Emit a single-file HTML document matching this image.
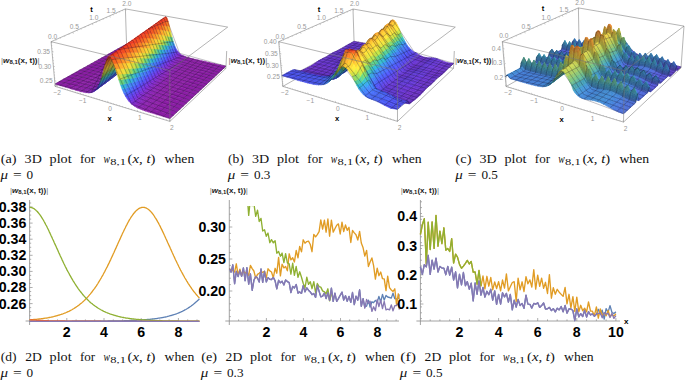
<!DOCTYPE html><html><head><meta charset="utf-8"><style>
*{margin:0;padding:0}
html,body{width:685px;height:380px;overflow:hidden;background:#fff}
body{position:relative;font-family:"Liberation Serif",serif;color:#000}
.cap{position:absolute;font-size:11.2px;line-height:16px;color:#1a1a1a}
.cap .l1{display:flex;justify-content:space-between;white-space:nowrap}
.cap sub{font-size:8px;vertical-align:0;position:relative;top:2.2px}
svg{position:absolute;left:0;top:0}
.t2{font-family:"Liberation Sans",sans-serif;font-weight:bold}
</style></head><body><svg width="685" height="380" viewBox="0 0 685 380"><style>.s path{fill:currentColor;stroke:currentColor;stroke-width:5;stroke-linejoin:round}.s .m{stroke:rgba(20,10,35,.58);stroke-width:4.6;fill:none}</style><path d="M125.4 8.9L126.6 46M55.2 86.4L126.6 46M225.9 68.4L126.6 46" stroke="#777" stroke-width="0.55" fill="none"/>
<g class=s transform="scale(.1)"><path color=#8c1ea6 d=M1237,457l44,10,29-17-44-10z />
<path color=#8c1ea6 d=M1207,473l45,10,29-16-44-10z />
<path color=#8c1ea6 d=M1176,490l45,11,31-18-45-10z />
<path color=#8c1ea6 d=M1145,507l46,11,30-17-45-11z />
<path color=#8c1ea6 d=M1114,525l45,11,32-18-46-11z />
<path color=#8c1ea6 d=M1081,543l46,11,32-18-45-11z />
<path color=#8c1ea6 d=M1048,562l46,11,33-19-46-11z />
<path color=#5050f7 d=M1732,486l13,26,26-9-13-22z />
<path color=#643ee8 d=M1745,512l12,20,26-12-12-17z />
<path color=#4670f5 d=M1719,454l13,32,26-5-12-29z />
<path color=#7231dd d=M1757,532l13,15,26-14-13-13z />
<path color=#379de3 d=M1707,413l12,41,27-2-13-37z />
<path color=#7c2ad1 d=M1770,547l12,11,26-14-12-11z />
<path color=#8327c6 d=M1782,558l13,10,26-16-13-8z />
<path color=#56c88c d=M1694,365l13,48,26,2-12-45z />
<path color=#8624bd d=M1795,568l13,7,26-17-13-6z />
<path color=#8c1ea6 d=M1015,580l46,12,33-19-46-11z />
<path color=#8922b6 d=M1808,575l13,6,25-18-12-5z />
<path color=#d0da3d d=M1681,312l13,53,27,5-13-51z />
<path color=#8a21b2 d=M1821,581l13,5,25-18-13-5z />
<path color=#fcbb2f d=M1669,259l12,53,27,7-12-53z />
<path color=#8b20ae d=M1834,586l12,4,26-18-13-4z />
<path color=#8b20ac d=M1846,590l13,4,26-18-13-4z />
<path color=#f97c24 d=M1656,215l13,44,27,7-13-50z />
<path color=#ef3720 d=M1630,183l13,5,28-7-13-15z />
<path color=#f14c20 d=M1643,188l13,27,27,1-12-35z />
<path color=#8b1faa d=M1859,594l13,4,25-19-12-3z />
<path color=#8c1ea6 d=M1061,592l47,11,33-19-47-11z />
<path color=#5a46f0 d=M1718,520l13,22,26-10-12-20z />
<path color=#4b5ff6 d=M1705,491l13,29,27-8-13-26z />
<path color=#6c37e2 d=M1731,542l12,18,27-13-13-15z />
<path color=#4183f4 d=M1692,454l13,37,27-5-13-32z />
<path color=#8c1fa9 d=M1872,598l13,4,25-19-13-4z />
<path color=#782cd8 d=M1743,560l13,13,26-15-12-11z />
<path color=#8028cb d=M1756,573l13,10,26-15-13-10z />
<path color=#31b6ca d=M1680,410l12,44,27,0-12-41z />
<path color=#8c1fa8 d=M1885,602l13,3,25-19-13-3z />
<path color=#8526c1 d=M1769,583l13,9,26-17-13-7z />
<path color=#91d45c d=M1667,359l13,51,27,3-13-48z />
<path color=#8c1ea6 d=M980,599l47,12,34-19-46-12z />
<path color=#8c1ea7 d=M1898,605l13,3,25-19-13-3z />
<path color=#8823ba d=M1782,592l13,7,26-18-13-6z />
<path color=#8c1ea7 d=M1911,608l14,3,24-19-13-3z />
<path color=#8922b4 d=M1795,599l13,5,26-18-13-5z />
<path color=#f8d935 d=M1654,305l13,54,27,6-13-53z />
<path color=#8a21b0 d=M1808,604l13,5,25-19-12-4z />
<path color=#8c1ea7 d=M1925,611l13,3,24-19-13-3z />
<path color=#fea12a d=M1641,255l13,50,27,7-12-53z />
<path color=#8b20ad d=M1821,609l13,4,25-19-13-4z />
<path color=#8c1ea6 d=M1938,614l13,3,24-19-13-3z />
<path color=#d7301d d=M1602,205l13-6,28-11-13-5z />
<path color=#f66321 d=M1628,217l13,38,28,4-13-44z />
<path color=#8b1fab d=M1834,613l13,4,25-19-13-4z />
<path color=#8c1ea6 d=M1027,611l47,12,34-20-47-11z />
<path color=#8c1ea6 d=M1951,617l13,3,25-19-14-3z />
<path color=#f14020 d=M1615,199l13,18,28-2-13-27z />
<path color=#5050f7 d=M1691,526l12,26,28-10-13-22z />
<path color=#633ee9 d=M1703,552l13,20,27-12-12-18z />
<path color=#8b1fa9 d=M1847,617l13,4,25-19-13-4z />
<path color=#4770f5 d=M1678,494l13,32,27-6-13-29z />
<path color=#8c1ea6 d=M1964,620l13,3,25-19-13-3z />
<path color=#7231dd d=M1716,572l13,15,27-14-13-13z />
<path color=#389be5 d=M1665,453l13,41,27-3-13-37z />
<path color=#7c2ad1 d=M1729,587l13,12,27-16-13-10z />
<path color=#8c1fa8 d=M1860,621l13,3,25-19-13-3z />
<path color=#8c1ea6 d=M1977,623l14,3,24-19-13-3z />
<path color=#8227c6 d=M1742,599l13,10,27-17-13-9z />
<path color=#52c693 d=M1652,405l13,48,27,1-12-44z />
<path color=#8c1ea6 d=M945,619l47,12,35-20-47-12z />
<path color=#8c1ea8 d=M1873,624l13,4,25-20-13-3z />
<path color=#8624be d=M1755,609l13,7,27-17-13-7z />
<path color=#8c1ea6 d=M1991,626l13,4,24-20-13-3z />
<path color=#c9da3e d=M1639,352l13,53,28,5-13-51z />
<path color=#8c1ea7 d=M1886,628l13,3,26-20-14-3z />
<path color=#8823b7 d=M1768,616l13,6,27-18-13-5z />
<path color=#8c1ea6 d=M2004,630l14,3,24-20-14-3z />
<path color=#8a21b2 d=M1781,622l13,6,27-19-13-5z />
<path color=#8c1ea7 d=M1899,631l13,3,26-20-13-3z />
<path color=#8c1ea6 d=M2018,633l13,3,24-20-13-3z />
<path color=#fcc130 d=M1625,299l14,53,28,7-13-54z />
<path color=#8b20af d=M1794,628l13,4,27-19-13-4z />
<path color=#8c1ea7 d=M1912,634l14,3,25-20-13-3z />
<path color=#8c1ea6 d=M2031,636l13,3,24-20-13-3z />
<path color=#b92c19 d=M1574,230l12-15,29-16-13,6z />
<path color=#fa8325 d=M1612,253l13,46,29,6-13-50z />
<path color=#8b20ac d=M1807,632l13,5,27-20-13-4z />
<path color=#8c1ea6 d=M992,631l48,12,34-20-47-12z />
<path color=#8c1ea6 d=M1926,637l13,3,25-20-13-3z />
<path color=#8c1ea6 d=M2044,639l14,3,24-20-14-3z />
<path color=#f25120 d=M1599,223l13,30,29,2-13-38z />
<path color=#f13820 d=M1586,215l13,8,29-6-13-18z />
<path color=#8b1faa d=M1820,637l14,3,26-19-13-4z />
<path color=#8c1ea6 d=M1939,640l14,3,24-20-13-3z />
<path color=#5a47f0 d=M1676,560l13,23,27-11-13-20z />
<path color=#4b5ff6 d=M1663,531l13,29,27-8-12-26z />
<path color=#8c1ea6 d=M2058,642l14,3,23-20-13-3z />
<path color=#6b38e3 d=M1689,583l13,18,27-14-13-15z />
<path color=#4282f4 d=M1649,495l14,36,28-5-13-32z />
<path color=#8c1fa9 d=M1834,640l13,4,26-20-13-3z />
<path color=#772dd8 d=M1702,601l13,13,27-15-13-12z />
<path color=#8c1ea6 d=M1953,643l13,4,25-21-14-3z />
<path color=#2fb5cf d=M1636,451l13,44,29-1-13-41z />
<path color=#7f29cc d=M1715,614l13,11,27-16-13-10z />
<path color=#8c1ea6 d=M909,639l48,12,35-20-47-12z />
<path color=#8c1fa8 d=M1847,644l13,4,26-20-13-4z />
<path color=#8c1ea6 d=M1966,647l13,3,25-20-13-4z />
<path color=#8426c2 d=M1728,625l13,9,27-18-13-7z />
<path color=#88d262 d=M1623,400l13,51,29,2-13-48z />
<path color=#8c1ea7 d=M1860,648l13,3,26-20-13-3z />
<path color=#8c1ea6 d=M2072,645l54,12,24-20-55-12z />
<path color=#8724ba d=M1741,634l13,7,27-19-13-6z />
<path color=#8c1ea6 d=M1979,650l14,3,25-20-14-3z />
<path color=#8c1ea6 d=M1040,643l48,12,34-20-48-12z />
<path color=#f1da37 d=M1610,346l13,54,29,5-13-53z />
<path color=#8c1ea7 d=M1873,651l14,3,25-20-13-3z />
<path color=#8922b5 d=M1754,641l13,6,27-19-13-6z />
<path color=#8c1ea6 d=M1993,653l14,3,24-20-13-3z />
<path color=#8a21b1 d=M1767,647l13,5,27-20-13-4z />
<path color=#8c1ea7 d=M1887,654l13,3,26-20-14-3z />
<path color=#8c1ea6 d=M2007,656l13,3,24-20-13-3z />
<path color=#ffa82b d=M1596,295l14,51,29,6-14-53z />
<path color=#8b20ad d=M1780,652l14,4,26-19-13-5z />
<path color=#8c1ea6 d=M957,651l48,13,35-21-48-12z />
<path color=#8c1ea7 d=M1900,657l14,4,25-21-13-3z />
<path color=#8c1ea6 d=M2020,659l14,3,24-20-14-3z />
<path color=#f76921 d=M1583,255l13,40,29,4-13-46z />
<path color=#e3331e d=M1557,235l13-1,29-11-13-8z />
<path color=#8b1fab d=M1794,656l13,4,27-20-14-3z />
<path color=#8c1ea6 d=M1914,661l13,3,26-21-14-3z />
<path color=#f14320 d=M1570,234l13,21,29-2-13-30z />
<path color=#8c1ea6 d=M2126,657l56,13,23-21-55-12z />
<path color=#8c1ea6 d=M2034,662l13,3,25-20-14-3z />
<path color=#5050f8 d=M1647,568l13,25,29-10-13-23z />
<path color=#633fe9 d=M1660,593l14,21,28-13-13-18z />
<path color=#8b1faa d=M1807,660l13,4,27-20-13-4z />
<path color=#476ff5 d=M1634,535l13,33,29-8-13-29z />
<path color=#8c1ea6 d=M1927,664l14,3,25-20-13-4z />
<path color=#7132de d=M1674,614l13,15,28-15-13-13z />
<path color=#3999e6 d=M1621,495l13,40,29-4-14-36z />
<path color=#7b2bd2 d=M1687,629l13,13,28-17-13-11z />
<path color=#8c1ea6 d=M873,659l47,13,37-21-48-12z />
<path color=#8c1fa9 d=M1820,664l14,4,26-20-13-4z />
<path color=#8c1ea6 d=M1941,667l13,3,25-20-13-3z />
<path color=#4fc599 d=M1607,447l14,48,28,0-13-44z />
<path color=#8227c7 d=M1700,642l13,9,28-17-13-9z />
<path color=#8c1ea8 d=M1834,668l13,3,26-20-13-3z />
<path color=#8c1ea6 d=M2047,665l56,13,23-21-54-12z />
<path color=#8625be d=M1713,651l13,8,28-18-13-7z />
<path color=#8c1ea6 d=M1954,670l14,3,25-20-14-3z />
<path color=#8c1ea6 d=M1005,664l48,12,35-21-48-12z />
<path color=#c4da3f d=M1594,394l13,53,29,4-13-51z />
<path color=#8c1ea7 d=M1847,671l14,4,26-21-14-3z />
<path color=#8823b8 d=M1726,659l14,7,27-19-13-6z />
<path color=#8c1ea6 d=M1968,673l14,4,25-21-14-3z />
<path color=#8c1ea6 d=M2182,670l56,12,22-21-55-12z />
<path color=#8921b3 d=M1740,666l13,5,27-19-13-5z />
<path color=#8c1ea7 d=M1861,675l13,3,26-21-13-3z />
<path color=#fcc631 d=M1580,341l14,53,29,6-13-54z />
<path color=#8c1ea6 d=M1982,677l13,3,25-21-13-3z />
<path color=#8a20af d=M1753,671l13,5,28-20-14-4z />
<path color=#8c1ea6 d=M920,672l49,12,36-20-48-13z />
<path color=#8c1ea7 d=M1874,678l14,3,26-20-14-4z />
<path color=#8c1ea6 d=M1995,680l14,3,25-21-14-3z />
<path color=#fb8a26 d=M1567,293l13,48,30,5-14-51z />
<path color=#c32d1a d=M1527,260l13-11,30-15-13,1z />
<path color=#8b20ac d=M1766,676l14,5,27-21-13-4z />
<path color=#8c1ea6 d=M1888,681l13,4,26-21-13-3z />
<path color=#8c1ea6 d=M2103,678l56,13,23-21-56-13z />
<path color=#8c1ea6 d=M2009,683l14,3,24-21-13-3z />
<path color=#f35620 d=M1553,260l14,33,29,2-13-40z />
<path color=#f13a20 d=M1540,249l13,11,30-5-13-21z />
<path color=#8b1fab d=M1780,681l13,4,27-21-13-4z />
<path color=#8c1ea6 d=M1901,685l14,3,26-21-14-3z />
<path color=#5a47f0 d=M1631,603l14,23,29-12-14-21z />
<path color=#4b5ff6 d=M1618,573l13,30,29-10-13-25z />
<path color=#6a38e3 d=M1645,626l13,18,29-15-13-15z />
<path color=#4282f4 d=M1605,537l13,36,29-5-13-33z />
<path color=#8c1ea6 d=M836,680l47,13,37-21-47-13z />
<path color=#8b1fa9 d=M1793,685l14,4,27-21-14-4z />
<path color=#772dd9 d=M1658,644l13,14,29-16-13-13z />
<path color=#8c1ea6 d=M1915,688l13,3,26-21-13-3z />
<path color=#2db4d2 d=M1591,493l14,44,29-2-13-40z />
<path color=#7f29cd d=M1671,658l14,11,28-18-13-9z />
<path color=#8c1fa8 d=M1807,689l13,3,27-21-13-3z />
<path color=#8c1ea6 d=M2023,686l55,13,25-21-56-13z />
<path color=#8c1ea6 d=M1928,691l14,3,26-21-14-3z />
<path color=#8c1ea6 d=M969,684l48,13,36-21-48-12z />
<path color=#8426c3 d=M1685,669l13,9,28-19-13-8z />
<path color=#80d168 d=M1577,443l14,50,30,2-14-48z />
<path color=#8c1ea8 d=M1820,692l14,4,27-21-14-4z />
<path color=#8724bb d=M1698,678l13,7,29-19-14-7z />
<path color=#8c1ea6 d=M1942,694l14,4,26-21-14-4z />
<path color=#8c1ea6 d=M2159,691l56,13,23-22-56-12z />
<path color=#ebda38 d=M1564,389l13,54,30,4-13-53z />
<path color=#8c1ea7 d=M1834,696l13,3,27-21-13-3z />
<path color=#8922b5 d=M1711,685l14,6,28-20-13-5z />
<path color=#8c1ea6 d=M1956,698l14,3,25-21-13-3z />
<path color=#8c1ea6 d=M1017,697l13,3,35-21-12-3z />
<path color=#8a21b1 d=M1725,691l13,6,28-21-13-5z />
<path color=#8c1ea6 d=M883,693l49,13,37-22-49-12z />
<path color=#8c1ea7 d=M1847,699l14,4,27-22-14-3z />
<path color=#fead2c d=M1550,337l14,52,30,5-14-53z />
<path color=#8c1ea6 d=M1970,701l14,3,25-21-14-3z />
<path color=#8b1ea6 d=M1030,700l12,3,36-21-13-3z />
<path color=#8b20ae d=M1738,697l14,4,28-20-14-5z />
<path color=#8c1ea7 d=M1861,703l14,3,26-21-13-4z />
<path color=#8c1ea6 d=M2078,699l57,13,24-21-56-13z />
<path color=#8c1ea6 d=M1984,704l14,4,25-22-14-3z />
<path color=#f86f22 d=M1536,295l14,42,30,4-13-48z />
<path color=#ec3520 d=M1510,268l13,2,30-10-13-11z />
<path color=#8b1fac d=M1752,701l13,5,28-21-13-4z />
<path color=#f14720 d=M1523,270l13,25,31-2-14-33z />
<path color=#8c1ea6 d=M1875,706l13,3,27-21-14-3z />
<path color=#5051f8 d=M1602,611l13,26,30-11-14-23z />
<path color=#8c1ea6 d=M797,701l48,13,38-21-47-13z />
<path color=#8b1faa d=M1765,706l14,4,28-21-14-4z />
<path color=#6240ea d=M1615,637l14,20,29-13-13-18z />
<path color=#476ff5 d=M1588,578l14,33,29-8-13-30z />
<path color=#8c1ea6 d=M1888,709l14,4,26-22-13-3z />
<path color=#7133de d=M1629,657l13,16,29-15-13-14z />
<path color=#3998e7 d=M1575,538l13,40,30-5-13-36z />
<path color=#7b2bd3 d=M1642,673l14,13,29-17-14-11z />
<path color=#8c1fa9 d=M1779,710l14,4,27-22-13-3z />
<path color=#8c1ea6 d=M1998,708l56,13,24-22-55-13z />
<path color=#8c1ea6 d=M1902,713l14,3,26-22-14-3z />
<path color=#8c1ea6 d=M932,706l49,13,36-22-48-13z />
<path color=#4cc39e d=M1561,490l14,48,30-1-14-44z />
<path color=#8128c8 d=M1656,686l13,10,29-18-13-9z />
<path color=#8c1fa8 d=M1793,714l13,3,28-21-14-4z />
<path color=#8c1ea6 d=M1916,716l14,3,26-21-14-4z />
<path color=#8525bf d=M1669,696l14,8,28-19-13-7z />
<path color=#8c1ea6 d=M2135,712l57,13,23-21-56-13z />
<path color=#beda40 d=M1547,438l14,52,30,3-14-50z />
<path color=#8c1ea7 d=M1806,717l14,4,27-22-13-3z />
<path color=#8823b8 d=M1683,704l13,7,29-20-14-6z />
<path color=#8c1ea6 d=M1930,719l14,4,26-22-14-3z />
<path color=#8c1ea6 d=M981,719l12,3,37-22-13-3z />
<path color=#fccb32 d=M1533,384l14,54,30,5-13-54z />
<path color=#8c1ea6 d=M845,714l49,14,38-22-49-13z />
<path color=#8922b3 d=M1696,711l14,6,28-20-13-6z />
<path color=#8c1ea7 d=M1820,721l14,3,27-21-14-4z />
<path color=#8c1ea6 d=M1944,723l14,3,26-22-14-3z />
<path color=#8b1ea6 d=M993,722l13,3,36-22-12-3z />
<path color=#8a21b0 d=M1710,717l13,5,29-21-14-4z />
<path color=#8c1ea7 d=M1834,724l14,4,27-22-14-3z />
<path color=#8c1ea6 d=M2054,721l57,13,24-22-57-13z />
<path color=#fc9127 d=M1519,335l14,49,31,5-14-52z />
<path color=#8c1ea6 d=M1958,726l14,3,26-21-14-4z />
<path color=#d02f1c d=M1479,292l13-7,31-15-13-2z />
<path color=#8b1ea6 d=M1006,725l12,3,36-21-12-4z />
<path color=#8b20ad d=M1723,722l14,5,28-21-13-5z />
<path color=#8c1ea7 d=M1848,728l13,3,27-22-13-3z />
<path color=#f45b21 d=M1505,300l14,35,31,2-14-42z />
<path color=#f13d20 d=M1492,285l13,15,31-5-13-25z />
<path color=#8c1ea6 d=M758,723l49,13,38-22-48-13z />
<path color=#8b1fab d=M1737,727l14,4,28-21-14-4z />
<path color=#8b1ea6 d=M1018,728l13,4,36-22-13-3z />
<path color=#8c1ea6 d=M1861,731l14,4,27-22-14-4z />
<path color=#5948f1 d=M1585,647l14,23,30-13-14-20z />
<path color=#4b5ff7 d=M1571,618l14,29,30-10-13-26z />
<path color=#6a39e4 d=M1599,670l13,19,30-16-13-16z />
<path color=#4281f4 d=M1558,581l13,37,31-7-14-33z />
<path color=#8b1fa9 d=M1751,731l13,4,29-21-14-4z />
<path color=#8c1ea6 d=M1972,729l56,14,26-22-56-13z />
<path color=#762eda d=M1612,689l14,14,30-17-14-13z />
<path color=#8c1ea6 d=M1875,735l14,3,27-22-14-3z />
<path color=#8c1ea6 d=M894,728l50,13,37-22-49-13z />
<path color=#2eb2d3 d=M1544,537l14,44,30-3-13-40z />
<path color=#7e29ce d=M1626,703l14,11,29-18-13-10z />
<path color=#8c1fa8 d=M1764,735l14,4,28-22-13-3z />
<path color=#8c1ea6 d=M1889,738l14,3,27-22-14-3z />
<path color=#8c1ea6 d=M2111,734l57,14,24-23-57-13z />
<path color=#79d16c d=M1530,487l14,50,31,1-14-48z />
<path color=#8326c4 d=M1640,714l13,10,30-20-14-8z />
<path color=#8c1ea8 d=M1778,739l14,4,28-22-14-4z />
<path color=#8624bc d=M1653,724l14,7,29-20-13-7z />
<path color=#8c1ea6 d=M1903,741l14,4,27-22-14-4z />
<path color=#e5da39 d=M1516,433l14,54,31,3-14-52z />
<path color=#8c1ea6 d=M944,741l12,3,37-22-12-3z />
<path color=#8c1ea6 d=M807,736l49,14,38-22-49-14z />
<path color=#8c1ea7 d=M1792,743l14,3,28-22-14-3z />
<path color=#8822b6 d=M1667,731l14,7,29-21-14-6z />
<path color=#8c1ea6 d=M1917,745l14,3,27-22-14-3z />
<path color=#8b1ea6 d=M956,744l12,4,38-23-13-3z />
<path color=#8a21b2 d=M1681,738l13,5,29-21-13-5z />
<path color=#feb22d d=M1501,380l15,53,31,5-14-54z />
<path color=#8c1ea7 d=M1806,746l14,4,28-22-14-4z />
<path color=#8c1ea6 d=M2028,743l58,14,25-23-57-13z />
<path color=#8c1ea6 d=M1931,748l14,4,27-23-14-3z />
<path color=#b72c18 d=M1447,320l13-16,32-19-13,7z />
<path color=#8b1ea6 d=M968,748l13,3,37-23-12-3z />
<path color=#8a20ae d=M1694,743l14,6,29-22-14-5z />
<path color=#8c1ea7 d=M1820,750l14,4,27-23-13-3z />
<path color=#f97623 d=M1487,337l14,43,32,4-14-49z />
<path color=#ef3620 d=M1460,304l13,5,32-9-13-15z />
<path color=#8c1ea6 d=M718,745l49,14,40-23-49-13z />
<path color=#f24b20 d=M1473,309l14,28,32-2-14-35z />
<path color=#8b20ac d=M1708,749l14,4,29-22-14-4z />
<path color=#8b1ea6 d=M981,751l13,3,37-22-13-4z />
<path color=#8c1ea6 d=M1834,754l14,3,27-22-14-4z />
<path color=#4f51f8 d=M1554,656l14,26,31-12-14-23z />
<path color=#8b1faa d=M1722,753l14,4,28-22-13-4z />
<path color=#8c1ea6 d=M1945,752l58,14,25-23-56-14z />
<path color=#6240ea d=M1568,682l14,21,30-14-13-19z />
<path color=#476ff5 d=M1540,623l14,33,31-9-14-29z />
<path color=#8a1ea6 d=M994,754l12,3,37-22-12-3z />
<path color=#8c1ea6 d=M856,750l49,14,39-23-50-13z />
<path color=#8c1ea6 d=M1848,757l14,4,27-23-14-3z />
<path color=#7033df d=M1582,703l14,16,30-16-14-14z />
<path color=#3a97e8 d=M1526,583l14,40,31-5-13-37z />
<path color=#7a2bd4 d=M1596,719l13,14,31-19-14-11z />
<path color=#8b1fa9 d=M1736,757l14,4,28-22-14-4z />
<path color=#8a1ea7 d=M1006,757l13,3,37-22-13-3z />
<path color=#8c1ea6 d=M1862,761l14,3,27-23-14-3z />
<path color=#49c2a2 d=M1512,536l14,47,32-2-14-44z />
<path color=#8c1ea6 d=M2086,757l58,13,24-22-57-14z />
<path color=#8128c9 d=M1609,733l14,10,30-19-13-10z />
<path color=#8c1fa8 d=M1750,761l13,4,29-22-14-4z />
<path color=#8c1ea6 d=M1876,764l14,4,27-23-14-4z />
<path color=#8525c0 d=M1623,743l14,9,30-21-14-7z />
<path color=#bada41 d=M1498,483l14,53,32,1-14-50z />
<path color=#8c1ea6 d=M905,764l13,3,38-23-12-3z />
<path color=#8c1ea6 d=M767,759l49,14,40-23-49-14z />
<path color=#8c1ea8 d=M1763,765l14,4,29-23-14-3z />
<path color=#8723b9 d=M1637,752l14,7,30-21-14-7z />
<path color=#8c1ea6 d=M1890,768l14,3,27-23-14-3z />
<path color=#fbcf33 d=M1483,429l15,54,32,4-14-54z />
<path color=#8b1ea6 d=M918,767l12,3,38-22-12-4z />
<path color=#8c1ea7 d=M1777,769l14,4,29-23-14-4z />
<path color=#8922b4 d=M1651,759l13,6,30-22-13-5z />
<path color=#8c1ea6 d=M2003,766l57,13,26-22-58-14z />
<path color=#8c1ea6 d=M1904,771l15,4,26-23-14-4z />
<path color=#8b1ea6 d=M930,770l13,4,38-23-13-3z />
<path color=#8a21b0 d=M1664,765l14,5,30-21-14-6z />
<path color=#fd9728 d=M1469,379l14,50,33,4-15-53z />
<path color=#8c1ea7 d=M1791,773l15,3,28-22-14-4z />
<path color=#dc311e d=M1428,327l13-4,32-14-13-5z />
<path color=#8c1ea6 d=M678,768l49,14,40-23-49-14z />
<path color=#8b1ea6 d=M943,774l13,3,38-23-13-3z />
<path color=#8b20ad d=M1678,770l14,5,30-22-14-4z />
<path color=#f55f21 d=M1455,342l14,37,32,1-14-43z />
<path color=#8c1ea7 d=M1806,776l14,4,28-23-14-3z />
<path color=#f14020 d=M1441,323l14,19,32-5-14-28z />
<path color=#8c1ea6 d=M1919,775l57,14,27-23-58-14z />
<path color=#8b1fab d=M1692,775l14,5,30-23-14-4z />
<path color=#8b1ea6 d=M956,777l12,3,38-23-12-3z />
<path color=#8c1ea6 d=M816,773l50,14,39-23-49-14z />
<path color=#8c1ea6 d=M1820,780l14,4,28-23-14-4z />
<path color=#4b60f7 d=M1523,664l14,29,31-11-14-26z />
<path color=#5848f2 d=M1537,693l14,24,31-14-14-21z />
<path color=#693ae5 d=M1551,717l13,18,32-16-14-16z />
<path color=#4281f4 d=M1508,627l15,37,31-8-14-33z />
<path color=#8b1faa d=M1706,780l14,4,30-23-14-4z />
<path color=#8a1ea7 d=M968,780l13,3,38-23-13-3z />
<path color=#752eda d=M1564,735l14,15,31-17-13-14z />
<path color=#8c1ea6 d=M1834,784l14,3,28-23-14-3z />
<path color=#8c1ea6 d=M2060,779l59,15,25-24-58-13z />
<path color=#2fb1d5 d=M1494,583l14,44,32-4-14-40z />
<path color=#7d2acf d=M1578,750l14,12,31-19-14-10z />
<path color=#8c1fa9 d=M1720,784l14,4,29-23-13-4z />
<path color=#891ea7 d=M981,783l13,3,37-23-12-3z />
<path color=#8c1ea6 d=M1848,787l14,4,28-23-14-4z />
<path color=#73d071 d=M1480,533l14,50,32,0-14-47z />
<path color=#8327c5 d=M1592,762l14,10,31-20-14-9z />
<path color=#8c1ea6 d=M866,787l13,3,39-23-13-3z />
<path color=#8c1ea6 d=M727,782l49,14,40-23-49-14z />
<path color=#8c1fa8 d=M1734,788l14,4,29-23-14-4z />
<path color=#881fa7 d=M994,786l13,3,37-23-13-3z />
<path color=#8624bd d=M1606,772l14,8,31-21-14-7z />
<path color=#8c1ea6 d=M1862,791l15,3,27-23-14-3z />
<path color=#dfda3a d=M1465,479l15,54,32,3-14-53z />
<path color=#8b1ea6 d=M879,790l13,4,38-24-12-3z />
<path color=#8c1ea7 d=M1748,792l14,4,29-23-14-4z />
<path color=#8823b7 d=M1620,780l14,7,30-22-13-6z />
<path color=#8c1ea6 d=M1976,789l58,14,26-24-57-13z />
<path color=#871fa7 d=M1007,789l12,3,38-24-13-2z />
<path color=#8c1ea6 d=M1877,794l14,4,28-23-15-4z />
<path color=#feb72e d=M1450,426l15,53,33,4-15-54z />
<path color=#8b1ea6 d=M892,794l12,3,39-23-13-4z />
<path color=#8921b2 d=M1634,787l14,6,30-23-14-5z />
<path color=#8c1ea7 d=M1762,796l15,4,29-24-15-3z />
<path color=#c02d1a d=M1395,354l13-13,33-18-13,4z />
<path color=#8c1ea6 d=M636,791l49,15,42-24-49-14z />
<path color=#8b1ea6 d=M904,797l13,4,39-24-13-3z />
<path color=#8a20af d=M1648,793l14,5,30-23-14-5z />
<path color=#f97c24 d=M1436,381l14,45,33,3-14-50z />
<path color=#8c1ea7 d=M1777,800l14,3,29-23-14-4z />
<path color=#f13820 d=M1408,341l14,10,33-9-14-19z />
<path color=#f24f20 d=M1422,351l14,30,33-2-14-37z />
<path color=#8c1ea6 d=M1891,798l58,14,27-23-57-14z />
<path color=#8b20ac d=M1662,798l14,5,30-23-14-5z />
<path color=#8b1ea6 d=M917,801l13,3,38-24-12-3z />
<path color=#8c1ea6 d=M776,796l50,14,40-23-50-14z />
<path color=#8c1ea7 d=M1791,803l14,4,29-23-14-4z />
<path color=#4f52f8 d=M1504,703l14,27,33-13-14-24z />
<path color=#8b1fab d=M1676,803l14,4,30-23-14-4z />
<path color=#4770f6 d=M1490,670l14,33,33-10-14-29z />
<path color=#6141eb d=M1518,730l15,21,31-16-13-18z />
<path color=#8a1ea7 d=M930,804l13,3,38-24-13-3z />
<path color=#8c1ea6 d=M1805,807l14,4,29-24-14-3z />
<path color=#8c1ea6 d=M2034,803l59,14,26-23-59-15z />
<path color=#6f34e0 d=M1533,751l14,17,31-18-14-15z />
<path color=#3a97e9 d=M1476,630l14,40,33-6-15-37z />
<path color=#792cd5 d=M1547,768l14,13,31-19-14-12z />
<path color=#8b1fa9 d=M1690,807l14,5,30-24-14-4z />
<path color=#891ea7 d=M943,807l12,3,39-24-13-3z />
<path color=#8c1ea6 d=M1819,811l15,4,28-24-14-4z />
<path color=#47c1a6 d=M1461,583l15,47,32-3-14-44z />
<path color=#4533b0 d=M1159,753l12-13,36-29-12,14z />
<path color=#8028ca d=M1561,781l14,11,31-20-14-10z />
<path color=#8c1ea6 d=M826,810l13,4,40-24-13-3z />
<path color=#8c1ea6 d=M685,806l50,14,41-24-49-14z />
<path color=#8c1fa8 d=M1704,812l15,4,29-24-14-4z />
<path color=#891fa7 d=M955,810l13,3,39-24-13-3z />
<path color=#8c1ea6 d=M1834,815l14,3,29-24-15-3z />
<path color=#b3d946 d=M1446,530l15,53,33,0-14-50z />
<path color=#8425c1 d=M1575,792l14,9,31-21-14-8z />
<path color=#8b1ea6 d=M839,814l13,4,40-24-13-4z />
<path color=#8c1ea8 d=M1719,816l14,4,29-24-14-4z />
<path color=#8c1ea6 d=M1949,812l59,15,26-24-58-14z />
<path color=#8723ba d=M1589,801l14,8,31-22-14-7z />
<path color=#871fa7 d=M968,813l13,3,38-24-12-3z />
<path color=#8c1ea6 d=M1848,818l15,4,28-24-14-4z />
<path color=#fbd334 d=M1431,476l15,54,34,3-15-54z />
<path color=#8b1ea6 d=M852,818l13,3,39-24-12-3z />
<path color=#8c1ea7 d=M1733,820l14,4,30-24-15-4z />
<path color=#8922b5 d=M1603,809l14,6,31-22-14-6z />
<path color=#861fa8 d=M981,816l13,2,38-24-13-2z />
<path color=#8c1ea6 d=M593,815l50,15,42-24-49-15z />
<path color=#fe9d29 d=M1416,425l15,51,34,3-15-53z />
<path color=#8b1ea6 d=M865,821l12,4,40-24-13-4z />
<path color=#8a21b1 d=M1617,815l14,6,31-23-14-5z />
<path color=#8c1ea7 d=M1747,824l14,3,30-24-14-3z />
<path color=#831fa8 d=M994,818l13,2,38-24-13-2z />
<path color=#e6331f d=M1374,364l14,0,34-13-14-10z />
<path color=#f76421 d=M1402,386l14,39,34,1-14-45z />
<path color=#8c1ea6 d=M1863,822l58,15,28-25-58-14z />
<path color=#8b1ea6 d=M877,825l13,3,40-24-13-3z />
<path color=#8a20ae d=M1631,821l14,5,31-23-14-5z />
<path color=#8c1ea6 d=M735,820l51,15,40-25-50-14z />
<path color=#8c1ea7 d=M1761,827l15,4,29-24-14-4z />
<path color=#f14320 d=M1388,364l14,22,34-5-14-30z />
<path color=#8b20ac d=M1645,826l14,5,31-24-14-4z />
<path color=#8a1ea7 d=M890,828l13,3,40-24-13-3z />
<path color=#8c1ea6 d=M1776,831l14,4,29-24-14-4z />
<path color=#8c1ea6 d=M2008,827l59,15,26-25-59-14z />
<path color=#4b61f7 d=M1471,712l15,30,32-12-14-27z />
<path color=#5849f2 d=M1486,742l14,24,33-15-15-21z />
<path color=#683be6 d=M1500,766l14,19,33-17-14-17z />
<path color=#4281f5 d=M1457,675l14,37,33-9-14-33z />
<path color=#8b1faa d=M1659,831l15,4,30-23-14-5z />
<path color=#4930b0 d=M1122,780l13-11,36-29-12,13z />
<path color=#8a1ea7 d=M903,831l13,4,39-25-12-3z />
<path color=#742fdb d=M1514,785l14,15,33-19-14-13z />
<path color=#8c1ea6 d=M1790,835l15,4,29-24-15-4z />
<path color=#2fb0d6 d=M1442,631l15,44,33-5-14-40z />
<path color=#8c1ea6 d=M786,835l12,3,41-24-13-4z />
<path color=#7c2ad0 d=M1528,800l14,12,33-20-14-11z />
<path color=#8c1ea6 d=M643,830l50,15,42-25-50-14z />
<path color=#8b1fa9 d=M1674,835l14,5,31-24-15-4z />
<path color=#891fa7 d=M916,835l13,3,39-25-13-3z />
<path color=#6ecf74 d=M1427,581l15,50,34-1-15-47z />
<path color=#8c1ea6 d=M1805,839l14,4,29-25-14-3z />
<path color=#8227c6 d=M1542,812l15,11,32-22-14-9z />
<path color=#8b1ea6 d=M798,838l13,4,41-24-13-4z />
<path color=#3a3ab3 d=M1135,769l12-17,37-30-13,18z />
<path color=#8c1fa8 d=M1688,840l14,4,31-24-14-4z />
<path color=#8c1ea6 d=M1921,837l60,15,27-25-59-15z />
<path color=#881fa7 d=M929,838l13,2,39-24-13-3z />
<path color=#8525be d=M1557,823l14,8,32-22-14-8z />
<path color=#8c1ea6 d=M1819,843l15,3,29-24-15-4z />
<path color=#dbda3b d=M1412,527l15,54,34,2-15-53z />
<path color=#8b1ea6 d=M811,842l13,4,41-25-13-3z />
<path color=#8c1ea8 d=M1702,844l15,4,30-24-14-4z />
<path color=#8823b8 d=M1571,831l14,7,32-23-14-6z />
<path color=#861fa8 d=M942,840l13,3,39-25-13-2z />
<path color=#fdbb2f d=M1397,473l15,54,34,3-15-54z />
<path color=#8c1ea6 d=M550,840l49,15,44-25-50-15z />
<path color=#8b1ea6 d=M824,846l13,3,40-24-12-4z />
<path color=#8922b3 d=M1585,838l14,6,32-23-14-6z />
<path color=#8c1ea7 d=M1717,848l14,4,30-25-14-3z />
<path color=#334cad d=M1147,752l13-21,36-33-12,24z />
<path color=#841fa8 d=M955,843l13,2,39-25-13-2z />
<path color=#cb2e1b d=M1340,390l13-9,35-17-14,0z />
<path color=#fa8225 d=M1382,427l15,46,34,3-15-51z />
<path color=#8c1ea6 d=M1834,846l59,15,28-24-58-15z />
<path color=#8b1ea6 d=M837,849l13,4,40-25-13-3z />
<path color=#8a21af d=M1599,844l15,6,31-24-14-5z />
<path color=#8c1ea6 d=M693,845l51,15,42-25-51-15z />
<path color=#8c1ea7 d=M1731,852l15,4,30-25-15-4z />
<path color=#f35320 d=M1367,394l15,33,34-2-14-39z />
<path color=#f13a20 d=M1353,381l14,13,35-8-14-22z />
<path color=#8120a9 d=M968,845l13,2,39-26-13-1z />
<path color=#8b20ad d=M1614,850l14,5,31-24-14-5z />
<path color=#8a1ea7 d=M850,853l13,3,40-25-13-3z />
<path color=#8c1ea7 d=M1746,856l14,4,30-25-14-4z />
<path color=#8c1ea6 d=M1981,852l60,15,26-25-59-15z />
<path color=#2a62a5 d=M1160,731l12-29,36-35-12,31z />
<path color=#7d20aa d=M981,847l13,0,39-25-13-1z />
<path color=#4e2eb0 d=M1085,808l12-10,38-29-13,11z />
<path color=#4f53f8 d=M1452,752l14,27,34-13-14-24z />
<path color=#8b1fab d=M1628,855l14,5,32-25-15-4z />
<path color=#4770f6 d=M1437,719l15,33,34-10-15-30z />
<path color=#8a1ea7 d=M863,856l13,3,40-24-13-4z />
<path color=#6042ec d=M1466,779l15,22,33-16-14-19z />
<path color=#8c1ea6 d=M1760,860l15,4,30-25-15-4z />
<path color=#6e35e1 d=M1481,801l14,17,33-18-14-15z />
<path color=#3a97e9 d=M1422,679l15,40,34-7-14-37z />
<path color=#8c1ea6 d=M744,860l13,3,41-25-12-3z />
<path color=#8c1ea6 d=M599,855l51,15,43-25-50-15z />
<path color=#782cd6 d=M1495,818l14,14,33-20-14-12z />
<path color=#8b1faa d=M1642,860l15,4,31-24-14-5z />
<path color=#891fa7 d=M876,859l13,4,40-25-13-3z />
<path color=#45c1a9 d=M1407,632l15,47,35-4-15-44z />
<path color=#8c1ea6 d=M1775,864l15,4,29-25-14-4z />
<path color=#7f28cb d=M1509,832l15,12,33-21-15-11z />
<path color=#3f37b2 d=M1097,798l13-15,37-31-12,17z />
<path color=#8c1ea6 d=M757,863l12,4,42-25-13-4z />
<path color=#8c1fa9 d=M1657,864l14,5,31-25-14-4z />
<path color=#8c1ea6 d=M1893,861l60,16,28-25-60-15z />
<path color=#881fa7 d=M889,863l13,3,40-26-13-2z />
<path color=#acd94a d=M1392,579l15,53,35-1-15-50z />
<path color=#8c1ea6 d=M1790,868l14,3,30-25-15-3z />
<path color=#8426c2 d=M1524,844l14,9,33-22-14-8z />
<path color=#8b1ea6 d=M769,867l13,4,42-25-13-4z />
<path color=#8c1fa8 d=M1671,869l15,4,31-25-15-4z />
<path color=#8624bb d=M1538,853l14,8,33-23-14-7z />
<path color=#861fa8 d=M902,866l13,2,40-25-13-3z />
<path color=#fbd734 d=M1377,525l15,54,35,2-15-54z />
<path color=#3546af d=M1110,783l12-20,38-32-13,21z />
<path color=#8b1ea6 d=M782,871l13,3,42-25-13-3z />
<path color=#8c1ea7 d=M1686,873l14,4,31-25-14-4z />
<path color=#8822b5 d=M1552,861l15,7,32-24-14-6z />
<path color=#841fa8 d=M915,868l13,3,40-26-13-2z />
<path color=#ffa32a d=M1361,473l16,52,35,2-15-54z />
<path color=#8c1ea6 d=M1804,871l60,16,29-26-59-15z />
<path color=#8b1ea6 d=M795,874l13,4,42-25-13-4z />
<path color=#8a21b1 d=M1567,868l14,6,33-24-15-6z />
<path color=#8c1ea6 d=M650,870l51,15,43-25-51-15z />
<path color=#8c1ea7 d=M1700,877l15,4,31-25-15-4z />
<path color=#8220a9 d=M928,871l13,1,40-25-13-2z />
<path color=#f86a21 d=M1346,432l15,41,36,0-15-46z />
<path color=#ec3520 d=M1318,403l14,4,35-13-14-13z />
<path color=#8a1ea7 d=M808,878l13,4,42-26-13-3z />
<path color=#8a20ae d=M1581,874l15,6,32-25-14-5z />
<path color=#2e5aaa d=M1122,763l13-26,37-35-12,29z />
<path color=#f24620 d=M1332,407l14,25,36-5-15-33z />
<path color=#8c1ea7 d=M1715,881l15,4,30-25-14-4z />
<path color=#8c1ea6 d=M1953,877l60,15,28-25-60-15z />
<path color=#522cb0 d=M1046,836l13-9,38-29-12,10z />
<path color=#7e20aa d=M941,872l13,1,40-26-13,0z />
<path color=#8b20ac d=M1596,880l14,5,32-25-14-5z />
<path color=#8a1ea7 d=M821,882l13,3,42-26-13-3z />
<path color=#8c1ea7 d=M1730,885l14,4,31-25-15-4z />
<path color=#4b62f7 d=M1417,762l15,30,34-13-14-27z />
<path color=#574af3 d=M1432,792l15,25,34-16-15-22z />
<path color=#8c1ea6 d=M701,885l13,4,43-26-13-3z />
<path color=#4282f5 d=M1402,725l15,37,35-10-15-33z />
<path color=#673ce6 d=M1447,817l14,19,34-18-14-17z />
<path color=#7921ab d=M954,873l13,0,40-26-13,0z />
<path color=#8b1faa d=M1610,885l15,4,32-25-15-4z />
<path color=#891ea7 d=M834,885l14,3,41-25-13-4z />
<path color=#7330dc d=M1461,836l15,16,33-20-14-14z />
<path color=#8c1ea6 d=M1744,889l15,4,31-25-15-4z />
<path color=#30afd6 d=M1387,681l15,44,35-6-15-40z />
<path color=#4434b1 d=M1059,827l13-13,38-31-13,15z />
<path color=#217793 d=M1135,737l12-32,37-38-12,35z />
<path color=#8c1ea6 d=M714,889l13,4,42-26-12-4z />
<path color=#7c2ad1 d=M1476,852l14,13,34-21-15-12z />
<path color=#8b1fa9 d=M1625,889l14,5,32-25-14-5z />
<path color=#8c1ea6 d=M1864,887l60,16,29-26-60-16z />
<path color=#6acf77 d=M1372,631l15,50,35-2-15-47z />
<path color=#7322ac d=M967,873l14-1,39-27-13,2z />
<path color=#881fa7 d=M848,888l13,3,41-25-13-3z />
<path color=#8c1ea6 d=M1759,893l15,4,30-26-14-3z />
<path color=#8127c7 d=M1490,865l15,11,33-23-14-9z />
<path color=#8b1ea6 d=M727,893l13,3,42-25-13-4z />
<path color=#8c1fa8 d=M1639,894l15,4,32-25-15-4z />
<path color=#d6da3c d=M1356,577l16,54,35,1-15-53z />
<path color=#871fa8 d=M861,891l13,3,41-26-13-2z />
<path color=#8525bf d=M1505,876l14,8,33-23-14-8z />
<path color=#3740b1 d=M1072,814l12-18,38-33-12,20z />
<path color=#8b1ea6 d=M740,896l13,4,42-26-13-3z />
<path color=#8c1ea8 d=M1654,898l15,5,31-26-14-4z />
<path color=#8723b8 d=M1519,884l15,8,33-24-15-7z />
<path color=#851fa8 d=M874,894l13,3,41-26-13-3z />
<path color=#fdbf30 d=M1340,523l16,54,36,2-15-54z />
<path color=#448b53 d=M1147,705l12-40,37-40-12,42z />
<path color=#8c1ea6 d=M1774,897l60,16,30-26-60-16z />
<path color=#8b1ea6 d=M753,900l13,4,42-26-13-4z />
<path color=#8c1ea7 d=M1669,903l15,4,31-26-15-4z />
<path color=#8922b4 d=M1534,892l14,7,33-25-14-6z />
<path color=#8220a9 d=M887,897l13,2,41-27-13-1z />
<path color=#3053ac d=M1084,796l13-24,38-35-13,26z />
<path color=#fb8826 d=M1325,475l15,48,37,2-16-52z />
<path color=#d62f1d d=M1282,429l13-5,37-17-14-4z />
<path color=#8a1ea7 d=M766,904l13,4,42-26-13-4z />
<path color=#8a21b0 d=M1548,899l15,6,33-25-15-6z />
<path color=#8c1ea7 d=M1684,907l14,4,32-26-15-4z />
<path color=#8c1ea6 d=M1924,903l61,16,28-27-60-15z />
<path color=#f45821 d=M1310,441l15,34,36-2-15-41z />
<path color=#562ab0 d=M1007,864l13-8,39-29-13,9z />
<path color=#f13c20 d=M1295,424l15,17,36-9-14-25z />
<path color=#7f20aa d=M900,899l14,1,40-27-13-1z />
<path color=#8a20ad d=M1563,905l14,5,33-25-14-5z />
<path color=#8a1ea7 d=M779,908l13,3,42-26-13-3z />
<path color=#8c1ea7 d=M1698,911l15,4,31-26-14-4z />
<path color=#7b21ab d=M914,900l13,0,40-27-13,0z />
<path color=#4f55f8 d=M1396,804l15,28,36-15-15-25z />
<path color=#8b1fab d=M1577,910l15,5,33-26-15-4z />
<path color=#266c9c d=M1097,772l12-30,38-37-12,32z />
<path color=#891ea7 d=M792,911l13,4,43-27-14-3z />
<path color=#4771f6 d=M1381,770l15,34,36-12-15-30z />
<path color=#5f43ed d=M1411,832l15,22,35-18-14-19z />
<path color=#4831b1 d=M1020,856l12-11,40-31-13,13z />
<path color=#8c1ea6 d=M1713,915l15,4,31-26-15-4z />
<path color=#3a97e9 d=M1366,730l15,40,36-8-15-37z />
<path color=#6d36e1 d=M1426,854l15,18,35-20-15-16z />
<path color=#8b1faa d=M1592,915l15,5,32-26-14-5z />
<path color=#772cd8 d=M1441,872l15,14,34-21-14-13z />
<path color=#8c1ea6 d=M1834,913l61,16,29-26-60-16z />
<path color=#7521ac d=M927,900l13,0,41-28-14,1z />
<path color=#881fa7 d=M805,915l14,3,42-27-13-3z />
<path color=#44c0ab d=M1351,683l15,47,36-5-15-44z />
<path color=#8c1ea6 d=M1728,919l15,4,31-26-15-4z />
<path color=#7e29cc d=M1456,886l14,12,35-22-15-11z />
<path color=#8b1fa9 d=M1607,920l15,4,32-26-15-4z />
<path color=#3a3bb4 d=M1032,845l13-17,39-32-12,18z />
<path color=#a7d84e d=M1335,630l16,53,36-2-15-50z />
<path color=#871fa8 d=M819,918l13,3,42-27-13-3z />
<path color=#6d22ad d=M940,900l13-3,41-28-13,3z />
<path color=#8326c3 d=M1470,898l15,10,34-24-14-8z />
<path color=#33856b d=M1109,742l12-37,38-40-12,40z />
<path color=#8c1fa8 d=M1622,924l14,5,33-26-15-5z />
<path color=#8624bc d=M1485,908l15,8,34-24-15-8z />
<path color=#fbda35 d=M1319,576l16,54,37,1-16-54z />
<path color=#851fa8 d=M832,921l13,2,42-26-13-3z />
<path color=#6424af d=M953,897l13-4,41-29-13,5z />
<path color=#8c1ea6 d=M1743,923l61,17,30-27-60-16z />
<path color=#8c1ea8 d=M1636,929l15,4,33-26-15-4z />
<path color=#334dae d=M1045,828l13-21,39-35-13,24z />
<path color=#8822b6 d=M1500,916l14,8,34-25-14-7z />
<path color=#831fa9 d=M845,923l13,3,42-27-13-2z />
<path color=#ffa82b d=M1303,524l16,52,37,1-16-54z />
<path color=#be2c19 d=M1245,459l13-13,37-22-13,5z />
<path color=#8921b2 d=M1514,924l15,6,34-25-15-6z />
<path color=#8c1ea7 d=M1651,933l15,5,32-27-14-4z />
<path color=#8c1ea6 d=M1895,929l62,16,28-26-61-16z />
<path color=#f86f22 d=M1288,481l15,43,37-1-15-48z />
<path color=#8020aa d=M858,926l14,1,42-27-14-1z />
<path color=#ef3620 d=M1258,446l15,7,37-12-15-17z />
<path color=#79932f d=M1121,705l12-43,37-42-11,45z />
<path color=#f24920 d=M1273,453l15,28,37-6-15-34z />
<path color=#8a20af d=M1529,930l15,6,33-26-14-5z />
<path color=#8c1ea7 d=M1666,938l15,4,32-27-15-4z />
<path color=#2b63a6 d=M1058,807l12-28,39-37-12,30z />
<path color=#7c21ab d=M872,927l13,1,42-28-13,0z />
<path color=#4c2fb1 d=M979,886l13-10,40-31-12,11z />
<path color=#8b20ad d=M1544,936l14,5,34-26-15-5z />
<path color=#8c1ea7 d=M1681,942l15,4,32-27-15-4z />
<path color=#4b63f7 d=M1360,815l15,31,36-14-15-28z />
<path color=#554bf4 d=M1375,846l15,24,36-16-15-22z />
<path color=#4282f5 d=M1345,778l15,37,36-11-15-34z />
<path color=#663de7 d=M1390,870l15,21,36-19-15-18z />
<path color=#8b1fab d=M1558,941l15,5,34-26-15-5z />
<path color=#7621ac d=M885,928l13,0,42-28-13,0z />
<path color=#8c1ea6 d=M1804,940l61,16,30-27-61-16z />
<path color=#8c1ea6 d=M1696,946l15,4,32-27-15-4z />
<path color=#7231dd d=M1405,891l15,16,36-21-15-14z />
<path color=#30afd7 d=M1329,734l16,44,36-8-15-40z />
<path color=#3e38b4 d=M992,876l13-15,40-33-13,17z />
<path color=#7b2bd2 d=M1420,907l15,13,35-22-14-12z />
<path color=#8b1faa d=M1573,946l15,5,34-27-15-4z />
<path color=#a99023 d=M1133,662l11-47,38-42-12,47z />
<path color=#67ce79 d=M1313,684l16,50,37-4-15-47z />
<path color=#267f83 d=M1070,779l12-35,39-39-12,37z />
<path color=#7022ad d=M898,928l14-2,41-29-13,3z />
<path color=#8028c8 d=M1435,920l15,11,35-23-15-10z />
<path color=#8b1fa9 d=M1588,951l15,5,33-27-14-5z />
<path color=#d3db3d d=M1297,630l16,54,38-1-16-53z />
<path color=#8425c0 d=M1450,931l15,10,35-25-15-8z />
<path color=#6723af d=M912,926l13-4,41-29-13,4z />
<path color=#3547b0 d=M1005,861l13-20,40-34-13,21z />
<path color=#8c1ea6 d=M1711,950l61,17,32-27-61-17z />
<path color=#8c1fa8 d=M1603,956l15,4,33-27-15-4z />
<path color=#8723b9 d=M1465,941l14,8,35-25-14-8z />
<path color=#fdc330 d=M1281,575l16,55,38,0-16-54z />
<path color=#8c1ea7 d=M1618,960l15,5,33-27-15-5z />
<path color=#5c8f43 d=M1082,744l12-41,39-41-12,43z />
<path color=#5c26b0 d=M925,922l13-6,41-30-13,7z />
<path color=#8822b4 d=M1479,949l15,7,35-26-15-6z />
<path color=#8c1ea6 d=M1865,956l62,17,30-28-62-16z />
<path color=#fc8d27 d=M1265,526l16,49,38,1-16-52z />
<path color=#e0311e d=M1221,472l14-2,38-17-15-7z />
<path color=#2e5baa d=M1018,841l12-26,40-36-12,28z />
<path color=#8a21b1 d=M1494,956l15,6,35-26-15-6z />
<path color=#8c1ea7 d=M1633,965l15,4,33-27-15-4z />
<path color=#f55c21 d=M1250,489l15,37,38-2-15-43z />
<path color=#f13f20 d=M1235,470l15,19,38-8-15-28z />
<path color=#502db1 d=M938,916l13-9,41-31-13,10z />
<path color=#8a20ae d=M1509,962l15,6,34-27-14-5z />
<path color=#8c1ea7 d=M1648,969l16,4,32-27-15-4z />
<path color=#8c1ea6 d=M1772,967l62,17,31-28-61-16z />
<path color=#8b20ac d=M1524,968l15,5,34-27-15-5z />
<path color=#4e56f8 d=M1338,858l16,28,36-16-15-24z />
<path color=#4672f6 d=M1323,824l15,34,37-12-15-31z />
<path color=#5e44ee d=M1354,886l15,23,36-18-15-21z />
<path color=#8c1ea7 d=M1664,973l15,5,32-28-15-4z />
<path color=#9b9326 d=M1094,703l12-46,38-42-11,47z />
<path color=#4235b3 d=M951,907l13-13,41-33-13,15z />
<path color=#3a98e9 d=M1307,784l16,40,37-9-15-37z />
<path color=#6c37e2 d=M1369,909l15,19,36-21-15-16z />
<path color=#217794 d=M1030,815l12-32,40-39-12,35z />
<path color=#8b1faa d=M1539,973l15,5,34-27-15-5z />
<path color=#762dd9 d=M1384,928l15,15,36-23-15-13z />
<path color=#43c0ad d=M1291,737l16,47,38-6-16-44z />
<path color=#7d29ce d=M1399,943l15,12,36-24-15-11z />
<path color=#8b1fa9 d=M1554,978l15,5,34-27-15-5z />
<path color=#a3d751 d=M1275,684l16,53,38-3-16-50z />
<path color=#3742b2 d=M964,894l13-18,41-35-13,20z />
<path color=#8227c4 d=M1414,955l15,11,36-25-15-10z />
<path color=#8c1ea6 d=M1679,978l61,17,32-28-61-17z />
<path color=#8c1fa8 d=M1569,983l15,5,34-28-15-4z />
<path color=#f7db36 d=M1259,629l16,55,38,0-16-54z />
<path color=#8524bd d=M1429,966l15,8,35-25-14-8z />
<path color=#408b56 d=M1042,783l12-39,40-41-12,41z />
<path color=#ab7b1f d=M1106,657l11-47,39-41-12,46z />
<path color=#8c1ea8 d=M1584,988l15,5,34-28-15-5z />
<path color=#8c1ea6 d=M1834,984l63,17,30-28-62-17z />
<path color=#8823b7 d=M1444,974l15,8,35-26-15-7z />
<path color=#ffac2c d=M1242,576l17,53,38,1-16-55z />
<path color=#3054ac d=M977,876l12-24,41-37-12,26z />
<path color=#c72d1b d=M1182,501l14-10,39-21-14,2z />
<path color=#8922b3 d=M1459,982l15,7,35-27-15-6z />
<path color=#8c1ea7 d=M1599,993l16,4,33-28-15-4z />
<path color=#f97523 d=M1226,532l16,44,39-1-16-49z />
<path color=#f13820 d=M1196,491l15,11,39-13-15-19z />
<path color=#f34d20 d=M1211,502l15,30,39-6-15-37z />
<path color=#8a21b0 d=M1474,989l15,6,35-27-15-6z />
<path color=#8c1ea7 d=M1615,997l15,5,34-29-16-4z />
<path color=#89932a d=M1054,744l12-44,40-43-12,46z />
<path color=#aa5819 d=M1117,610l13-43,39-38-13,40z />
<path color=#8c1ea6 d=M1740,995l63,17,31-28-62-17z />
<path color=#8a20ad d=M1489,995l15,6,35-28-15-5z />
<path color=#266d9d d=M989,852l12-30,41-39-12,32z />
<path color=#8c1ea7 d=M1630,1002l15,4,34-28-15-5z />
<path color=#4a64f7 d=M1300,870l16,31,38-15-16-28z />
<path color=#544cf5 d=M1316,901l15,26,38-18-15-23z />
<path color=#4283f5 d=M1284,833l16,37,38-12-15-34z />
<path color=#643ee9 d=M1331,927l15,21,38-20-15-19z />
<path color=#8b1fab d=M1504,1001l15,5,35-28-15-5z />
<path color=#30afd7 d=M1268,789l16,44,39-9-16-40z />
<path color=#7132de d=M1346,948l16,17,37-22-15-15z />
<path color=#7a2bd4 d=M1362,965l15,14,37-24-15-12z />
<path color=#8b1faa d=M1519,1006l15,5,35-28-15-5z />
<path color=#64ce7b d=M1252,739l16,50,39-5-16-47z />
<path color=#8028c9 d=M1377,979l15,11,37-24-15-11z />
<path color=#aa8821 d=M1066,700l12-47,39-43-11,47z />
<path color=#32856e d=M1001,822l12-37,41-41-12,39z />
<path color=#8c1ea6 d=M1645,1006l62,18,33-29-61-17z />
<path color=#d0db3d d=M1235,684l17,55,39-2-16-53z />
<path color=#8b1fa9 d=M1534,1011l16,5,34-28-15-5z />
<path color=#8426c1 d=M1392,990l15,10,37-26-15-8z />
<path color=#8c1fa8 d=M1550,1016l15,5,34-28-15-5z />
<path color=#8c1ea6 d=M1803,1012l63,18,31-29-63-17z />
<path color=#fdc631 d=M1219,630l16,54,40,0-16-55z />
<path color=#8624bb d=M1407,1000l15,9,37-27-15-8z />
<path color=#8c1ea8 d=M1565,1021l15,5,35-29-16-4z />
<path color=#8822b5 d=M1422,1009l15,7,37-27-15-7z />
<path color=#fd9328 d=M1202,580l17,50,40-1-17-53z />
<path color=#749232 d=M1013,785l12-42,41-43-12,44z />
<path color=#e8331f d=M1156,517l15,2,40-17-15-11z />
<path color=#ab661b d=M1078,653l12-45,40-41-13,43z />
<path color=#f66021 d=M1186,541l16,39,40-4-16-44z />
<path color=#8921b1 d=M1437,1016l16,7,36-28-15-6z />
<path color=#8c1ea7 d=M1580,1026l16,4,34-28-15-5z />
<path color=#f24220 d=M1171,519l15,22,40-9-15-30z />
<path color=#8c1ea6 d=M1707,1024l63,18,33-30-63-17z />
<path color=#8a20af d=M1453,1023l15,6,36-28-15-6z />
<path color=#8c1ea7 d=M1596,1030l15,5,34-29-15-4z />
<path color=#8b20ac d=M1468,1029l15,6,36-29-15-5z />
<path color=#4e58f8 d=M1277,916l16,28,38-17-15-26z />
<path color=#4674f6 d=M1261,881l16,35,39-15-16-31z />
<path color=#5c45ef d=M1293,944l15,23,38-19-15-21z />
<path color=#3a98e9 d=M1245,840l16,41,39-11-16-37z />
<path color=#6a38e4 d=M1308,967l16,20,38-22-16-17z />
<path color=#a94417 d=M1090,608l12-38,40-36-12,33z />
<path color=#a89324 d=M1025,743l12-46,41-44-12,47z />
<path color=#8b1fab d=M1483,1035l15,5,36-29-15-5z />
<path color=#43c0ad d=M1228,793l17,47,39-7-16-44z />
<path color=#752eda d=M1324,987l15,15,38-23-15-14z />
<path color=#8c1ea6 d=M1611,1035l63,18,33-29-62-18z />
<path color=#7c2acf d=M1339,1002l15,13,38-25-15-11z />
<path color=#9fd754 d=M1211,740l17,53,40-4-16-50z />
<path color=#8b1fa9 d=M1498,1040l16,5,36-29-16-5z />
<path color=#8127c6 d=M1354,1015l16,11,37-26-15-10z />
<path color=#f3db37 d=M1195,685l16,55,41-1-17-55z />
<path color=#8b1fa9 d=M1514,1045l15,5,36-29-15-5z />
<path color=#8c1ea6 d=M1770,1042l64,18,32-30-63-18z />
<path color=#8525be d=M1370,1026l15,10,37-27-15-9z />
<path color=#ac741e d=M1037,697l12-47,41-42-12,45z />
<path color=#8c1fa8 d=M1529,1050l16,5,35-29-15-5z />
<path color=#ffb02d d=M1178,632l17,53,40-1-16-54z />
<path color=#8723b8 d=M1385,1036l15,8,37-28-15-7z />
<path color=#d12e1c d=M1116,546l14-6,41-21-15-2z />
<path color=#fa7a24 d=M1161,586l17,46,41-2-17-50z />
<path color=#8c1ea7 d=M1545,1055l15,5,36-30-16-4z />
<path color=#8922b4 d=M1400,1044l15,7,38-28-16-7z />
<path color=#f13a20 d=M1130,540l15,14,41-13-15-22z />
<path color=#f35121 d=M1145,554l16,32,41-6-16-39z />
<path color=#8c1ea6 d=M1674,1053l63,18,33-29-63-18z />
<path color=#8a21b0 d=M1415,1051l16,7,37-29-15-6z />
<path color=#8c1ea7 d=M1560,1060l16,5,35-30-15-5z />
<path color=#aa5018 d=M1049,650l12-41,41-39-12,38z />
<path color=#8a20ae d=M1431,1058l15,6,37-29-15-6z />
<path color=#4a66f7 d=M1237,929l16,31,40-16-16-28z />
<path color=#534ef6 d=M1253,960l16,26,39-19-15-23z />
<path color=#4285f5 d=M1220,891l17,38,40-13-16-35z />
<path color=#633fea d=M1269,986l15,22,40-21-16-20z />
<path color=#8b20ac d=M1446,1064l16,5,36-29-15-5z />
<path color=#30b0d7 d=M1204,846l16,45,41-10-16-41z />
<path color=#6f34df d=M1284,1008l16,18,39-24-15-15z />
<path color=#8c1ea7 d=M1576,1065l63,18,35-30-63-18z />
<path color=#782cd6 d=M1300,1026l15,14,39-25-15-13z />
<path color=#63ce7c d=M1187,796l17,50,41-6-17-47z />
<path color=#8b1faa d=M1462,1069l15,6,37-30-16-5z />
<path color=#aa3717 d=M1061,609l13-30,42-33-14,24z />
<path color=#7f28cb d=M1315,1040l16,12,39-26-16-11z />
<path color=#cddb3e d=M1170,742l17,54,41-3-17-53z />
<path color=#8b1fa9 d=M1477,1075l16,5,36-30-15-5z />
<path color=#8c1ea6 d=M1737,1071l65,19,32-30-64-18z />
<path color=#8326c2 d=M1331,1052l15,11,39-27-15-10z />
<path color=#fdc932 d=M1153,687l17,55,41-2-16-55z />
<path color=#8c1fa8 d=M1493,1080l16,5,36-30-16-5z />
<path color=#8624bc d=M1346,1063l16,9,38-28-15-8z />
<path color=#bd2d19 d=M1074,579l14-14,42-25-14,6z />
<path color=#fe9728 d=M1136,636l17,51,42-2-17-53z />
<path color=#8c1ea8 d=M1509,1085l15,5,36-30-15-5z />
<path color=#8823b6 d=M1362,1072l15,8,38-29-15-7z />
<path color=#ed3420 d=M1088,565l15,6,42-17-15-14z />
<path color=#f76421 d=M1119,596l17,40,42-4-17-46z />
<path color=#8c1ea6 d=M1639,1083l64,19,34-31-63-18z />
<path color=#8921b2 d=M1377,1080l16,7,38-29-16-7z />
<path color=#f24520 d=M1103,571l16,25,42-10-16-32z />
<path color=#8c1ea7 d=M1524,1090l16,5,36-30-16-5z />
<path color=#8a21af d=M1393,1087l15,6,38-29-15-6z />
<path color=#8a20ad d=M1408,1093l16,6,38-30-16-5z />
<path color=#8c1ea7 d=M1540,1095l64,19,35-31-63-18z />
<path color=#8b1fab d=M1424,1099l16,6,37-30-15-6z />
<path color=#8b1faa d=M1440,1105l15,6,38-31-16-5z />
<path color=#8c1ea6 d=M1703,1102l65,19,34-31-65-19z />
<path color=#8b1fa9 d=M1455,1111l16,5,38-31-16-5z />
<path color=#8c1fa8 d=M1471,1116l16,5,37-31-15-5z />
<path color=#8c1ea6 d=M1604,1114l64,20,35-32-64-19z />
<path color=#8c1ea8 d=M1487,1121l16,5,37-31-16-5z />
<path color=#8c1ea7 d=M1503,1126l64,20,37-32-64-19z />
<path color=#8c1ea6 d=M1668,1134l66,19,34-32-65-19z />
<path color=#8c1ea6 d=M1567,1146l65,20,36-32-64-20z />
<path color=#8c1ea6 d=M1632,1166l67,20,35-33-66-19z />
<path class=m d=M550,840l362,86,176-361,15,6,212,469,384,146M593,815l360,82,13-4M974,889l129-321M1111,555l1-2M1114,548l16-8,224,475,380,138M636,791l345,81M1007,864l114-266M1142,534l14-17,15,2,206,460,391,142M678,768l313,79M1041,838l97-198M1182,501l14-10,203,452,403,147M718,745l286,75M1072,815l2-2M1079,811l74-129M1212,485l9-13,14-2,200,450,399,140M758,723l256,68M1109,788l56-69M1245,459l13-13,15,7,183,433,410,144M797,701l224,60M1146,761l24-20M1277,438l5-9,13-5,195,441,407,136M836,680l192,51M1304,420l14-17,14,4,177,425,418,141M873,659l164,43M1340,390l13-9,189,431,415,133M909,639l134,34M1364,380l10-16,14,0,173,417,424,138M945,619l105,27M1395,354l13-13,184,421,421,130M980,599l79,20M1422,336l6-9,13-4,168,410,432,134M1015,580l54,14M1447,320l13-16,13,5,153,394,441,139M1048,562l39,9M1479,292l13-7,164,401,437,131M1081,543l33,8M1500,284l10-16,13,2,148,388,448,136M1114,525l25,6M1527,260l13-11,160,393,444,128M1145,507l20,5M1551,247l6-12,13-1,145,380,453,134M1176,490l18,4M1574,230l12-15,13,8,143,376,450,126M1207,473l12,3M1600,209l2-4,13-6,141,374,459,131M1237,457l7,1M1621,198l9-15,13,5,127,359,468,135M1646,176l12-10,138,367,464,128M550,840l714-398M599,855l475-271M650,870l404-235M701,885l341-202M753,900l275-167M805,915l210-131M858,926l138-89M912,926l62-43M964,894l201-169M1013,785l128-133M1479,292l177-77,27,1M1061,609l43-40M1190,495l543-80M1119,596l664-76M1187,796l647-238M1253,960l632-384M1315,1040l621-451M1377,1080l612-479M1440,1105l602-492M1503,1126l592-501M1567,1146l583-509M1632,1166l573-517M1699,1186l561-525 /></g>
<path d="M51.1 41.7L125.4 8.9M125.4 8.9L227.7 27.1M227.7 27.1L169.8 70.5M169.8 70.5L51.1 41.7M51.1 41.7L55.2 86.4M169.8 70.5L169.9 121.4M226.7 51L225.9 68.4M55.2 86.4L169.9 121.4M169.9 121.4L225.9 68.4" stroke="#777" stroke-width="0.55" fill="none"/>
<text x="52.6" y="38.5" text-anchor="middle" font-family="Liberation Sans" font-size="6.6" fill="#999">0.0</text>
<text x="74.3" y="28.9" text-anchor="middle" font-family="Liberation Sans" font-size="6.6" fill="#999">0.5</text>
<text x="93.8" y="20.3" text-anchor="middle" font-family="Liberation Sans" font-size="6.6" fill="#999">1.0</text>
<text x="111.2" y="12.7" text-anchor="middle" font-family="Liberation Sans" font-size="6.6" fill="#999">1.5</text>
<text x="126.9" y="5.7" text-anchor="middle" font-family="Liberation Sans" font-size="6.6" fill="#999">2.0</text>
<text x="52.7" y="83" text-anchor="end" font-family="Liberation Sans" font-size="6.6" fill="#999">0.25</text>
<text x="51.3" y="68.5" text-anchor="end" font-family="Liberation Sans" font-size="6.6" fill="#999">0.30</text>
<text x="50" y="53.7" text-anchor="end" font-family="Liberation Sans" font-size="6.6" fill="#999">0.35</text>
<text x="57.2" y="94.9" text-anchor="middle" font-family="Liberation Sans" font-size="6.6" fill="#999">−2</text>
<text x="82.7" y="102.7" text-anchor="middle" font-family="Liberation Sans" font-size="6.6" fill="#999">−1</text>
<text x="110.2" y="111" text-anchor="middle" font-family="Liberation Sans" font-size="6.6" fill="#999">0</text>
<text x="139.8" y="120.1" text-anchor="middle" font-family="Liberation Sans" font-size="6.6" fill="#999">1</text>
<text x="171.9" y="129.9" text-anchor="middle" font-family="Liberation Sans" font-size="6.6" fill="#999">2</text>
<path d="M51.1 41.7l0.6 1.6M55.6 39.7l0.4 0.9M60.1 37.7l0.4 0.9M64.4 35.8l0.4 0.9M68.7 33.9l0.4 0.9M72.8 32.1l0.6 1.6M76.9 30.3l0.4 0.9M80.9 28.6l0.4 0.9M84.7 26.9l0.4 0.9M88.5 25.2l0.4 0.9M92.3 23.5l0.6 1.6M95.9 21.9l0.4 0.9M99.4 20.4l0.4 0.9M102.9 18.8l0.4 0.9M106.3 17.3l0.4 0.9M109.7 15.9l0.6 1.6M112.9 14.4l0.4 0.9M116.1 13l0.4 0.9M119.3 11.6l0.4 0.9M122.4 10.3l0.4 0.9M125.4 8.9l0.6 1.6M55.2 86.4l-0.6 -1.6M57.6 87.1l-0.3 -0.9M60.1 87.9l-0.3 -0.9M62.6 88.6l-0.3 -0.9M65.2 89.4l-0.3 -0.9M67.7 90.2l-0.3 -0.9M70.3 91l-0.3 -0.9M72.9 91.8l-0.3 -0.9M75.5 92.6l-0.3 -0.9M78.1 93.4l-0.3 -0.9M80.7 94.2l-0.6 -1.6M83.4 95l-0.3 -0.9M86.1 95.8l-0.3 -0.9M88.8 96.6l-0.3 -0.9M91.5 97.4l-0.3 -0.9M94.2 98.3l-0.3 -0.9M97 99.1l-0.3 -0.9M99.7 100l-0.3 -0.9M102.5 100.8l-0.3 -0.9M105.4 101.7l-0.3 -0.9M108.2 102.5l-0.6 -1.6M111.1 103.4l-0.3 -0.9M113.9 104.3l-0.3 -0.9M116.9 105.2l-0.3 -0.9M119.8 106.1l-0.3 -0.9M122.7 107l-0.3 -0.9M125.7 107.9l-0.3 -0.9M128.7 108.8l-0.3 -0.9M131.7 109.7l-0.3 -0.9M134.8 110.7l-0.3 -0.9M137.8 111.6l-0.6 -1.6M140.9 112.5l-0.3 -0.9M144 113.5l-0.3 -0.9M147.2 114.4l-0.3 -0.9M150.3 115.4l-0.3 -0.9M153.5 116.4l-0.3 -0.9M156.7 117.4l-0.3 -0.9M160 118.3l-0.3 -0.9M163.3 119.3l-0.3 -0.9M166.6 120.3l-0.3 -0.9M169.9 121.4l-0.6 -1.6M55.2 86.4l0.9 0.3M54.9 83.5l0.9 0.3M54.7 80.7l1.6 0.5M54.4 77.8l0.9 0.3M54.1 74.9l0.9 0.3M53.9 72l0.9 0.3M53.6 69.1l0.9 0.3M53.3 66.2l1.6 0.5M53.1 63.2l0.9 0.3M52.8 60.3l0.9 0.3M52.5 57.3l0.9 0.3M52.2 54.3l0.9 0.3M52 51.4l1.6 0.5M51.7 48.4l0.9 0.3M51.4 45.3l0.9 0.3M51.1 42.3l0.9 0.3" stroke="#9a9a9a" stroke-width="0.5" fill="none"/>
<text x="1" y="62.6" font-size="8.1" font-family="Liberation Sans" font-weight="bold" fill="#222"><tspan fill="#777" font-weight="normal">|</tspan><tspan font-style="italic">w</tspan><tspan font-size="6" dy="1.7">8,1</tspan><tspan dy="-1.7">(x, t))</tspan><tspan fill="#777" font-weight="normal">|</tspan></text>
<text x="91.5" y="11.5" font-size="7.6" font-family="Liberation Sans" font-weight="bold" text-anchor="middle">t</text><text x="109.5" y="121" font-size="7.6" font-family="Liberation Sans" font-weight="bold" text-anchor="middle">x</text>
<path d="M353 9L354.2 46M282.8 86.4L354.2 46M453.5 68.4L354.2 46" stroke="#777" stroke-width="0.55" fill="none"/>
<g class=s transform="scale(.1)"><path color=#6533cd d=M3526,422l45,9,14-9-44-9z />
<path color=#6533cc d=M3512,430l44,9,15-8-45-9z />
<path color=#6434cd d=M3571,431l45,8,14-9-45-8z />
<path color=#6433cb d=M3497,438l44,9,15-8-44-9z />
<path color=#6433cd d=M3556,439l45,9,15-9-45-8z />
<path color=#6135cd d=M3616,439l45,6,14-9-45-6z />
<path color=#6433cc d=M3482,445l44,10,15-8-44-9z />
<path color=#6433cc d=M3541,447l46,9,14-8-45-9z />
<path color=#6235cd d=M3601,448l46,6,14-9-45-6z />
<path color=#6534cd d=M3466,454l45,10,15-9-44-10z />
<path color=#6333cc d=M3526,455l46,9,15-8-46-9z />
<path color=#6234cc d=M3587,456l45,7,15-9-46-6z />
<path color=#6533cd d=M3451,463l45,10,15-9-45-10z />
<path color=#6434cd d=M3511,464l46,9,15-9-46-9z />
<path color=#6134cc d=M3572,464l46,7,14-8-45-7z />
<path color=#6633cd d=M3436,473l45,10,15-10-45-10z />
<path color=#6534cd d=M3496,473l46,9,15-9-46-9z />
<path color=#6235cd d=M3557,473l46,7,15-9-46-7z />
<path color=#6633cc d=M3420,482l46,10,15-9-45-10z />
<path color=#6533cd d=M3481,483l46,9,15-10-46-9z />
<path color=#6334cd d=M3542,482l46,8,15-10-46-7z />
<path color=#6632cb d=M3404,491l46,11,16-10-46-10z />
<path color=#6633cc d=M3466,492l45,10,16-10-46-9z />
<path color=#6035cd d=M3588,490l16,2,14-10-15-2z />
<path color=#6434cd d=M3527,492l46,9,15-11-46-8z />
<path color=#6632ca d=M3388,500l46,10,16-8-46-11z />
<path color=#6633cb d=M3450,502l46,9,15-9-45-10z />
<path color=#6235cd d=M3573,501l16,2,15-11-16-2z />
<path color=#6433cc d=M3511,502l47,9,15-10-46-9z />
<path color=#6036cd d=M3589,503l15,1,15-11-15-1z />
<path color=#6632ca d=M3372,508l46,11,16-9-46-10z />
<path color=#6632ca d=M3434,510l46,10,16-9-46-9z />
<path color=#6432c8 d=M3356,515l46,11,16-7-46-11z />
<path color=#6532ca d=M3418,519l46,10,16-9-46-10z />
<path color=#6333c9 d=M3339,522l46,11,17-7-46-11z />
<path color=#6432c8 d=M3402,526l46,10,16-7-46-10z />
<path color=#ca9926 d=M3879,252l17-22,13-24-16,21z />
<path color=#6334cd d=M3323,530l46,11,16-8-46-11z />
<path color=#6233c9 d=M3385,533l47,10,16-7-46-10z />
<path color=#e19927 d=M3896,230l16-11,14-21-17,8z />
<path color=#ccab2a d=M3866,283l16-22,14-31-17,22z />
<path color=#ffad2c d=M3912,219l17,2,13-18-16-5z />
<path color=#3a9fed d=M4030,408l17,30,13-7-17-30z />
<path color=#6334ce d=M3306,539l46,11,17-9-46-11z />
<path color=#4481fc d=M4047,438l16,26,13-7-16-26z />
<path color=#3bc1c3 d=M4013,373l17,35,13-7-17-35z />
<path color=#74d677 d=M3996,335l17,38,13-7-17-38z />
<path color=#496cfd d=M4063,464l17,22,13-8-17-21z />
<path color=#dfa92a d=M3882,261l16-13,14-29-16,11z />
<path color=#6334cd d=M3369,541l47,11,16-9-47-10z />
<path color=#cbe342 d=M3979,298l17,37,13-7-16-40z />
<path color=#ffbe30 d=M3929,221l17,15,13-14-17-19z />
<path color=#4c5bfd d=M4080,486l17,18,13-9-17-17z />
<path color=#ffe539 d=M3962,263l17,35,14-10-17-36z />
<path color=#ffce33 d=M3946,236l16,27,14-11-17-30z />
<path color=#6133c9 d=M3432,543l47,10,16-7-47-10z />
<path color=#5250f7 d=M4097,504l17,14,13-8-17-15z />
<path color=#ffb82e d=M3898,248l17-1,14-26-17-2z />
<path color=#5849ee d=M4114,518l17,12,13-8-17-12z />
<path color=#6635d1 d=M3289,551l47,11,16-12-46-11z />
<path color=#3ba1ef d=M4016,418l17,30,14-10-17-30z />
<path color=#3bc3c6 d=M4000,384l16,34,14-10-17-35z />
<path color=#4583fe d=M4033,448l17,25,13-9-16-26z />
<path color=#ffcc33 d=M3915,247l17,11,14-22-17-15z />
<path color=#5843e1 d=M4131,530l18,6,12-9-17-5z />
<path color=#71d97b d=M3983,348l17,36,13-11-17-38z />
<path color=#496eff d=M4050,473l17,22,13-9-17-22z />
<path color=#cae744 d=M3966,313l17,35,13-13-17-37z />
<path color=#6335ce d=M3352,550l47,11,17-9-47-11z />
<path color=#ffdc36 d=M3932,258l17,24,13-19-16-27z />
<path color=#fee93b d=M3949,282l17,31,13-15-17-35z />
<path color=#4d5cfe d=M4067,495l17,18,13-9-17-18z />
<path color=#6042e7 d=M4149,536l17,13,12-10-17-12z />
<path color=#6135cd d=M3416,552l47,9,16-8-47-10z />
<path color=#5251f8 d=M4084,513l17,15,13-10-17-14z />
<path color=#e6af2c d=M3884,258l17-5,14-6-17,1z />
<path color=#653de0 d=M4166,549l17,11,12-10-17-11z />
<path color=#584aef d=M4101,528l18,12,12-10-17-12z />
<path color=#6634ce d=M3272,562l47,12,17-12-47-11z />
<path color=#ffc631 d=M3901,253l17,9,14-4-17-11z />
<path color=#6838da d=M4183,560l17,9,13-9-18-10z />
<path color=#37a0e6 d=M4003,419l17,31,13-2-17-30z />
<path color=#3ebfb9 d=M3986,384l17,35,13-1-16-34z />
<path color=#4382f7 d=M4020,450l17,27,13-4-17-25z />
<path color=#5943e2 d=M4119,540l17,6,13-10-18-6z />
<path color=#74d273 d=M3969,348l17,36,14,0-17-36z />
<path color=#476df9 d=M4037,477l17,23,13-5-17-22z />
<path color=#ffd434 d=M3918,262l17,21,14-1-17-24z />
<path color=#6535d1 d=M3336,562l47,11,16-12-47-11z />
<path color=#c4de41 d=M3952,313l17,35,14,0-17-35z />
<path color=#f2df39 d=M3935,283l17,30,14,0-17-31z />
<path color=#6935d3 d=M4200,569l18,8,12-10-17-7z />
<path color=#4b5cf9 d=M4054,500l17,19,13-6-17-18z />
<path color=#6042e7 d=M4136,546l17,12,13-9-17-13z />
<path color=#6235ce d=M3399,561l48,10,16-10-47-9z />
<path color=#5051f5 d=M4071,519l17,15,13-6-17-15z />
<path color=#6933cd d=M4218,577l17,5,12-10-17-5z />
<path color=#653de1 d=M4153,558l17,11,13-9-17-11z />
<path color=#5649ed d=M4088,534l18,13,13-7-18-12z />
<path color=#6633cc d=M3255,573l47,11,17-10-47-12z />
<path color=#6838da d=M4170,569l18,10,12-10-17-9z />
<path color=#6632c8 d=M4235,582l18,3,12-10-18-3z />
<path color=#5743e0 d=M4106,547l17,7,13-8-17-6z />
<path color=#6634ce d=M3319,574l47,11,17-12-47-11z />
<path color=#2fa9d3 d=M3990,410l17,34,13,6-17-31z />
<path color=#3e88ee d=M4007,444l17,30,13,3-17-27z />
<path color=#4dc093 d=M3972,372l18,38,13,9-17-35z />
<path color=#4472f2 d=M4024,474l17,25,13,1-17-23z />
<path color=#6a35d3 d=M4188,579l17,8,13-10-18-8z />
<path color=#94ce54 d=M3955,334l17,38,14,12-17-36z />
<path color=#ebb22c d=M3904,248l17,19,14,16-17-21z />
<path color=#6435d1 d=M3383,573l47,10,17-12-48-10z />
<path color=#5e42e6 d=M4123,554l17,12,13-8-17-12z />
<path color=#4861f4 d=M4041,499l17,21,13-1-17-19z />
<path color=#cfd239 d=M3938,297l17,37,14,14-17-35z />
<path color=#efca31 d=M3921,267l17,30,14,16-17-30z />
<path color=#6431c5 d=M4253,585l18,2,12-10-18-2z />
<path color=#4b52f4 d=M4058,520l17,18,13-4-17-15z />
<path color=#6933cd d=M4205,587l18,5,12-10-17-5z />
<path color=#643ddf d=M4140,566l18,12,12-9-17-11z />
<path color=#534bec d=M4075,538l18,14,13-5-18-13z />
<path color=#6532ca d=M3237,581l47,12,18-9-47-11z />
<path color=#6131c5 d=M4271,587l17,1,13-10-18-1z />
<path color=#6738d9 d=M4158,578l17,10,13-9-18-10z />
<path color=#6631c8 d=M4223,592l18,3,12-10-18-3z />
<path color=#c79b26 d=M3825,302l17-24,14-26-17,24z />
<path color=#6633cc d=M3302,584l47,11,17-10-47-11z />
<path color=#5445e0 d=M4093,552l17,7,13-5-17-7z />
<path color=#6935d2 d=M4175,588l18,7,12-8-17-8z />
<path color=#e89827 d=M3873,241l17,2,14,5-17-6z />
<path color=#6534cf d=M3366,585l48,10,16-12-47-10z />
<path color=#5f33c7 d=M4288,588l18,1,12-11-17,0z />
<path color=#399ae6 d=M3993,442l17,32,14,0-17-30z />
<path color=#38b9be d=M3976,405l17,37,14,2-17-34z />
<path color=#437ef5 d=M4010,474l17,28,14-3-17-25z />
<path color=#5c43e6 d=M4110,559l17,14,13-7-17-12z />
<path color=#6431c5 d=M4241,595l17,2,13-10-18-2z />
<path color=#6dcd74 d=M3959,366l17,39,14,5-18-38z />
<path color=#476af7 d=M4027,502l18,22,13-4-17-21z />
<path color=#c1d83f d=M3941,326l18,40,13,6-17-38z />
<path color=#f8aa2b d=M3890,243l17,17,14,7-17-19z />
<path color=#6833cc d=M4193,595l17,6,13-9-18-5z />
<path color=#4b59f8 d=M4045,524l17,19,13-5-17-18z />
<path color=#623ddf d=M4127,573l18,12,13-7-18-12z />
<path color=#f2d735 d=M3924,289l17,37,14,8-17-37z />
<path color=#f9bf2f d=M3907,260l17,29,14,8-17-30z />
<path color=#caaf2b d=M3811,335l16-24,15-33-17,24z />
<path color=#db9827 d=M3842,278l16-14,15-23-17,11z />
<path color=#5f35cb d=M4306,589l18,1,12-10-18-2z />
<path color=#514ff3 d=M4062,543l17,16,14-7-18-14z />
<path color=#6131c4 d=M4258,597l18,1,12-10-17-1z />
<path color=#6432c9 d=M3220,589l47,11,17-7-47-12z />
<path color=#6638d9 d=M4145,585l17,11,13-8-17-10z />
<path color=#6631c7 d=M4210,601l18,3,13-9-18-3z />
<path color=#6532ca d=M3284,593l48,11,17-9-47-11z />
<path color=#6534cf d=M3414,595l16,4,16-13-16-3z />
<path color=#5448e7 d=M4079,559l18,8,13-8-17-7z />
<path color=#5f37d0 d=M4324,590l18,3,12-10-18-3z />
<path color=#6835d3 d=M4162,596l18,8,13-9-18-7z />
<path color=#ffa92b d=M3858,264l17-1,15-20-17-2z />
<path color=#6533cc d=M3349,595l48,11,17-11-48-10z />
<path color=#6032c6 d=M4276,598l18,1,12-10-18-1z />
<path color=#37a6e8 d=M3979,450l18,32,13-8-17-32z />
<path color=#5b46ea d=M4097,567l17,14,13-8-17-14z />
<path color=#4486fc d=M3997,482l17,28,13-8-17-28z />
<path color=#6331c4 d=M4228,604l18,2,12-9-17-2z />
<path color=#44c5b5 d=M3962,413l17,37,14-8-17-37z />
<path color=#dbaa2a d=M3827,311l17-16,14-31-16,14z />
<path color=#4870fd d=M4014,510l17,23,14-9-18-22z />
<path color=#85d96b d=M3945,374l17,39,14-8-17-39z />
<path color=#6138d4 d=M4342,593l19,4,11-10-18-4z />
<path color=#ffbc30 d=M3875,263l18,13,14-16-17-17z />
<path color=#6733cc d=M4180,604l18,6,12-9-17-6z />
<path color=#4c5efd d=M4031,533l18,19,13-9-17-19z />
<path color=#d6e340 d=M3927,336l18,38,14-8-18-40z />
<path color=#623fe3 d=M4114,581l18,13,13-9-18-12z />
<path color=#ffe337 d=M3910,302l17,34,14-10-17-37z />
<path color=#5f35ca d=M4294,599l18,1,12-10-18-1z />
<path color=#ffcb33 d=M3893,276l17,26,14-13-17-29z />
<path color=#5152f9 d=M4049,552l17,16,13-9-17-16z />
<path color=#6131c4 d=M4246,606l18,1,12-9-18-1z />
<path color=#6433cd d=M3202,598l47,12,18-10-47-11z />
<path color=#663adc d=M4132,594l17,11,13-9-17-11z />
<path color=#6532c7 d=M4198,610l18,3,12-9-18-3z />
<path color=#f9b62e d=M3844,295l17-3,14-29-17,1z />
<path color=#6533cc d=M3397,606l16,3,17-10-16-4z />
<path color=#6333c9 d=M3267,600l47,12,18-8-48-11z />
<path color=#544aec d=M4066,568l18,9,13-10-18-8z />
<path color=#5f37cf d=M4312,600l18,3,12-10-18-3z />
<path color=#6433ca d=M3332,604l48,11,17-9-48-11z />
<path color=#6836d6 d=M4149,605l18,8,13-9-18-8z />
<path color=#6736d6 d=M4361,597l54,22,12-10-55-22z />
<path color=#5f32c6 d=M4264,607l18,1,12-9-18-1z />
<path color=#38a7eb d=M3965,462l18,31,14-11-18-32z />
<path color=#ffca33 d=M3861,292l17,9,15-25-18-13z />
<path color=#4487ff d=M3983,493l17,28,14-11-17-28z />
<path color=#5c47ed d=M4084,577l17,14,13-10-17-14z />
<path color=#43c7ba d=M3948,427l17,35,14-12-17-37z />
<path color=#6231c4 d=M4216,613l18,2,12-9-18-2z />
<path color=#4971ff d=M4000,521l18,23,13-11-17-23z />
<path color=#81dc71 d=M3931,390l17,37,14-14-17-39z />
<path color=#6138d4 d=M4330,603l19,5,12-11-19-4z />
<path color=#d3e843 d=M3913,354l18,36,14-16-18-38z />
<path color=#ffda36 d=M3878,301l18,22,14-21-17-26z />
<path color=#6834cf d=M4167,613l18,7,13-10-18-6z />
<path color=#ffeb3a d=M3896,323l17,31,14-18-17-34z />
<path color=#4c5fff d=M4018,544l17,19,14-11-18-19z />
<path color=#6240e5 d=M4101,591l18,13,13-10-18-13z />
<path color=#5e35ca d=M4282,608l18,1,12-9-18-1z />
<path color=#e2b02b d=M3830,309l17-7,14-10-17,3z />
<path color=#5252fb d=M4035,563l18,16,13-11-17-16z />
<path color=#6031c4 d=M4234,615l18,1,12-9-18-1z />
<path color=#6434cd d=M3184,608l47,12,18-10-47-12z />
<path color=#673ade d=M4119,604l17,11,13-10-17-11z />
<path color=#6632ca d=M4185,620l18,3,13-10-18-3z />
<path color=#6333ca d=M3380,615l16,3,17-9-16-3z />
<path color=#6434cd d=M3249,610l48,12,17-10-47-12z />
<path color=#554bee d=M4053,579l17,8,14-10-18-9z />
<path color=#5f37ce d=M4300,609l18,3,12-9-18-3z />
<path color=#ffc832 d=M3847,302l17,6,14-7-17-9z />
<path color=#6936d7 d=M4136,615l18,9,13-11-18-8z />
<path color=#6333c9 d=M3314,612l48,11,18-8-48-11z />
<path color=#6736d6 d=M4349,608l54,21,12-10-54-22z />
<path color=#5e33c6 d=M4252,616l18,1,12-9-18-1z />
<path color=#6a33ce d=M4415,619l55,19,11-10-54-19z />
<path color=#36a5e4 d=M3951,465l18,32,14-4-18-31z />
<path color=#5d47ee d=M4070,587l18,15,13-11-17-14z />
<path color=#4286f9 d=M3969,497l17,29,14-5-17-28z />
<path color=#6332c7 d=M4203,623l18,3,13-11-18-2z />
<path color=#43c2b2 d=M3934,429l17,36,14-3-17-35z />
<path color=#6333ca d=M3396,618l16,3,17-9-16-3z />
<path color=#ffd635 d=M3864,308l17,19,15-4-18-22z />
<path color=#7fd56d d=M3916,392l18,37,14-2-17-37z />
<path color=#4770fa d=M3986,526l18,24,14-6-18-23z />
<path color=#6138d3 d=M4318,612l19,5,12-9-19-5z />
<path color=#cbdf40 d=M3899,357l17,35,15-2-18-36z />
<path color=#f8e139 d=M3881,327l18,30,14-3-17-31z />
<path color=#6834d0 d=M4154,624l18,6,13-10-18-7z />
<path color=#4b5efb d=M4004,550l17,20,14-7-17-19z />
<path color=#6340e6 d=M4088,602l17,13,14-11-18-13z />
<path color=#5e35ca d=M4270,617l18,2,12-10-18-1z />
<path color=#5051f7 d=M4021,570l18,17,14-8-18-16z />
<path color=#6132c6 d=M4221,626l18,1,13-11-18-1z />
<path color=#6734d0 d=M3166,621l47,12,18-13-47-12z />
<path color=#683ade d=M4105,615l18,11,13-11-17-11z />
<path color=#6632cb d=M4172,630l18,4,13-11-18-3z />
<path color=#6434cd d=M3231,620l48,12,18-10-48-12z />
<path color=#6233c9 d=M3362,623l17,3,17-8-16-3z />
<path color=#544aeb d=M4039,587l18,9,13-9-17-8z />
<path color=#5e37cf d=M4288,619l18,3,12-10-18-3z />
<path color=#6a36d7 d=M4123,626l18,9,13-11-18-9z />
<path color=#6636d5 d=M4337,617l54,22,12-10-54-21z />
<path color=#6334cd d=M3297,622l48,11,17-10-48-11z />
<path color=#5f33c8 d=M4239,627l18,1,13-11-18-1z />
<path color=#6a33ce d=M4403,629l56,20,11-11-55-19z />
<path color=#5c46ec d=M4057,596l17,16,14-10-18-15z />
<path color=#6432c7 d=M4190,634l18,2,13-10-18-3z />
<path color=#6133c9 d=M3379,626l16,4,17-9-16-3z />
<path color=#3e8bee d=M3955,493l17,31,14,2-17-29z />
<path color=#2facd2 d=M3937,457l18,36,14,4-18-32z />
<path color=#6530c3 d=M4470,638l56,6,12-11-57-5z />
<path color=#6038d3 d=M4306,622l18,4,13-9-19-5z />
<path color=#4473f3 d=M3972,524l18,27,14-1-18-24z />
<path color=#6934d0 d=M4141,635l18,6,13-11-18-6z />
<path color=#51c28f d=M3919,418l18,39,14,8-17-36z />
<path color=#6240e4 d=M4074,612l18,13,13-10-17-13z />
<path color=#ebb42d d=M3849,296l17,17,15,14-17-19z />
<path color=#9bd051 d=M3902,379l17,39,15,11-18-37z />
<path color=#4861f5 d=M3990,551l17,22,14-3-17-20z />
<path color=#5e36cc d=M4257,628l18,1,13-10-18-2z />
<path color=#d3d339 d=M3884,342l18,37,14,13-17-35z />
<path color=#f0cb32 d=M3866,313l18,29,15,15-18-30z />
<path color=#6833ce d=M3147,633l48,13,18-13-47-12z />
<path color=#6132c6 d=M4208,636l18,1,13-10-18-1z />
<path color=#4c52f5 d=M4007,573l18,19,14-5-18-17z />
<path color=#6034c9 d=M3395,630l16,2,17-8-16-3z />
<path color=#673add d=M4092,625l18,12,13-11-18-11z />
<path color=#6732cb d=M4159,641l18,4,13-11-18-4z />
<path color=#6634d0 d=M3213,633l48,12,18-13-48-12z />
<path color=#6234cd d=M3345,633l16,3,18-10-17-3z />
<path color=#514bea d=M4025,592l18,11,14-7-18-9z />
<path color=#5f38d1 d=M4275,629l19,3,12-10-18-3z />
<path color=#6a36d6 d=M4110,637l18,9,13-11-18-9z />
<path color=#6636d5 d=M4324,626l56,23,11-10-54-22z />
<path color=#6033c8 d=M4226,637l19,1,12-10-18-1z />
<path color=#6434cd d=M3279,632l48,11,18-10-48-11z />
<path color=#6a33cd d=M4391,639l56,20,12-10-56-20z />
<path color=#6432c7 d=M4177,645l18,3,13-12-18-2z />
<path color=#5a47eb d=M4043,603l18,16,13-7-17-16z />
<path color=#6234cd d=M3361,636l17,4,17-10-16-4z />
<path color=#6530c3 d=M4459,649l56,5,11-10-56-6z />
<path color=#6139d5 d=M4294,632l18,5,12-11-18-4z />
<path color=#6933cf d=M4128,646l18,6,13-11-18-6z />
<path color=#6140e3 d=M4061,619l17,14,14-8-18-13z />
<path color=#389be4 d=M3940,489l18,34,14,1-17-31z />
<path color=#5f35cc d=M4245,638l18,2,12-11-18-1z />
<path color=#427ef4 d=M3958,523l18,29,14-1-18-27z />
<path color=#3bbab8 d=M3923,451l17,38,15,4-18-36z />
<path color=#6932cb d=M3129,646l48,12,18-12-48-13z />
<path color=#4769f6 d=M3976,552l17,25,14-4-17-22z />
<path color=#6232c6 d=M4195,648l18,1,13-12-18-1z />
<path color=#73cd6f d=M3905,410l18,41,14,6-18-39z />
<path color=#f5aa2b d=M3834,291l17,15,15,7-17-17z />
<path color=#6135cd d=M3378,640l16,3,17-11-16-2z />
<path color=#663adc d=M4078,633l18,13,14-9-18-12z />
<path color=#c3d73e d=M3887,370l18,40,14,8-17-39z />
<path color=#6732ca d=M4146,652l18,4,13-11-18-4z />
<path color=#4b58f7 d=M3993,577l18,20,14-5-18-19z />
<path color=#d49927 d=M3785,331l17-17,15-22-17,14z />
<path color=#6833ce d=M3195,646l48,12,18-13-48-12z />
<path color=#f3d735 d=M3869,333l18,37,15,9-18-37z />
<path color=#f8be2f d=M3851,306l18,27,15,9-18-29z />
<path color=#6334ce d=M3327,643l17,4,17-11-16-3z />
<path color=#6037d0 d=M4263,640l18,3,13-11-19-3z />
<path color=#4f4eef d=M4011,597l18,12,14-6-18-11z />
<path color=#6936d5 d=M4096,646l18,9,14-9-18-9z />
<path color=#6634d0 d=M3261,645l49,12,17-14-48-11z />
<path color=#6033c8 d=M4213,649l19,1,13-12-19-1z />
<path color=#6737d7 d=M4312,637l55,23,13-11-56-23z />
<path color=#6036cd d=M3394,643l16,2,18-10-17-3z />
<path color=#6933cd d=M4380,649l55,20,12-10-56-20z />
<path color=#6531c6 d=M4164,656l18,3,13-11-18-3z />
<path color=#5749ed d=M4029,609l18,17,14-7-18-16z />
<path color=#6235ce d=M3344,647l16,3,18-10-17-4z />
<path color=#6430c2 d=M4447,659l57,5,11-10-56-5z />
<path color=#6139d5 d=M4281,643l19,5,12-11-18-5z />
<path color=#f7a72b d=M3802,314l17-3,15-20-17,1z />
<path color=#6933cf d=M4114,655l18,7,14-10-18-6z />
<path color=#5f42e5 d=M4047,626l18,15,13-8-17-14z />
<path color=#6035cc d=M4232,650l18,2,13-12-18-2z />
<path color=#6931c9 d=M3110,658l48,12,19-12-48-12z />
<path color=#d3a729 d=M3770,360l17-18,15-28-17,17z />
<path color=#36a9e4 d=M3926,496l18,34,14-7-18-34z />
<path color=#4387fb d=M3944,530l17,30,15-8-18-29z />
<path color=#6231c5 d=M4182,659l18,1,13-11-18-1z />
<path color=#48c7ac d=M3908,458l18,38,14-7-17-38z />
<path color=#4770fc d=M3961,560l18,24,14-7-17-25z />
<path color=#6135ce d=M3360,650l17,4,17-11-16-3z />
<path color=#ffbc30 d=M3819,311l18,10,14-15-17-15z />
<path color=#653bdd d=M4065,641l18,13,13-8-18-13z />
<path color=#8fda64 d=M3890,418l18,40,15-7-18-41z />
<path color=#6732c9 d=M4132,662l19,4,13-10-18-4z />
<path color=#6832cb d=M3177,658l48,13,18-13-48-12z />
<path color=#4b5efc d=M3979,584l18,21,14-8-18-20z />
<path color=#6534d0 d=M3310,657l16,3,18-13-17-4z />
<path color=#dbe33f d=M3872,379l18,39,15-8-18-40z />
<path color=#ffca32 d=M3837,321l17,24,15-12-18-27z />
<path color=#6037d0 d=M4250,652l19,3,12-12-18-3z />
<path color=#ffe037 d=M3854,345l18,34,15-9-18-37z />
<path color=#6733ce d=M3243,658l49,12,18-13-49-12z />
<path color=#4e52f6 d=M3997,605l18,12,14-8-18-12z />
<path color=#6132c7 d=M4200,660l19,1,13-11-19-1z />
<path color=#6836d6 d=M4083,654l18,10,13-9-18-9z />
<path color=#6736d6 d=M4300,648l55,23,12-11-55-23z />
<path color=#6036ce d=M3377,654l16,2,17-11-16-2z />
<path color=#6a33cf d=M4367,660l57,20,11-11-55-20z />
<path color=#f0b02c d=M3787,342l17-6,15-25-17,3z />
<path color=#6431c5 d=M4151,666l18,3,13-10-18-3z />
<path color=#6535d0 d=M3326,660l17,4,17-14-16-3z />
<path color=#574cf2 d=M4015,617l18,18,14-9-18-17z />
<path color=#6238d5 d=M4269,655l18,5,13-12-19-5z />
<path color=#6430c2 d=M4435,669l57,5,12-10-57-5z />
<path color=#6834cf d=M4101,664l18,8,13-10-18-7z />
<path color=#6034cb d=M4219,661l18,2,13-11-18-2z />
<path color=#5f43e8 d=M4033,635l18,16,14-10-18-15z />
<path color=#6931c7 d=M3091,668l48,13,19-11-48-12z />
<path color=#ffc732 d=M3804,336l18,7,15-22-18-10z />
<path color=#6231c4 d=M4169,669l18,2,13-11-18-1z />
<path color=#35ace3 d=M3911,505l18,33,15-8-18-34z />
<path color=#428afb d=M3929,538l18,29,14-7-17-30z />
<path color=#4bc9aa d=M3893,468l18,37,15-9-18-38z />
<path color=#6435d0 d=M3343,664l16,3,18-13-17-4z />
<path color=#4773fc d=M3947,567l18,25,14-8-18-24z />
<path color=#6931c9 d=M3158,670l48,13,19-12-48-13z />
<path color=#91dc65 d=M3875,430l18,38,15-10-18-40z />
<path color=#6732c9 d=M4119,672l18,4,14-10-19-4z />
<path color=#653ce0 d=M4051,651l18,13,14-10-18-13z />
<path color=#ffd535 d=M3822,343l17,20,15-18-17-24z />
<path color=#6733ce d=M3292,670l16,4,18-14-16-3z />
<path color=#dbe640 d=M3857,393l18,37,15-12-18-39z />
<path color=#4b60fc d=M3965,592l18,20,14-7-18-21z />
<path color=#ffe838 d=M3839,363l18,30,15-14-18-34z />
<path color=#6136cf d=M4237,663l19,3,13-11-19-3z />
<path color=#6832cb d=M3225,671l49,12,18-13-49-12z />
<path color=#d4a228 d=M3771,351l18-10,15-5-17,6z />
<path color=#6132c6 d=M4187,671l19,1,13-11-19-1z />
<path color=#6836d6 d=M4287,660l56,23,12-12-55-23z />
<path color=#6837d8 d=M4069,664l18,10,14-10-18-10z />
<path color=#4d53f7 d=M3983,612l18,13,14-8-18-12z />
<path color=#6335d0 d=M3359,667l17,3,17-14-16-2z />
<path color=#6a33ce d=M4355,671l57,20,12-11-57-20z />
<path color=#6431c5 d=M4137,676l19,3,13-10-18-3z />
<path color=#6633ce d=M3308,674l17,3,18-13-17-4z />
<path color=#6337d4 d=M4256,666l18,5,13-11-18-5z />
<path color=#554df2 d=M4001,625l18,18,14-8-18-18z />
<path color=#6530c4 d=M4424,680l57,6,11-12-57-5z />
<path color=#6834d1 d=M4087,674l18,7,14-9-18-8z />
<path color=#6034ca d=M4206,672l18,2,13-11-18-2z />
<path color=#f6b82e d=M3789,341l17,4,16-2-18-7z />
<path color=#6236d0 d=M3376,670l16,3,18-14-17-3z />
<path color=#6831c6 d=M3072,678l48,13,19-10-48-13z />
<path color=#5d44e8 d=M4019,643l18,16,14-8-18-16z />
<path color=#6231c4 d=M4156,679l18,2,13-10-18-2z />
<path color=#6534ce d=M3325,677l16,4,18-14-16-3z />
<path color=#30afd7 d=M3896,503l18,35,15,0-18-33z />
<path color=#3e8df1 d=M3914,538l18,30,15-1-18-29z />
<path color=#6931c7 d=M3139,681l49,13,18-11-48-13z />
<path color=#50c697 d=M3878,465l18,38,15,2-18-37z />
<path color=#6632ca d=M4105,681l19,5,13-10-18-4z />
<path color=#ffc832 d=M3806,345l18,18,15,0-17-20z />
<path color=#6732cb d=M3274,683l16,4,18-13-16-4z />
<path color=#4475f5 d=M3932,568l18,26,15-2-18-25z />
<path color=#633de0 d=M4037,659l18,13,14-8-18-13z />
<path color=#99d658 d=M3860,427l18,38,15,3-18-38z />
<path color=#d7dc3c d=M3842,391l18,36,15,3-18-37z />
<path color=#fedb35 d=M3824,363l18,28,15,2-18-30z />
<path color=#6136cf d=M4224,674l19,3,13-11-19-3z />
<path color=#4863f6 d=M3950,594l18,22,15-4-18-20z />
<path color=#6832c9 d=M3206,683l50,12,18-12-49-12z />
<path color=#6836d5 d=M4274,671l56,23,13-11-56-23z />
<path color=#6032c6 d=M4174,681l19,1,13-10-19-1z />
<path color=#6534ce d=M3341,681l17,3,18-14-17-3z />
<path color=#6638d8 d=M4055,672l18,10,14-8-18-10z />
<path color=#6b33ce d=M4343,683l56,20,13-12-57-20z />
<path color=#4a55f3 d=M3968,616l19,14,14-5-18-13z />
<path color=#6431c6 d=M4124,686l18,3,14-10-19-3z />
<path color=#6733cb d=M3290,687l17,3,18-13-17-3z />
<path color=#6337d3 d=M4243,677l19,5,12-11-18-5z />
<path color=#6530c4 d=M4412,691l57,6,12-11-57-6z />
<path color=#514ef1 d=M3987,630l18,19,14-6-18-18z />
<path color=#6734d0 d=M4073,682l19,8,13-9-18-7z />
<path color=#6334ce d=M3358,684l17,2,17-13-16-3z />
<path color=#6034c9 d=M4193,682l18,2,13-10-18-2z />
<path color=#6731c6 d=M3052,688l49,13,19-10-48-13z />
<path color=#5946e8 d=M4005,649l18,16,14-6-18-16z />
<path color=#6633cb d=M3307,690l16,4,18-13-16-4z />
<path color=#6231c5 d=M4142,689l19,2,13-10-18-2z />
<path color=#6831c6 d=M3120,691l49,13,19-10-49-13z />
<path color=#6832c9 d=M3256,695l16,4,18-12-16-4z />
<path color=#6532ca d=M4092,690l18,5,14-9-19-5z />
<path color=#603fe0 d=M4023,665l18,14,14-7-18-13z />
<path color=#3798e0 d=M3899,531l19,34,14,3-18-30z />
<path color=#6136ce d=M4211,684l19,4,13-11-19-3z />
<path color=#6135cd d=M3375,686l16,2,18-13-17-2z />
<path color=#38b6b8 d=M3881,493l18,38,15,7-18-35z />
<path color=#417df1 d=M3918,565l18,29,14,0-18-26z />
<path color=#6831c7 d=M3188,694l49,12,19-11-50-12z />
<path color=#6ac971 d=M3863,452l18,41,15,10-18-38z />
<path color=#6633cb d=M3323,694l17,3,18-13-17-3z />
<path color=#6835d4 d=M4262,682l56,24,12-12-56-23z />
<path color=#456af3 d=M3936,594l18,24,14-2-18-22z />
<path color=#6032c6 d=M4161,691l18,1,14-10-19-1z />
<path color=#b9d23e d=M3845,411l18,41,15,13-18-38z />
<path color=#6b32cd d=M4330,694l57,21,12-12-56-20z />
<path color=#6339d8 d=M4041,679l18,11,14-8-18-10z />
<path color=#edbc2e d=M3808,347l18,27,16,17-18-28z />
<path color=#e5d035 d=M3826,374l19,37,15,16-18-36z />
<path color=#6832c9 d=M3272,699l17,4,18-13-17-3z />
<path color=#6231c5 d=M4110,695l18,3,14-9-18-3z />
<path color=#485bf1 d=M3954,618l18,15,15-3-19-14z />
<path color=#6237d2 d=M4230,688l19,5,13-11-19-5z />
<path color=#6630c3 d=M4399,703l58,6,12-12-57-6z />
<path color=#6433cb d=M3340,697l17,3,18-14-17-2z />
<path color=#4d52f4 d=M3972,633l18,21,15-5-18-19z />
<path color=#6435d1 d=M4059,690l19,7,14-7-19-8z />
<path color=#c5a027 d=M3707,408l17-29,16-31-17,28z />
<path color=#6034ca d=M4179,692l19,3,13-11-18-2z />
<path color=#6631c6 d=M3032,697l49,13,20-9-49-13z />
<path color=#6732c9 d=M3289,703l16,3,18-12-16-4z />
<path color=#6031c4 d=M4128,698l19,1,14-8-19-2z />
<path color=#5649eb d=M3990,654l18,17,15-6-18-16z />
<path color=#6831c7 d=M3237,706l17,5,18-12-16-4z />
<path color=#6731c6 d=M3101,701l48,13,20-10-49-13z />
<path color=#6333ca d=M4078,697l18,6,14-8-18-5z />
<path color=#6333cb d=M3357,700l16,2,18-14-16-2z />
<path color=#5d42e3 d=M4008,671l19,15,14-7-18-14z />
<path color=#6036ce d=M4198,695l19,3,13-10-19-4z />
<path color=#6831c6 d=M3169,704l49,13,19-11-49-12z />
<path color=#6632ca d=M3305,706l17,4,18-13-17-3z />
<path color=#6835d3 d=M4249,693l56,24,13-11-56-24z />
<path color=#5e32c5 d=M4147,699l19,2,13-9-18-1z />
<path color=#31abd7 d=M3884,527l19,36,15,2-19-34z />
<path color=#3f8af2 d=M3903,563l18,32,15-1-18-29z />
<path color=#6b32cc d=M4318,706l57,20,12-11-57-21z />
<path color=#bcad2c d=M3692,444l17-28,15-37-17,29z />
<path color=#4fc496 d=M3866,486l18,41,15,4-18-38z />
<path color=#6731c7 d=M3254,711l16,3,19-11-17-4z />
<path color=#4574f5 d=M3921,595l18,26,15-3-18-24z />
<path color=#623cdc d=M4027,686l18,12,14-8-18-11z />
<path color=#6132c6 d=M4096,703l19,3,13-8-18-3z />
<path color=#d49626 d=M3724,379l17-19,16-30-17,18z />
<path color=#9ad354 d=M3848,444l18,42,15,7-18-41z />
<path color=#f39d28 d=M3775,327l18,12,15,8-18-16z />
<path color=#6630c2 d=M4387,715l58,6,12-12-58-6z />
<path color=#6237d2 d=M4217,698l18,5,14-10-19-5z />
<path color=#4764f5 d=M3939,621l18,17,15-5-18-15z />
<path color=#dad73a d=M3829,402l19,42,15,8-18-41z />
<path color=#6532ca d=M3322,710l17,3,18-13-17-3z />
<path color=#f8b02c d=M3793,339l18,26,15,9-18-27z />
<path color=#f7ca32 d=M3811,365l18,37,16,9-19-37z />
<path color=#5e34c8 d=M4166,701l18,2,14-8-19-3z />
<path color=#6337d5 d=M4045,698l19,8,14-9-19-7z />
<path color=#4b57f9 d=M3957,638l19,22,14-6-18-21z />
<path color=#6731c8 d=M3270,714l17,4,18-12-16-3z />
<path color=#6431c7 d=M3012,705l49,13,20-8-49-13z />
<path color=#5e32c4 d=M4115,706l18,2,14-9-19-1z />
<path color=#544cf1 d=M3976,660l18,19,14-8-18-17z />
<path color=#6731c6 d=M3218,717l17,4,19-10-17-5z />
<path color=#6631c6 d=M3081,710l49,13,19-9-48-13z />
<path color=#6433ca d=M3339,713l16,2,18-13-16-2z />
<path color=#f29e28 d=M3741,360l18-7,16-26-18,3z />
<path color=#6335ce d=M4064,706l18,6,14-9-18-6z />
<path color=#d4aa2a d=M3709,416l17-20,15-36-17,19z />
<path color=#5e36cc d=M4184,703l19,4,14-9-19-3z />
<path color=#5c44e8 d=M3994,679l18,15,15-8-19-15z />
<path color=#6731c6 d=M3149,714l50,13,19-10-49-13z />
<path color=#6631c8 d=M3287,718l17,4,18-12-17-4z />
<path color=#6835d3 d=M4235,703l57,24,13-10-56-24z />
<path color=#6b32cb d=M4305,717l57,21,13-12-57-20z />
<path color=#5c34c6 d=M4133,708l19,1,14-8-19-2z />
<path color=#6731c6 d=M3235,721l16,4,19-11-16-3z />
<path color=#3f96f8 d=M3887,575l19,31,15-11-18-32z />
<path color=#30badb d=M3869,538l18,37,16-12-19-36z />
<path color=#477cff d=M3906,606l18,27,15-12-18-26z />
<path color=#613ee0 d=M4012,694l19,13,14-9-18-12z />
<path color=#5cd28f d=M3851,498l18,40,15-11-18-41z />
<path color=#ffb22e d=M3759,353l18,8,16-22-18-12z />
<path color=#6034ca d=M4082,712l19,3,14-9-19-3z />
<path color=#662fc2 d=M4375,726l58,7,12-12-58-6z />
<path color=#6037d0 d=M4203,707l19,5,13-9-18-5z />
<path color=#b5e24d d=M3832,457l19,41,15-12-18-42z />
<path color=#4a6aff d=M3924,633l18,17,15-12-18-17z />
<path color=#6632c8 d=M3304,722l16,3,19-12-17-3z />
<path color=#f3e63c d=M3814,417l18,40,16-13-19-42z />
<path color=#ffc131 d=M3777,361l18,23,16-19-18-26z />
<path color=#ffd635 d=M3795,384l19,33,15-15-18-37z />
<path color=#6339d8 d=M4031,707l18,9,15-10-19-8z />
<path color=#5c36c9 d=M4152,709l19,2,13-8-18-2z />
<path color=#ecae2c d=M3726,396l17-9,16-34-18,7z />
<path color=#6631c6 d=M3251,725l17,4,19-11-17-4z />
<path color=#4d5bff d=M3942,650l19,23,15-13-19-22z />
<path color=#6533cb d=M2992,715l49,14,20-11-49-13z />
<path color=#5e34c8 d=M4101,715l18,2,14-9-18-2z />
<path color=#564ff8 d=M3961,673l18,19,15-13-18-19z />
<path color=#6631c6 d=M3199,727l17,4,19-10-17-4z />
<path color=#6431c7 d=M3061,718l49,14,20-9-49-13z />
<path color=#6432c8 d=M3320,725l17,3,18-13-16-2z />
<path color=#6236d1 d=M4049,716l19,6,14-10-18-6z />
<path color=#5e46ee d=M3979,692l19,16,14-14-18-15z />
<path color=#5c37cd d=M4171,711l19,4,13-8-19-4z />
<path color=#6631c6 d=M3268,729l17,4,19-11-17-4z />
<path color=#6531c6 d=M3130,723l50,13,19-9-50-13z />
<path color=#ffc130 d=M3743,387l18,5,16-31-18-8z />
<path color=#6635d2 d=M4222,712l57,24,13-9-57-24z />
<path color=#6b32cb d=M4292,727l58,21,12-10-57-21z />
<path color=#4194fb d=M3872,588l19,31,15-13-19-31z />
<path color=#32b9e0 d=M3854,553l18,35,15-13-18-37z />
<path color=#5c35c9 d=M4119,717l19,2,14-10-19-1z />
<path color=#6631c6 d=M3216,731l16,4,19-10-16-4z />
<path color=#58d299 d=M3835,515l19,38,15-15-18-40z />
<path color=#477bff d=M3891,619l18,27,15-13-18-27z />
<path color=#6340e5 d=M3998,708l18,12,15-13-19-13z />
<path color=#6332c8 d=M3337,728l17,2,18-13-17-2z />
<path color=#ffd234 d=M3761,392l19,18,15-26-18-23z />
<path color=#aae357 d=M3817,476l18,39,16-17-19-41z />
<path color=#662fc1 d=M4362,738l59,6,12-11-58-7z />
<path color=#6035cd d=M4068,722l19,3,14-10-19-3z />
<path color=#d4a82a d=M3710,411l17-12,16-12-17,9z />
<path color=#4b69ff d=M3909,646l18,17,15-13-18-17z />
<path color=#ebe93f d=M3798,439l19,37,15-19-18-40z />
<path color=#5e38d1 d=M4190,715l19,5,13-8-19-5z />
<path color=#ffe538 d=M3780,410l18,29,16-22-19-33z />
<path color=#6531c6 d=M3285,733l17,3,18-11-16-3z />
<path color=#4e59ff d=M3927,663l19,23,15-13-19-23z />
<path color=#663bdd d=M4016,720l19,9,14-13-18-9z />
<path color=#6631c6 d=M3232,735l17,4,19-10-17-4z />
<path color=#5c37cd d=M4138,719l19,2,14-10-19-2z />
<path color=#574ef7 d=M3946,686l18,19,15-13-18-19z />
<path color=#5e35ca d=M4087,725l18,3,14-11-18-2z />
<path color=#6531c6 d=M3180,736l16,4,20-9-17-4z />
<path color=#6431c7 d=M3302,736l17,3,18-11-17-3z />
<path color=#6533cb d=M3041,729l49,13,20-10-49-14z />
<path color=#f8bd2f d=M3727,399l18,2,16-9-18-5z />
<path color=#6537d6 d=M4035,729l19,6,14-13-19-6z />
<path color=#5f45ed d=M3964,705l19,16,15-13-19-16z />
<path color=#6531c6 d=M3249,739l17,4,19-10-17-4z />
<path color=#5c39d1 d=M4157,721l19,4,14-10-19-4z />
<path color=#6432c7 d=M3110,732l50,13,20-9-50-13z />
<path color=#6436d3 d=M4209,720l57,25,13-9-57-24z />
<path color=#6932ca d=M4279,736l58,22,13-10-58-21z />
<path color=#3e91f3 d=M3857,593l18,32,16-6-19-31z />
<path color=#2fb5d8 d=M3838,556l19,37,15-5-18-35z />
<path color=#5c36cb d=M4105,728l19,2,14-11-19-2z />
<path color=#ffd033 d=M3745,401l19,15,16-6-19-18z />
<path color=#6531c6 d=M3196,740l17,4,19-9-16-4z />
<path color=#653ee4 d=M3983,721l19,12,14-13-18-12z />
<path color=#56cb92 d=M3819,517l19,39,16-3-19-38z />
<path color=#4579f9 d=M3875,625l19,28,15-7-18-27z />
<path color=#6332c7 d=M3319,739l17,2,18-11-17-2z />
<path color=#a3db54 d=M3801,478l18,39,16-2-18-39z />
<path color=#6336d1 d=M4054,735l18,4,15-14-19-3z />
<path color=#652fc0 d=M4350,748l58,7,13-11-59-6z />
<path color=#ffdf36 d=M3764,416l18,27,16-4-18-29z />
<path color=#dee03d d=M3782,443l19,35,16-2-19-37z />
<path color=#4967fa d=M3894,653l18,18,15-8-18-17z />
<path color=#5e3ad5 d=M4176,725l19,6,14-11-19-5z />
<path color=#6431c6 d=M3266,743l17,3,19-10-17-3z />
<path color=#6739db d=M4002,733l18,9,15-13-19-9z />
<path color=#4c58fc d=M3912,671l19,23,15-8-19-23z />
<path color=#5c38cf d=M4124,730l19,2,14-11-19-2z />
<path color=#6431c6 d=M3213,744l17,4,19-9-17-4z />
<path color=#6136ce d=M4072,739l19,3,14-14-18-3z />
<path color=#564df3 d=M3931,694l18,20,15-9-18-19z />
<path color=#6331c6 d=M3283,746l17,3,19-10-17-3z />
<path color=#6432c7 d=M3160,745l17,4,19-9-16-4z />
<path color=#6636d4 d=M4020,742l19,7,15-14-19-6z />
<path color=#5e44e9 d=M3949,714l19,17,15-10-19-16z />
<path color=#6431c6 d=M3230,748l17,4,19-9-17-4z />
<path color=#5c3ad3 d=M4143,732l19,4,14-11-19-4z />
<path color=#6533cb d=M3090,742l50,14,20-11-50-13z />
<path color=#6438d7 d=M4195,731l58,24,13-10-57-25z />
<path color=#5f37cf d=M4091,742l19,2,14-14-19-2z />
<path color=#6832cb d=M4266,745l58,22,13-9-58-22z />
<path color=#643de0 d=M3968,731l19,13,15-11-19-12z />
<path color=#6432c7 d=M3177,749l17,4,19-9-17-4z />
<path color=#6232c6 d=M3300,749l17,3,19-11-17-2z />
<path color=#6434cf d=M4039,749l19,4,14-14-18-4z />
<path color=#3798e0 d=M3841,585l19,36,15,4-18-32z />
<path color=#642fbf d=M4337,758l59,6,12-9-58-7z />
<path color=#39b6b6 d=M3822,546l19,39,16,8-19-37z />
<path color=#417cf0 d=M3860,621l18,30,16,2-19-28z />
<path color=#5e3bd7 d=M4162,736l19,6,14-11-19-6z />
<path color=#6cc96f d=M3803,504l19,42,16,10-19-39z />
<path color=#6331c6 d=M3247,752l17,4,19-10-17-3z />
<path color=#456af0 d=M3878,651l19,22,15-2-18-18z />
<path color=#bad23d d=M3784,462l19,42,16,13-18-39z />
<path color=#6638d9 d=M3987,744l19,10,14-12-18-9z />
<path color=#ecbd2f d=M3747,400l19,26,16,17-18-27z />
<path color=#e4d035 d=M3766,426l18,36,17,16-19-35z />
<path color=#5e39d2 d=M4110,744l19,2,14-14-19-2z />
<path color=#495bf5 d=M3897,673l19,25,15-4-19-23z />
<path color=#6332c7 d=M3194,753l17,4,19-9-17-4z />
<path color=#6032c6 d=M3317,752l17,2,19-11-17-2z />
<path color=#6234cc d=M4058,753l19,2,14-13-19-3z />
<path color=#514df0 d=M3916,698l18,22,15-6-18-20z />
<path color=#6232c6 d=M3264,756l17,3,19-10-17-3z />
<path color=#6533cb d=M3140,756l17,4,20-11-17-4z />
<path color=#6635d1 d=M4006,754l18,6,15-11-19-7z />
<path color=#5a45e6 d=M3934,720l19,18,15-7-19-17z />
<path color=#5f3ad6 d=M4129,746l19,4,14-14-19-4z />
<path color=#6332c7 d=M3211,757l17,4,19-9-17-4z />
<path color=#6035cd d=M4077,755l19,2,14-13-19-2z />
<path color=#6439d8 d=M4181,742l58,25,14-12-58-24z />
<path color=#6833cf d=M4253,755l58,22,13-10-58-22z />
<path color=#603ede d=M3953,738l19,14,15-8-19-13z />
<path color=#6433cb d=M3157,760l17,4,20-11-17-4z />
<path color=#6433cc d=M4024,760l19,4,15-11-19-4z />
<path color=#6032c6 d=M3281,759l17,2,19-9-17-3z />
<path color=#4749dd d=M2926,699l50,14,21-4-49-13z />
<path color=#6230c0 d=M4324,767l59,6,13-9-59-6z />
<path color=#613bda d=M4148,750l20,6,13-14-19-6z />
<path color=#6232c7 d=M3228,761l17,4,19-9-17-4z />
<path color=#3e8aee d=M3844,617l18,33,16,1-18-30z />
<path color=#2facd3 d=M3825,578l19,39,16,4-19-36z />
<path color=#6338d6 d=M3972,752l19,10,15-8-19-10z />
<path color=#5f37d0 d=M4096,757l19,3,14-14-19-2z />
<path color=#cc9525 d=M3660,434l17-22,17-25-18,20z />
<path color=#51c38f d=M3806,536l19,42,16,7-19-39z />
<path color=#4374f1 d=M3862,650l19,23,16,0-19-22z />
<path color=#ea9b28 d=M3712,380l18,10,17,10-18-13z />
<path color=#6433cb d=M3174,764l17,5,20-12-17-4z />
<path color=#6133ca d=M4043,764l19,3,15-12-19-2z />
<path color=#5e33c5 d=M3298,761l17,2,19-9-17-2z />
<path color=#a0d24e d=M3787,492l19,44,16,10-19-42z />
<path color=#4763f4 d=M3881,673l19,28,16-3-19-25z />
<path color=#dbd538 d=M3768,450l19,42,16,12-19-42z />
<path color=#f3ad2c d=M3730,390l19,24,17,12-19-26z />
<path color=#6132c7 d=M3245,765l17,3,19-9-17-3z />
<path color=#4c52f4 d=M3900,701l19,23,15-4-18-22z />
<path color=#6435cf d=M3991,762l18,7,15-9-18-6z />
<path color=#f4c631 d=M3749,414l19,36,16,12-18-36z />
<path color=#6039d4 d=M4115,760l19,4,14-14-19-4z />
<path color=#5648ea d=M3919,724l19,19,15-5-19-18z />
<path color=#6433cb d=M3191,769l17,4,20-12-17-4z />
<path color=#6034ca d=M4062,767l19,2,15-12-19-2z />
<path color=#6739db d=M4168,756l58,25,13-14-58-25z />
<path color=#6834d0 d=M4239,767l59,22,13-12-58-22z />
<path color=#e79927 d=M3677,412l18-9,17-23-18,7z />
<path color=#6233ca d=M4009,769l19,5,15-10-19-4z />
<path color=#6033c8 d=M3262,768l17,3,19-10-17-2z />
<path color=#5d40e1 d=M3938,743l19,15,15-6-19-14z />
<path color=#cea729 d=M3644,469l17-22,16-35-17,22z />
<path color=#484feb d=M2905,710l50,14,21-11-50-14z />
<path color=#623ad7 d=M4134,764l19,6,15-14-20-6z />
<path color=#6331c4 d=M4311,777l59,7,13-11-59-6z />
<path color=#474add d=M2976,713l50,14,21-4-50-14z />
<path color=#6333cb d=M3208,773l17,4,20-12-17-4z />
<path color=#5f36cd d=M4081,769l20,3,14-12-19-3z />
<path color=#613bd9 d=M3957,758l18,12,16-8-19-10z />
<path color=#3c9af0 d=M3828,624l19,34,15-8-18-33z />
<path color=#34bdcd d=M3809,586l19,38,16-7-19-39z />
<path color=#ffae2d d=M3695,403l19,5,16-18-18-10z />
<path color=#6033c8 d=M4028,774l20,3,14-10-19-3z />
<path color=#4480fb d=M3847,658l18,24,16-9-19-23z />
<path color=#5e34c8 d=M3279,771l17,2,19-10-17-2z />
<path color=#66d380 d=M3790,544l19,42,16-8-19-42z />
<path color=#486cfc d=M3865,682l19,28,16-9-19-28z />
<path color=#c3e243 d=M3770,501l20,43,16-8-19-44z />
<path color=#6234cb d=M3225,777l17,3,20-12-17-3z />
<path color=#6137d1 d=M3975,770l19,7,15-8-18-7z />
<path color=#ffbd30 d=M3714,408l18,21,17-15-19-24z />
<path color=#4c58fc d=M3884,710l19,24,16-10-19-23z />
<path color=#6038d1 d=M4101,772l19,4,14-12-19-4z />
<path color=#fae339 d=M3751,461l19,40,17-9-19-42z />
<path color=#e5a72a d=M3661,447l18-12,16-32-18,9z />
<path color=#ffd033 d=M3732,429l19,32,17-11-19-36z />
<path color=#6837d8 d=M4153,770l59,25,14-14-58-25z />
<path color=#5e34c8 d=M4048,777l19,2,14-10-19-2z />
<path color=#564df3 d=M3903,734l19,19,16-10-19-19z />
<path color=#6b34d2 d=M4226,781l58,23,14-15-59-22z />
<path color=#6035cc d=M3994,777l20,5,14-8-19-5z />
<path color=#4850eb d=M2884,721l49,14,22-11-50-14z />
<path color=#6238d5 d=M4120,776l19,6,14-12-19-6z />
<path color=#5d44e9 d=M3922,753l19,16,16-11-19-15z />
<path color=#374fbe d=M3455,717l17-15,18-16-17,16z />
<path color=#6331c5 d=M4298,789l59,7,13-12-59-7z />
<path color=#ffb92f d=M3679,435l18,2,17-29-19-5z />
<path color=#484feb d=M2955,724l50,14,21-11-50-14z />
<path color=#5e36cb d=M4067,779l19,4,15-11-20-3z />
<path color=#613ee0 d=M3941,769l19,11,15-10-18-12z />
<path color=#3c9df2 d=M3812,637l19,33,16-12-19-34z />
<path color=#36c0cf d=M3792,599l20,38,16-13-19-38z />
<path color=#474add d=M3026,727l50,13,21-4-50-13z />
<path color=#5e34c9 d=M4014,782l19,4,15-9-20-3z />
<path color=#3b42c1 d=M3420,739l17-12,18-10-17,11z />
<path color=#4583ff d=M3831,670l19,23,15-11-18-24z />
<path color=#67d782 d=M3773,559l19,40,17-13-19-42z />
<path color=#d3a729 d=M3644,467l18-15,17-17-18,12z />
<path color=#ffcb33 d=M3697,437l19,16,16-24-18-21z />
<path color=#c3e645 d=M3754,519l19,40,17-15-20-43z />
<path color=#496efe d=M3850,693l19,28,15-11-19-28z />
<path color=#f9e83c d=M3735,482l19,37,16-18-19-40z />
<path color=#ffdc36 d=M3716,453l19,29,16-21-19-32z />
<path color=#5f37cf d=M4086,783l19,4,15-11-19-4z />
<path color=#4d5afe d=M3869,721l19,24,15-11-19-24z />
<path color=#623ad7 d=M3960,780l19,8,15-11-19-7z />
<path color=#6836d6 d=M4139,782l59,26,14-13-59-25z />
<path color=#564ef5 d=M3888,745l19,20,15-12-19-19z />
<path color=#5c35c9 d=M4033,786l19,2,15-9-19-2z />
<path color=#6b33d0 d=M4212,795l59,23,13-14-58-23z />
<path color=#f5b92e d=M3662,452l18-1,17-14-18-2z />
<path color=#6037d1 d=M3979,788l19,5,16-11-20-5z />
<path color=#4750eb d=M2862,732l50,14,21-11-49-14z />
<path color=#6038d3 d=M4105,787l20,6,14-11-19-6z />
<path color=#5d45eb d=M3907,765l19,15,15-11-19-16z />
<path color=#364cb9 d=M3437,727l17-15,18-10-17,15z />
<path color=#6532c8 d=M4284,804l60,7,13-15-59-7z />
<path color=#464add d=M3076,740l17,5,21-4-17-5z />
<path color=#4850eb d=M2933,735l51,14,21-11-50-14z />
<path color=#5c37cb d=M4052,788l19,4,15-9-19-4z />
<path color=#613fe2 d=M3926,780l19,12,15-12-19-11z />
<path color=#ffcd33 d=M3680,451l19,13,17-11-19-16z />
<path color=#3b9dee d=M3795,644l19,34,17-8-19-33z />
<path color=#37bec9 d=M3776,606l19,38,17-7-20-38z />
<path color=#4850eb d=M3005,738l51,14,20-12-50-13z />
<path color=#66d37f d=M3757,565l19,41,16-7-19-40z />
<path color=#4483fc d=M3814,678l19,25,17-10-19-23z />
<path color=#5e37ce d=M3998,793l20,4,15-11-19-4z />
<path color=#bde145 d=M3737,525l20,40,16-6-19-40z />
<path color=#ffdb36 d=M3699,464l19,26,17-8-19-29z />
<path color=#486efd d=M3833,703l20,29,16-11-19-28z />
<path color=#eee33b d=M3718,490l19,35,17-6-19-37z />
<path color=#464add d=M3093,745l17,4,21-4-17-4z />
<path color=#4d5afe d=M3853,732l19,25,16-12-19-24z />
<path color=#623ad9 d=M3945,792l19,8,15-12-19-8z />
<path color=#5d38cf d=M4071,792l20,4,14-9-19-4z />
<path color=#6636d4 d=M4125,793l59,26,14-11-59-26z />
<path color=#3158b2 d=M3454,712l17-21,18-9-17,20z />
<path color=#564ef6 d=M3872,757l19,20,16-12-19-20z />
<path color=#6b33ce d=M4198,808l59,23,14-13-59-23z />
<path color=#5d37cd d=M4018,797l19,3,15-12-19-2z />
<path color=#464add d=M3110,749l18,5,20-5-17-4z />
<path color=#4851ed d=M2840,744l50,14,22-12-50-14z />
<path color=#6631c5 d=M4271,818l60,7,13-14-60-7z />
<path color=#6138d3 d=M3964,800l19,5,15-12-19-5z />
<path color=#5e45ec d=M3891,777l19,17,16-14-19-15z />
<path color=#5f39d3 d=M4091,796l19,6,15-9-20-6z />
<path color=#364dba d=M3418,738l17-15,19-11-17,15z />
<path color=#4850eb d=M3056,752l17,4,20-11-17-5z />
<path color=#4751eb d=M2912,746l50,14,22-11-51-14z />
<path color=#5c38d0 d=M4037,800l19,3,15-11-19-4z />
<path color=#633fe3 d=M3910,794l19,12,16-14-19-12z />
<path color=#454add d=M3128,754l17,4,21-5-18-4z />
<path color=#4850eb d=M2984,749l50,14,22-11-51-14z />
<path color=#eaac2b d=M3663,445l19,10,17,9-19-13z />
<path color=#5e37cf d=M3983,805l19,4,16-12-20-4z />
<path color=#35a1df d=M3778,641l20,37,16,0-19-34z />
<path color=#41bdad d=M3759,600l19,41,17,3-19-38z />
<path color=#4184f4 d=M3798,678l19,28,16-3-19-25z />
<path color=#7cce68 d=M3739,556l20,44,17,6-19-41z />
<path color=#4670f7 d=M3817,706l19,32,17-6-20-29z />
<path color=#4750ea d=M3073,756l17,5,20-12-17-4z />
<path color=#643bdb d=M3929,806l19,8,16-14-19-8z />
<path color=#f3c02f d=M3682,455l19,24,17,11-19-26z />
<path color=#c5d63d d=M3720,515l19,41,18,9-20-40z />
<path color=#4b5bf9 d=M3836,738l20,27,16-8-19-25z />
<path color=#5d3ad3 d=M4056,803l20,5,15-12-20-4z />
<path color=#efd435 d=M3701,479l19,36,17,10-19-35z />
<path color=#315ab3 d=M3435,723l17-21,19-11-17,21z />
<path color=#6536d4 d=M4110,802l59,27,15-10-59-26z />
<path color=#444add d=M3145,758l17,3,21-4-17-4z />
<path color=#6a32cc d=M4184,819l59,23,14-11-59-23z />
<path color=#544ef3 d=M3856,765l19,22,16-10-19-20z />
<path color=#5d38ce d=M4002,809l20,3,15-12-19-3z />
<path color=#6630c3 d=M4257,831l60,7,14-13-60-7z />
<path color=#4851ed d=M2818,757l50,14,22-13-50-14z />
<path color=#6338d5 d=M3948,814l20,6,15-15-19-5z />
<path color=#4750ea d=M3090,761l17,4,21-11-18-5z />
<path color=#384ec0 d=M3400,753l17-13,18-17-17,15z />
<path color=#5d45ea d=M3875,787l19,18,16-11-19-17z />
<path color=#5f3bd6 d=M4076,808l20,6,14-12-19-6z />
<path color=#d19325 d=M3627,456l18-9,18-2-18,5z />
<path color=#444bdd d=M3162,761l18,4,20-5-17-3z />
<path color=#4750eb d=M3034,763l18,5,21-12-17-4z />
<path color=#4851ed d=M2890,758l51,15,21-13-50-14z />
<path color=#5c39d1 d=M4022,812l19,3,15-12-19-3z />
<path color=#623ee1 d=M3894,805l19,13,16-12-19-12z />
<path color=#caa228 d=M3592,510l18-24,17-30-18,23z />
<path color=#6137d1 d=M3968,820l19,4,15-15-19-4z />
<path color=#4751eb d=M2962,760l51,14,21-11-50-14z />
<path color=#4751ea d=M3107,765l17,4,21-11-17-4z />
<path color=#2a6ba7 d=M3452,702l17-26,19-11-17,26z />
<path color=#30afd7 d=M3761,640l20,40,17-2-20-37z />
<path color=#f2a72a d=M3645,447l19,6,18,2-19-10z />
<path color=#434cdc d=M3180,765l17,3,21-5-18-3z />
<path color=#4751eb d=M3052,768l17,4,21-11-17-5z />
<path color=#3e8ff2 d=M3781,680l19,31,17-5-19-28z />
<path color=#643ada d=M3913,818l20,9,15-13-19-8z />
<path color=#4576f7 d=M3800,711l20,33,16-6-19-32z />
<path color=#53c791 d=M3742,597l19,43,17,1-19-41z />
<path color=#5d3ad4 d=M4041,815l20,5,15-12-20-5z />
<path color=#335bba d=M3417,740l17-19,18-19-17,21z />
<path color=#4a60fa d=M3820,744l19,29,17-8-20-27z />
<path color=#473ec5 d=M3327,794l17-5,20-9-18,5z />
<path color=#a4d750 d=M3722,552l20,45,17,3-20-44z />
<path color=#6538d7 d=M4096,814l59,27,14-12-59-27z />
<path color=#4751ea d=M3124,769l18,4,20-12-17-3z />
<path color=#6832cb d=M4169,829l60,23,14-10-59-23z />
<path color=#5f38d1 d=M3987,824l20,3,15-15-20-3z />
<path color=#fcb82e d=M3664,453l19,22,18,4-19-24z />
<path color=#5250f5 d=M3839,773l20,24,16-10-19-22z />
<path color=#e0d93a d=M3703,510l19,42,17,4-19-41z />
<path color=#fbce32 d=M3683,475l20,35,17,5-19-36z />
<path color=#6337d4 d=M3933,827l19,7,16-14-20-6z />
<path color=#642fc1 d=M4243,842l61,8,13-12-60-7z />
<path color=#4751eb d=M3069,772l17,5,21-12-17-4z />
<path color=#424dda d=M3197,768l17,3,21-5-17-3z />
<path color=#5c46eb d=M3859,797l19,19,16-11-19-18z />
<path color=#e2a329 d=M3610,486l18-12,17-27-18,9z />
<path color=#5f3bd7 d=M4061,820l20,6,15-12-20-6z />
<path color=#c8b12c d=M3575,547l18-24,17-37-18,24z />
<path color=#4851ed d=M2868,771l51,15,22-13-51-15z />
<path color=#4751eb d=M3013,774l17,5,22-11-18-5z />
<path color=#4652e9 d=M3142,773l17,4,21-12-18-4z />
<path color=#5f39d3 d=M4007,827l19,3,15-15-19-3z />
<path color=#623fe3 d=M3878,816l19,14,16-12-19-13z />
<path color=#3f41c4 d=M3344,789l18-7,19-10-17,8z />
<path color=#6236d0 d=M3952,834l19,4,16-14-19-4z />
<path color=#4851ed d=M2941,773l51,14,21-13-51-14z />
<path color=#4751ea d=M3086,777l18,4,20-12-17-4z />
<path color=#2d6db0 d=M3434,721l17-24,18-21-17,26z />
<path color=#414fd8 d=M3214,771l18,1,20-5-17-1z />
<path color=#363aac d=M3287,767l18-4,22,31-18,2z />
<path color=#ffb82e d=M3628,474l19,3,17-24-19-6z />
<path color=#643ada d=M3897,830l20,10,16-13-20-9z />
<path color=#4751eb d=M3030,779l18,5,21-12-17-4z />
<path color=#4653e8 d=M3159,777l18,4,20-13-17-3z />
<path color=#5f3ad7 d=M4026,830l20,5,15-15-20-5z />
<path color=#2fbbd8 d=M3744,652l20,39,17-11-20-40z />
<path color=#3e99f5 d=M3764,691l20,31,16-11-19-31z />
<path color=#467cfc d=M3784,722l19,34,17-12-20-33z />
<path color=#5fd389 d=M3725,609l19,43,17-12-19-43z />
<path color=#4b63fd d=M3803,756l20,29,16-12-19-29z />
<path color=#6538d8 d=M4081,826l59,27,15-12-59-27z />
<path color=#dfb32c d=M3593,523l18-14,17-35-18,12z />
<path color=#6037d0 d=M3971,838l20,3,16-14-20-3z />
<path color=#4752ea d=M3104,781l17,5,21-13-18-4z />
<path color=#6933cf d=M4155,841l60,23,14-12-60-23z />
<path color=#ffc932 d=M3647,477l19,18,17-20-19-22z />
<path color=#bbe349 d=M3705,565l20,44,17-12-20-45z />
<path color=#5252f9 d=M3823,785l19,25,17-13-20-24z />
<path color=#3948c0 d=M3362,782l17-11,19-11-17,12z />
<path color=#4051d6 d=M3232,772l18,1,20-5-18-1z />
<path color=#f4e63c d=M3685,526l20,39,17-13-19-42z />
<path color=#ffd936 d=M3666,495l19,31,18-16-20-35z />
<path color=#6437d4 d=M3917,840l19,7,16-13-19-7z />
<path color=#4751ea d=M3048,784l17,5,21-12-17-5z />
<path color=#632fc0 d=M4229,852l61,8,14-10-61-8z />
<path color=#613bda d=M4046,835l20,7,15-16-20-6z />
<path color=#5d47ee d=M3842,810l20,19,16-13-19-19z />
<path color=#333eaa d=M3305,763l17-6,22,32-17,5z />
<path color=#4554e7 d=M3177,781l17,3,20-13-17-3z />
<path color=#4852ed d=M2992,787l17,5,21-13-17-5z />
<path color=#6038d2 d=M3991,841l20,4,15-15-19-3z />
<path color=#4752ea d=M3121,786l18,4,20-13-17-4z />
<path color=#228598 d=M3451,697l17-29,18-24-17,32z />
<path color=#6340e5 d=M3862,829l19,14,16-13-19-14z />
<path color=#ffc331 d=M3611,509l19-1,17-31-19-3z />
<path color=#6336d0 d=M3936,847l20,5,15-14-19-4z />
<path color=#3e53d2 d=M3250,773l17-1,20-5-17,1z />
<path color=#4851ed d=M2919,786l51,15,22-14-51-14z />
<path color=#4751ea d=M3065,789l18,4,21-12-18-4z />
<path color=#4456e6 d=M3194,784l18,2,20-14-18-1z />
<path color=#3552b9 d=M3379,771l17-16,19-11-17,16z />
<path color=#653adc d=M3881,843l20,11,16-14-20-10z />
<path color=#4852ed d=M3009,792l17,5,22-13-18-5z />
<path color=#6139d5 d=M4011,845l19,5,16-15-20-5z />
<path color=#3044a6 d=M3322,757l18-9,22,34-18,7z />
<path color=#4653e9 d=M3139,790l17,4,21-13-18-4z />
<path color=#30bcdb d=M3727,666l20,39,17-14-20-39z />
<path color=#ffd735 d=M3630,508l19,14,17-27-19-18z />
<path color=#3f99f7 d=M3747,705l20,30,17-13-20-31z />
<path color=#467cfd d=M3767,735l19,34,17-13-19-34z />
<path color=#5dd48f d=M3708,625l19,41,17-14-19-43z />
<path color=#4b63fe d=M3786,769l20,29,17-13-20-29z />
<path color=#6738da d=M4066,842l59,27,15-16-59-27z />
<path color=#6136cf d=M3956,852l19,4,16-15-20-3z />
<path color=#b3e451 d=M3688,585l20,40,17-16-20-44z />
<path color=#4752ea d=M3083,793l17,5,21-12-17-5z />
<path color=#ffe738 d=M3649,522l19,27,17-23-19-31z />
<path color=#6934cf d=M4140,853l60,24,15-13-60-23z />
<path color=#eee93e d=M3668,549l20,36,17-20-20-39z />
<path color=#5351f9 d=M3806,798l20,24,16-12-19-25z />
<path color=#3b57cd d=M3267,772l18-3,20-6-18,4z />
<path color=#4358e4 d=M3212,786l17,1,21-14-18-1z />
<path color=#6537d4 d=M3901,854l19,7,16-14-19-7z />
<path color=#6339d8 d=M4030,850l20,7,16-15-20-7z />
<path color=#4852ec d=M3026,797l18,5,21-13-17-5z />
<path color=#6430c3 d=M4215,864l61,8,14-12-61-8z />
<path color=#5d47ee d=M3826,822l19,20,17-13-20-19z />
<path color=#4654e9 d=M3156,794l18,3,20-13-17-3z />
<path color=#267fa6 d=M3433,723l17-26,18-29-17,29z />
<path color=#e6b92e d=M3593,522l19-4,18-10-19,1z />
<path color=#6137d0 d=M3975,856l20,4,16-15-20-4z />
<path color=#4851ed d=M2970,801l17,5,22-14-17-5z />
<path color=#2d4ba2 d=M3340,748l17-13,22,36-17,11z />
<path color=#4752ea d=M3100,798l18,4,21-12-18-4z />
<path color=#305fb3 d=M3396,755l17-21,20-11-18,21z />
<path color=#633fe4 d=M3845,842l20,14,16-13-19-14z />
<path color=#6335d0 d=M3920,861l20,5,16-14-20-5z />
<path color=#4852ec d=M3044,802l17,4,22-13-18-4z />
<path color=#425be1 d=M3229,787l18,0,20-15-17,1z />
<path color=#4556e8 d=M3174,797l17,3,21-14-18-2z />
<path color=#ffd033 d=M3612,518l19,10,18-6-19-14z />
<path color=#6238d3 d=M3995,860l20,5,15-15-19-5z />
<path color=#653adb d=M3865,856l19,11,17-13-20-11z />
<path color=#4851ed d=M2987,806l18,5,21-14-17-5z />
<path color=#4653e9 d=M3118,802l17,4,21-12-17-4z />
<path color=#31b8cf d=M3710,669l20,39,17-3-20-39z />
<path color=#3b98ec d=M3730,708l19,31,18-4-20-30z />
<path color=#6937d8 d=M4050,857l60,28,15-16-59-27z />
<path color=#447cf7 d=M3749,739l20,36,17-6-19-34z />
<path color=#5dce85 d=M3690,627l20,42,17-3-19-41z />
<path color=#6235ce d=M3940,866l19,4,16-14-19-4z />
<path color=#ffdf36 d=M3631,528l19,24,18-3-19-27z />
<path color=#4964f9 d=M3769,775l20,30,17-7-20-29z />
<path color=#afdc4c d=M3670,587l20,40,18-2-20-40z />
<path color=#4852ec d=M3061,806l18,5,21-13-17-5z />
<path color=#6b34d2 d=M4125,869l61,24,14-16-60-24z />
<path color=#e2df3c d=M3650,552l20,35,18-2-20-36z />
<path color=#2a559e d=M3357,735l17-19,22,39-17,16z />
<path color=#5051f6 d=M3789,805l20,26,17-9-20-24z />
<path color=#405fdd d=M3247,787l18-1,20-17-18,3z />
<path color=#4458e6 d=M3191,800l18,2,20-15-17-1z />
<path color=#6536d3 d=M3884,867l20,7,16-13-19-7z />
<path color=#37927a d=M3450,697l17-31,18-32-17,34z />
<path color=#6438d6 d=M4015,865l20,7,15-15-20-7z />
<path color=#4851ed d=M3005,811l17,4,22-13-18-5z />
<path color=#2772a2 d=M3413,734l17-26,20-11-17,26z />
<path color=#6431c4 d=M4200,877l62,8,14-13-61-8z />
<path color=#4654e9 d=M3135,806l18,4,21-13-18-3z />
<path color=#5a47eb d=M3809,831l19,20,17-9-19-20z />
<path color=#6236d0 d=M3959,870l20,4,16-14-20-4z />
<path color=#4753ec d=M3079,811l18,5,21-14-18-4z />
<path color=#613fe1 d=M3828,851l20,16,17-11-20-14z />
<path color=#6434cf d=M3904,874l20,5,16-13-20-5z />
<path color=#435ae4 d=M3209,802l18,1,20-16-18,0z />
<path color=#4851ed d=M3022,815l18,5,21-14-17-4z />
<path color=#3d63d8 d=M3265,786l17-4,20-19-17,6z />
<path color=#4655e8 d=M3153,810l18,3,20-13-17-3z />
<path color=#6337d2 d=M3979,874l20,6,16-15-20-5z />
<path color=#236490 d=M3374,716l17-25,22,43-17,21z />
<path color=#6339d9 d=M3848,867l20,11,16-11-19-11z />
<path color=#4753eb d=M3097,816l17,4,21-14-17-4z />
<path color=#6a36d6 d=M4035,872l60,28,15-15-60-28z />
<path color=#6234cd d=M3924,879l19,4,16-13-19-4z />
<path color=#6c33cf d=M4110,885l61,24,15-16-61-24z />
<path color=#4852ec d=M3040,820l17,5,22-14-18-5z />
<path color=#2c8580 d=M3430,708l18-30,19-12-17,31z />
<path color=#425de2 d=M3227,803l18,0,20-17-18,1z />
<path color=#32a0d8 d=M3712,700l20,35,17,4-19-31z />
<path color=#4082f0 d=M3732,735l20,38,17,2-20-36z />
<path color=#41baa8 d=M3692,657l20,43,18,8-20-39z />
<path color=#4569f2 d=M3752,773l20,34,17-2-20-30z />
<path color=#4556e7 d=M3171,813l18,3,20-14-18-2z />
<path color=#3969d2 d=M3282,782l18-7,20-21-18,9z />
<path color=#6537d5 d=M3999,880l20,7,16-15-20-7z />
<path color=#6336d2 d=M3868,878l19,7,17-11-20-7z />
<path color=#7cca64 d=M3672,612l20,45,18,12-20-42z />
<path color=#e9bb2e d=M3612,513l19,23,19,16-19-24z />
<path color=#4a54f4 d=M3772,807l20,28,17-4-20-26z />
<path color=#6631c7 d=M4186,893l62,9,14-17-62-8z />
<path color=#c1d13c d=M3651,570l21,42,18,15-20-40z />
<path color=#4754ea d=M3114,820l18,4,21-14-18-4z />
<path color=#e7cf33 d=M3631,536l20,34,19,17-20-35z />
<path color=#5549ea d=M3792,835l19,22,17-6-19-20z />
<path color=#6235ce d=M3943,883l20,5,16-14-20-4z />
<path color=#4852ec d=M3057,825l18,4,22-13-18-5z />
<path color=#3f61de d=M3245,803l18-2,19-19-17,4z />
<path color=#6234cd d=M3887,885l20,6,17-12-20-5z />
<path color=#4458e5 d=M3189,816l17,2,21-15-18-1z />
<path color=#5c41e1 d=M3811,857l20,17,17-7-20-16z />
<path color=#237477 d=M3391,691l17-31,22,48-17,26z />
<path color=#4655e9 d=M3132,824l18,3,21-14-18-3z />
<path color=#3671cc d=M3300,775l18-10,19-24-17,13z />
<path color=#6336d1 d=M3963,888l20,5,16-13-20-6z />
<path color=#4752ec d=M3075,829l18,5,21-14-17-4z />
<path color=#603bd9 d=M3831,874l20,12,17-8-20-11z />
<path color=#6a35d4 d=M4019,887l61,28,15-15-60-28z />
<path color=#52924e d=M3448,678l17-34,19-11-17,33z />
<path color=#6134cb d=M3907,891l20,4,16-12-19-4z />
<path color=#6d32cd d=M4095,900l61,25,15-16-61-24z />
<path color=#435be3 d=M3206,818l18,1,21-16-18,0z />
<path color=#3d67d9 d=M3263,801l17-4,20-22-18,7z />
<path color=#4556e8 d=M3150,827l18,3,21-14-18-3z />
<path color=#6536d3 d=M3983,893l20,7,16-13-20-7z />
<path color=#6730c5 d=M4171,909l62,9,15-16-62-9z />
<path color=#e09a27 d=M3574,501l19,3,19,9-19-7z />
<path color=#6137d2 d=M3851,886l20,9,16-10-19-7z />
<path color=#4753eb d=M3093,834l18,4,21-14-18-4z />
<path color=#4374f2 d=M3734,772l20,36,18-1-20-34z />
<path color=#3a92e7 d=M3714,730l20,42,18,1-20-38z />
<path color=#31b3c6 d=M3694,693l20,37,18,5-20-35z />
<path color=#485df4 d=M3754,808l20,30,18-3-20-28z />
<path color=#5bc87f d=M3673,647l21,46,18,7-20-43z />
<path color=#6135cd d=M3927,895l20,5,16-12-20-5z />
<path color=#2d7fb9 d=M3318,765l17-15,19-28-17,19z />
<path color=#417f49 d=M3408,660l17-37,23,55-18,30z />
<path color=#504eef d=M3774,838l20,24,17-5-19-22z />
<path color=#415ee0 d=M3224,819l18,0,21-18-18,2z />
<path color=#b2d542 d=M3653,600l20,47,19,10-20-45z />
<path color=#f1ad2b d=M3593,504l20,20,18,12-19-23z />
<path color=#4457e6 d=M3168,830l18,3,20-15-17-2z />
<path color=#e3d437 d=M3633,558l20,42,19,12-21-42z />
<path color=#6035cd d=M3871,895l20,6,16-10-20-6z />
<path color=#f4c230 d=M3613,524l20,34,18,12-20-34z />
<path color=#396ed4 d=M3280,797l18-6,20-26-18,10z />
<path color=#4754ea d=M3111,838l18,4,21-15-18-3z />
<path color=#5845e5 d=M3794,862l20,18,17-6-20-17z />
<path color=#d69826 d=M3537,538l19-15,18-22-19,12z />
<path color=#6236cf d=M3947,900l20,5,16-12-20-5z />
<path color=#6a34d2 d=M4003,900l61,29,16-14-61-28z />
<path color=#6e31cb d=M4080,915l61,25,15-15-61-25z />
<path color=#5d3edc d=M3814,880l20,14,17-8-20-12z />
<path color=#3f62dc d=M3242,819l18-3,20-19-17,4z />
<path color=#4359e4 d=M3186,833l18,1,20-15-18-1z />
<path color=#5f35cc d=M3891,901l20,5,16-11-20-4z />
<path color=#4655e9 d=M3129,842l18,3,21-15-18-3z />
<path color=#2690a2 d=M3335,750l17-20,19-33-17,25z />
<path color=#682fc2 d=M4156,925l62,9,15-16-62-9z />
<path color=#6436d2 d=M3967,905l20,8,16-13-20-7z />
<path color=#3577cc d=M3298,791l18-11,19-30-17,15z />
<path color=#fcaa2b d=M3556,523l19,0,18-19-19-3z />
<path color=#5e3ad4 d=M3834,894l20,9,17-8-20-9z />
<path color=#758527 d=M3425,623l17-41,23,62-17,34z />
<path color=#5f36cd d=M3911,906l20,5,16-11-20-5z />
<path color=#4380f8 d=M3716,778l20,37,18-7-20-36z />
<path color=#37a3e5 d=M3696,736l20,42,18-6-20-42z />
<path color=#4867f9 d=M3736,815l21,31,17-8-20-30z />
<path color=#415ce1 d=M3204,834l18,0,20-15-18,0z />
<path color=#42c3b5 d=M3676,699l20,37,18-6-20-37z />
<path color=#3c68d7 d=M3260,816l18-4,20-21-18,6z />
<path color=#4556e7 d=M3147,845l18,2,21-14-18-3z />
<path color=#7cd56f d=M3655,653l21,46,18-6-21-46z />
<path color=#4d53f8 d=M3757,846l20,24,17-8-20-24z />
<path color=#ffbd30 d=M3575,523l19,16,19-15-20-20z />
<path color=#5e37cf d=M3854,903l20,7,17-9-20-6z />
<path color=#cfe140 d=M3635,609l20,44,18-6-20-47z />
<path color=#ffcb33 d=M3594,539l20,30,19-11-20-34z />
<path color=#ffe337 d=M3614,569l21,40,18-9-20-42z />
<path color=#5649ed d=M3777,870l20,19,17-9-20-18z />
<path color=#6136cf d=M3931,911l20,6,16-12-20-5z />
<path color=#2c87b9 d=M3316,780l17-14,19-36-17,20z />
<path color=#6934d1 d=M3987,913l61,29,16-13-61-29z />
<path color=#429c6f d=M3352,730l18-26,18-38-17,31z />
<path color=#3f5fdc d=M3222,834l18-2,20-16-18,3z />
<path color=#6d31c9 d=M4064,929l62,25,15-14-61-25z />
<path color=#4458e5 d=M3165,847l18,2,21-15-18-1z />
<path color=#5b42e3 d=M3797,889l20,14,17-9-20-14z />
<path color=#5d37cd d=M3874,910l20,5,17-9-20-5z />
<path color=#386fd2 d=M3278,812l18-8,20-24-18,11z />
<path color=#682fc0 d=M4141,940l63,9,14-15-62-9z />
<path color=#6336d2 d=M3951,917l20,7,16-11-20-8z />
<path color=#5d3dda d=M3817,903l20,10,17-10-20-9z />
<path color=#425be1 d=M3183,849l18,0,21-15-18,0z />
<path color=#3c63d7 d=M3240,832l18-3,20-17-18,4z />
<path color=#5d37ce d=M3894,915l20,6,17-10-20-5z />
<path color=#4485fc d=M3698,790l21,37,17-12-20-37z />
<path color=#ffc932 d=M3556,553l20,12,18-26-19-16z />
<path color=#36a9e6 d=M3678,749l20,41,18-12-20-42z />
<path color=#496bfd d=M3719,827l20,31,18-12-21-31z />
<path color=#47c8b3 d=M3657,713l21,36,18-13-20-37z />
<path color=#82db6f d=M3637,669l20,44,19-14-21-46z />
<path color=#2d979d d=M3333,766l18-20,19-42-18,26z />
<path color=#4d57fd d=M3739,858l20,25,18-13-20-24z />
<path color=#d3e642 d=M3616,627l21,42,18-16-20-44z />
<path color=#ffd835 d=M3576,565l20,26,18-22-20-30z />
<path color=#3379c7 d=M3296,804l18-11,19-27-17,14z />
<path color=#5d3ad4 d=M3837,913l20,7,17-10-20-7z />
<path color=#ffe93a d=M3596,591l20,36,19-18-21-40z />
<path color=#564cf3 d=M3759,883l20,19,18-13-20-19z />
<path color=#5f37d0 d=M3914,921l20,6,17-10-20-6z />
<path color=#6834d1 d=M3971,924l61,30,16-12-61-29z />
<path color=#405edd d=M3201,849l18-1,21-16-18,2z />
<path color=#6d30c8 d=M4048,942l62,25,16-13-62-25z />
<path color=#3969d1 d=M3258,829l18-7,20-18-18,8z />
<path color=#5c45e8 d=M3779,902l20,14,18-13-20-14z />
<path color=#5c39d1 d=M3857,920l20,6,17-11-20-5z />
<path color=#682ebf d=M4126,954l63,9,15-14-63-9z />
<path color=#6137d2 d=M3934,927l21,8,16-11-20-7z />
<path color=#5d40df d=M3799,916l20,10,18-13-20-10z />
<path color=#4aa46a d=M3351,746l17-24,19-50-17,32z />
<path color=#3d61d8 d=M3219,848l18-3,21-16-18,3z />
<path color=#5c39d1 d=M3877,926l20,5,17-10-20-6z />
<path color=#4085f1 d=M3680,788l20,39,19,0-21-37z />
<path color=#356fca d=M3276,822l18-10,20-19-18,11z />
<path color=#456cf2 d=M3700,827l21,33,18-2-20-31z />
<path color=#30aad5 d=M3659,744l21,44,18,2-20-41z />
<path color=#4dc197 d=M3638,706l21,38,19,5-21-36z />
<path color=#8dd05c d=M3618,661l20,45,19,7-20-44z />
<path color=#4958f3 d=M3721,860l20,26,18-3-20-25z />
<path color=#aca72d d=M3387,672l17-37,18-50-17,43z />
<path color=#5d3dd9 d=M3819,926l21,7,17-13-20-7z />
<path color=#5d39d2 d=M3897,931l20,7,17-11-20-6z />
<path color=#6735d1 d=M3955,935l61,30,16-11-61-30z />
<path color=#3a66d2 d=M3237,845l18-6,21-17-18,7z />
<path color=#6c31c8 d=M4032,954l63,26,15-13-62-25z />
<path color=#5c3bd5 d=M3840,933l20,6,17-13-20-6z />
<path color=#672ebe d=M4110,967l63,10,16-14-63-9z />
<path color=#2e7bb9 d=M3294,812l17-14,21-20-18,15z />
<path color=#87ae3e d=M3368,722l18-29,18-58-17,37z />
<path color=#5f39d4 d=M3917,938l21,8,17-11-21-8z />
<path color=#366ccb d=M3255,839l18-9,21-18-18,10z />
<path color=#5c3bd5 d=M3860,939l20,5,17-13-20-5z />
<path color=#c39926 d=M3404,635l17-40,18-55-17,45z />
<path color=#5d3bd7 d=M3880,944l21,7,16-13-20-7z />
<path color=#6536d3 d=M3938,946l62,31,16-12-61-30z />
<path color=#6a31c8 d=M4016,965l63,27,16-12-63-26z />
<path color=#b6b12f d=M3386,693l17-32,18-66-17,40z />
<path color=#3076bd d=M3273,830l18-14,20-18-17,14z />
<path color=#672ebd d=M4095,980l63,10,15-13-63-10z />
<path color=#5f3bd8 d=M3901,951l20,8,17-13-21-8z />
<path color=#d5571c d=M3457,497l19,5,20-12-19,10z />
<path color=#37947f d=M3329,780l18-22,20-22-18,23z />
<path color=#83ad41 d=M3367,736l18-27,18-48-17,32z />
<path color=#c87d21 d=M3421,595l18-39,18-59-18,43z />
<path color=#2784aa d=M3291,816l18-17,20-19-18,18z />
<path color=#6638d7 d=M3921,959l62,31,17-13-62-31z />
<path color=#e8491f d=M3476,502l20,4,19-11-19-5z />
<path color=#d0a829 d=M3403,661l18-31,18-74-18,39z />
<path color=#6932ca d=M4000,977l63,26,16-11-63-27z />
<path color=#652ebd d=M4079,992l63,10,16-12-63-10z />
<path color=#589e55 d=M3347,758l18-25,20-24-18,27z />
<path color=#e53f1f d=M3496,506l19,5,20-12-20-4z />
<path color=#afb231 d=M3385,709l18-27,18-52-18,31z />
<path color=#dc671f d=M3439,556l17-32,20-22-19-5z />
<path color=#30908a d=M3309,799l17-22,21-19-18,22z />
<path color=#38b6b7 d=M3661,760l21,43,19,7-21-40z />
<path color=#359add d=M3682,803l21,35,19,4-21-32z />
<path color=#6ec96e d=M3640,709l21,51,19,10-21-47z />
<path color=#3f81ec d=M3703,838l21,27,18,2-20-25z />
<path color=#e7451f d=M3515,511l20,4,19-11-19-5z />
<path color=#da9426 d=M3421,630l18-28,17-78-17,32z />
<path color=#c4d33c d=M3618,652l22,57,19,14-21-53z />
<path color=#4172eb d=M3724,865l20,20,19,0-21-18z />
<path color=#e4531e d=M3456,524l20-7,20-11-20-4z />
<path color=#6a33ce d=M3983,990l63,27,17-14-63-26z />
<path color=#f0cb31 d=M3597,603l21,49,20,18-21-47z />
<path color=#8ca532 d=M3365,733l18-27,20-24-18,27z />
<path color=#f05b20 d=M3535,515l20,5,20,1-21-17z />
<path color=#4267e7 d=M3744,885l21,14,18-1-20-13z />
<path color=#642fbe d=M4063,1003l64,10,15-11-63-10z />
<path color=#d3b52c d=M3403,682l18-24,18-56-18,28z />
<path color=#f2a72a d=M3575,547l22,56,20,20-21-53z />
<path color=#499a5d d=M3326,777l18-25,21-19-18,25z />
<path color=#f17e24 d=M3555,520l20,27,21,23-21-49z />
<path color=#e8481f d=M3476,517l19,5,20-11-19-5z />
<path color=#4160e3 d=M3765,899l21,11,18-3-21-9z />
<path color=#ea8625 d=M3439,602l19-19,18-66-20,7z />
<path color=#36afe9 d=M3664,822l21,33,18-17-21-35z />
<path color=#46c9b6 d=M3642,780l22,42,18-19-21-43z />
<path color=#e84a1f d=M3495,522l20,5,20-12-20-4z />
<path color=#4293ff d=M3685,855l20,26,19-16-21-27z />
<path color=#8add6c d=M3621,732l21,48,19-20-21-51z />
<path color=#415de0 d=M3786,910l20,8,18-4-20-7z />
<path color=#aca82d d=M3383,706l18-25,20-23-18,24z />
<path color=#e0ab2b d=M3421,658l18-18,19-57-19,19z />
<path color=#e0e640 d=M3600,680l21,52,19-23-22-57z />
<path color=#4682ff d=M3705,881l21,19,18-15-20-20z />
<path color=#7ba13b d=M3344,752l18-27,21-19-18,27z />
<path color=#f77e24 d=M3458,583l19-6,18-55-19-5z />
<path color=#ffdd36 d=M3578,635l22,45,18-28-21-49z />
<path color=#fe6222 d=M3515,527l21,16,19-23-20-5z />
<path color=#6430c2 d=M4046,1017l65,10,16-14-64-10z />
<path color=#415be0 d=M3806,918l21,7,18-4-21-7z />
<path color=#4776fc d=M3726,900l21,14,18-15-21-14z />
<path color=#ffb72f d=M3557,586l21,49,19-32-22-56z />
<path color=#ff8a28 d=M3536,543l21,43,18-39-20-27z />
<path color=#ff8125 d=M3477,577l20,9,18-59-20-5z />
<path color=#f3ac2b d=M3439,640l20-7,18-56-19,6z />
<path color=#466df6 d=M3747,914l20,10,19-14-21-11z />
<path color=#3ac6d0 d=M3624,811l21,37,19-26-22-42z />
<path color=#c9ac2a d=M3401,681l18-19,20-22-18,18z />
<path color=#425be2 d=M3827,925l21,8,17-4-20-8z />
<path color=#3ba9f3 d=M3645,848l21,30,19-23-21-33z />
<path color=#6bdc84 d=M3603,768l21,43,18-31-21-48z />
<path color=#458fff d=M3666,878l21,24,18-21-20-26z />
<path color=#cbeb46 d=M3581,722l22,46,18-36-21-52z />
<path color=#a0a42d d=M3362,725l18-26,21-18-18,25z />
<path color=#ff9629 d=M3497,586l21,23,18-66-21-16z />
<path color=#ffee3c d=M3560,684l21,38,19-42-22-45z />
<path color=#ffd635 d=M3539,644l21,40,18-49-21-49z />
<path color=#4568f1 d=M3767,924l21,8,18-14-20-8z />
<path color=#ffb62f d=M3518,609l21,35,18-58-21-43z />
<path color=#477fff d=M3687,902l20,17,19-19-21-19z />
<path color=#445ae5 d=M3848,933l21,10,17-5-21-9z />
<path color=#ffb72e d=M3459,633l19,5,19-52-20-9z />
<path color=#4774fd d=M3707,919l21,13,19-18-21-14z />
<path color=#dcaf2b d=M3419,662l19-10,21-19-20,7z />
<path color=#612fbf d=M4030,1027l64,11,17-11-65-10z />
<path color=#ffc832 d=M3478,638l21,18,19-47-21-23z />
<path color=#4566f0 d=M3788,932l21,7,18-14-21-7z />
<path color=#ffdb36 d=M3499,656l21,29,19-41-21-35z />
<path color=#32bce2 d=M3605,834l21,35,19-21-21-37z />
<path color=#54d2a2 d=M3583,794l22,40,19-23-21-43z />
<path color=#ffee3b d=M3520,685l21,35,19-36-21-40z />
<path color=#9de362 d=M3562,752l21,42,20-26-22-46z />
<path color=#dfee43 d=M3541,720l21,32,19-30-21-38z />
<path color=#3e9ef9 d=M3626,869l21,28,19-19-21-30z />
<path color=#bfa92a d=M3380,699l19-22,20-15-18,19z />
<path color=#476cf7 d=M3728,932l21,9,18-17-20-10z />
<path color=#4753ea d=M3869,943l63,35,17-6-63-34z />
<path color=#4588ff d=M3647,897l21,22,19-17-21-24z />
<path color=#4665f1 d=M3809,939l21,8,18-14-21-8z />
<path color=#fbc130 d=M3438,652l20,2,20-16-19-5z />
<path color=#477aff d=M3668,919l21,17,18-17-20-17z />
<path color=#4668f2 d=M3749,941l21,7,18-16-21-8z />
<path color=#4763f3 d=M3830,947l21,10,18-14-21-10z />
<path color=#ffd234 d=M3458,654l21,15,20-13-21-18z />
<path color=#d0a929 d=M3399,677l19-12,20-13-19,10z />
<path color=#4770fa d=M3689,936l20,12,19-16-21-13z />
<path color=#ffdf37 d=M3479,669l21,26,20-10-21-29z />
<path color=#4566f0 d=M3770,948l21,7,18-16-21-7z />
<path color=#efe33b d=M3500,695l21,34,20-9-21-35z />
<path color=#4dc9a4 d=M3564,803l21,40,20-9-22-40z />
<path color=#cbe342 d=M3521,729l21,32,20-9-21-32z />
<path color=#31b4dd d=M3585,843l21,36,20-10-21-35z />
<path color=#8bd967 d=M3542,761l22,42,19-9-21-42z />
<path color=#3d98f3 d=M3606,879l22,29,19-11-21-28z />
<path color=#4669f4 d=M3709,948l21,8,19-15-21-9z />
<path color=#462fa6 d=M4013,1000l65,10,16,28-64-11z />
<path color=#4484fc d=M3628,908l21,24,19-13-21-22z />
<path color=#4665f1 d=M3791,955l21,7,18-15-21-8z />
<path color=#4b4ae2 d=M3932,978l64,29,17-7-64-28z />
<path color=#ebb72d d=M3418,665l19-1,21-10-20-2z />
<path color=#4a5cf6 d=M3851,957l64,35,17-14-63-35z />
<path color=#4677fa d=M3649,932l21,17,19-13-21-17z />
<path color=#4566ef d=M3730,956l21,7,19-15-21-7z />
<path color=#4763f3 d=M3812,962l21,9,18-14-21-10z />
<path color=#ffc932 d=M3437,664l21,12,21-7-21-15z />
<path color=#466ef6 d=M3670,949l20,12,19-13-20-12z />
<path color=#4564ee d=M3751,963l21,6,19-14-21-7z />
<path color=#ffd735 d=M3458,676l21,24,21-5-21-26z />
<path color=#f2e039 d=M3479,700l21,33,21-4-21-34z />
<path color=#54cb96 d=M3543,808l22,42,20-7-21-40z />
<path color=#2fb8d7 d=M3565,850l21,37,20-8-21-36z />
<path color=#d0df3f d=M3500,733l22,32,20-4-21-32z />
<path color=#98d95c d=M3522,765l21,43,21-5-22-42z />
<path color=#4568f1 d=M3690,961l21,9,19-14-21-8z />
<path color=#3b9bee d=M3586,887l22,31,20-10-22-29z />
<path color=#4564ef d=M3772,969l21,8,19-15-21-7z />
<path color=#4386fa d=M3608,918l21,25,20-11-21-24z />
<path color=#4a5cf6 d=M3833,971l64,35,18-14-64-35z />
<path color=#4d50f0 d=M3915,992l64,29,17-14-64-29z />
<path color=#4845d4 d=M3996,1007l66,9,16-6-65-10z />
<path color=#4565ee d=M3711,970l21,7,19-14-21-7z />
<path color=#4579f9 d=M3629,943l21,18,20-12-21-17z />
<path color=#4763f2 d=M3793,977l21,9,19-15-21-9z />
<path color=#466ff6 d=M3650,961l21,13,19-13-20-12z />
<path color=#4564ee d=M3732,977l21,7,19-15-21-6z />
<path color=#4569f1 d=M3671,974l21,10,19-14-21-9z />
<path color=#4664f0 d=M3753,984l22,8,18-15-21-8z />
<path color=#495cf6 d=M3814,986l65,35,18-15-64-35z />
<path color=#4c50f0 d=M3897,1006l65,30,17-15-64-29z />
<path color=#4566ee d=M3692,984l21,8,19-15-21-7z />
<path color=#494ae1 d=M3979,1021l66,10,17-15-66-9z />
<path color=#4763f3 d=M3775,992l21,9,18-15-21-9z />
<path color=#4564ee d=M3713,992l21,7,19-15-21-7z />
<path color=#4664f0 d=M3734,999l22,8,19-15-22-8z />
<path color=#4a5df7 d=M3796,1001l64,36,19-16-65-35z />
<path color=#4c50f0 d=M3879,1021l65,29,18-14-65-30z />
<path color=#484be1 d=M3962,1036l66,10,17-15-66-10z />
<path color=#4763f3 d=M3756,1007l21,10,19-16-21-9z />
<path color=#4a5cf7 d=M3777,1017l65,36,18-16-64-36z />
<path color=#4c51f2 d=M3860,1037l66,30,18-17-65-29z />
<path color=#484be2 d=M3944,1050l66,11,18-15-66-10z />
<path color=#4d51f2 d=M3842,1053l66,31,18-17-66-30z />
<path color=#494ce4 d=M3926,1067l66,10,18-16-66-11z />
<path color=#494be4 d=M3908,1084l67,10,17-17-66-10z />
<path class=m d=M2818,757l419,88,181-180,19-1,234,310,304,120M2862,732l416,80,44-25M3333,776l106-136,20-7,250,315,301,113M2905,710l377,72,174-258,59,3,211,373,319,131M2948,696l354,68M3476,502l20-12,58,14,209,381,315,125M3364,780l97-104M3615,625l142,256M3761,884l2,2M3916,957l51,25M3986,991l14,6M4009,1001l7,3M4085,1023l26,4M3032,697l277,65M3424,733l41-51M3562,509l12-8,19,3,241,390,308,108M3072,678l267,64M3426,734l51-38M3614,519l254,359,305,99M3110,658l248,58M3595,506l33-32,19,3,234,366,323,106M3147,633l230,54M3647,449l16-4,250,373,320,100M3184,608l209,48M3666,444l13-9,18,2,248,355,317,93M3220,589l186,42M3662,432l2-4M3667,423l27-36,18-7,245,378,333,102M3255,573l158,36M3745,401l242,343,330,94M3289,551l134,31M3720,386l21-26,18-7,257,367,328,91M3323,530l110,25M3778,331l12,0,255,367,325,86M3356,515l85,20M3797,338l7-2,269,346,323,82M3388,500l64,14M3784,329l33-37,17-1,267,373,320,80M3420,482l68,15M3558,511l5,0M3854,305l274,341,317,75M3451,463l153,29M3833,291l25-27,17-1,191,305,403,129M3482,445l133,25M3882,244l5-2,206,310,399,122M3512,430l125,23M3898,248l17-1,204,293,396,114M3541,413l117,20M3886,240l40-42,218,324,394,111M2818,757l130-61,13,15M3001,711l540-298M2868,771l129-62,13,16M3045,726l540-304M2919,786l128-63,13,15M3097,739l342-199M3520,497l110-67M2970,801l127-65,7,8M3149,751l273-162M3558,511l57-39M3022,815l126-66,8,10M3202,762l205-127M3075,829l125-69,7,8M3260,770l107-63M3129,842l123-75,5,6M3183,849l119-85M3321,786l6,8,17-8M3237,845l100-104,8-3M3361,741l18,30,34-28M3424,733l52-35M3831,291l8-15,8-3M3889,244l20-38M3291,816l30-27M3352,744l34-73M3413,670l17,38,32-31M3721,387l19-39,8-2M3790,335l27-43,15,1M3851,299l39-56,28,19,14-4,27-36M3344,752l43-47M3388,700l3-7M3394,685l45-145,5-1M3599,509l28-53,18-6M3668,446l44-66,33,21,16-9,32-53,31,24,15,0,30-30,30,24,14-3,28-28,28,22,14,0,26-20M3399,677l40-37,37-123,39-22,6,14M3573,525l20-21,38,24,18-6,34-47,35,15,50-40,33,28,16-2,31-32,45,24,30-17,28,14,42-23,40,6,27-17M3458,676l41-20,56-136,20,1,9,40M3616,627l37-27,37,27,18-2,34-28,34,9,49-28,32,15,46-30,44,4,163-72M3522,765l40-13,56-100,20,18,15,54M3670,747l8,2,36-19,53,5,394-208M3586,887l96-84,19,7,12,31M3734,858l479-298M3650,961l94-76,19,0,7,14M3808,909l457-334M3713,992l93-74,18-4,7,12M3868,932l450-354M3777,1017l109-79,17,28M3921,959l451-372M3842,1053l107-81,14,21M3985,988l442-379M3908,1084l105-84,7,11M4057,1008l424-380M3975,1094l103-84,16,28,444-405 /></g>
<path d="M278.7 41.7L353 9M353 9L455.3 27.1M455.3 27.1L397.4 70.5M397.4 70.5L278.7 41.7M278.7 41.7L282.8 86.4M397.4 70.5L397.5 121.4M454.3 51L453.5 68.4M282.8 86.4L397.5 121.4M397.5 121.4L453.5 68.4" stroke="#777" stroke-width="0.55" fill="none"/>
<text x="280.2" y="38.5" text-anchor="middle" font-family="Liberation Sans" font-size="6.6" fill="#999">0.0</text>
<text x="301.9" y="28.9" text-anchor="middle" font-family="Liberation Sans" font-size="6.6" fill="#999">0.5</text>
<text x="321.4" y="20.3" text-anchor="middle" font-family="Liberation Sans" font-size="6.6" fill="#999">1.0</text>
<text x="338.8" y="12.7" text-anchor="middle" font-family="Liberation Sans" font-size="6.6" fill="#999">1.5</text>
<text x="354.5" y="5.8" text-anchor="middle" font-family="Liberation Sans" font-size="6.6" fill="#999">2.0</text>
<text x="279.9" y="79.1" text-anchor="end" font-family="Liberation Sans" font-size="6.6" fill="#999">0.25</text>
<text x="278.8" y="67.5" text-anchor="end" font-family="Liberation Sans" font-size="6.6" fill="#999">0.30</text>
<text x="277.8" y="55.7" text-anchor="end" font-family="Liberation Sans" font-size="6.6" fill="#999">0.35</text>
<text x="276.7" y="43.7" text-anchor="end" font-family="Liberation Sans" font-size="6.6" fill="#999">0.40</text>
<text x="284.8" y="94.9" text-anchor="middle" font-family="Liberation Sans" font-size="6.6" fill="#999">−2</text>
<text x="310.3" y="102.7" text-anchor="middle" font-family="Liberation Sans" font-size="6.6" fill="#999">−1</text>
<text x="337.8" y="111" text-anchor="middle" font-family="Liberation Sans" font-size="6.6" fill="#999">0</text>
<text x="367.4" y="120.1" text-anchor="middle" font-family="Liberation Sans" font-size="6.6" fill="#999">1</text>
<text x="399.5" y="129.9" text-anchor="middle" font-family="Liberation Sans" font-size="6.6" fill="#999">2</text>
<path d="M278.7 41.7l0.6 1.6M283.2 39.7l0.4 0.9M287.7 37.7l0.4 0.9M292 35.8l0.4 0.9M296.3 33.9l0.4 0.9M300.4 32.1l0.6 1.6M304.5 30.3l0.4 0.9M308.5 28.6l0.4 0.9M312.3 26.9l0.4 0.9M316.1 25.2l0.4 0.9M319.9 23.5l0.6 1.6M323.5 21.9l0.4 0.9M327 20.4l0.4 0.9M330.5 18.8l0.4 0.9M333.9 17.3l0.4 0.9M337.3 15.9l0.6 1.6M340.5 14.4l0.4 0.9M343.7 13l0.4 0.9M346.9 11.6l0.4 0.9M350 10.3l0.4 0.9M353 9l0.6 1.6M282.8 86.4l-0.6 -1.6M285.3 87.1l-0.3 -0.9M287.7 87.9l-0.3 -0.9M290.3 88.6l-0.3 -0.9M292.8 89.4l-0.3 -0.9M295.3 90.2l-0.3 -0.9M297.9 91l-0.3 -0.9M300.5 91.8l-0.3 -0.9M303.1 92.6l-0.3 -0.9M305.7 93.4l-0.3 -0.9M308.3 94.2l-0.6 -1.6M311 95l-0.3 -0.9M313.7 95.8l-0.3 -0.9M316.4 96.6l-0.3 -0.9M319.1 97.4l-0.3 -0.9M321.8 98.3l-0.3 -0.9M324.6 99.1l-0.3 -0.9M327.3 100l-0.3 -0.9M330.1 100.8l-0.3 -0.9M333 101.7l-0.3 -0.9M335.8 102.5l-0.6 -1.6M338.7 103.4l-0.3 -0.9M341.5 104.3l-0.3 -0.9M344.4 105.2l-0.3 -0.9M347.4 106.1l-0.3 -0.9M350.3 107l-0.3 -0.9M353.3 107.9l-0.3 -0.9M356.3 108.8l-0.3 -0.9M359.3 109.7l-0.3 -0.9M362.4 110.6l-0.3 -0.9M365.4 111.6l-0.6 -1.6M368.5 112.5l-0.3 -0.9M371.6 113.5l-0.3 -0.9M374.8 114.4l-0.3 -0.9M377.9 115.4l-0.3 -0.9M381.1 116.4l-0.3 -0.9M384.3 117.4l-0.3 -0.9M387.6 118.3l-0.3 -0.9M390.9 119.3l-0.3 -0.9M394.1 120.4l-0.3 -0.9M397.5 121.4l-0.6 -1.6M282.7 85.9l0.9 0.3M282.5 83.6l0.9 0.3M282.3 81.4l0.9 0.3M282.1 79.1l0.9 0.3M281.9 76.8l1.6 0.5M281.7 74.5l0.9 0.3M281.5 72.2l0.9 0.3M281.3 69.9l0.9 0.3M281.1 67.6l0.9 0.3M280.8 65.2l1.6 0.5M280.6 62.9l0.9 0.3M280.4 60.5l0.9 0.3M280.2 58.2l0.9 0.3M280 55.8l0.9 0.3M279.8 53.4l1.6 0.5M279.5 51.1l0.9 0.3M279.3 48.7l0.9 0.3M279.1 46.3l0.9 0.3M278.9 43.9l0.9 0.3" stroke="#9a9a9a" stroke-width="0.5" fill="none"/>
<text x="228.6" y="62.6" font-size="8.1" font-family="Liberation Sans" font-weight="bold" fill="#222"><tspan fill="#777" font-weight="normal">|</tspan><tspan font-style="italic">w</tspan><tspan font-size="6" dy="1.7">8,1</tspan><tspan dy="-1.7">(x, t))</tspan><tspan fill="#777" font-weight="normal">|</tspan></text>
<text x="319.1" y="11.5" font-size="7.6" font-family="Liberation Sans" font-weight="bold" text-anchor="middle">t</text><text x="337.1" y="121" font-size="7.6" font-family="Liberation Sans" font-weight="bold" text-anchor="middle">x</text>
<path d="M578.4 7.9L579.1 45.4M506.1 86.5L579.1 45.4M681 68L579.1 45.4" stroke="#777" stroke-width="0.55" fill="none"/>
<g class=s transform="scale(.1)"><path color=#374496 d=M5715,453l12-3,1-15-11,7z />
<path color=#344d95 d=M5717,442l11-7,2-16-12,11z />
<path color=#305595 d=M5718,430l12-11,4-16-11,15z />
<path color=#394196 d=M5725,458l12,0,1-10-11,2z />
<path color=#354995 d=M5727,450l11-2,1-20-11,7z />
<path color=#305495 d=M5728,435l11-7,2-20-11,11z />
<path color=#457cd8 d=M5760,407l12,20,3,5-12-18z />
<path color=#2d5f93 d=M5730,419l11-11,4-21-11,16z />
<path color=#354995 d=M5738,448l12,8,1-16-12-12z />
<path color=#4380d7 d=M5757,408l12,20,3-1-12-20z />
<path color=#428ed2 d=M5745,387l12,21,3-1-12-21z />
<path color=#305495 d=M5739,428l12,12,2-16-12-16z />
<path color=#374496 d=M5750,456l11,7,2-11-12-12z />
<path color=#3268a2 d=M5741,408l12,16,4-16-12-21z />
<path color=#344d95 d=M5751,440l12,12,2-12-12-16z />
<path color=#3863ae d=M5753,424l12,16,4-12-12-20z />
<path color=#374496 d=M5761,463l12-2,1-16-11,7z />
<path color=#344d95 d=M5763,452l11-7,2-16-11,11z />
<path color=#305595 d=M5765,440l11-11,4-16-11,15z />
<path color=#394196 d=M5772,468l11,0,1-10-11,3z />
<path color=#354995 d=M5773,461l11-3,2-20-12,7z />
<path color=#305495 d=M5774,445l12-7,1-20-11,11z />
<path color=#2d5f93 d=M5776,429l11-11,4-21-11,16z />
<path color=#354995 d=M5784,458l12,8,2-16-12-12z />
<path color=#4380d7 d=M5803,418l12,21,3-1-12-21z />
<path color=#428ed2 d=M5791,397l12,21,3-1-12-21z />
<path color=#305595 d=M5786,438l12,12,1-16-12-16z />
<path color=#3268a2 d=M5787,418l12,16,4-16-12-21z />
<path color=#344d95 d=M5798,450l12,12,1-11-12-17z />
<path color=#3863ae d=M5799,434l12,17,4-12-12-21z />
<path color=#374496 d=M5808,474l12-3,1-16-11,7z />
<path color=#344d95 d=M5810,462l11-7,2-16-12,12z />
<path color=#305595 d=M5811,451l12-12,4-16-12,16z />
<path color=#354995 d=M5820,471l11-3,2-20-12,7z />
<path color=#305595 d=M5821,455l12-7,1-20-11,11z />
<path color=#2d5f93 d=M5823,439l11-11,4-21-11,16z />
<path color=#354995 d=M5831,468l12,8,2-16-12-12z />
<path color=#428fd2 d=M5838,407l12,21,4-1-13-21z />
<path color=#305595 d=M5833,448l12,12,1-16-12-16z />
<path color=#3268a2 d=M5834,428l12,16,4-16-12-21z />
<path color=#344d95 d=M5617,490l12-1,1-9-12,4z />
<path color=#394c9e d=M5614,498l12,2,3-11-12,1z />
<path color=#315495 d=M5618,484l12-4,1-19-11,10z />
<path color=#2d5d94 d=M5620,471l11-10,1-18-11,14z />
<path color=#2e6491 d=M5621,457l11-14,5-18-11,20z />
<path color=#354995 d=M5626,500l11,2,3-14-11,1z />
<path color=#325095 d=M5629,489l11-1,1-11-11,3z />
<path color=#4e62d4 d=M5601,506l11,2,14-8-12-2z />
<path color=#2e5a95 d=M5630,480l11-3,1-25-11,9z />
<path color=#374c9a d=M5637,502l12,3,3-10-12-7z />
<path color=#325095 d=M5640,488l12,7,1-9-12-9z />
<path color=#4d62d2 d=M5612,508l12,3,13-9-11-2z />
<path color=#2e6491 d=M5631,461l11-9,2-24-12,15z />
<path color=#2e5a95 d=M5641,477l12,9,2-19-13-15z />
<path color=#2e6e8d d=M5632,443l12-15,4-23-11,20z />
<path color=#344d95 d=M5652,495l12,6,1-6-12-9z />
<path color=#3b4fa5 d=M5649,505l12,4,3-8-12-6z />
<path color=#315495 d=M5653,486l12,9,2-14-12-14z />
<path color=#4293d0 d=M5660,430l13,26,3,1-12-26z />
<path color=#4e63d5 d=M5624,511l12,3,13-9-12-3z />
<path color=#2e6491 d=M5642,452l13,15,1-19-12-20z />
<path color=#43a4c9 d=M5648,405l12,25,4,1-13-25z />
<path color=#2d5d94 d=M5655,467l12,14,1-13-12-20z />
<path color=#3676ab d=M5656,448l12,20,5-12-13-26z />
<path color=#33799b d=M5644,428l12,20,4-18-12-25z />
<path color=#344d95 d=M5664,501l12-1,1-9-12,4z />
<path color=#394c9e d=M5661,509l12,2,3-11-12,1z />
<path color=#315495 d=M5665,495l12-4,1-19-11,9z />
<path color=#4e63d6 d=M5584,514l11,3,17-9-11-2z />
<path color=#4e63d6 d=M5636,514l12,2,13-7-12-4z />
<path color=#2d5d94 d=M5667,481l11-9,2-19-12,15z />
<path color=#2e6491 d=M5668,468l12-15,4-17-11,20z />
<path color=#354995 d=M5673,511l11,2,3-14-11,1z />
<path color=#325095 d=M5676,500l11-1,1-12-11,4z />
<path color=#4e63d6 d=M5595,517l12,3,17-9-12-3z />
<path color=#4d62d4 d=M5648,516l11,3,14-8-12-2z />
<path color=#2e5a95 d=M5677,491l11-4,2-24-12,9z />
<path color=#374c9a d=M5684,513l12,3,3-11-12-6z />
<path color=#325095 d=M5687,499l12,6,2-9-13-9z />
<path color=#4e63d6 d=M5607,520l12,3,17-9-12-3z />
<path color=#4d62d2 d=M5659,519l12,3,13-9-11-2z />
<path color=#2e6491 d=M5678,472l12-9,1-24-11,14z />
<path color=#2e5a95 d=M5688,487l13,9,1-19-12-14z />
<path color=#2e6e8d d=M5680,453l11-14,4-24-11,21z />
<path color=#344d95 d=M5699,505l12,7,2-7-12-9z />
<path color=#3b4fa5 d=M5696,516l12,4,3-8-12-7z />
<path color=#315495 d=M5701,496l12,9,1-13-12-15z />
<path color=#4293d0 d=M5708,441l12,25,4,1-13-25z />
<path color=#4e63d6 d=M5619,523l12,2,17-9-12-2z />
<path color=#4e63d5 d=M5671,522l12,3,13-9-12-3z />
<path color=#2e6491 d=M5690,463l12,14,2-18-13-20z />
<path color=#43a4c9 d=M5695,415l13,26,3,1-12-26z />
<path color=#4e63d6 d=M5567,524l12,2,16-9-11-3z />
<path color=#2d5d94 d=M5702,477l12,15,2-13-12-20z />
<path color=#3676ab d=M5704,459l12,20,4-13-12-25z />
<path color=#33799b d=M5691,439l13,20,4-18-13-26z />
<path color=#4e63d6 d=M5631,525l12,3,16-9-11-3z />
<path color=#4e63d6 d=M5683,525l12,2,13-7-12-4z />
<path color=#4dafc2 d=M6233,410l13,15,13-7-12-15z />
<path color=#4e63d6 d=M5579,526l11,3,17-9-12-3z />
<path color=#2e6491 d=M5716,479l12-15,4-18-12,20z />
<path color=#44a5cc d=M6246,425l12,18,14-7-13-18z />
<path color=#4399d0 d=M6258,443l13,18,13-6-12-19z />
<path color=#438fd5 d=M6271,461l12,18,14-7-13-17z />
<path color=#4e63d6 d=M5643,528l12,3,16-9-12-3z />
<path color=#4385db d=M6283,479l13,17,13-8-12-16z />
<path color=#4e63d6 d=M5590,529l12,3,17-9-12-3z />
<path color=#4979dd d=M6296,496l13,14,13-7-13-15z />
<path color=#4e70de d=M6309,510l12,13,14-8-13-12z />
<path color=#4e63d6 d=M5655,531l12,3,16-9-12-3z />
<path color=#2e6491 d=M5726,483l12-10,1-24-11,15z />
<path color=#4e63d6 d=M5602,532l12,3,17-10-12-2z />
<path color=#5268e0 d=M6321,523l13,11,13-9-12-10z />
<path color=#2e6e8d d=M5728,464l11-15,4-23-11,20z />
<path color=#5561e0 d=M6334,534l13,9,13-9-13-9z />
<path color=#4294d0 d=M5756,451l12,26,4,1-13-26z />
<path color=#4e63d6 d=M5667,534l12,3,16-10-12-2z />
<path color=#2e6491 d=M5738,473l12,15,2-19-13-20z />
<path color=#43a4c9 d=M5743,426l13,25,3,1-12-25z />
<path color=#4e63d6 d=M5614,535l12,3,17-10-12-3z />
<path color=#2d5d94 d=M5750,488l12,15,2-14-12-20z />
<path color=#3676ab d=M5752,469l12,20,4-12-12-26z />
<path color=#33799b d=M5739,449l13,20,4-18-13-25z />
<path color=#565cdf d=M6347,543l13,7,13-9-13-7z />
<path color=#584dd0 d=M6360,550l12,24,13-9-12-24z />
<path color=#439bcf d=M6245,449l12,19,14-7-13-18z />
<path color=#4e63d6 d=M5679,537l12,2,16-9-12-3z />
<path color=#4390d5 d=M6257,468l13,18,13-7-12-18z />
<path color=#4e63d6 d=M5626,538l12,2,17-9-12-3z />
<path color=#4e63d6 d=M5573,539l12,2,17-9-12-3z />
<path color=#2e6491 d=M5764,489l12-15,4-18-12,21z />
<path color=#4e63d6 d=M5691,539l12,3,16-9-12-3z />
<path color=#4e63d6 d=M5638,540l12,3,17-9-12-3z />
<path color=#4e63d6 d=M5585,541l12,3,17-9-12-3z />
<path color=#5169e0 d=M6308,531l13,11,13-8-13-11z />
<path color=#2e6591 d=M5774,493l12-9,2-25-12,15z />
<path color=#2e6e8c d=M5776,474l12-15,4-23-12,20z />
<path color=#4295d0 d=M5805,461l12,26,3,1-12-26z />
<path color=#2e6591 d=M5786,484l13,14,1-19-12-20z />
<path color=#43a5c8 d=M5792,436l13,25,3,1-13-25z />
<path color=#4e63d6 d=M5662,546l12,3,17-10-12-2z />
<path color=#2d5e94 d=M5799,498l12,15,2-14-13-20z />
<path color=#3677ab d=M5800,479l13,20,4-12-12-26z />
<path color=#33799b d=M5788,459l12,20,5-18-13-25z />
<path color=#4e63d6 d=M5674,549l12,3,17-10-12-3z />
<path color=#4e63d6 d=M5621,550l12,3,17-10-12-3z />
<path color=#2e6591 d=M5813,499l12-15,4-18-12,21z />
<path color=#4e63d5 d=M5686,552l12,3,17-10-12-3z />
<path color=#4e63d6 d=M5633,553l12,3,17-10-12-3z />
<path color=#2e6f8c d=M5825,484l12-16,4-24-12,22z />
<path color=#4e63d5 d=M5669,561l13,3,16-9-12-3z />
<path color=#81913e d=M6118,363l13-40,5-30-14,48z />
<path color=#dbda52 d=M6136,293l12,16,3,1-13-16z />
<path color=#c8d453 d=M6148,309l13,24,3,2-13-25z />
<path color=#8c9138 d=M6131,323l13,9,4-23-12-16z />
<path color=#94a141 d=M6144,332l13,16,4-15-13-24z />
<path color=#315395 d=M5487,553l12-1,2-15-12,6z />
<path color=#6b8d4e d=M6153,384l13-8,2-26-13,16z />
<path color=#364e9b d=M5483,566l12,2,4-16-12,1z />
<path color=#2d6093 d=M5491,532l11-10,5-16-12,14z />
<path color=#2e5a95 d=M5489,543l12-6,1-15-11,10z />
<path color=#4961cb d=M5479,569l12,3,4-4-12-2z />
<path color=#588a5b d=M6162,402l13,7,3-18-13-3z />
<path color=#7b9042 d=M6155,366l13-16,2-25-13,23z />
<path color=#638c53 d=M6165,388l13,3,1-15-13,0z />
<path color=#889139 d=M6157,348l13-23,5-23-14,31z />
<path color=#579167 d=M6175,409l13,15,3-13-13-20z />
<path color=#334d95 d=M5495,568l11,2,5-20-12,2z />
<path color=#539881 d=M6188,424l13,20,2-9-12-24z />
<path color=#4d8668 d=M6191,411l12,24,2-8-13-28z />
<path color=#417e74 d=M6203,435l13,17,2-10-13-15z />
<path color=#469090 d=M6201,444l12,21,3-13-13-17z />
<path color=#5b8a59 d=M6178,391l13,20,1-12-13-23z />
<path color=#2f5795 d=M5499,552l12-2,1-19-11,6z />
<path color=#2f6a95 d=M6242,496l13,22,1-6-13-26z />
<path color=#378195 d=M6213,465l13,20,3-15-13-18z />
<path color=#3777af d=M6239,507l13,19,3-8-13-22z />
<path color=#347ba0 d=M6226,485l13,22,3-11-13-26z />
<path color=#4860c8 d=M5491,572l12,2,3-4-11-2z />
<path color=#738e48 d=M6166,376l13,0,2-33-13,7z />
<path color=#39797e d=M6216,452l13,18,2-13-13-15z />
<path color=#2f728b d=M6229,470l13,26,1-10-12-29z />
<path color=#2d6093 d=M6255,518l13,13,1-9-13-10z />
<path color=#56895d d=M6192,399l13,28,2-16-13-36z />
<path color=#49836a d=M6205,427l13,15,2-23-13-8z />
<path color=#356caf d=M6252,526l13,16,3-11-13-13z />
<path color=#2e6c8d d=M6243,486l13,26,2-14-13-33z />
<path color=#53a9a7 d=M6252,426l12,45,3,0-13-44z />
<path color=#2d6093 d=M5501,537l11-6,2-18-12,9z />
<path color=#2e6590 d=M6256,512l13,10,2-19-13-5z />
<path color=#2e6790 d=M5502,522l12-9,4-20-11,13z />
<path color=#72bc84 d=M6242,378l12,49,3,11-12-45z />
<path color=#a3c35e d=M6201,330l12,51,3,2-13-51z />
<path color=#6b8d4d d=M6179,376l13,23,2-24-13-32z />
<path color=#31758a d=M6245,465l13,33,2-14-13-39z />
<path color=#377880 d=M6231,457l12,29,2-21-12-36z />
<path color=#345ea2 d=M6265,542l13,13,3-14-13-10z />
<path color=#448071 d=M6218,442l13,15,2-28-13-10z />
<path color=#354f99 d=M5506,570l13,4,4-16-12-8z />
<path color=#c3c74c d=M6191,284l12,48,3,15-13-44z />
<path color=#55895d d=M6207,411l13,8,2-22-13-2z />
<path color=#2d5c94 d=M6268,531l13,10,1-11-13-8z />
<path color=#658c52 d=M6194,375l13,36,2-16-13-44z />
<path color=#459398 d=M6247,445l13,39,4-13-12-45z />
<path color=#2e6c8d d=M6258,498l13,5,2-19-13,0z />
<path color=#2f5795 d=M5511,550l12,8,2-15-13-12z />
<path color=#71c496 d=M6163,417l13,14,12-7-13-15z />
<path color=#4d65d5 d=M5461,579l12,3,18-10-12-3z />
<path color=#2f738a d=M6260,484l13,0,4-19-13,6z />
<path color=#628b54 d=M6209,395l13,2,4-20-13,4z />
<path color=#4860c9 d=M5503,574l12,3,4-3-13-4z />
<path color=#8aab57 d=M6196,351l13,44,4-14-12-51z />
<path color=#439bce d=M5518,493l13,19,3-1-13-20z />
<path color=#88923a d=M6168,350l13-7,3-32-14,14z />
<path color=#63baa3 d=M6176,431l13,19,12-6-13-20z />
<path color=#3858a5 d=M6278,555l13,12,3-11-13-15z />
<path color=#2e6391 d=M6269,522l13,8,2-24-13-3z />
<path color=#305695 d=M6281,541l13,15,1-8-13-18z />
<path color=#428fd3 d=M5531,512l12,20,4-2-13-19z />
<path color=#53afb5 d=M6189,450l13,21,11-6-12-21z />
<path color=#43a4c7 d=M6202,471l13,22,11-8-13-20z />
<path color=#4298cd d=M6215,493l13,21,11-7-13-22z />
<path color=#2d6093 d=M5512,531l13,12,1-15-12-15z />
<path color=#428dd4 d=M6228,514l13,19,11-7-13-19z />
<path color=#45816f d=M6233,429l12,36,2-20-12-43z />
<path color=#3373a0 d=M5514,513l12,15,5-16-13-19z />
<path color=#315395 d=M5523,558l12,7,2-11-12-11z />
<path color=#334e96 d=M6294,556l13,14,1-7-13-15z />
<path color=#528860 d=M6220,419l13,10,2-27-13-5z />
<path color=#3952a2 d=M5519,574l12,3,4-12-12-7z />
<path color=#7abc7b d=M6239,376l13,50,2,1-12-49z />
<path color=#81913e d=M6181,343l13,32,2-24-12-40z />
<path color=#4384da d=M6241,533l13,17,11-8-13-16z />
<path color=#3e56af d=M6291,567l13,11,3-8-13-14z />
<path color=#2d5e93 d=M6282,530l13,18,2-18-13-24z />
<path color=#3672ae d=M5526,528l13,16,4-12-12-20z />
<path color=#94c46c d=M6226,377l13-1,3,2-13,1z />
<path color=#4090ca d=M6303,493l13,32,3-1-13-31z />
<path color=#2e5a95 d=M5525,543l12,11,2-10-13-16z />
<path color=#305595 d=M6295,548l13,15,2-12-13-21z />
<path color=#959136 d=M6170,325l14-14,4-30-13,21z />
<path color=#2e6d8d d=M6271,503l13,3,3-24-14,2z />
<path color=#448edd d=M6316,525l13,6,3-1-13-6z />
<path color=#609e6e d=M6235,402l12,43,5-19-13-50z />
<path color=#344b95 d=M6308,563l13,21,2-18-13-15z />
<path color=#cbc74a d=M6188,281l13,49,2,2-12-48z />
<path color=#4879db d=M6254,550l13,14,11-9-13-13z />
<path color=#4a62cd d=M5515,577l12,4,4-4-12-3z />
<path color=#648c53 d=M6222,397l13,5,4-26-13,1z />
<path color=#2d5d94 d=M6297,530l13,21,2-13-13-27z />
<path color=#3777ae d=M6299,511l13,27,4-13-13-32z />
<path color=#337586 d=M6273,484l14-2,4-23-14,6z />
<path color=#a2a43e d=M6184,311l12,40,5-21-13-49z />
<path color=#2e688f d=M6284,506l13,24,2-19-12-29z />
<path color=#44a2be d=M6291,459l12,34,3,0-12-34z />
<path color=#315495 d=M6310,551l13,15,2-17-13-11z />
<path color=#3165a2 d=M6312,538l13,11,4-18-13-6z />
<path color=#4c70dc d=M6267,564l13,12,11-9-13-12z />
<path color=#315395 d=M5535,565l12-2,2-14-12,5z />
<path color=#364e9b d=M5531,577l12,3,4-17-12,2z />
<path color=#35809f d=M6287,482l12,29,4-18-12-34z />
<path color=#364795 d=M6321,584l13,1,3-22-14,3z />
<path color=#2d6093 d=M5539,544l11-10,5-16-12,14z />
<path color=#2e5a95 d=M5537,554l12-5,1-15-11,10z />
<path color=#5359d7 d=M6575,594l14,4,12-10-13-4z />
<path color=#4d65d5 d=M5485,585l12,3,18-11-12-3z />
<path color=#4961cb d=M5527,581l12,2,4-3-12-3z />
<path color=#5069de d=M6280,576l13,10,11-8-13-11z />
<path color=#3a3d96 d=M6333,596l13,8,2-8-14-11z />
<path color=#315395 d=M6323,566l14-3,2-23-14,9z />
<path color=#374696 d=M6334,585l14,11,2-18-13-15z />
<path color=#2d5e94 d=M6325,549l14-9,4-22-14,13z />
<path color=#334d95 d=M5543,580l12,2,4-20-12,1z />
<path color=#2f5795 d=M5547,563l12-1,2-19-12,6z />
<path color=#4d65d5 d=M5497,588l12,3,18-10-12-4z />
<path color=#4679d7 d=M6356,543l13,24,2-1-12-24z />
<path color=#394096 d=M6348,596l13,9,2-13-13-14z />
<path color=#418ad2 d=M6343,518l13,25,3-1-13-25z />
<path color=#4d65d6 d=M5443,589l12,3,18-10-12-3z />
<path color=#325195 d=M6337,563l13,15,2-17-13-21z />
<path color=#65bca3 d=M6162,438l13,18,14-6-13-19z />
<path color=#55b1b3 d=M6175,456l13,21,14-6-13-21z />
<path color=#2d6093 d=M5549,549l12-6,1-19-12,10z />
<path color=#354895 d=M6350,578l13,14,2-12-13-19z />
<path color=#428fd5 d=M6214,521l12,19,15-7-13-19z />
<path color=#3b5faf d=M6352,561l13,19,4-13-13-24z />
<path color=#3267a5 d=M6339,540l13,21,4-18-13-25z />
<path color=#2e6790 d=M5550,534l12-10,4-20-11,14z />
<path color=#4386db d=M6226,540l14,17,14-7-13-17z />
<path color=#354f99 d=M5555,582l12,4,4-17-12-7z />
<path color=#2f5795 d=M5559,562l12,7,2-15-12-11z />
<path color=#4d65d5 d=M5509,591l12,3,18-11-12-2z />
<path color=#4860c9 d=M5551,586l12,3,4-3-12-4z />
<path color=#439bce d=M5566,504l13,20,4-2-13-20z />
<path color=#4d65d6 d=M5455,592l12,3,18-10-12-3z />
<path color=#428fd3 d=M5579,524l13,19,3-2-12-19z />
<path color=#2d6093 d=M5561,543l12,11,2-14-13-16z />
<path color=#325195 d=M6365,580l14-13,4-18-14,18z />
<path color=#3373a0 d=M5562,524l13,16,4-16-13-20z />
<path color=#315395 d=M5571,569l13,8,2-11-13-12z />
<path color=#3952a2 d=M5567,586l12,3,5-12-13-8z />
<path color=#3672ae d=M5575,540l12,15,5-12-13-19z />
<path color=#2e5a95 d=M5573,554l13,12,1-11-12-15z />
<path color=#4d65d5 d=M5521,594l12,3,18-11-12-3z />
<path color=#516be0 d=M6266,584l13,11,14-9-13-10z />
<path color=#4a62cd d=M5563,589l13,3,3-3-12-3z />
<path color=#5257d4 d=M6279,595l13,27,14-10-13-26z />
<path color=#5855da d=M6631,612l14,6,12-10-14-6z />
<path color=#374596 d=M6375,601l13-4,3-22-14,9z />
<path color=#315395 d=M5584,577l12-2,2-15-12,6z />
<path color=#364e9b d=M5579,589l12,3,5-17-12,2z />
<path color=#2d6093 d=M5587,555l12-10,5-16-12,14z />
<path color=#2e5a95 d=M5586,566l12-6,1-15-12,10z />
<path color=#4d65d5 d=M5533,597l13,3,17-11-12-3z />
<path color=#4961cb d=M5576,592l12,3,3-3-12-3z />
<path color=#325195 d=M6377,584l14-9,2-22-14,14z />
<path color=#5a53d9 d=M6645,618l13,7,12-10-13-7z />
<path color=#2d5c94 d=M6379,567l14-14,4-22-14,18z />
<path color=#364796 d=M6388,597l14,6,2-17-13-11z />
<path color=#334d95 d=M5591,592l13,2,4-21-12,2z />
<path color=#2f5795 d=M5596,575l12-2,2-19-12,6z />
<path color=#4d65d5 d=M5546,600l12,3,18-11-13-3z />
<path color=#4d65d6 d=M5491,601l12,3,18-10-12-3z />
<path color=#428dd5 d=M6397,531l13,20,3-1-13-20z />
<path color=#315295 d=M6391,575l13,11,2-17-13-16z />
<path color=#4480d9 d=M6410,551l13,20,3-1-13-20z />
<path color=#2d6093 d=M5598,560l12-6,1-19-12,10z />
<path color=#384496 d=M6402,603l13,6,2-13-13-10z />
<path color=#3165a1 d=M6393,553l13,16,4-18-13-20z />
<path color=#2e6790 d=M5599,545l12-10,4-20-11,14z />
<path color=#344c95 d=M6404,586l13,10,2-12-13-15z />
<path color=#354f99 d=M5604,594l12,4,5-17-13-8z />
<path color=#3861ac d=M6406,569l13,15,4-13-13-20z />
<path color=#2f5795 d=M5608,573l13,8,1-15-12-12z />
<path color=#4d65d5 d=M5558,603l12,3,18-11-12-3z />
<path color=#4861c9 d=M5600,598l13,3,3-3-12-4z />
<path color=#439bce d=M5615,515l13,20,4-2-13-19z />
<path color=#4d65d6 d=M5503,604l12,3,18-10-12-3z />
<path color=#428fd3 d=M5628,535l13,20,4-2-13-20z />
<path color=#2d6093 d=M5610,554l12,12,2-15-13-16z />
<path color=#3373a0 d=M5611,535l13,16,4-16-13-20z />
<path color=#315395 d=M5621,581l12,8,2-11-13-12z />
<path color=#3952a2 d=M5616,598l12,3,5-12-12-8z />
<path color=#5f4ad5 d=M6686,639l14,6,12-10-14-7z />
<path color=#3672ae d=M5624,551l13,16,4-12-13-20z />
<path color=#2e5a95 d=M5622,566l13,12,2-11-13-16z />
<path color=#305695 d=M6419,584l15-15,4-18-15,20z />
<path color=#4d65d5 d=M5570,606l13,3,17-11-12-3z />
<path color=#4a62cd d=M5613,601l12,3,3-3-12-3z />
<path color=#6047d3 d=M6700,645l14,7,12-11-14-6z />
<path color=#315395 d=M5633,589l12-2,2-15-12,6z />
<path color=#364e9b d=M5628,601l13,3,4-17-12,2z />
<path color=#2d6093 d=M5637,567l12-10,4-16-12,14z />
<path color=#2e5a95 d=M5635,578l12-6,2-15-12,10z />
<path color=#4d65d5 d=M5583,609l12,3,18-11-13-3z />
<path color=#4961cb d=M5625,604l12,3,4-3-13-3z />
<path color=#344c95 d=M6429,603l14-6,3-21-15,10z />
<path color=#2f5895 d=M6431,586l15-10,2-22-14,15z />
<path color=#334d95 d=M5641,604l12,2,5-21-13,2z />
<path color=#4d65d5 d=M5595,612l12,3,18-11-12-3z />
<path color=#2f5795 d=M5645,587l13-2,1-19-12,6z />
<path color=#2d6192 d=M6434,569l14-15,5-23-15,20z />
<path color=#4d65d6 d=M5540,613l12,3,18-10-12-3z />
<path color=#334e95 d=M6443,597l14,6,2-17-13-10z />
<path color=#2d6093 d=M5647,572l12-6,2-19-12,10z />
<path color=#2e678f d=M5649,557l12-10,4-21-12,15z />
<path color=#4396d2 d=M6453,531l13,20,2-2-13-19z />
<path color=#374596 d=M6456,611l14,4,1-6-14-6z />
<path color=#2e5a95 d=M6446,576l13,10,2-17-13-15z />
<path color=#428ad7 d=M6466,551l13,19,2-1-13-20z />
<path color=#4d65d5 d=M5607,615l13,3,17-11-12-3z />
<path color=#344b95 d=M6457,603l14,6,2-13-14-10z />
<path color=#6340cd d=M6742,664l15,5,11-11-14-5z />
<path color=#316b9e d=M6448,554l13,15,5-18-13-20z />
<path color=#4d65d5 d=M5552,616l13,3,18-10-13-3z />
<path color=#439bce d=M5665,526l13,20,4-2-13-19z />
<path color=#4290d3 d=M5678,546l13,20,4-2-13-20z />
<path color=#315495 d=M6459,586l14,10,2-12-14-15z />
<path color=#2d6093 d=M5659,566l13,11,2-15-13-15z />
<path color=#346aac d=M6461,569l14,15,4-14-13-19z />
<path color=#3373a0 d=M5661,547l13,15,4-16-13-20z />
<path color=#3672ad d=M5674,562l13,16,4-12-13-20z />
<path color=#4d65d5 d=M5620,618l12,3,18-11-13-3z />
<path color=#633ecb d=M6757,669l14,4,11-10-14-5z />
<path color=#305595 d=M6473,596l14-9,2-18-14,15z />
<path color=#2d5d94 d=M6475,584l14-15,5-18-15,19z />
<path color=#2d6192 d=M5687,578l12-10,4-17-12,15z />
<path color=#889139 d=M6015,403l13-54,4-17-13,61z />
<path color=#623dc9 d=M6771,673l14,4,12-11-15-3z />
<path color=#315395 d=M6485,604l14-4,3-23-15,10z />
<path color=#613dc6 d=M6785,677l15,3,11-11-14-3z />
<path color=#2d5e94 d=M6487,587l15-10,2-22-15,14z />
<path color=#344c95 d=M6498,610l14,5,1-8-14-7z />
<path color=#2e6690 d=M6489,569l15-14,5-22-15,18z />
<path color=#305495 d=M6499,600l14,7,2-17-13-13z />
<path color=#4d65d5 d=M5602,628l13,3,17-10-12-3z />
<path color=#354995 d=M6512,615l14,6,1-6-14-8z />
<path color=#439bce d=M6509,533l13,21,2-1-13-21z />
<path color=#428ed3 d=M6522,554l13,23,3-1-14-23z />
<path color=#3d4da7 d=M6509,626l14,3,3-8-14-6z />
<path color=#2d5e93 d=M6502,577l13,13,3-17-14-18z />
<path color=#325095 d=M6513,607l14,8,2-12-14-13z />
<path color=#8e9138 d=M6024,398l13-38,2-35-13,48z />
<path color=#32719d d=M6504,555l14,18,4-19-13-21z />
<path color=#2f5895 d=M6515,590l14,13,2-13-13-17z />
<path color=#356fac d=M6518,573l13,17,4-13-13-23z />
<path color=#623dc9 d=M6759,684l15,3,11-10-14-4z />
<path color=#325095 d=M6527,615l14-2,2-17-14,7z />
<path color=#a78d2f d=M6032,332l14-66,3,10-14,65z />
<path color=#9b9133 d=M6026,373l13-48,2-34-13,58z />
<path color=#2f5895 d=M6529,603l14-7,3-17-15,11z />
<path color=#2d5f93 d=M6531,590l15-11,4-18-15,16z />
<path color=#a68f30 d=M6028,349l13-58,5-25-14,66z />
<path color=#613dc7 d=M6774,687l14,3,12-10-15-3z />
<path color=#315495 d=M6541,613l14-1,3-22-15,6z />
<path color=#9d9133 d=M6037,360l14-17,2-27-14,9z />
<path color=#3b4aa0 d=M6551,636l14,6,3-11-14-8z />
<path color=#354b95 d=M6554,623l14,8,1-8-14-11z />
<path color=#2d5e93 d=M6543,596l15-6,2-22-14,11z />
<path color=#2e6790 d=M6546,579l14-11,5-23-15,16z />
<path color=#315395 d=M6555,612l14,11,3-18-14-15z />
<path color=#364696 d=M6568,631l14,9,1-6-14-11z />
<path color=#4189d2 d=M6578,570l13,25,3-1-13-25z />
<path color=#404cab d=M6565,642l14,6,3-8-14-9z />
<path color=#a78b2f d=M6039,325l14-9,2-26-14,1z />
<path color=#344d95 d=M6569,623l14,11,2-13-13-16z />
<path color=#4298cc d=M6565,545l13,25,3-1-13-25z />
<path color=#9b9134 d=M6049,356l14-14,1-9-13,10z />
<path color=#2d5e94 d=M6558,590l14,15,2-17-14-20z />
<path color=#623dc9 d=M6748,694l14,4,12-11-15-3z />
<path color=#305595 d=M6572,605l13,16,2-12-13-21z />
<path color=#356eaf d=M6574,588l13,21,4-14-13-25z />
<path color=#305998 d=M5355,616l12,3,5-18-12,2z />
<path color=#3371a0 d=M6560,568l14,20,4-18-13-25z />
<path color=#2d5e93 d=M5360,603l12-2,1-17-11,7z />
<path color=#a29031 d=M6051,343l13-10,2-18-13,1z />
<path color=#aa7e2b d=M6041,291l14-1,4-16-13-8z />
<path color=#2e6b8e d=M5365,574l11-15,3-8-11,17z />
<path color=#2e6491 d=M5362,591l11-7,2-17-12,12z />
<path color=#374596 d=M6582,640l14,3,1-8-14-1z />
<path color=#3f48a6 d=M6579,648l14,6,3-11-14-3z />
<path color=#2e698f d=M5363,579l12-12,1-8-11,15z />
<path color=#344b95 d=M6583,634l14,1,3-18-15,4z />
<path color=#4574d1 d=M5347,621l13,3,7-5-12-3z />
<path color=#a8892e d=M6053,316l13-1,2-17-13-8z />
<path color=#315395 d=M6585,621l15-4,2-17-15,9z />
<path color=#2d5b95 d=M6587,609l15-9,4-18-15,13z />
<path color=#d2a037 d=M6055,290l13,8,4-6-13-18z />
<path color=#535cda d=M6555,652l14,6,10-10-14-6z />
<path color=#613dc7 d=M6762,698l15,3,11-11-14-3z />
<path color=#2e5995 d=M5367,619l12,2,5-23-12,3z />
<path color=#2e6292 d=M5372,601l12-3,1-21-12,7z />
<path color=#9f9032 d=M6060,350l13-13,3-13-13,18z />
<path color=#a39031 d=M6063,342l13-18,2-12-14,21z />
<path color=#334e95 d=M6597,635l15,1,2-22-14,3z />
<path color=#4473cf d=M5360,624l12,3,7-6-12-2z />
<path color=#545ada d=M6569,658l14,6,10-10-14-6z />
<path color=#2f629a d=M6223,586l13,28,1-10-13-25z />
<path color=#448173 d=M6169,497l14,23,1-10-13-20z />
<path color=#396fb8 d=M6220,594l13,31,3-11-13-28z />
<path color=#398598 d=M6180,531l13,24,3-15-13-20z />
<path color=#357ca1 d=M6193,555l13,21,3-11-13-25z />
<path color=#2f6a93 d=M6209,565l14,21,1-7-13-24z />
<path color=#4d9a94 d=M6166,504l14,27,3-11-14-23z />
<path color=#2e6a8e d=M5373,584l12-7,1-22-11,12z />
<path color=#3779af d=M6206,576l14,18,3-8-14-21z />
<path color=#39797e d=M6183,520l13,20,1-14-13-16z />
<path color=#2f728b d=M6196,540l13,25,2-10-14-29z />
<path color=#a78a2f d=M6064,333l14-21,2-28-14,31z />
<path color=#35559d d=M6233,625l13,11,3-15-13-7z />
<path color=#53abab d=M6219,495l13,44,3,3-13-43z />
<path color=#2e6491 d=M6224,579l13,25,2-21-13-19z />
<path color=#2f5a97 d=M5379,621l13,4,4-18-12-9z />
<path color=#384396 d=M6610,647l14,10,2-9-14-12z />
<path color=#2f5795 d=M6236,614l13,7,2-13-14-4z />
<path color=#4b8469 d=M6171,490l13,20,2-23-13-13z />
<path color=#307489 d=M5376,559l11-14,4-11-12,17z />
<path color=#2e6e8d d=M6211,555l13,24,2-15-13-31z />
<path color=#599265 d=M6156,460l13,37,2-7-13-41z />
<path color=#2e708c d=M5375,567l11-12,1-10-11,14z />
<path color=#2e5995 d=M6600,617l14-3,3-23-15,9z />
<path color=#62a87d d=M6153,471l13,33,3-7-13-37z />
<path color=#a1c360 d=M6166,387l13,64,3,8-13-62z />
<path color=#2e6292 d=M5384,598l12,9,2-17-13-13z />
<path color=#344b95 d=M6612,636l14,12,2-17-14-17z />
<path color=#2e6292 d=M6602,600l15-9,5-23-16,14z />
<path color=#2e6b8e d=M6226,564l13,19,2-20-13-13z />
<path color=#448071 d=M6184,510l13,16,3-29-14-10z />
<path color=#5f8d58 d=M6158,449l13,41,2-16-13-49z />
<path color=#38797f d=M6197,526l14,29,2-22-13-36z />
<path color=#34809c d=M6228,550l13,13,5-18-14-6z />
<path color=#439dcf d=M5404,557l13,23,4,1-13-23z />
<path color=#327587 d=M6213,533l13,31,2-14-13-38z />
<path color=#56895d d=M6173,474l13,13,2-22-13-6z />
<path color=#48aac6 d=M5391,534l13,23,4,1-13-23z />
<path color=#2d6093 d=M6237,604l14,4,2-27-14,2z />
<path color=#6a9a5e d=M6175,459l13,6,5-16-14,2z />
<path color=#aa7f2c d=M6066,315l14-31,2-27-14,41z />
<path color=#3a3e96 d=M6624,657l14,10,2-6-14-13z />
<path color=#3852a0 d=M6246,636l14,9,3-12-14-12z />
<path color=#48979a d=M6215,512l13,38,4-11-13-44z />
<path color=#4574d1 d=M5372,627l12,3,8-5-13-4z />
<path color=#ab7729 d=M6068,298l14-41,4-14-14,49z />
<path color=#427ed4 d=M6635,595l13,27,2-1-13-27z />
<path color=#4543ac d=M6621,668l14,7,3-8-14-10z />
<path color=#315395 d=M6249,621l14,12,1-10-13-15z />
<path color=#2e6a8e d=M5385,577l13,13,1-17-13-18z />
<path color=#374496 d=M6626,648l14,13,2-13-14-17z />
<path color=#7aa65f d=M6140,436l13,35,3-11-13-40z />
<path color=#335ea1 d=M5392,625l12,4,5-13-13-9z />
<path color=#4676d5 d=M5328,631l12,3,20-10-13-3z />
<path color=#2d5e93 d=M5396,607l13,9,2-12-13-14z />
<path color=#418fce d=M6622,568l13,27,2-1-13-27z />
<path color=#2f5795 d=M6614,614l14,17,2-17-13-23z />
<path color=#709350 d=M6160,425l13,49,2-15-13-57z />
<path color=#718f4a d=M6143,420l13,40,2-11-13-44z />
<path color=#95b558 d=M6162,402l13,57,4-8-13-64z />
<path color=#a59030 d=M6073,337l14-1,3-17-14,5z />
<path color=#3a8da8 d=M5387,545l14,21,3-9-13-23z />
<path color=#344d95 d=M6628,631l14,17,2-12-14-22z />
<path color=#633fcc d=M6758,700l14,3,5-2-15-3z />
<path color=#3c8bb8 d=M5401,566l13,20,3-6-13-23z />
<path color=#2e708c d=M5386,555l13,18,2-7-14-21z />
<path color=#2e6491 d=M5398,590l13,14,1-12-13-19z />
<path color=#3965b1 d=M6630,614l14,22,4-14-13-27z />
<path color=#78be80 d=M6206,445l13,50,3,4-13-48z />
<path color=#439bce d=M6181,561l13,21,12-6-13-21z />
<path color=#45a6c5 d=M6168,535l13,26,12-6-13-24z />
<path color=#417bcf d=M6208,600l13,33,12-8-13-31z />
<path color=#334d95 d=M6263,633l14,10,1-7-14-13z />
<path color=#2d5d94 d=M6251,608l13,15,3-20-14-22z />
<path color=#336ca4 d=M6617,591l13,23,5-19-13-27z />
<path color=#46816e d=M6200,497l13,36,2-21-13-43z />
<path color=#a78a2e d=M6076,324l14-5,1-18-13,11z />
<path color=#3d52a9 d=M6260,645l14,7,3-9-14-10z />
<path color=#4d73de d=M6221,633l14,12,11-9-13-11z />
<path color=#528860 d=M6186,487l14,10,2-28-14-4z />
<path color=#316f98 d=M5399,573l13,19,2-6-13-20z />
<path color=#2e6a8e d=M6239,583l14-2,2-27-14,9z />
<path color=#4392d6 d=M6194,582l14,18,12-6-14-18z />
<path color=#58b1ab d=M6154,506l14,29,12-4-14-27z />
<path color=#93a749 d=M6127,404l13,32,3-16-13-28z />
<path color=#3b3c95 d=M6638,667l15,4,1-9-14-1z />
<path color=#4292ce d=M6273,564l13,31,3,2-13-31z />
<path color=#305495 d=M6264,623l14,13,2-14-13-19z />
<path color=#443fa5 d=M6635,675l15,7,3-11-15-4z />
<path color=#88923a d=M6130,392l13,28,2-15-14-25z />
<path color=#384296 d=M6640,661l14,1,2-17-14,3z />
<path color=#929136 d=M6117,368l13,24,1-12-13-20z />
<path color=#61a171 d=M6202,469l13,43,4-17-13-50z />
<path color=#80913f d=M6145,405l13,44,2-24-13-53z />
<path color=#628b54 d=M6188,465l14,4,4-24-13,4z />
<path color=#b0b445 d=M6113,375l14,29,3-12-13-24z />
<path color=#2f738a d=M6241,563l14-9,5-24-14,15z />
<path color=#6ebd8d d=M6141,473l13,33,12-2-13-33z />
<path color=#b09c35 d=M6087,336l13,14,3-12-13-19z />
<path color=#305998 d=M5404,629l12,2,5-18-12,3z />
<path color=#a29434 d=M6103,338l14,30,1-8-13-34z />
<path color=#4676d5 d=M5340,634l12,3,20-10-12-3z />
<path color=#2d5e93 d=M5409,616l12-3,2-17-12,8z />
<path color=#beb340 d=M6100,350l13,25,4-7-14-30z />
<path color=#354a95 d=M6642,648l14-3,3-18-15,9z />
<path color=#4f6cde d=M6235,645l13,8,12-8-14-9z />
<path color=#2d5e94 d=M6267,603l13,19,2-14-13-26z />
<path color=#43a4c3 d=M6260,530l13,34,3,2-13-34z />
<path color=#315295 d=M6644,636l15-9,4-18-15,13z />
<path color=#2e6790 d=M6253,581l14,22,2-21-14-28z />
<path color=#3778ae d=M6269,582l13,26,4-13-13-31z />
<path color=#999134 d=M6118,360l13,20,2-25-13-12z />
<path color=#a78c2f d=M6090,319l13,19,2-12-14-25z />
<path color=#aa7e2b d=M6078,312l13-11,2-37-13,20z />
<path color=#5a52d8 d=M6611,678l14,7,10-10-14-7z />
<path color=#344c95 d=M6277,643l14,1,1-10-14,2z />
<path color=#2e6b8e d=M5414,586l11-14,4-9-12,17z />
<path color=#2e6491 d=M5411,604l12-8,1-16-12,12z />
<path color=#3a4ca0 d=M6274,652l13,3,4-11-14-1z />
<path color=#919137 d=M6131,380l14,25,2-33-14-17z />
<path color=#a59030 d=M6105,326l13,34,2-17-13-45z />
<path color=#2e698f d=M5412,592l12-12,1-8-11,14z />
<path color=#8dc472 d=M6128,437l13,36,12-2-13-35z />
<path color=#d2c547 d=M6153,317l13,70,3,10-13-69z />
<path color=#35809e d=M6255,554l14,28,4-18-13-34z />
<path color=#315395 d=M6278,636l14-2,2-21-14,9z />
<path color=#e0c744 d=M6061,340l13-1,13-3-14,1z />
<path color=#4574d1 d=M5396,634l13,3,7-6-12-2z />
<path color=#8f9137 d=M6147,372l13,53,2-23-13-62z />
<path color=#bfa136 d=M6122,327l13,3,5-14-14,6z />
<path color=#a39031 d=M6120,343l13,12,2-25-13-3z />
<path color=#5a42c4 d=M6755,685l15,9,2,9-14-3z />
<path color=#5167dd d=M6248,653l14,7,12-8-14-7z />
<path color=#374596 d=M6654,662l15,2,2-23-15,4z />
<path color=#2d5d94 d=M6280,622l14-9,2-20-14,15z />
<path color=#4676d5 d=M5352,637l13,4,19-11-12-3z />
<path color=#a9802c d=M6091,301l14,25,2-28-14-34z />
<path color=#b0cb5b d=M6115,403l13,34,12-1-13-32z />
<path color=#5b4fd5 d=M6625,685l15,7,10-10-15-7z />
<path color=#2e6391 d=M6282,608l14-15,5-19-15,21z />
<path color=#ab882e d=M6107,298l13,45,2-16-13-55z />
<path color=#f89237 d=M6100,243l13,16,3,15-13-32z />
<path color=#daa338 d=M6109,272l13,55,4-5-13-63z />
<path color=#ad6d27 d=M6080,284l13-20,2-18-13,11z />
<path color=#2e5995 d=M5416,631l13,3,4-23-12,2z />
<path color=#bab03f d=M6149,340l13,62,4-15-13-70z />
<path color=#bc6d2a d=M6082,257l13-11,5-3-14,0z />
<path color=#9f9032 d=M6133,355l14,17,2-32-14-10z />
<path color=#2e6292 d=M5421,613l12-2,1-22-11,7z />
<path color=#f4da4b d=M6074,339l14,11,12,0-13-14z />
<path color=#354895 d=M6287,655l14,2,4-15-14,2z />
<path color=#cbcf4f d=M6101,373l14,30,12,1-14-29z />
<path color=#334f95 d=M6291,644l14-2,1-13-14,5z />
<path color=#325095 d=M6656,645l15-4,3-22-15,8z />
<path color=#e0d34c d=M6088,350l13,23,12,2-13-25z />
<path color=#4f63d8 d=M6262,660l14,4,11-9-13-3z />
<path color=#4473cf d=M5409,637l12,3,8-6-13-3z />
<path color=#384396 d=M6669,664l14,12,2-18-14-17z />
<path color=#2d5b95 d=M6659,627l15-8,5-23-16,13z />
<path color=#ad9231 d=M6135,330l14,10,4-23-13-1z />
<path color=#ad7028 d=M6093,264l14,34,2-26-14-26z />
<path color=#e48733 d=M6095,246l14,26,4-13-13-16z />
<path color=#2e6a8e d=M5423,596l11-7,2-22-12,13z />
<path color=#4676d5 d=M5365,641l12,3,19-10-12-4z />
<path color=#2e5995 d=M6292,634l14-5,2-26-14,10z />
<path color=#3e3792 d=M6681,684l14,9,2-6-14-11z />
<path color=#4873d5 d=M6692,622l13,26,2-1-13-26z />
<path color=#493ba5 d=M6678,695l15,6,2-8-14-9z />
<path color=#2f5a97 d=M5429,634l12,4,5-19-13-8z />
<path color=#4f48be d=M6755,670l14,13,1,11-15-9z />
<path color=#307489 d=M5425,572l12-15,3-11-11,17z />
<path color=#4676d5 d=M5308,642l12,3,20-11-12-3z />
<path color=#3b3c95 d=M6683,676l14,11,2-13-14-16z />
<path color=#2e708c d=M5424,580l12-13,1-10-12,15z />
<path color=#4185d3 d=M6679,596l13,26,2-1-13-26z />
<path color=#334e95 d=M6671,641l14,17,3-17-14-22z />
<path color=#439dcd d=M6166,567l13,22,15-7-13-21z />
<path color=#407ccf d=M6193,608l13,34,15-9-13-33z />
<path color=#4d74df d=M6206,642l14,12,15-9-14-12z />
<path color=#48a7c0 d=M6153,541l13,26,15-6-13-26z />
<path color=#2e6292 d=M5433,611l13,8,1-17-13-13z />
<path color=#364b99 d=M6301,657l14,3,3-12-13-6z />
<path color=#4394d5 d=M6179,589l14,19,15-8-14-18z />
<path color=#374496 d=M6685,658l14,16,2-12-13-21z />
<path color=#325095 d=M6305,642l13,6,2-10-14-9z />
<path color=#3d5ab0 d=M6688,641l13,21,4-14-13-26z />
<path color=#3463a6 d=M6674,619l14,22,4-19-13-26z />
<path color=#5cb2a4 d=M6139,510l14,31,15-6-14-29z />
<path color=#439dcf d=M5454,569l13,24,4,0-13-23z />
<path color=#48aac6 d=M5440,546l14,23,4,1-14-23z />
<path color=#4d61d2 d=M6276,664l14,3,11-10-14-2z />
<path color=#2e6491 d=M6294,613l14-10,3-26-15,16z />
<path color=#4574d1 d=M5421,640l13,3,7-5-12-4z />
<path color=#3e3692 d=M6695,693l15,2,2-8-15,0z />
<path color=#2e6a8e d=M5434,589l13,13,2-16-13-19z />
<path color=#335ea1 d=M5441,638l13,4,5-14-13-9z />
<path color=#2d5e93 d=M5446,619l13,9,1-12-13-14z />
<path color=#4f6ddf d=M6220,654l14,9,14-10-13-8z />
<path color=#3655a0 d=M6705,648l16-15,2-1-16,15z />
<path color=#47379e d=M6693,701l14,5,3-11-15-2z />
<path color=#2e5995 d=M6306,629l14,9,2-20-14-15z />
<path color=#73bf86 d=M6126,476l13,34,15-4-13-33z />
<path color=#3b3b95 d=M6697,687l15,0,2-18-15,5z />
<path color=#2e6d8d d=M6296,593l15-16,4-25-14,22z />
<path color=#3a8da8 d=M5437,557l13,21,4-9-14-23z />
<path color=#3c8bb8 d=M5450,578l13,21,4-6-13-24z />
<path color=#2e708c d=M5436,567l13,19,1-8-13-21z />
<path color=#2e6491 d=M5447,602l13,14,2-12-13-18z />
<path color=#4b53c4 d=M6755,654l13,18,1,11-14-13z />
<path color=#334d95 d=M6318,648l14,5,2-7-14-8z />
<path color=#3a4fa2 d=M6315,660l14,2,3-9-14-5z />
<path color=#316f98 d=M5449,586l13,18,1-5-13-21z />
<path color=#384396 d=M6699,674l15-5,2-18-15,11z />
<path color=#344b95 d=M6701,662l15-11,5-18-16,15z />
<path color=#dac041 d=M6045,349l14-3,15-7-13,1z />
<path color=#4395d1 d=M6329,578l13,26,3,1-14-25z />
<path color=#305595 d=M6320,638l14,8,2-15-14-13z />
<path color=#94c46d d=M6113,441l13,35,15-3-13-36z />
<path color=#4d61d1 d=M6290,667l14,2,11-9-14-3z />
<path color=#5068dd d=M6234,663l13,6,15-9-14-7z />
<path color=#2e6491 d=M6308,603l14,15,2-21-13-20z />
<path color=#43a4ca d=M6315,552l14,26,2,2-13-27z />
<path color=#305998 d=M5454,642l12,2,5-18-12,2z />
<path color=#4676d5 d=M5389,647l13,3,19-10-12-3z />
<path color=#2d5e93 d=M5459,628l12-2,1-17-12,7z />
<path color=#423494 d=M6707,706l15,4,3-14-15-1z />
<path color=#3e3793 d=M6710,695l15,1,1-11-14,2z />
<path color=#2d5e94 d=M6322,618l14,13,2-14-14-20z />
<path color=#3676aa d=M6324,597l14,20,4-13-13-26z />
<path color=#4a5fcb d=M6754,647l14,20,0,5-13-18z />
<path color=#33799b d=M6311,577l13,20,5-19-14-26z />
<path color=#b6cb55 d=M6099,406l14,35,15-4-13-34z />
<path color=#2e6b8e d=M5463,599l12-15,4-8-12,17z />
<path color=#2e6491 d=M5460,616l12-7,2-17-12,12z />
<path color=#5f45cd d=M6683,711l14,6,10-11-14-5z />
<path color=#2e698f d=M5462,604l12-12,1-8-12,15z />
<path color=#3a3e96 d=M6712,687l14-2,3-22-15,6z />
<path color=#334f95 d=M6332,653l15-4,1-10-14,7z />
<path color=#f6d94a d=M6059,346l13,9,16-5-14-11z />
<path color=#364c99 d=M6329,662l14-1,4-12-15,4z />
<path color=#5065da d=M6247,669l14,5,15-10-14-4z />
<path color=#cecd4d d=M6086,377l13,29,16-3-14-30z />
<path color=#4574d1 d=M5446,646l13,4,7-6-12-2z />
<path color=#305695 d=M6334,646l14-7,2-20-14,12z />
<path color=#4c61d0 d=M6304,669l14,1,11-8-14-2z />
<path color=#e4d24a d=M6072,355l14,22,15-4-13-23z />
<path color=#4676d5 d=M5402,650l12,3,20-10-13-3z />
<path color=#443598 d=M6722,710l14,4,3-11-14-7z />
<path color=#354a95 d=M6714,669l15-6,3-22-16,10z />
<path color=#4c6cd8 d=M6752,640l14,23,2,4-14-20z />
<path color=#3e3792 d=M6725,696l14,7,2-8-15-10z />
<path color=#2e5995 d=M5466,644l13,3,4-24-12,3z />
<path color=#2d5f93 d=M6336,631l14-12,2-20-14,18z />
<path color=#4676d5 d=M5345,651l12,3,20-10-12-3z />
<path color=#305595 d=M6716,651l16-10,5-24-16,16z />
<path color=#2e6690 d=M6338,617l14-18,5-19-15,24z />
<path color=#5e43ca d=M6697,717l15,4,10-11-15-4z />
<path color=#2e6292 d=M5471,626l12-3,1-22-12,8z />
<path color=#3a3e96 d=M6726,685l15,10,2-18-14-14z />
<path color=#4f62d6 d=M6261,674l14,3,15-10-14-3z />
<path color=#4c75df d=M6191,651l14,12,15-9-14-12z />
<path color=#3f7ece d=M6178,616l13,35,15-9-13-34z />
<path color=#439ecb d=M6151,574l13,23,15-8-13-22z />
<path color=#4473cf d=M5459,650l12,3,8-6-13-3z />
<path color=#3f3491 d=M6739,703l15,7,1-7-14-8z />
<path color=#4ba9bb d=M6137,547l14,27,15-7-13-26z />
<path color=#334d95 d=M6343,661l15,0,3-15-14,3z />
<path color=#4395d3 d=M6164,597l14,19,15-8-14-19z />
<path color=#4a70d8 d=M6750,641l14,23,2-1-14-23z />
<path color=#4281d6 d=M6737,617l13,24,2-1-13-24z />
<path color=#4936a0 d=M6736,714l15,4,3-8-15-7z />
<path color=#305495 d=M6347,649l14-3,1-13-14,6z />
<path color=#2e6a8e d=M5472,609l12-8,2-21-12,12z />
<path color=#4961cb d=M6318,670l14,1,11-10-14,1z />
<path color=#354995 d=M6729,663l14,14,3-17-14-19z />
<path color=#4676d5 d=M5414,653l13,4,19-11-12-3z />
<path color=#3c3a94 d=M6741,695l14,8,2-13-14-13z />
<path color=#5fb49f d=M6124,516l13,31,16-6-14-31z />
<path color=#2f5a97 d=M5479,647l12,3,5-18-13-9z />
<path color=#307489 d=M5475,584l12-15,3-11-11,18z />
<path color=#4676d5 d=M5357,654l13,4,19-11-12-3z />
<path color=#355da4 d=M6732,641l14,19,4-19-13-24z />
<path color=#2e708c d=M5474,592l12-12,1-11-12,15z />
<path color=#4f6fdf d=M6205,663l14,10,15-10-14-9z />
<path color=#5e42c9 d=M6712,721l15,4,9-11-14-4z />
<path color=#384296 d=M6743,677l14,13,3-12-14-18z />
<path color=#3e56af d=M6746,660l14,18,4-14-14-23z />
<path color=#2e6292 d=M5483,623l13,9,2-17-14-14z />
<path color=#2d5d94 d=M6348,639l14-6,3-27-15,13z />
<path color=#78c081 d=M6110,481l14,35,15-6-13-34z />
<path color=#4d61d2 d=M6275,677l14,2,15-10-14-2z />
<path color=#439ecf d=M5504,582l13,23,4,0-13-23z />
<path color=#48aac6 d=M5490,558l14,24,4,0-14-23z />
<path color=#4474d1 d=M5471,653l13,3,7-6-12-3z />
<path color=#d1b83e d=M6029,360l14-5,16-9-14,3z />
<path color=#2e6a8e d=M5484,601l14,14,1-17-13-18z />
<path color=#335097 d=M6358,661l14,1,3-12-14-4z />
<path color=#335ea0 d=M5491,650l13,4,5-13-13-9z />
<path color=#2d5e93 d=M5496,632l13,9,2-12-13-14z />
<path color=#5069dd d=M6219,673l14,7,14-11-13-6z />
<path color=#305695 d=M6361,646l14,4,1-10-14-7z />
<path color=#4763c9 d=M6332,671l14,0,12-10-15,0z />
<path color=#2e678f d=M6350,619l15-13,2-26-15,19z />
<path color=#99c569 d=M6097,446l13,35,16-5-13-35z />
<path color=#3a8da7 d=M5487,569l13,21,4-8-14-24z />
<path color=#3c8bb8 d=M5500,590l14,21,3-6-13-23z />
<path color=#2e708c d=M5486,580l13,18,1-8-13-21z />
<path color=#2e6491 d=M5498,615l13,14,1-12-13-19z />
<path color=#5e42c8 d=M6727,725l14,3,10-10-15-4z />
<path color=#316f98 d=M5499,598l13,19,2-6-14-21z />
<path color=#2e718b d=M6352,599l15-19,5-25-15,25z />
<path color=#2d5f93 d=M6362,633l14,7,3-21-14-13z />
<path color=#4c61d0 d=M6289,679l14,2,15-11-14-1z />
<path color=#bbcb51 d=M6084,411l13,35,16-5-14-35z />
<path color=#f5d749 d=M6043,355l13,8,16-8-13-9z />
<path color=#5065da d=M6233,680l14,5,14-11-14-5z />
<path color=#305495 d=M6375,650l14,5,1-8-14-7z />
<path color=#4676d5 d=M5439,660l13,3,19-10-12-3z />
<path color=#305998 d=M5504,654l13,3,4-19-12,3z />
<path color=#3655a1 d=M6372,662l14,1,3-8-14-5z />
<path color=#2d5e93 d=M5509,641l12-3,2-17-12,8z />
<path color=#d1cd4c d=M6070,382l14,29,15-5-13-29z />
<path color=#6043cd d=M6685,728l15,4,12-11-15-4z />
<path color=#439dce d=M6385,580l14,25,3,1-14-25z />
<path color=#2d5b95 d=M6376,640l14,7,2-14-13-14z />
<path color=#2e6b8e d=M5514,611l12-15,3-8-12,17z />
<path color=#e7d249 d=M6056,363l14,19,16-5-14-22z />
<path color=#4767cc d=M6346,671l14,0,12-9-14-1z />
<path color=#2e6491 d=M5511,629l12-8,2-17-13,13z />
<path color=#2e698f d=M6365,606l14,13,2-20-14-19z />
<path color=#49abc3 d=M6372,555l13,25,3,1-13-25z />
<path color=#2e698f d=M5512,617l13-13,1-8-12,15z />
<path color=#2e6391 d=M6379,619l13,14,3-15-14-19z />
<path color=#337d97 d=M6367,580l14,19,4-19-13-25z />
<path color=#367ca7 d=M6381,599l14,19,4-13-14-25z />
<path color=#4574d1 d=M5497,659l12,3,8-5-13-3z />
<path color=#4b77df d=M6176,660l14,13,15-10-14-12z />
<path color=#4676d5 d=M5452,663l13,3,19-10-13-3z />
<path color=#3f7fce d=M6163,625l13,35,15-9-13-35z />
<path color=#305695 d=M6389,655l14-4,2-9-15,5z />
<path color=#43a0ca d=M6135,581l14,24,15-8-13-23z />
<path color=#33539a d=M6386,663l14,0,3-12-14,4z />
<path color=#2e5995 d=M5517,657l12,2,5-23-13,2z />
<path color=#6042cb d=M6700,732l14,4,13-11-15-4z />
<path color=#4396d2 d=M6149,605l14,20,15-9-14-19z />
<path color=#4676d5 d=M5395,664l12,3,20-10-13-4z />
<path color=#4eaab7 d=M6122,553l13,28,16-7-14-27z />
<path color=#2d5d94 d=M6390,647l15-5,2-21-15,12z />
<path color=#476ace d=M6360,671l15,1,11-9-14-1z />
<path color=#2e6292 d=M5521,638l13-2,1-22-12,7z />
<path color=#63b69b d=M6108,521l14,32,15-6-13-31z />
<path color=#4473cf d=M5509,662l13,4,7-7-12-2z />
<path color=#2e6491 d=M6392,633l15-12,3-20-15,17z />
<path color=#2e6b8e d=M6395,618l15-17,4-20-15,24z />
<path color=#4d62d2 d=M6261,688l14,2,14-11-14-2z />
<path color=#2e6a8e d=M5523,621l12-7,2-22-12,12z />
<path color=#4677d5 d=M5465,666l12,4,20-11-13-3z />
<path color=#4964cd d=M6318,681l14,1,14-11-14,0z />
<path color=#c9b13c d=M6013,371l14-7,16-9-14,5z />
<path color=#7dc07e d=M6095,486l13,35,16-5-14-35z />
<path color=#5f41c9 d=M6714,736l15,3,12-11-14-3z />
<path color=#2f5a97 d=M5529,659l13,4,5-18-13-9z />
<path color=#4676d5 d=M5407,667l13,4,19-11-12-3z />
<path color=#307489 d=M5526,596l12-15,3-11-12,18z />
<path color=#2e708c d=M5525,604l12-12,1-11-12,15z />
<path color=#506ade d=M6204,683l14,7,15-10-14-7z />
<path color=#315495 d=M6400,663l15,1,3-15-15,2z />
<path color=#2e6292 d=M5534,636l13,9,1-18-13-13z />
<path color=#2e5a95 d=M6403,651l15-2,1-13-14,6z />
<path color=#466bcc d=M6375,672l14,1,11-10-14,0z />
<path color=#9ec665 d=M6081,450l14,36,15-5-13-35z />
<path color=#449ecf d=M5555,594l13,23,4,1-13-24z />
<path color=#48abc5 d=M5541,570l14,24,4,0-14-23z />
<path color=#4475d0 d=M5522,666l13,3,7-6-13-4z />
<path color=#2e6292 d=M6405,642l14-6,3-26-15,11z />
<path color=#2e6a8e d=M5535,614l13,13,2-17-13-18z />
<path color=#4676d5 d=M5477,670l13,3,19-11-12-3z />
<path color=#4b62d0 d=M6275,690l14,1,14-10-14-2z />
<path color=#335ea0 d=M5542,663l13,4,5-14-13-8z />
<path color=#2d5e93 d=M5547,645l13,8,2-12-14-14z />
<path color=#f4d648 d=M6027,364l13,6,16-7-13-8z />
<path color=#4867cd d=M6332,682l14,0,14-11-14,0z />
<path color=#5066da d=M6218,690l14,5,15-10-14-5z />
<path color=#bfcb50 d=M6068,417l13,33,16-4-13-35z />
<path color=#3a8da7 d=M5538,581l13,21,4-8-14-24z />
<path color=#2e708b d=M5537,592l13,18,1-8-13-21z />
<path color=#3c8bb7 d=M5551,602l14,21,3-6-13-23z />
<path color=#2e6491 d=M5548,627l14,14,2-12-14-19z />
<path color=#325699 d=M6415,664l14,3,3-12-14-6z />
<path color=#316f98 d=M5550,610l14,19,1-6-14-21z />
<path color=#2d5b95 d=M6418,649l14,6,2-10-15-9z />
<path color=#d5ce4b d=M6054,389l14,28,16-6-14-29z />
<path color=#ead349 d=M6040,370l14,19,16-7-14-19z />
<path color=#456dcc d=M6389,673l14,2,12-11-15-1z />
<path color=#2e6c8d d=M6407,621l15-11,3-27-15,18z />
<path color=#4576d3 d=M5535,669l13,3,7-5-13-4z />
<path color=#4677d5 d=M5490,673l13,3,19-10-13-4z />
<path color=#2e6392 d=M6419,636l15,9,2-20-14-15z />
<path color=#305998 d=M5555,667l13,2,5-18-13,2z />
<path color=#2d5f93 d=M5560,653l13-2,1-18-12,8z />
<path color=#327586 d=M6410,601l15-18,4-25-15,23z />
<path color=#2f5895 d=M6432,655l14,7,2-7-14-10z />
<path color=#4b78de d=M6161,669l14,14,15-10-14-13z />
<path color=#476acd d=M6346,682l14,1,15-11-15-1z />
<path color=#2e6c8e d=M5565,623l12-15,4-8-13,17z />
<path color=#2e6591 d=M5562,641l12-8,2-17-12,13z />
<path color=#365ca4 d=M6429,667l14,4,3-9-14-7z />
<path color=#3f80cd d=M6147,633l14,36,15-9-13-35z />
<path color=#6042cb d=M6687,744l15,4,12-12-14-4z />
<path color=#2e698f d=M5564,629l12-13,1-8-12,15z />
<path color=#43a2c9 d=M6120,588l14,25,15-8-14-24z />
<path color=#2d5e93 d=M6434,645l14,10,2-15-14-15z />
<path color=#43a0ca d=M6443,585l13,27,3,1-13-27z />
<path color=#4397d1 d=M6134,613l13,20,16-8-14-20z />
<path color=#50acb3 d=M6106,560l14,28,15-7-13-28z />
<path color=#4671d1 d=M6403,675l15,2,11-10-14-3z />
<path color=#2e6d8d d=M6422,610l14,15,2-21-13-21z />
<path color=#50aeb9 d=M6429,558l14,27,3,1-14-27z />
<path color=#2e6690 d=M6436,625l14,15,2-14-14-22z />
<path color=#66b796 d=M6093,527l13,33,16-7-14-32z />
<path color=#4677d5 d=M5503,676l13,3,19-10-13-3z />
<path color=#3780a7 d=M6438,604l14,22,4-14-13-27z />
<path color=#388193 d=M6425,583l13,21,5-19-14-27z />
<path color=#2e5a95 d=M5568,669l13,2,4-23-12,3z />
<path color=#4676d5 d=M5445,677l13,4,19-11-12-4z />
<path color=#2f5895 d=M6446,662l15,0,1-10-14,3z />
<path color=#34589e d=M6443,671l15,3,3-12-15,0z />
<path color=#5f42c9 d=M6702,748l15,3,12-12-15-3z />
<path color=#476ccf d=M6360,683l15,1,14-11-14-1z />
<path color=#2e6292 d=M5573,651l12-3,2-23-13,8z />
<path color=#81c17a d=M6079,492l14,35,15-6-13-35z />
<path color=#2d5e93 d=M6448,655l14-3,3-21-15,9z />
<path color=#4773d5 d=M6418,677l14,3,11-9-14-4z />
<path color=#4374ce d=M5560,675l13,3,8-7-13-2z />
<path color=#2e6690 d=M6450,640l15-9,2-20-15,15z />
<path color=#2e6b8e d=M5574,633l13-8,1-22-12,13z />
<path color=#4677d5 d=M5516,679l13,3,19-10-13-3z />
<path color=#2e6c8d d=M6452,626l15-15,5-20-16,21z />
<path color=#a3c761 d=M6065,456l14,36,16-6-14-36z />
<path color=#2e5b96 d=M5581,671l13,4,4-19-13-8z />
<path color=#4676d5 d=M5458,681l13,3,19-11-13-3z />
<path color=#307488 d=M5577,608l12-15,4-11-12,18z />
<path color=#2e718b d=M5576,616l12-13,1-10-12,15z />
<path color=#315596 d=M6458,674l14,4,4-15-15-1z />
<path color=#4867cc d=M6317,693l15,0,14-11-14,0z />
<path color=#2e6392 d=M5585,648l13,8,2-17-13-14z />
<path color=#2e5b95 d=M6461,662l15,1,1-13-15,2z />
<path color=#466fd0 d=M6375,684l14,2,14-11-14-2z />
<path color=#c2cb4f d=M6052,422l13,34,16-6-13-33z />
<path color=#4773d4 d=M6432,680l15,4,11-10-15-3z />
<path color=#4aacc4 d=M5593,582l13,23,4,0-13-23z />
<path color=#44a0cf d=M5606,605l14,23,4,0-14-23z />
<path color=#4475d0 d=M5573,678l13,3,8-6-13-4z />
<path color=#edd549 d=M6024,379l14,16,16-6-14-19z />
<path color=#2e6292 d=M6462,652l15-2,3-27-15,8z />
<path color=#d8ce4b d=M6038,395l14,27,16-5-14-28z />
<path color=#2e6b8e d=M5587,625l13,14,2-17-14-19z />
<path color=#4677d5 d=M5529,682l13,4,18-11-12-3z />
<path color=#3b8ea5 d=M5589,593l14,21,3-9-13-23z />
<path color=#33579c d=M6472,678l15,6,3-12-14-9z />
<path color=#2e718b d=M5588,603l14,19,1-8-14-21z />
<path color=#3c8cb7 d=M5603,614l14,20,3-6-14-23z />
<path color=#2e6590 d=M5600,639l13,13,2-12-13-18z />
<path color=#2e5a95 d=M6476,663l14,9,1-10-14-12z />
<path color=#476acd d=M6332,693l14,1,14-11-14-1z />
<path color=#317097 d=M5602,622l13,18,2-6-14-20z />
<path color=#4771d2 d=M6389,686l15,2,14-11-15-2z />
<path color=#8f9137 d=M5905,469l13-49,5-33-13,56z />
<path color=#6043cc d=M6675,754l15,4,12-10-15-4z />
<path color=#4873d5 d=M6447,684l14,5,11-11-14-4z />
<path color=#2e6c8d d=M6465,631l15-8,3-27-16,15z />
<path color=#2e6292 d=M6477,650l14,12,3-21-14-18z />
<path color=#43a5c8 d=M6104,593l14,26,16-6-14-25z />
<path color=#439ad0 d=M6118,619l14,21,15-7-13-20z />
<path color=#305595 d=M6490,672l14,10,1-7-14-13z />
<path color=#385aa8 d=M6487,684l14,7,3-9-14-10z />
<path color=#327586 d=M6467,611l16-15,4-25-15,20z />
<path color=#55afaf d=M6090,564l14,29,16-5-14-28z />
<path color=#2d5c94 d=M6491,662l14,13,3-15-14-19z />
<path color=#429bca d=M6501,601l13,31,3,1-14-31z />
<path color=#2e6d8d d=M5617,634l12-16,3-8-12,18z />
<path color=#2e6690 d=M5613,652l13-8,2-18-13,14z />
<path color=#2e6a8e d=M5615,640l13-14,1-8-12,16z />
<path color=#4973d8 d=M6461,689l15,5,11-10-15-6z />
<path color=#4773d5 d=M6404,688l14,3,14-11-14-3z />
<path color=#2e6c8e d=M6480,623l14,18,2-20-13-25z />
<path color=#5f42ca d=M6690,758l15,3,12-10-15-3z />
<path color=#4eabb9 d=M6487,571l14,30,2,1-13-30z />
<path color=#466cce d=M6346,694l15,1,14-11-15-1z />
<path color=#2e6391 d=M6494,641l14,19,2-14-14-25z />
<path color=#377ea9 d=M6496,621l14,25,4-14-13-31z />
<path color=#315395 d=M6504,682l15,3,1-10-15,0z />
<path color=#3755a2 d=M6501,691l15,6,3-12-15-3z />
<path color=#87c276 d=M6063,495l14,37,16-5-14-35z />
<path color=#378296 d=M6483,596l13,25,5-20-14-30z />
<path color=#4577d4 d=M5554,689l13,3,19-11-13-3z />
<path color=#2e5a95 d=M6505,675l15,0,3-21-15,6z />
<path color=#4677d4 d=M5497,690l12,4,20-12-13-3z />
<path color=#4b72db d=M6476,694l14,6,11-9-14-7z />
<path color=#2e6292 d=M6508,660l15-6,2-21-15,13z />
<path color=#4874d7 d=M6418,691l15,4,14-11-15-4z />
<path color=#2e6491 d=M5624,661l13-3,2-23-13,9z />
<path color=#aac85d d=M6049,458l14,37,16-3-14-36z />
<path color=#939136 d=M5916,448l14-17,2-24-14,13z />
<path color=#2e698f d=M6510,646l15-13,5-20-16,19z />
<path color=#345099 d=M6516,697l14,6,3-15-14-3z />
<path color=#305495 d=M6519,685l14,3,2-13-15,0z />
<path color=#4577d4 d=M5567,692l13,2,19-10-13-3z />
<path color=#2e6c8d d=M5626,644l13-9,1-23-12,14z />
<path color=#c7cd4f d=M6036,426l13,32,16-2-13-34z />
<path color=#4577d4 d=M5509,694l13,3,20-11-13-4z />
<path color=#b59c34 d=M5923,387l13-9,4-5-14,9z />
<path color=#9f9032 d=M5918,420l14-13,4-29-13,9z />
<path color=#4c6fda d=M6490,700l15,7,11-10-15-6z />
<path color=#327586 d=M5629,618l13-16,3-12-13,20z />
<path color=#2d5e94 d=M6520,675l15,0,3-27-15,6z />
<path color=#87923a d=M5923,482l14-25,4-21-13,19z />
<path color=#2f728b d=M5628,626l12-14,2-10-13,16z />
<path color=#4974d8 d=M6433,695l14,5,14-11-14-5z />
<path color=#2e6491 d=M5637,658l14,7,1-18-13-12z />
<path color=#37509e d=M6530,703l15,8,3-12-15-11z />
<path color=#315295 d=M6533,688l15,11,1-10-14-14z />
<path color=#4771d2 d=M6375,697l15,2,14-11-15-2z />
<path color=#919137 d=M5928,455l13-19,2-19-13,14z />
<path color=#4eafc0 d=M5645,590l14,23,3,0-13-22z />
<path color=#6046d1 d=M6685,759l15,4,5-2-15-3z />
<path color=#4d6cda d=M6505,707l14,7,11-11-14-6z />
<path color=#2e688f d=M6523,654l15-6,3-27-16,12z />
<path color=#2e6d8d d=M5639,635l13,12,2-17-14-18z />
<path color=#2d5c94 d=M6535,675l14,14,3-21-14-20z />
<path color=#344d95 d=M6548,699l14,11,2-7-15-14z />
<path color=#3d52aa d=M6545,711l14,8,3-9-14-11z />
<path color=#9a9134 d=M5930,431l13-14,2-19-13,9z />
<path color=#4a73da d=M6447,700l15,5,14-11-15-5z />
<path color=#3e8fa0 d=M5642,602l13,20,4-9-14-23z />
<path color=#2f738a d=M5640,612l14,18,1-8-13-20z />
<path color=#2e718b d=M6525,633l16-12,4-26-15,18z />
<path color=#315495 d=M6549,689l15,14,2-15-14-20z />
<path color=#4192cd d=M6559,628l13,32,3,1-14-33z />
<path color=#c2a136 d=M5936,378l14-3,3-5-13,3z />
<path color=#a49031 d=M5932,407l13-9,5-23-14,3z />
<path color=#4773d4 d=M6390,699l14,3,14-11-14-3z />
<path color=#466cce d=M6331,705l15,1,15-11-15-1z />
<path color=#4f69db d=M6519,714l15,7,11-10-15-8z />
<path color=#2e6690 d=M6538,648l14,20,2-21-13-26z />
<path color=#2d5d94 d=M6552,668l14,20,2-14-14-27z />
<path color=#43a4c5 d=M6545,595l14,33,2,0-13-32z />
<path color=#3677ad d=M6554,647l14,27,4-14-13-32z />
<path color=#354a95 d=M6562,710l15,4,2-10-15-1z />
<path color=#3c4ca3 d=M6559,719l15,7,3-12-15-4z />
<path color=#4b72db d=M6462,705l14,6,14-11-14-6z />
<path color=#347d9d d=M6541,621l13,26,5-19-14-33z />
<path color=#325195 d=M6564,703l15,1,2-21-15,5z />
<path color=#5448c4 d=M6683,739l14,10,3,14-15-4z />
<path color=#5166dd d=M6534,721l14,8,11-10-14-8z />
<path color=#939136 d=M5937,457l13-21,5-30-14,30z />
<path color=#2d5b95 d=M6566,688l15-5,3-21-16,12z />
<path color=#4874d6 d=M6404,702l15,4,14-11-15-4z />
<path color=#2e6292 d=M6568,674l16-12,4-20-16,18z />
<path color=#384699 d=M6574,726l15,6,3-15-15-3z />
<path color=#9e9133 d=M5941,436l14-30,2-26-14,37z />
<path color=#344b95 d=M6577,714l15,3,2-13-15,0z />
<path color=#4d70dc d=M6476,711l15,7,14-11-15-7z />
<path color=#5262dc d=M6548,729l15,7,11-10-15-7z />
<path color=#2d6192 d=M5201,686l11-14,4-14-11,17z />
<path color=#2e6590 d=M5205,675l11-17,1-11-11,20z />
<path color=#2e688f d=M5206,667l11-20,2-2-11,10z />
<path color=#305595 d=M6579,704l15,0,2-27-15,6z />
<path color=#4974d8 d=M6419,706l14,5,14-11-14-5z />
<path color=#a68e30 d=M5943,417l14-37,2-26-14,44z />
<path color=#2e6e8d d=M5208,655l11-10,1-23-11,17z />
<path color=#3b469e d=M6589,732l14,8,3-13-14-10z />
<path color=#354995 d=M6592,717l14,10,2-10-14-13z />
<path color=#4e6ddd d=M6491,718l15,7,13-11-14-7z />
<path color=#327586 d=M5209,639l11-17,5-24-11,23z />
<path color=#a9822c d=M5945,398l14-44,4-31-13,52z />
<path color=#4952c0 d=M6682,719l15,16,0,14-14-10z />
<path color=#5cb2a3 d=M6106,557l14,44,4,9-14-38z />
<path color=#535fda d=M6563,736l15,7,11-11-15-6z />
<path color=#2d6192 d=M6581,683l15-6,3-27-15,12z />
<path color=#315395 d=M6594,704l14,13,3-21-15-19z />
<path color=#374496 d=M6606,727l15,11,1-8-14-13z />
<path color=#4047a9 d=M6603,740l15,7,3-9-15-11z />
<path color=#4a73da d=M6433,711l15,6,14-12-15-5z />
<path color=#2e6a8e d=M6584,662l15-12,5-26-16,18z />
<path color=#506add d=M6506,725l14,7,14-11-15-7z />
<path color=#979135 d=M5947,442l14-13,3-7-14,14z />
<path color=#344b95 d=M6608,717l14,13,3-15-14-19z />
<path color=#4189d2 d=M6618,656l13,31,3,1-14-31z />
<path color=#9f9032 d=M5950,436l14-14,5-36-14,20z />
<path color=#4773d4 d=M6375,710l15,4,14-12-14-3z />
<path color=#4eaebe d=M6116,603l14,19,4-2-14-19z />
<path color=#3777af d=M6103,659l14,35,5-19-14-31z />
<path color=#545cdb d=M6578,743l15,7,10-10-14-8z />
<path color=#2e6790 d=M5212,672l13-1,3-17-12,4z />
<path color=#2f6b91 d=M6108,644l14,31,2-17-14-27z />
<path color=#2d5f93 d=M6596,677l15,19,2-20-14-26z />
<path color=#305e9b d=M6117,694l14,14,5-24-14-9z />
<path color=#429bca d=M6604,624l14,32,2,1-13-32z />
<path color=#305595 d=M6611,696l14,19,2-14-14-25z />
<path color=#7ec07c d=M6092,508l14,49,4,15-14-44z />
<path color=#2e6c8d d=M5216,658l12-4,1-15-12,8z />
<path color=#366fb0 d=M6613,676l14,25,4-14-13-31z />
<path color=#317795 d=M5217,647l12-8,2-5-12,11z />
<path color=#3681a4 d=M6089,637l14,22,5-15-14-27z />
<path color=#5faf97 d=M6103,560l13,43,4-2-14-44z />
<path color=#384396 d=M6621,738l15,1,2-10-16,1z />
<path color=#2e6292 d=M6122,675l14,9,2-21-14-5z />
<path color=#31768a d=M6094,617l14,27,2-13-14-33z />
<path color=#2f708c d=M6110,631l14,27,2-18-14-22z />
<path color=#4577d3 d=M6114,698l14,14,3-4-14-14z />
<path color=#3e43a1 d=M6618,747l15,4,3-12-15-1z />
<path color=#3a889d d=M6112,618l14,22,4-18-14-19z />
<path color=#3c8590 d=M6075,611l14,26,5-20-14-32z />
<path color=#4b72db d=M6448,717l14,6,14-12-14-6z />
<path color=#3e82c8 d=M6100,662l14,36,3-4-14-35z />
<path color=#4461c1 d=M6682,698l14,22,1,15-15-16z />
<path color=#33759f d=M6599,650l14,26,5-20-14-32z />
<path color=#5166dd d=M6520,732l15,8,13-11-14-8z />
<path color=#327587 d=M5219,645l12-11,1-29-12,17z />
<path color=#a8892e d=M5955,406l14-20,2-34-14,28z />
<path color=#4a8b7b d=M6061,584l14,27,5-26-14-23z />
<path color=#354a95 d=M6622,730l16-1,2-21-15,7z />
<path color=#4aa8bc d=M5254,603l14,30,5,7-14-27z />
<path color=#41a0be d=M6072,616l14,25,3-4-14-26z />
<path color=#335a9e d=M6131,708l14,11,5-19-14-16z />
<path color=#3b7d82 d=M6096,598l14,33,2-13-14-38z />
<path color=#c2c84d d=M6050,420l14,64,5,10-14-57z />
<path color=#4197c8 d=M6086,641l14,21,3-3-14-22z />
<path color=#336ea1 d=M5225,671l13,22,4-14-14-25z />
<path color=#4f998c d=M6098,580l14,38,4-15-13-43z />
<path color=#4196aa d=M6130,622l15-4,3-2-14,4z />
<path color=#5e9d6f d=M6048,552l13,32,5-22-14-27z />
<path color=#427e74 d=M6080,585l14,32,2-19-14-37z />
<path color=#54a9a6 d=M6058,587l14,29,3-5-14-27z />
<path color=#2e6b8e d=M6124,658l14,5,2-22-14-1z />
<path color=#5db2a1 d=M5240,573l14,30,5,10-14-27z />
<path color=#2e698f d=M5228,654l14,25,1-11-14-29z />
<path color=#2d5e93 d=M6136,684l14,16,2-16-14-21z />
<path color=#5659dc d=M6593,750l15,6,10-9-15-7z />
<path color=#4874d6 d=M6390,714l14,4,15-12-15-4z />
<path color=#5d8b57 d=M6052,535l14,27,2-21-14-21z />
<path color=#486fd3 d=M6128,712l14,11,3-4-14-11z />
<path color=#508762 d=M6066,562l14,23,2-24-14-20z />
<path color=#4192cc d=M6158,649l14,27,3-2-13-27z />
<path color=#3268a5 d=M5238,693l13,10,4-10-13-14z />
<path color=#2d6192 d=M5242,679l13,14,1-8-13-17z />
<path color=#315495 d=M6625,715l15-7,3-21-16,14z />
<path color=#407d76 d=M5220,622l12-17,4-31-11,24z />
<path color=#327697 d=M5229,639l14,29,1-17-13-17z />
<path color=#2f738a d=M6126,640l14,1,5-23-15,4z />
<path color=#69b68d d=M6044,556l14,31,3-3-13-32z />
<path color=#2d5c94 d=M6627,701l16-14,4-20-16,20z />
<path color=#b8d45f d=M6061,487l14,12,3-2-14-13z />
<path color=#b6aa3d d=M5961,429l14-1,3-5-14-1z />
<path color=#a39031 d=M5964,422l14,1,5-30-14-7z />
<path color=#2f5795 d=M6150,700l14,14,2-12-14-18z />
<path color=#3858a6 d=M6145,719l14,9,5-14-14-14z />
<path color=#79a45d d=M6034,518l14,34,4-17-14-42z />
<path color=#41a0c3 d=M6145,618l13,31,4-2-14-31z />
<path color=#2e6690 d=M5243,668l13,17,2-16-14-18z />
<path color=#3c83c0 d=M5196,683l12,0,17-12-13,1z />
<path color=#4c70dc d=M6462,723l15,6,14-11-15-7z />
<path color=#5363dd d=M6535,740l15,7,13-11-15-7z />
<path color=#6a8d4e d=M6054,520l14,21,2-20-14-17z />
<path color=#4d8565 d=M6082,561l14,37,2-18-14-44z />
<path color=#2e6690 d=M6138,663l14,21,2-17-14-26z />
<path color=#84bc71 d=M6089,510l14,50,3-3-14-49z />
<path color=#a09c3a d=M5930,457l14-14,17-14-14,13z />
<path color=#3a3f97 d=M6633,751l15,4,3-15-15-1z />
<path color=#789248 d=M6038,493l14,42,2-15-14-49z />
<path color=#3777ad d=M6154,667l14,22,4-13-14-27z />
<path color=#2d5e94 d=M6152,684l14,18,2-13-14-22z />
<path color=#416fc7 d=M6682,688l14,25,0,7-14-22z />
<path color=#819b4b d=M6056,504l14,17,5-22-14-12z />
<path color=#ab7a2a d=M5957,380l14-28,2-34-14,36z />
<path color=#327587 d=M5231,634l13,17,1-23-13-23z />
<path color=#374596 d=M6636,739l15,1,2-13-15,2z />
<path color=#83bd74 d=M6030,522l14,34,4-4-14-34z />
<path color=#4eaab5 d=M5250,604l14,30,4-1-14-30z />
<path color=#357ea0 d=M6140,641l14,26,4-18-13-31z />
<path color=#5f8b56 d=M6068,541l14,20,2-25-14-15z />
<path color=#bb6d2a d=M5963,323l14-12,4-2-14,9z />
<path color=#2e6e8d d=M5244,651l14,18,1-17-14-24z />
<path color=#69a168 d=M6084,536l14,44,5-20-14-50z />
<path color=#b0d467 d=M6075,499l14,11,3-2-14-11z />
<path color=#5556d8 d=M6608,756l14,6,11-11-15-4z />
<path color=#2f5e98 d=M5251,703l13,3,3-13-12,0z />
<path color=#2d5f93 d=M5255,693l12,0,1-12-12,4z />
<path color=#bebf48 d=M6047,423l14,64,3-3-14-64z />
<path color=#4974d8 d=M6404,718l15,5,14-12-14-5z />
<path color=#64b79b d=M5236,574l14,30,4-1-14-30z />
<path color=#a69634 d=M5978,423l14,12,5-22-14-20z />
<path color=#889740 d=M6040,471l14,49,2-16-14-56z />
<path color=#398598 d=M5245,628l14,24,5-18-14-30z />
<path color=#8f9f43 d=M6020,483l14,35,4-25-14-42z />
<path color=#4189d1 d=M5208,683l14,21,16-11-13-22z />
<path color=#ac6b27 d=M5959,354l14-36,4-7-14,12z />
<path color=#a9842d d=M5969,386l14,7,2-26-14-15z />
<path color=#72924d d=M6070,521l14,15,5-26-14-11z />
<path color=#ff9539 d=M5981,309l14,3,4,10-14-16z />
<path color=#334f95 d=M6638,729l15-2,3-28-16,9z />
<path color=#a0c05c d=M6016,489l14,33,4-4-14-35z />
<path color=#305595 d=M6164,714l14,0,2-16-14,4z />
<path color=#d1c547 d=M5975,428l14,11,3-4-14-12z />
<path color=#f5a039 d=M5995,312l14,36,4,11-14-37z />
<path color=#36519d d=M6159,728l14,5,5-19-14,0z />
<path color=#44867e d=M5232,605l13,23,5-24-14-30z />
<path color=#545fdd d=M6550,747l14,8,14-12-15-7z />
<path color=#4e6ddc d=M6477,729l15,8,14-12-15-7z />
<path color=#a8ae43 d=M6042,448l14,56,5-17-14-64z />
<path color=#2e6690 d=M5256,685l12-4,2-23-12,11z />
<path color=#a29937 d=M5992,435l14,20,5-27-14-15z />
<path color=#2e6292 d=M6168,689l14-8,5-17-15,12z />
<path color=#2d5c94 d=M6166,702l14-4,2-17-14,8z />
<path color=#a78c2f d=M5983,393l14,20,2-19-14-27z />
<path color=#487cdd d=M6098,709l14,14,16-11-14-14z />
<path color=#4484da d=M5222,704l13,10,16-11-13-10z />
<path color=#979839 d=M6006,455l14,28,4-32-13-23z />
<path color=#bac44d d=M6003,460l13,29,4-6-14-28z />
<path color=#3f84cb d=M6084,671l14,38,16-11-14-36z />
<path color=#3c409b d=M6648,755l15,5,3-12-15-8z />
<path color=#cbc84a d=M5989,439l14,21,3-5-14-20z />
<path color=#417fd2 d=M6680,676l14,29,2,8-14-25z />
<path color=#e4c341 d=M6037,354l13,66,5,17-14-59z />
<path color=#374596 d=M6651,740l15,8,2-11-15-10z />
<path color=#8f9137 d=M6024,451l14,42,2-22-13-50z />
<path color=#a39031 d=M5997,413l14,15,2-25-14-9z />
<path color=#44a6c5 d=M6056,625l14,25,16-9-14-25z />
<path color=#439bce d=M6070,650l14,21,16-9-14-21z />
<path color=#2e6e8d d=M5258,669l12-11,1-23-12,17z />
<path color=#5554d4 d=M6622,762l15,4,11-11-15-4z />
<path color=#2d5c94 d=M6640,708l16-9,3-27-16,15z />
<path color=#57afab d=M6042,595l14,30,16-9-14-29z />
<path color=#4c75df d=M6112,723l14,11,16-11-14-11z />
<path color=#4f6add d=M6492,737l15,7,13-12-14-7z />
<path color=#327586 d=M5259,652l12-17,4-24-11,23z />
<path color=#c8bd44 d=M5944,443l14-3,17-12-14,1z />
<path color=#a9802c d=M5985,367l14,27,2-19-14-35z />
<path color=#555cdd d=M6564,755l15,6,14-11-15-7z />
<path color=#f38835 d=M5977,311l14,2,4-1-14-3z />
<path color=#2d5c94 d=M5264,706l13,3,3-17-13,1z />
<path color=#9d9133 d=M6011,428l13,23,3-30-14-18z />
<path color=#ac7529 d=M5971,352l14,15,2-27-14-22z />
<path color=#334f95 d=M6653,727l15,10,2-21-14-17z />
<path color=#6cbb8f d=M6028,563l14,32,16-8-14-31z />
<path color=#2e6292 d=M5267,693l13-1,1-15-13,4z />
<path color=#eb9535 d=M5991,313l14,39,4-4-14-36z />
<path color=#334e95 d=M6173,733l15,3,4-23-14,1z />
<path color=#2e6690 d=M6643,687l16-15,5-26-17,21z />
<path color=#427bd1 d=M5235,714l12,4,17-12-13-3z />
<path color=#a8882e d=M5999,394l14,9,2-25-14-3z />
<path color=#384196 d=M6666,748l15,7,2-7-15-11z />
<path color=#4043a5 d=M6663,760l15,4,3-9-15-7z />
<path color=#9b9134 d=M6027,421l13,50,2-23-13-58z />
<path color=#2f5895 d=M6178,714l14-1,3-20-15,5z />
<path color=#c2832e d=M5987,340l14,35,4-23-14-39z />
<path color=#be722b d=M5973,318l14,22,4-27-14-2z />
<path color=#d39233 d=M6005,352l14-2,4-4-14,2z />
<path color=#4861c9 d=M6170,737l14,4,4-5-15-3z />
<path color=#354995 d=M6668,737l15,11,2-15-15-17z />
<path color=#4187d5 d=M6678,676l13,28,3,1-14-29z />
<path color=#88c376 d=M6014,529l14,34,16-7-14-34z />
<path color=#4e6fde d=M6126,734l14,8,16-11-14-8z />
<path color=#aa7d2b d=M6001,375l14,3,4-28-14,2z />
<path color=#4b72db d=M6434,728l14,6,14-11-14-6z />
<path color=#5554d4 d=M6637,766l16,4,10-10-15-5z />
<path color=#2e6a8e d=M5268,681l13-4,0-29-11,10z />
<path color=#2d5c94 d=M6656,699l14,17,3-20-14-24z />
<path color=#4297ce d=M6664,646l14,30,2,0-14-29z />
<path color=#5166dd d=M6507,744l14,8,14-12-15-8z />
<path color=#2d6192 d=M6180,698l15-5,2-21-15,9z />
<path color=#dcb33c d=M6033,357l14,66,3-3-13-66z />
<path color=#5659dc d=M6579,761l15,7,14-12-15-6z />
<path color=#a78c2f d=M6013,403l14,18,2-31-14-12z />
<path color=#e3d74d d=M5958,440l14,9,17-10-14-11z />
<path color=#bfa437 d=M6029,390l13,58,5-25-14-66z />
<path color=#315295 d=M6670,716l15,17,2-15-14-22z />
<path color=#2e5d95 d=M5277,709l12,4,4-14-13-7z />
<path color=#a7c860 d=M6000,497l14,32,16-7-14-33z />
<path color=#2e688f d=M6182,681l15-9,4-22-14,14z />
<path color=#366caf d=M6673,696l14,22,4-14-13-28z />
<path color=#3370a0 d=M6659,672l14,24,5-20-14-30z />
<path color=#3e86c7 d=M5174,695l13,0,21-12-12,0z />
<path color=#2e6292 d=M5280,692l13,7,1-11-13-11z />
<path color=#345098 d=M6188,736l14,3,5-18-15-8z />
<path color=#417ace d=M5247,718l13,4,17-13-13-3z />
<path color=#c3ce51 d=M5986,469l14,28,16-8-13-29z />
<path color=#d6d34e d=M5972,449l14,20,17-9-14-21z />
<path color=#2f5895 d=M6192,713l15,8,2-16-14-12z />
<path color=#f3a83b d=M6019,350l14,7,4-3-14-8z />
<path color=#4761c7 d=M6184,741l15,2,3-4-14-3z />
<path color=#aa7e2b d=M6015,378l14,12,4-33-14-7z />
<path color=#4c70dc d=M6448,734l15,7,14-12-15-6z />
<path color=#327587 d=M5270,658l11-10,1-30-11,17z />
<path color=#5263dd d=M6521,752l15,7,14-12-15-7z />
<path color=#439dcd d=M6201,650l14,21,4-2-15-21z />
<path color=#4aa8bc d=M5305,616l14,30,5,7-14-27z />
<path color=#5553d3 d=M6653,770l15,4,10-10-15-4z />
<path color=#5657da d=M6594,768l15,5,13-11-14-6z />
<path color=#2e6a8e d=M5281,677l13,11,1-23-14-17z />
<path color=#4392d3 d=M6215,671l15,20,3-2-14-20z />
<path color=#428ad5 d=M5187,695l13,21,22-12-14-21z />
<path color=#2d6192 d=M6195,693l14,12,2-16-14-17z />
<path color=#30619f d=M5289,713l13,5,4-11-13-8z />
<path color=#2d5f93 d=M5293,699l13,8,1-8-13-11z />
<path color=#5db2a1 d=M5291,586l14,30,5,10-14-27z />
<path color=#33749f d=M6197,672l14,17,4-18-14-21z />
<path color=#305595 d=M6207,721l14,7,2-12-14-11z />
<path color=#407d76 d=M5271,635l11-17,4-31-11,24z />
<path color=#427bd1 d=M5260,722l13,3,16-12-12-4z />
<path color=#2e6690 d=M5294,688l13,11,2-17-14-17z />
<path color=#4585dd d=M5200,716l14,10,21-12-13-10z />
<path color=#3573ab d=M6211,689l14,15,5-13-15-20z />
<path color=#2d5c94 d=M6209,705l14,11,2-12-14-15z />
<path color=#4d67d7 d=M6154,748l15,4,15-11-14-4z />
<path color=#4e6ddc d=M6463,741l15,7,14-11-15-8z />
<path color=#545fdd d=M6536,759l15,7,13-11-14-8z />
<path color=#327587 d=M5281,648l14,17,1-23-14-24z />
<path color=#4eaab5 d=M5301,618l14,30,4-2-14-30z />
<path color=#487ede d=M6082,718l14,15,16-10-14-14z />
<path color=#5655d8 d=M6609,773l15,5,13-12-15-4z />
<path color=#2e6e8d d=M5295,665l14,17,1-16-14-24z />
<path color=#3f85ca d=M6068,680l14,38,16-9-14-38z />
<path color=#2e5d98 d=M5302,718l13,2,3-14-12,1z />
<path color=#2d5f93 d=M5306,707l12-1,1-11-12,4z />
<path color=#64b79b d=M5286,587l15,31,4-2-14-30z />
<path color=#398598 d=M5296,642l14,24,5-18-14-30z />
<path color=#46a7c2 d=M6039,632l14,26,17-8-14-25z />
<path color=#439dce d=M6053,658l15,22,16-9-14-21z />
<path color=#447dd6 d=M5214,726l12,4,21-12-12-4z />
<path color=#c2b843 d=M5927,455l14-5,17-10-14,3z />
<path color=#44867e d=M5282,618l14,24,5-24-15-31z />
<path color=#427cd2 d=M5273,725l13,4,16-11-13-5z />
<path color=#4c76df d=M6096,733l14,12,16-11-14-11z />
<path color=#305695 d=M6221,728l14-4,3-16-15,8z />
<path color=#59b1a8 d=M6025,602l14,30,17-7-14-30z />
<path color=#4f6add d=M6478,748l15,8,14-12-15-7z />
<path color=#335097 d=M6216,742l15,0,4-18-14,4z />
<path color=#2e6690 d=M5307,699l12-4,2-23-12,10z />
<path color=#555cdd d=M6551,766l15,7,13-12-15-6z />
<path color=#2e6392 d=M6225,704l15-13,4-17-14,17z />
<path color=#4c66d3 d=M6169,752l14,3,16-12-15-2z />
<path color=#2d5d94 d=M6223,716l15-8,2-17-15,13z />
<path color=#6fbd8c d=M6011,569l14,33,17-7-14-32z />
<path color=#5654d5 d=M6624,778l16,4,13-12-16-4z />
<path color=#2e6e8d d=M5309,682l12-10,1-24-12,18z />
<path color=#4e70de d=M6110,745l14,8,16-11-14-8z />
<path color=#8cc474 d=M5997,535l14,34,17-6-14-34z />
<path color=#327586 d=M5310,666l12-18,4-24-11,24z />
<path color=#2d5c94 d=M5315,720l13,3,3-18-13,1z />
<path color=#5166dd d=M6493,756l14,8,14-12-14-8z />
<path color=#437cd5 d=M5226,730l13,4,21-12-13-4z />
<path color=#5659dc d=M6566,773l15,7,13-12-15-7z />
<path color=#e3d74e d=M5941,450l14,8,17-9-14-9z />
<path color=#2e6292 d=M5318,706l13-1,1-14-13,4z />
<path color=#427ad0 d=M5286,729l12,3,17-12-13-2z />
<path color=#3e86c6 d=M5153,706l12,0,22-11-13,0z />
<path color=#abca5e d=M5983,503l14,32,17-6-14-32z />
<path color=#315295 d=M6231,742l14,0,5-22-15,4z />
<path color=#5553d3 d=M6640,782l15,3,13-11-15-4z />
<path color=#d9d54f d=M5955,458l14,18,17-7-14-20z />
<path color=#2d5c95 d=M6235,724l15-4,2-21-14,9z />
<path color=#c6cf51 d=M5969,476l14,27,17-6-14-28z />
<path color=#2e6a8e d=M5319,695l13-4,1-30-12,11z />
<path color=#4262bf d=M6228,746l14,1,3-5-14,0z />
<path color=#5263dd d=M6507,764l15,7,14-12-15-7z />
<path color=#5657da d=M6581,780l15,5,13-12-15-5z />
<path color=#2e5d95 d=M5328,723l13,4,3-14-13-8z />
<path color=#437cd5 d=M5239,734l13,3,21-12-13-3z />
<path color=#428ad5 d=M5165,706l14,22,21-12-13-21z />
<path color=#2e6391 d=M6238,708l14-9,3-21-15,13z />
<path color=#2e6292 d=M5331,705l13,8,1-11-13-11z />
<path color=#417ace d=M5298,732l13,4,17-13-13-3z />
<path color=#2e6b8e d=M6240,691l15-13,4-22-15,18z />
<path color=#4585dd d=M5179,728l13,10,22-12-14-10z />
<path color=#327587 d=M5321,672l12-11,1-30-12,17z />
<path color=#315496 d=M6245,742l15,2,5-19-15-5z />
<path color=#4e6ddc d=M6449,753l15,7,14-12-15-7z />
<path color=#545fdd d=M6522,771l15,7,14-12-15-7z />
<path color=#4aa8bc d=M5356,629l15,31,4,7-14-27z />
<path color=#2e6a8e d=M5332,691l13,11,1-24-13-17z />
<path color=#2d5d94 d=M6250,720l15,5,2-16-15-10z />
<path color=#30619e d=M5341,727l13,5,3-11-13-8z />
<path color=#2d5f93 d=M5344,713l13,8,2-8-14-11z />
<path color=#5655d7 d=M6596,785l15,5,13-12-15-5z />
<path color=#4265c2 d=M6242,747l15,1,3-4-15-2z />
<path color=#44a4cd d=M6259,656l15,19,3-2-15-19z />
<path color=#437cd5 d=M5252,737l13,4,21-12-13-4z />
<path color=#3f86ca d=M6051,689l14,39,17-10-14-38z />
<path color=#407d75 d=M5322,648l12-17,4-31-12,24z />
<path color=#427bd1 d=M5311,736l13,3,17-12-13-4z />
<path color=#2e6690 d=M5345,702l14,11,1-17-14-18z />
<path color=#2e6491 d=M6252,699l15,10,2-16-14-15z />
<path color=#4399d2 d=M6274,675l14,19,3-2-14-19z />
<path color=#447dd6 d=M5192,738l13,4,21-12-12-4z />
<path color=#bbb341 d=M5909,467l14-6,18-11-14,5z />
<path color=#439ecc d=M6037,666l14,23,17-9-15-22z />
<path color=#33779c d=M6255,678l14,15,5-18-15-19z />
<path color=#49a8be d=M6023,639l14,27,16-8-14-26z />
<path color=#327587 d=M5333,661l13,17,2-23-14-24z />
<path color=#2e5b95 d=M6265,725l14,6,2-12-14-10z />
<path color=#34599e d=M6260,744l15,1,4-14-14-6z />
<path color=#5cb3a4 d=M6008,609l15,30,16-7-14-30z />
<path color=#4eaab5 d=M5352,631l15,30,4-1-15-31z />
<path color=#4768cd d=M6212,758l15,1,15-12-14-1z />
<path color=#2e6e8d d=M5346,678l14,18,2-17-14-24z />
<path color=#3677a9 d=M6269,693l14,15,5-14-14-19z />
<path color=#2d6192 d=M6267,709l14,10,2-11-14-15z />
<path color=#5654d5 d=M6611,790l15,4,14-12-16-4z />
<path color=#2e5d98 d=M5354,732l13,2,3-14-13,1z />
<path color=#2d5f93 d=M5357,721l13-1,1-11-12,4z />
<path color=#64b79b d=M5338,600l14,31,4-2-14-30z />
<path color=#72bf88 d=M5994,576l14,33,17-7-14-33z />
<path color=#398598 d=M5348,655l14,24,5-18-15-30z />
<path color=#437cd5 d=M5265,741l12,3,21-12-12-3z />
<path color=#44867d d=M5334,631l14,24,4-24-14-31z />
<path color=#427cd2 d=M5324,739l13,4,17-11-13-5z />
<path color=#2e6690 d=M5359,713l12-4,1-24-12,11z />
<path color=#437cd5 d=M5205,742l13,3,21-11-13-4z />
<path color=#e2d54d d=M5923,461l14,6,18-9-14-8z />
<path color=#91c570 d=M5980,542l14,34,17-7-14-34z />
<path color=#3e86c6 d=M5131,718l12,0,22-12-12,0z />
<path color=#2d5c94 d=M6279,731l15-3,2-17-15,8z />
<path color=#315697 d=M6275,745l14,1,5-18-15,3z />
<path color=#2e6e8d d=M5360,696l12-11,2-23-12,17z />
<path color=#466acd d=M6227,759l14,1,16-12-15-1z />
<path color=#b0cb5b d=M5966,510l14,32,17-7-14-32z />
<path color=#5553d3 d=M6626,794l16,3,13-12-15-3z />
<path color=#2e6790 d=M6283,708l15-13,5-18-15,17z />
<path color=#2e6292 d=M6281,719l15-8,2-16-15,13z />
<path color=#dcd64f d=M5937,467l15,17,17-8-14-18z />
<path color=#327586 d=M5362,679l12-17,4-25-11,24z />
<path color=#2d5d94 d=M5367,734l13,3,3-18-13,1z />
<path color=#437cd5 d=M5277,744l13,4,21-12-13-4z />
<path color=#c9d050 d=M5952,484l14,26,17-7-14-27z />
<path color=#426ac4 d=M6272,749l14,1,3-4-14-1z />
<path color=#2e6292 d=M5370,720l13-1,1-14-13,4z />
<path color=#427ad0 d=M5337,743l13,4,17-13-13-2z />
<path color=#5657da d=M6567,792l15,5,14-12-15-5z />
<path color=#437cd4 d=M5218,745l12,4,22-12-13-3z />
<path color=#428ad5 d=M5143,718l14,21,22-11-14-22z />
<path color=#4585dd d=M5157,739l13,11,22-12-13-10z />
<path color=#2e6a8e d=M5371,709l13-4,1-31-13,11z />
<path color=#545fdd d=M6508,783l15,8,14-13-15-7z />
<path color=#466ccd d=M6241,760l15,1,16-12-15-1z />
<path color=#2f5795 d=M6289,746l15,1,5-23-15,4z />
<path color=#2e5d95 d=M5380,737l13,4,3-14-13-8z />
<path color=#437cd5 d=M5290,748l13,3,21-12-13-3z />
<path color=#5655d7 d=M6582,797l16,5,13-12-15-5z />
<path color=#2d6093 d=M6294,728l15-4,2-20-15,7z />
<path color=#2e6292 d=M5383,719l13,8,1-11-13-11z />
<path color=#417ace d=M5350,747l13,3,17-13-13-3z />
<path color=#437cd4 d=M5230,749l13,4,22-12-13-4z />
<path color=#406bc2 d=M6286,750l15,2,3-5-15-1z />
<path color=#3f88c9 d=M6034,698l14,39,17-9-14-39z />
<path color=#447dd6 d=M5170,750l13,4,22-12-13-4z />
<path color=#2e688f d=M6296,711l15-7,3-21-16,12z />
<path color=#327586 d=M5372,685l13-11,1-30-12,18z />
<path color=#4aa9bc d=M5409,643l14,30,5,7-15-27z />
<path color=#2e6f8c d=M6298,695l16-12,4-22-15,16z />
<path color=#2e6a8e d=M5384,705l13,11,2-24-14-18z />
<path color=#43a0cb d=M6020,674l14,24,17-9-14-23z />
<path color=#4caabb d=M6006,647l14,27,17-8-14-27z />
<path color=#30619e d=M5393,741l13,5,4-11-14-8z />
<path color=#2d6093 d=M5396,727l14,8,1-8-14-11z />
<path color=#305a98 d=M6304,747l15,3,5-18-15-8z />
<path color=#60b4a0 d=M5992,616l14,31,17-8-15-30z />
<path color=#437cd4 d=M5303,751l13,4,21-12-13-4z />
<path color=#5654d5 d=M6598,802l15,4,13-12-15-4z />
<path color=#407e75 d=M5374,662l12-18,4-31-12,24z />
<path color=#2d6192 d=M6309,724l15,8,2-16-15-12z />
<path color=#427bd1 d=M5363,750l13,4,17-13-13-4z />
<path color=#2e6690 d=M5397,716l14,11,1-17-13-18z />
<path color=#437cd4 d=M5243,753l13,3,21-12-12-3z />
<path color=#416ec6 d=M6301,752l15,2,3-4-15-3z />
<path color=#76c084 d=M5977,582l15,34,16-7-14-33z />
<path color=#44a8ca d=M6318,661l15,21,3-2-15-21z />
<path color=#437cd4 d=M5183,754l13,3,22-12-13-3z />
<path color=#439cce d=M6333,682l14,21,3-2-14-21z />
<path color=#327586 d=M5385,674l14,18,1-24-14-24z />
<path color=#4eaab5 d=M5405,644l14,31,4-2-14-30z />
<path color=#2e688f d=M6311,704l15,12,2-17-14-16z />
<path color=#899139 d=M5787,545l13-51,4-18-13,55z />
<path color=#2e6e8d d=M5399,692l13,18,2-17-14-25z />
<path color=#337c9b d=M6314,683l14,16,5-17-15-21z />
<path color=#3e86c6 d=M5109,730l12,0,22-12-12,0z />
<path color=#95c66d d=M5963,548l14,34,17-6-14-34z />
<path color=#2d5e94 d=M6324,732l14,8,2-12-14-12z />
<path color=#2e5d98 d=M5406,746l13,2,4-14-13,1z />
<path color=#2d6093 d=M5410,735l13-1,1-12-13,5z />
<path color=#335ea1 d=M6319,750l15,4,4-14-14-8z />
<path color=#64b79b d=M5390,613l15,31,4-1-15-31z />
<path color=#398597 d=M5400,668l14,25,5-18-14-31z />
<path color=#437cd4 d=M5316,755l13,3,21-11-13-4z />
<path color=#367ca9 d=M6328,699l15,17,4-13-14-21z />
<path color=#5553d3 d=M6613,806l15,4,14-13-16-3z />
<path color=#2e6391 d=M6326,716l14,12,3-12-15-17z />
<path color=#44867d d=M5386,644l14,24,5-24-15-31z />
<path color=#4571d0 d=M6271,762l15,2,15-12-15-2z />
<path color=#427cd2 d=M5376,754l14,3,16-11-13-5z />
<path color=#2e6690 d=M5411,727l13-5,1-23-13,11z />
<path color=#b5cc58 d=M5949,516l14,32,17-6-14-32z />
<path color=#437cd4 d=M5256,756l13,4,21-12-13-4z />
<path color=#ded74f d=M5920,476l14,15,18-7-15-17z />
<path color=#4372cc d=M6316,754l15,4,3-4-15-4z />
<path color=#758f47 d=M5796,572l13-18,2-26-13,12z />
<path color=#ccd150 d=M5934,491l15,25,17-6-14-26z />
<path color=#437cd4 d=M5196,757l13,4,21-12-12-4z />
<path color=#428ad5 d=M5121,730l14,21,22-12-14-21z />
<path color=#2e6e8c d=M5412,710l13-11,1-24-12,18z />
<path color=#2d5e94 d=M6338,740l15-1,3-16-16,5z />
<path color=#4585dd d=M5135,751l13,11,22-12-13-11z />
<path color=#315b9b d=M6334,754l15,4,4-19-15,1z />
<path color=#337585 d=M5414,693l12-18,5-25-12,25z />
<path color=#2d5d94 d=M5419,748l13,2,3-17-12,1z />
<path color=#437cd4 d=M5329,758l13,4,21-12-13-3z />
<path color=#2e698f d=M6343,716l15-9,4-18-15,14z />
<path color=#2e6391 d=M6340,728l16-5,2-16-15,9z />
<path color=#2e6292 d=M5423,734l12-1,1-15-12,4z />
<path color=#417bcf d=M5390,757l13,4,16-13-13-2z />
<path color=#4574d2 d=M6286,764l15,3,15-13-15-2z />
<path color=#437cd4 d=M5269,760l13,3,21-12-13-3z />
<path color=#88923a d=M5798,540l13-12,2-26-14,7z />
<path color=#4371cc d=M6331,758l15,4,3-4-15-4z />
<path color=#5655d7 d=M6569,810l15,5,14-13-16-5z />
<path color=#437cd4 d=M5209,761l13,4,21-12-13-4z />
<path color=#447dd6 d=M5148,762l13,4,22-12-13-4z />
<path color=#2e6b8e d=M5424,722l12-4,1-30-12,11z />
<path color=#c9bc43 d=M5804,476l14-2,3-3-14,3z />
<path color=#919137 d=M5799,509l14-7,1-13-14,5z />
<path color=#2f5895 d=M6349,758l15,4,4-23-15,0z />
<path color=#2d5d95 d=M5432,750l13,5,4-15-14-7z />
<path color=#437cd4 d=M5342,762l14,4,20-12-13-4z />
<path color=#979135 d=M5800,494l14-5,4-15-14,2z />
<path color=#2d6092 d=M6353,739l15,0,3-20-15,4z />
<path color=#2e6392 d=M5435,733l14,7,1-11-14-11z />
<path color=#417ace d=M5403,761l13,3,16-14-13-2z />
<path color=#4675d4 d=M6301,767l14,3,16-12-15-4z />
<path color=#437cd4 d=M5282,763l13,4,21-12-13-4z />
<path color=#82913d d=M5809,554l14-18,2-20-14,12z />
<path color=#5654d5 d=M6584,815l15,4,14-13-15-4z />
<path color=#4370ca d=M6346,762l14,5,4-5-15-4z />
<path color=#437cd4 d=M5222,765l13,3,21-12-13-3z />
<path color=#2e688f d=M6356,723l15-4,2-21-15,9z />
<path color=#327586 d=M5425,699l12-11,1-31-12,18z />
<path color=#437cd4 d=M5161,766l13,3,22-12-13-3z />
<path color=#2e6f8c d=M6358,707l15-9,5-22-16,13z />
<path color=#4ba9ba d=M5462,655l14,31,5,6-15-27z />
<path color=#2e6b8e d=M5436,718l14,11,1-24-14-17z />
<path color=#315b9b d=M6364,762l14,7,5-19-15-11z />
<path color=#8d9138 d=M5811,528l14-12,2-20-14,6z />
<path color=#30629e d=M5445,755l14,4,3-11-13-8z />
<path color=#2d6093 d=M5449,740l13,8,2-8-14-11z />
<path color=#437cd4 d=M5356,766l13,3,21-12-14-3z />
<path color=#3e86c6 d=M5086,742l13,0,22-12-12,0z />
<path color=#d1c144 d=M5818,474l14-1,3-3-14,1z />
<path color=#2d6093 d=M6368,739l15,11,2-16-14-15z />
<path color=#407e75 d=M5426,675l12-18,5-31-12,24z />
<path color=#4470cd d=M6360,767l15,6,3-4-14-7z />
<path color=#4776d6 d=M6315,770l15,4,16-12-15-4z />
<path color=#417cd0 d=M5416,764l13,3,16-12-13-5z />
<path color=#437cd4 d=M5295,767l13,4,21-13-13-3z />
<path color=#2e6690 d=M5450,729l14,11,1-18-14-17z />
<path color=#5553d3 d=M6599,819l16,3,13-12-15-4z />
<path color=#43a4c8 d=M6378,676l14,24,3-2-14-24z />
<path color=#4297cd d=M6392,700l15,24,3-2-15-24z />
<path color=#959136 d=M5813,502l14-6,1-10-14,3z />
<path color=#9a9134 d=M5814,489l14-3,4-13-14,1z />
<path color=#437cd4 d=M5235,768l13,4,21-12-13-4z />
<path color=#2e6790 d=M6371,719l14,15,3-17-15-19z />
<path color=#2d5b95 d=M6383,750l15,12,2-12-15-16z />
<path color=#327586 d=M5437,688l14,17,2-24-15-24z />
<path color=#365da5 d=M6378,769l15,7,5-14-15-12z />
<path color=#347c9e d=M6373,698l15,19,4-17-14-24z />
<path color=#50abb4 d=M5457,657l15,30,4-1-14-31z />
<path color=#437cd4 d=M5174,769l13,4,22-12-13-4z />
<path color=#428ad5 d=M5099,742l14,22,22-13-14-21z />
<path color=#377aac d=M6388,717l14,21,5-14-15-24z />
<path color=#2e6e8c d=M5451,705l14,17,2-17-14-24z />
<path color=#2d6192 d=M6385,734l15,16,2-12-14-21z />
<path color=#2e5e97 d=M5459,759l13,2,4-14-14,1z />
<path color=#2d6093 d=M5462,748l14-1,1-12-13,5z />
<path color=#65b89a d=M5443,626l14,31,5-2-15-31z />
<path color=#3a8596 d=M5453,681l14,24,5-18-15-30z />
<path color=#437cd4 d=M5369,769l13,4,21-12-13-4z />
<path color=#4771d2 d=M6375,773l15,6,3-3-15-7z />
<path color=#4585dd d=M5113,764l13,10,22-12-13-11z />
<path color=#3475a1 d=M6407,724l15-11,3-2-15,11z />
<path color=#45867c d=M5438,657l15,24,4-24-14-31z />
<path color=#4776d8 d=M6330,774l15,5,15-12-14-5z />
<path color=#86923a d=M5818,559l14-25,4-31-13,33z />
<path color=#427cd1 d=M5429,767l14,4,16-12-14-4z />
<path color=#437cd4 d=M5308,771l13,3,21-12-13-4z />
<path color=#2e6690 d=M5464,740l13-5,1-24-13,11z />
<path color=#4674d2 d=M6270,776l15,3,16-12-15-3z />
<path color=#2e5995 d=M6398,762l15,2,2-17-15,3z />
<path color=#437cd4 d=M5248,772l13,4,21-13-13-3z />
<path color=#35589f d=M6393,776l15,6,5-18-15-2z />
<path color=#2e6590 d=M6402,738l16-7,4-18-15,11z />
<path color=#919137 d=M5823,536l13-33,2-30-13,43z />
<path color=#2d6093 d=M6400,750l15-3,3-16-16,7z />
<path color=#437cd4 d=M5187,773l13,4,22-12-13-4z />
<path color=#3166a0 d=M5052,767l12-13,22-12-11,13z />
<path color=#2e6f8c d=M5465,722l13-11,2-24-13,18z />
<path color=#486ed2 d=M6390,779l15,7,3-4-15-6z />
<path color=#447dd6 d=M5126,774l13,4,22-12-13-4z />
<path color=#437cd4 d=M5382,773l13,3,21-12-13-3z />
<path color=#347684 d=M5467,705l13-18,4-25-12,25z />
<path color=#4976d9 d=M6345,779l15,6,15-12-15-6z />
<path color=#2d5e94 d=M5472,761l13,2,4-18-13,2z />
<path color=#417bce d=M5443,771l13,3,16-13-13-2z />
<path color=#437cd4 d=M5321,774l14,4,21-12-14-4z />
<path color=#2e6391 d=M5476,747l13-2,1-15-13,5z />
<path color=#9b9133 d=M5825,516l13-43,2-29-13,52z />
<path color=#4675d4 d=M6285,779l15,3,15-12-14-3z />
<path color=#325397 d=M6408,782l15,7,5-23-15-2z />
<path color=#437cd4 d=M5261,776l13,3,21-12-13-4z />
<path color=#2d5c95 d=M6413,764l15,2,3-21-16,2z />
<path color=#a78a2e d=M5832,473l13-61,3-3-13,61z />
<path color=#437cd4 d=M5200,777l13,4,22-13-13-3z />
<path color=#486acf d=M6405,786l15,8,3-5-15-7z />
<path color=#a39031 d=M5827,496l13-52,1-14-13,56z />
<path color=#2e6c8e d=M5477,735l13-5,1-31-13,12z />
<path color=#437cd4 d=M5139,778l13,4,22-13-13-3z />
<path color=#a78d2f d=M5828,486l13-56,4-18-13,61z />
<path color=#4a74db d=M6360,785l15,7,15-13-15-6z />
<path color=#437cd4 d=M5395,776l14,4,20-13-13-3z />
<path color=#2e6391 d=M6415,747l16-2,2-21-15,7z />
<path color=#2d5e94 d=M5485,763l14,4,3-15-13-7z />
<path color=#2e6a8e d=M6418,731l15-7,5-22-16,11z />
<path color=#437cd4 d=M5335,778l13,3,21-12-13-3z />
<path color=#35549d d=M6423,789l15,8,5-18-15-13z />
<path color=#3e86c6 d=M5064,754l12,0,23-12-13,0z />
<path color=#3f7acc d=M5456,774l13,3,16-14-13-2z />
<path color=#2e6491 d=M5489,745l13,7,2-12-14-10z />
<path color=#4776d6 d=M6300,782l15,5,15-13-15-4z />
<path color=#2e5995 d=M6428,766l15,13,2-17-14-17z />
<path color=#437cd4 d=M5274,779l13,4,21-12-13-4z />
<path color=#5655d6 d=M6586,829l15,4,14-11-16-3z />
<path color=#4a67d0 d=M6420,794l15,8,3-5-15-8z />
<path color=#418dd0 d=M6452,728l15,26,3-2-15-26z />
<path color=#949136 d=M5832,534l14-20,4-41-14,30z />
<path color=#429bca d=M6438,702l14,26,3-2-14-26z />
<path color=#337684 d=M5478,711l13-12,1-31-12,19z />
<path color=#437cd4 d=M5213,781l13,3,22-12-13-4z />
<path color=#3679a8 d=M5637,742l13-7,20-14-14,8z />
<path color=#4b72db d=M6375,792l15,7,15-13-15-7z />
<path color=#2d6192 d=M6431,745l14,17,3-16-15-22z />
<path color=#315395 d=M6443,779l15,13,2-12-15-18z />
<path color=#2e6c8d d=M5490,730l14,10,1-24-14-17z />
<path color=#437cd4 d=M5152,782l13,3,22-12-13-4z />
<path color=#428ad5 d=M5076,754l14,22,23-12-14-22z />
<path color=#3a55a7 d=M6438,797l15,9,5-14-15-13z />
<path color=#3477a2 d=M6433,724l15,22,4-18-14-26z />
<path color=#30629c d=M5499,767l13,3,4-11-14-7z />
<path color=#437dd3 d=M5409,780l13,3,21-12-14-4z />
<path color=#3773b0 d=M6448,746l14,22,5-14-15-26z />
<path color=#2d6192 d=M5502,752l14,7,1-9-13-10z />
<path color=#2e5a95 d=M6445,762l15,18,2-12-14-22z />
<path color=#427f73 d=M5480,687l12-19,4-31-12,25z />
<path color=#437cd4 d=M5348,781l13,4,21-12-13-4z />
<path color=#4585dd d=M5090,776l14,10,22-12-13-10z />
<path color=#407cce d=M5469,777l14,2,16-12-14-4z />
<path color=#4d65d5 d=M6435,802l15,8,3-4-15-9z />
<path color=#346ea6 d=M6467,754l16-11,2-2-15,11z />
<path color=#2e688f d=M5504,740l13,10,2-17-14-17z />
<path color=#437cd4 d=M5287,783l13,4,21-13-13-3z />
<path color=#a39031 d=M5836,503l14-30,2-39-14,39z />
<path color=#4d6fdc d=M6390,799l15,7,15-12-15-8z />
<path color=#437cd4 d=M5226,784l13,4,22-12-13-4z />
<path color=#325095 d=M6458,792l15,2,3-16-16,2z />
<path color=#394ea0 d=M6453,806l16,7,4-19-15-2z />
<path color=#347684 d=M5491,699l14,17,1-24-14-24z />
<path color=#53adb0 d=M5511,667l15,29,4-1-15-30z />
<path color=#2d5e93 d=M6462,768l16-7,5-18-16,11z />
<path color=#437cd4 d=M5165,785l13,4,22-12-13-4z />
<path color=#2f5895 d=M6460,780l16-2,2-17-16,7z />
<path color=#2e708c d=M5505,716l14,17,2-18-15-23z />
<path color=#427dd3 d=M5422,783l13,3,21-12-13-3z />
<path color=#68ba97 d=M5496,637l15,30,4-2-14-30z />
<path color=#2d5e94 d=M5512,770l14,1,3-15-13,3z />
<path color=#2e6292 d=M5516,759l13-3,2-12-14,6z />
<path color=#447dd6 d=M5104,786l13,4,22-12-13-4z />
<path color=#4e62d4 d=M6450,810l16,7,3-4-16-7z />
<path color=#3c8692 d=M5506,692l15,23,5-19-15-29z />
<path color=#437cd4 d=M5361,785l13,3,21-12-13-3z />
<path color=#4976da d=M6330,792l15,6,15-13-15-6z />
<path color=#468779 d=M5492,668l14,24,5-25-15-30z />
<path color=#407dcf d=M5483,779l13,3,16-12-13-3z />
<path color=#4e6cdc d=M6405,806l16,8,14-12-15-8z />
<path color=#9c9133 d=M5846,514l14-10,4-33-14,2z />
<path color=#437cd4 d=M5300,787l13,3,22-12-14-4z />
<path color=#2e688f d=M5517,750l14-6,1-24-13,13z />
<path color=#a9842d d=M5838,473l14-39,2-38-14,48z />
<path color=#9d9b3a d=M5838,525l14-11,8-10-14,10z />
<path color=#364997 d=M6469,813l15,7,5-23-16-3z />
<path color=#437cd4 d=M5239,788l13,4,22-13-13-3z />
<path color=#315295 d=M6473,794l16,3,2-21-15,2z />
<path color=#437cd4 d=M5178,789l13,4,22-12-13-4z />
<path color=#5058d1 d=M6583,817l15,8,3,8-15-4z />
<path color=#4d5dcf d=M6466,817l15,8,3-5-15-7z />
<path color=#2e718b d=M5519,733l13-13,1-25-12,20z />
<path color=#3980b1 d=M5629,743l14-6,7-2-13,7z />
<path color=#427dd3 d=M5435,786l14,3,20-12-13-3z />
<path color=#437cd4 d=M5117,790l13,4,22-12-13-4z />
<path color=#4a74db d=M6345,798l15,6,15-12-15-7z />
<path color=#5069dd d=M6421,814l15,8,14-12-15-8z />
<path color=#437cd4 d=M5374,788l14,4,21-12-14-4z />
<path color=#2d5c94 d=M6476,778l15-2,3-21-16,6z />
<path color=#377881 d=M5521,715l12-20,5-26-12,27z />
<path color=#2d6093 d=M5526,771l13,0,4-18-14,3z />
<path color=#a78a2f d=M5850,473l14-2,2-31-14-6z />
<path color=#ab772a d=M5840,444l14-48,1-18-14,52z />
<path color=#3784a6 d=M5990,708l14,39,5-22-14-34z />
<path color=#2f6a94 d=M6004,747l15,15,5-27-15-10z />
<path color=#3e7cca d=M5496,782l14,2,16-13-14-1z />
<path color=#2e6391 d=M6478,761l16-6,5-23-16,11z />
<path color=#ad6f27 d=M5841,430l14-52,3-2-13,36z />
<path color=#437cd4 d=M5313,790l14,4,21-13-13-3z />
<path color=#394a9d d=M6484,820l15,8,5-19-15-12z />
<path color=#6dc4a1 d=M6004,645l14,18,4,0-15-18z />
<path color=#337684 d=M5995,691l14,34,2-21-14-28z />
<path color=#2e6690 d=M5529,756l14-3,1-16-13,7z />
<path color=#9e9133 d=M5860,504l14,1,5-24-15-10z />
<path color=#325095 d=M6489,797l15,12,2-17-15-16z />
<path color=#437cd4 d=M5252,792l13,3,22-12-13-4z />
<path color=#438d8f d=M5975,683l15,25,5-17-15-32z />
<path color=#2e708c d=M6009,725l15,10,2-26-15-5z />
<path color=#4f5ad0 d=M6481,825l15,7,3-4-15-8z />
<path color=#4185d5 d=M6513,758l15,25,2-2-14-25z />
<path color=#4292cf d=M6499,732l14,26,3-2-15-26z />
<path color=#30679a d=M6019,762l14,14,5-22-14-19z />
<path color=#437cd4 d=M5191,793l13,4,22-13-13-3z />
<path color=#448071 d=M5980,659l15,32,2-15-15-39z />
<path color=#3d7b79 d=M5997,676l14,28,2-21-14-23z />
<path color=#428ed4 d=M5997,753l15,16,7-7-15-15z />
<path color=#7ebd78 d=M5989,593l15,52,3,0-14-53z />
<path color=#c1b944 d=M5852,514l15-1,7-8-14-1z />
<path color=#508f74 d=M5961,655l14,28,5-24-14-36z />
<path color=#4b72dc d=M6360,804l15,7,15-12-15-7z />
<path color=#5165dd d=M6436,822l15,8,15-13-16-7z />
<path color=#59a187 d=M6000,653l15,21,3-11-14-18z />
<path color=#2e5a95 d=M6491,776l15,16,2-16-14-21z />
<path color=#3f94c2 d=M5983,713l14,40,7-6-14-39z />
<path color=#437cd4 d=M5130,794l13,4,22-13-13-3z />
<path color=#427dd2 d=M5449,789l13,3,21-13-14-2z />
<path color=#2e6e8c d=M5531,744l13-7,1-31-13,14z />
<path color=#a78d2f d=M5864,471l15,10,2-23-15-18z />
<path color=#468475 d=M5999,660l14,23,2-9-15-21z />
<path color=#354a95 d=M6504,809l15,12,2-12-15-17z />
<path color=#3e4ba6 d=M6499,828l15,7,5-14-15-12z />
<path color=#5e9260 d=M5946,625l15,30,5-32-15-24z />
<path color=#42a2c5 d=M6047,696l15,34,3,0-14-34z />
<path color=#2e6b8e d=M6024,735l14,19,2-19-14-26z />
<path color=#475dc4 d=M6582,803l15,13,1,9-15-8z />
<path color=#346fa5 d=M6494,755l14,21,5-18-14-26z />
<path color=#437dd3 d=M5388,792l13,3,21-12-13-3z />
<path color=#769d57 d=M5932,595l14,30,5-26-14-25z />
<path color=#4f8967 d=M5982,637l15,39,2-16-15-45z />
<path color=#376ab2 d=M6508,776l15,20,5-13-15-25z />
<path color=#3267a4 d=M6033,776l15,10,5-15-15-17z />
<path color=#d8c646 d=M5934,448l15,69,5,16-15-61z />
<path color=#315295 d=M6506,792l15,17,2-13-15-20z />
<path color=#2e6491 d=M6038,754l15,17,2-14-15-22z />
<path color=#377880 d=M6011,704l15,5,2-26-15,0z />
<path color=#4caaba d=M5968,689l15,24,7-5-15-25z />
<path color=#4288d8 d=M6012,769l14,13,7-6-14-14z />
<path color=#437cd4 d=M5327,794l13,3,21-12-13-4z />
<path color=#2d6192 d=M5539,771l14,2,3-15-13-5z />
<path color=#5cb2a1 d=M5954,662l14,27,7-6-14-28z />
<path color=#9d9133 d=M5874,505l14,9,5-32-14-1z />
<path color=#ab792a d=M5852,434l14,6,2-31-14-13z />
<path color=#588a5b d=M5966,623l14,36,2-22-14-44z />
<path color=#72ae70 d=M5986,604l14,49,4-8-15-52z />
<path color=#3c7bc6 d=M5510,784l13,1,16-14-13,0z />
<path color=#5e9867 d=M5984,615l15,45,1-7-14-49z />
<path color=#798f44 d=M5937,574l14,25,2-25-14-18z />
<path color=#5159d3 d=M6496,832l15,7,3-4-15-7z />
<path color=#6fbc89 d=M5939,632l15,30,7-7-15-30z />
<path color=#2e678f d=M5543,753l13,5,2-13-14-8z />
<path color=#437cd4 d=M5265,795l13,4,22-12-13-4z />
<path color=#8fa347 d=M5917,562l15,33,5-21-15-41z />
<path color=#3265a4 d=M6528,783l16-13,3-2-17,13z />
<path color=#2e6a8e d=M6040,735l15,22,2-14-15-28z />
<path color=#5ab0a5 d=M6033,658l14,38,4,0-15-38z />
<path color=#6c8d4d d=M5951,599l15,24,2-30-15-19z />
<path color=#3c92b2 d=M6044,706l14,31,4-7-15-34z />
<path color=#407d76 d=M6013,683l15,0,1-12-14,3z />
<path color=#45816f d=M6015,674l14-3,4-13-15,5z />
<path color=#307489 d=M6026,709l14,26,2-20-14-32z />
<path color=#5262dd d=M6451,830l15,8,15-13-15-8z />
<path color=#f48c36 d=M5858,376l15,3,3-2-14-3z />
<path color=#437cd4 d=M5204,797l13,3,22-12-13-4z />
<path color=#aa802c d=M5866,440l15,18,1-22-14-27z />
<path color=#89c374 d=M5925,600l14,32,7-7-14-30z />
<path color=#d5cd4b d=M5867,513l14,9,7-8-14-9z />
<path color=#327897 d=M6042,715l15,28,1-6-14-31z />
<path color=#3a8cb0 d=M5623,714l13,0,7,23-14,6z />
<path color=#377880 d=M5532,720l13-14,1-32-13,21z />
<path color=#a68e2f d=M5879,481l14,1,2-30-14,6z />
<path color=#8b9139 d=M5922,533l15,41,2-18-15-51z />
<path color=#354995 d=M6519,821l15,0,3-16-16,4z />
<path color=#4483db d=M6026,782l15,9,7-5-15-10z />
<path color=#3b459e d=M6514,835l16,5,4-19-15,0z />
<path color=#dedb51 d=M5946,518l14,7,4-1-15-7z />
<path color=#437cd4 d=M5143,798l13,4,22-13-13-4z />
<path color=#2f5f9b d=M6048,786l15,6,4-20-14-1z />
<path color=#999134 d=M5888,514l15,19,4-39-14-12z />
<path color=#97983a d=M5903,533l14,29,5-29-15-39z />
<path color=#417dd1 d=M5462,792l14,2,20-12-13-3z />
<path color=#2d6192 d=M6053,771l14,1,2-20-14,5z />
<path color=#87923a d=M5939,556l14,18,2-24-14-13z />
<path color=#f19836 d=M5873,379l14,32,4-2-15-32z />
<path color=#2f5895 d=M6523,796l16-8,5-18-16,13z />
<path color=#a5c760 d=M5910,569l15,31,7-5-15-33z />
<path color=#4c9893 d=M6029,671l15,35,3-10-14-38z />
<path color=#4367c5 d=M6581,789l15,18,1,9-15-13z />
<path color=#3a7c82 d=M6028,683l14,32,2-9-15-35z />
<path color=#325095 d=M6521,809l16-4,2-17-16,8z />
<path color=#2e708c d=M5544,737l14,8,1-25-14-14z />
<path color=#427dd3 d=M5401,795l14,4,20-13-13-3z />
<path color=#6a8d4e d=M5968,593l14,44,2-22-14-52z />
<path color=#ad6d27 d=M5854,396l14,13,1-15-14-16z />
<path color=#ce7b2e d=M5855,378l14,16,4-15-15-3z />
<path color=#cccc4d d=M5881,522l14,20,8-9-15-19z />
<path color=#ac7629 d=M5868,409l14,27,2-11-15-31z />
<path color=#b0c352 d=M5974,533l15,60,4-1-15-60z />
<path color=#437cd4 d=M5340,797l13,4,21-13-13-3z />
<path color=#bdca50 d=M5895,542l15,27,7-7-14-29z />
<path color=#2e688f d=M6055,757l14-5,3-18-15,9z />
<path color=#5156d1 d=M6511,839l16,5,3-4-16-5z />
<path color=#2e6f8c d=M6058,737l15-12,3-10-14,15z />
<path color=#2e6495 d=M5553,773l14,0,3-12-14-3z />
<path color=#2e6690 d=M5556,758l14,3,1-9-13-7z />
<path color=#a1a03c d=M5942,528l15,10,3-13-14-7z />
<path color=#8d9138 d=M5941,537l14,13,2-12-15-10z />
<path color=#c9822e d=M5869,394l15,31,3-14-14-32z />
<path color=#46816e d=M5533,695l13-21,5-33-13,28z />
<path color=#7e9040 d=M5953,574l15,19,2-30-15-13z />
<path color=#4e6cdd d=M6390,819l16,8,15-13-16-8z />
<path color=#3d7dc6 d=M5523,785l14,1,16-13-14-2z />
<path color=#437cd4 d=M5278,799l14,4,21-13-13-3z />
<path color=#545fdc d=M6466,838l16,7,14-13-15-7z />
<path color=#2e6c8d d=M6057,743l15-9,1-9-15,12z />
<path color=#979336 d=M5924,505l15,51,2-19-15-60z />
<path color=#d9c041 d=M5931,449l15,69,3-1-15-69z />
<path color=#a9812c d=M5881,458l14-6,2-30-15,14z />
<path color=#7d9749 d=M5970,563l14,52,2-11-15-56z />
<path color=#457ed8 d=M6041,791l15,7,7-6-15-6z />
<path color=#dcdc53 d=M5960,525l14,8,4-1-14-8z />
<path color=#437cd4 d=M5217,800l13,4,22-12-13-4z />
<path color=#9bb04d d=M5971,548l15,56,3-11-15-60z />
<path color=#2e6d8d d=M5558,745l13,7,2-18-14-14z />
<path color=#9e9133 d=M5907,494l15,39,2-28-15-48z />
<path color=#a68e2f d=M5893,482l14,12,2-37-14-5z />
<path color=#ab9e38 d=M5926,477l15,60,1-9-15-64z />
<path color=#eaa83a d=M5919,386l15,62,5,24-14-59z />
<path color=#437cd4 d=M5156,802l13,3,22-12-13-4z />
<path color=#c5be46 d=M5834,527l14-3,19-11-15,1z />
<path color=#c6b23d d=M5927,464l15,64,4-10-15-69z />
<path color=#384296 d=M6530,840l15,5,5-24-16,0z />
<path color=#39797d d=M5545,706l14,14,2-25-15-21z />
<path color=#8a9139 d=M5955,550l15,13,1-15-14-10z />
<path color=#2d5b95 d=M6063,792l14,4,5-26-15,2z />
<path color=#4491d8 d=M5980,762l15,17,17-10-15-16z />
<path color=#407ecf d=M5476,794l13,3,21-13-14-2z />
<path color=#97993a d=M5957,538l14,10,3-15-14-8z />
<path color=#427dd3 d=M5415,799l13,3,21-13-14-3z />
<path color=#ab782a d=M5882,436l15-14,1-15-14,18z />
<path color=#344c95 d=M6534,821l16,0,3-21-16,5z />
<path color=#3a90ae d=M5636,714l14-2,6,15-13,10z />
<path color=#4096c3 d=M5965,722l15,40,17-9-14-40z />
<path color=#ad7228 d=M5884,425l14-18,3-17-14,21z />
<path color=#5069dd d=M6406,827l15,8,15-13-15-8z />
<path color=#4f53cb d=M6527,844l15,5,3-4-15-5z />
<path color=#437cd4 d=M5353,801l14,4,21-13-14-4z />
<path color=#5fb5a4 d=M5565,669l15,27,4-2-15-27z />
<path color=#2e6491 d=M6067,772l15-2,2-24-15,6z />
<path color=#327587 d=M5559,720l14,14,2-18-14-21z />
<path color=#457bd6 d=M6578,777l14,22,4,8-15-18z />
<path color=#545cdc d=M6482,845l15,7,14-13-15-7z />
<path color=#326c9f d=M6544,770l16-13,3-2-16,13z />
<path color=#71c08d d=M5551,641l14,28,4-2-14-28z />
<path color=#437cd4 d=M5292,803l13,3,22-12-14-4z />
<path color=#448cdd d=M5995,779l14,13,17-10-14-13z />
<path color=#4eadbb d=M5951,697l14,25,18-9-15-24z />
<path color=#305695 d=M6537,805l16-5,2-21-16,9z />
<path color=#4b8870 d=M5546,674l15,21,4-26-14-28z />
<path color=#4379d2 d=M6056,798l14,5,7-7-14-4z />
<path color=#5fb6a4 d=M5936,670l15,27,17-8-14-27z />
<path color=#438885 d=M5561,695l14,21,5-20-15-27z />
<path color=#3c7ec3 d=M5537,786l14,0,16-13-14,0z />
<path color=#437cd4 d=M5230,804l13,4,22-13-13-3z />
<path color=#2d5f93 d=M6539,788l16-9,5-22-16,13z />
<path color=#72c08a d=M5921,639l15,31,18-8-15-30z />
<path color=#a78a2e d=M5909,457l15,48,2-28-15-58z />
<path color=#2e6d8d d=M6069,752l15-6,2-24-14,12z />
<path color=#3a449a d=M6545,845l16,5,4-19-15-10z />
<path color=#437cd4 d=M5169,805l13,4,22-12-13-4z />
<path color=#dfd84f d=M5848,524l15,8,18-10-14-9z />
<path color=#aa7e2b d=M5895,452l14,5,2-38-14,3z />
<path color=#2e5c96 d=M6077,796l15,5,5-21-15-10z />
<path color=#2e6f8c d=M5571,752l14-10,1-26-13,18z />
<path color=#4b72dc d=M6345,817l15,7,15-13-15-7z />
<path color=#5165dd d=M6421,835l15,8,15-13-15-8z />
<path color=#8dc575 d=M5907,607l14,32,18-7-14-32z />
<path color=#344c95 d=M6550,821l15,10,3-17-15-14z />
<path color=#3f7ece d=M5489,797l14,1,20-13-13-1z />
<path color=#427dd2 d=M5428,802l14,3,20-13-13-3z />
<path color=#347684 d=M6073,725l15-14,3-13-15,17z />
<path color=#2f738a d=M6072,734l14-12,2-11-15,14z />
<path color=#5559da d=M6497,852l15,6,15-14-16-5z />
<path color=#4f52cb d=M6542,849l16,5,3-4-16-5z />
<path color=#2e6491 d=M6082,770l15,10,2-19-15-15z />
<path color=#428ed3 d=M6560,757l15,22,3-2-15-22z />
<path color=#437dd3 d=M5367,805l13,3,21-13-13-3z />
<path color=#a9cb61 d=M5892,577l15,30,18-7-15-31z />
<path color=#e69936 d=M5916,388l15,61,3-1-15-62z />
<path color=#4382d8 d=M6575,779l15,22,2-2-14-22z />
<path color=#d5d551 d=M5863,532l14,18,18-8-14-20z />
<path color=#437cd4 d=M5305,806l13,4,22-13-13-3z />
<path color=#305695 d=M6553,800l15,14,2-16-15-19z />
<path color=#c3d153 d=M5877,550l15,27,18-8-15-27z />
<path color=#ae812c d=M5911,419l15,58,1-13-15-63z />
<path color=#e58933 d=M5901,390l15-2,3-2-14,1z />
<path color=#44a2ce d=M6106,725l15,24,3,0-15-24z />
<path color=#357783 d=M5573,734l13-18,2-26-13,26z />
<path color=#4dadbf d=M6091,698l15,27,3,0-14-26z />
<path color=#336aa5 d=M6555,779l15,19,5-19-15-22z />
<path color=#437cd4 d=M5243,808l14,4,21-13-13-4z />
<path color=#ad7228 d=M5897,422l14-3,1-18-14,6z />
<path color=#d08f32 d=M5912,401l15,63,4-15-15-61z />
<path color=#364895 d=M6565,831l16,8,2-12-15-13z />
<path color=#3e46a2 d=M6561,850l15,4,5-15-16-8z />
<path color=#2e6c8d d=M6084,746l15,15,2-18-15-21z />
<path color=#315f9e d=M6092,801l15,3,5-15-15-9z />
<path color=#2d6092 d=M6097,780l15,9,2-14-15-14z />
<path color=#407e75 d=M5575,716l13-26,4-28-12,34z />
<path color=#3866b0 d=M6570,798l15,17,5-14-15-22z />
<path color=#ac6a27 d=M5898,407l14-6,4-13-15,2z />
<path color=#437cd4 d=M5182,809l13,4,22-13-13-3z />
<path color=#4680dc d=M6024,802l15,8,17-12-15-7z />
<path color=#334f95 d=M6568,814l15,13,2-12-15-17z />
<path color=#3e8fa2 d=M6088,711l15,23,3-9-15-27z />
<path color=#5557d8 d=M6512,858l16,5,14-14-15-5z />
<path color=#2f738a d=M6086,722l15,21,2-9-15-23z />
<path color=#2e6790 d=M6099,761l15,14,2-13-15-19z />
<path color=#3c8db5 d=M6103,734l14,22,4-7-15-24z />
<path color=#5052cc d=M6558,854l16,3,2-3-15-4z />
<path color=#417dd1 d=M5442,805l13,2,21-13-14-2z />
<path color=#3e7ecb d=M5503,798l14,1,20-13-14-1z />
<path color=#427dd3 d=M5380,808l14,3,21-12-14-4z />
<path color=#317195 d=M6101,743l15,19,1-6-14-22z />
<path color=#437cd4 d=M5318,810l14,4,21-13-13-4z />
<path color=#4377cf d=M6085,807l15,2,7-5-15-3z />
<path color=#437cd4 d=M5257,812l13,3,22-12-14-4z />
<path color=#467cd9 d=M6039,810l14,5,17-12-14-5z />
<path color=#347684 d=M5585,742l13-13,1-34-13,21z />
<path color=#2e5b95 d=M6107,804l15,0,4-20-14,5z />
<path color=#437cd4 d=M5195,813l13,4,22-13-13-4z />
<path color=#2d6192 d=M6112,789l14-5,3-18-15,9z />
<path color=#5456d6 d=M6528,863l16,4,14-13-16-5z />
<path color=#bfb944 d=M5816,539l14-4,18-11-14,3z />
<path color=#2e6e8c d=M6117,756l15-18,4-9-15,20z />
<path color=#2e678f d=M6114,775l15-9,2-19-15,15z />
<path color=#407ed0 d=M5455,807l14,3,20-13-13-3z />
<path color=#427dd3 d=M5394,811l13,4,21-13-13-3z />
<path color=#4493d7 d=M5962,772l15,18,18-11-15-17z />
<path color=#2e6c8e d=M6116,762l15-15,1-9-15,18z />
<path color=#3d7ec6 d=M5517,799l13,0,21-13-14,0z />
<path color=#437cd4 d=M5332,814l13,3,22-12-14-4z />
<path color=#555cdc d=M6467,858l15,7,15-13-15-7z />
<path color=#4097c2 d=M5947,731l15,41,18-10-15-40z />
<path color=#4176cb d=M6100,809l15,2,7-7-15,0z />
<path color=#437cd4 d=M5270,815l13,4,22-13-13-3z />
<path color=#448ddd d=M5977,790l15,13,17-11-14-13z />
<path color=#448071 d=M5586,716l13-21,2-34-13,29z />
<path color=#437cd4 d=M5208,817l13,4,22-13-13-4z />
<path color=#51aeb8 d=M5933,706l14,25,18-9-14-25z />
<path color=#62b7a0 d=M5918,678l15,28,18-9-15-27z />
<path color=#5455d4 d=M6544,867l15,4,15-14-16-3z />
<path color=#ded74f d=M5830,535l14,7,19-10-15-8z />
<path color=#2d5d94 d=M6122,804l15,1,4-26-15,5z />
<path color=#75c286 d=M5903,646l15,32,18-8-15-31z />
<path color=#5165dd d=M6406,848l15,8,15-13-15-8z />
<path color=#3f7ece d=M5469,810l13,1,21-13-14-1z />
<path color=#397a7d d=M5598,729l14,2,1-28-14-8z />
<path color=#427dd2 d=M5407,815l14,3,21-13-14-3z />
<path color=#5559db d=M6482,865l16,6,14-13-15-6z />
<path color=#4487de d=M5992,803l14,11,18-12-15-10z />
<path color=#2e6690 d=M6126,784l15-5,3-24-15,11z />
<path color=#91c672 d=M5888,614l15,32,18-7-14-32z />
<path color=#437dd4 d=M5345,817l14,4,21-13-13-3z />
<path color=#54895e d=M5588,690l13-29,4-36-13,37z />
<path color=#3c7ec1 d=M5530,799l14-1,20-14-13,2z />
<path color=#437cd4 d=M5283,819l14,4,21-13-13-4z />
<path color=#d7d651 d=M5844,542l15,17,18-9-14-18z />
<path color=#adcc5f d=M5874,584l14,30,19-7-15-30z />
<path color=#3e76c7 d=M6115,811l15,1,7-7-15-1z />
<path color=#c6d152 d=M5859,559l15,25,18-7-15-27z />
<path color=#437cd4 d=M5221,821l14,3,22-12-14-4z />
<path color=#2e6e8c d=M6129,766l15-11,2-23-15,15z />
<path color=#357782 d=M6132,738l15-18,4-12-15,21z />
<path color=#2d5f93 d=M6137,805l15,2,4-21-15-7z />
<path color=#4a836a d=M5599,695l14,8,2-27-14-15z />
<path color=#307488 d=M6131,747l15-15,1-12-15,18z />
<path color=#5557d9 d=M6498,871l16,5,14-13-16-5z />
<path color=#417dd1 d=M5421,818l13,2,21-13-13-2z />
<path color=#3e7ecb d=M5482,811l14,1,21-13-14-1z />
<path color=#437dd3 d=M5359,821l13,3,22-13-14-3z />
<path color=#2e6790 d=M6141,779l15,7,3-18-15-13z />
<path color=#437cd4 d=M5297,823l13,4,22-13-14-4z />
<path color=#53b2bb d=M6151,708l15,23,3,1-15-24z />
<path color=#4278cf d=M6083,821l15,2,17-12-15-2z />
<path color=#437cd4 d=M5235,824l13,4,22-13-13-3z />
<path color=#94cb75 d=M5605,625l15,21,4-2-15-21z />
<path color=#45a8cd d=M6166,731l14,24,4,0-15-23z />
<path color=#46816e d=M5613,703l14,6,2-20-14-13z />
<path color=#5c8a58 d=M5601,661l14,15,5-30-15-21z />
<path color=#457dd9 d=M6021,821l15,6,17-12-14-5z />
<path color=#2e6f8c d=M6144,755l15,13,2-19-15-17z />
<path color=#83c982 d=M5620,646l14,20,4-3-14-19z />
<path color=#30649c d=M6152,807l15,2,4-15-15-8z />
<path color=#b9b443 d=M5797,553l14-6,19-12-14,4z />
<path color=#2e6491 d=M6156,786l15,8,3-14-15-12z />
<path color=#5556d6 d=M6514,876l15,4,15-13-16-4z />
<path color=#42919c d=M6147,720l15,21,4-10-15-23z />
<path color=#558d63 d=M5615,676l14,13,5-23-14-20z />
<path color=#327587 d=M6146,732l15,17,1-8-15-21z />
<path color=#407ed0 d=M5434,820l14,3,21-13-14-3z />
<path color=#427dd3 d=M5372,824l14,4,21-13-13-4z />
<path color=#3c92b4 d=M6162,741l15,20,3-6-14-24z />
<path color=#2e6a8e d=M6159,768l15,12,2-13-15-18z />
<path color=#3d7ec7 d=M5496,812l14,0,20-13-13,0z />
<path color=#437cd4 d=M5310,827l14,3,21-13-13-3z />
<path color=#317493 d=M6161,749l15,18,1-6-15-20z />
<path color=#4099c1 d=M5929,740l15,42,18-10-15-41z />
<path color=#437cd4 d=M5248,828l13,4,22-13-13-4z />
<path color=#3e7dcc d=M6145,813l15,1,7-5-15-2z />
<path color=#417ace d=M6098,823l15,1,17-12-15-1z />
<path color=#427f73 d=M5626,730l13-22,1-30-13,31z />
<path color=#448edc d=M5959,801l15,14,18-12-15-13z />
<path color=#53b0b4 d=M5915,715l14,25,18-9-14-25z />
<path color=#5455d4 d=M6529,880l16,4,14-13-15-4z />
<path color=#2e6094 d=M6167,809l15,1,5-21-16,5z />
<path color=#65b99c d=M5900,686l15,29,18-9-15-28z />
<path color=#2e6590 d=M6171,794l16-5,2-18-15,9z />
<path color=#dcd44e d=M5811,547l15,5,18-10-14-7z />
<path color=#3f7ece d=M5448,823l14,1,20-13-13-1z />
<path color=#427dd2 d=M5386,828l13,3,22-13-14-3z />
<path color=#79c383 d=M5885,654l15,32,18-8-15-32z />
<path color=#5559db d=M6468,878l15,6,15-13-16-6z />
<path color=#2f728b d=M6177,761l16-18,3-9-16,21z />
<path color=#2e6b8e d=M6174,780l15-9,2-19-15,15z />
<path color=#437dd4 d=M5324,830l13,4,22-13-14-4z />
<path color=#4488de d=M5974,815l15,11,17-12-14-11z />
<path color=#4f8663 d=M5627,709l13-31,2-30-13,41z />
<path color=#3c7ec2 d=M5510,812l14-1,20-13-14,1z />
<path color=#2e708c d=M6176,767l15-15,2-9-16,18z />
<path color=#95c76f d=M5870,622l15,32,18-8-15-32z />
<path color=#437cd4 d=M5261,832l14,4,22-13-14-4z />
<path color=#688c50 d=M5634,666l13-50,4-3-13,50z />
<path color=#dad750 d=M5826,552l14,16,19-9-15-17z />
<path color=#3e7dca d=M6160,814l15,2,7-6-15-1z />
<path color=#407bcd d=M6113,824l15,1,17-12-15-1z />
<path color=#b2cd5c d=M5855,592l15,30,18-8-14-30z />
<path color=#5f8b56 d=M5629,689l13-41,5-32-13,50z />
<path color=#c9d252 d=M5840,568l15,24,19-8-15-25z />
<path color=#5557d9 d=M6483,884l16,5,15-13-16-5z />
<path color=#417dd1 d=M5399,831l14,2,21-13-13-2z />
<path color=#2e6292 d=M6182,810l15,1,5-26-15,4z />
<path color=#3e7ecc d=M5462,824l13,2,21-14-14-1z />
<path color=#437dd3 d=M5337,834l14,3,21-13-13-3z />
<path color=#2e6a8e d=M6187,789l15-4,2-24-15,10z />
<path color=#437cd4 d=M5275,836l13,4,22-13-13-4z />
<path color=#3a7ebb d=M5524,811l13-3,21-13-14,3z />
<path color=#3d7ec9 d=M6175,816l15,2,7-7-15-1z />
<path color=#2f728b d=M6189,771l15-10,3-23-16,14z />
<path color=#387b86 d=M5619,756l13-14,16-18-14,16z />
<path color=#5556d6 d=M6499,889l16,5,14-14-15-4z />
<path color=#54895e d=M5639,708l13-27,1-39-13,36z />
<path color=#407ed0 d=M5413,833l14,3,21-13-14-3z />
<path color=#2e6393 d=M6197,811l15,4,5-21-15-9z />
<path color=#3a7a7c d=M6193,743l15-17,4-12-16,20z />
<path color=#357782 d=M6191,752l16-14,1-12-15,17z />
<path color=#427dd3 d=M5351,837l13,4,22-13-14-4z />
<path color=#3d7ec8 d=M5475,826l14,0,21-14-14,0z />
<path color=#437cd4 d=M5288,840l14,3,22-13-14-3z />
<path color=#2e6a8e d=M6202,785l15,9,2-18-15-15z />
<path color=#59b5b3 d=M6212,714l14,25,4,0-15-25z />
<path color=#47aac7 d=M6226,739l15,26,3,0-14-26z />
<path color=#409ac0 d=M5911,750l15,43,18-11-15-42z />
<path color=#3f82cd d=M6190,818l15,3,7-6-15-4z />
<path color=#3f80ce d=M6143,827l15,1,17-12-15-2z />
<path color=#2f738a d=M6204,761l15,15,3-19-15-19z />
<path color=#5455d4 d=M6515,894l16,3,14-13-16-4z />
<path color=#31689e d=M6212,815l15,4,5-15-15-10z />
<path color=#2e6790 d=M6217,794l15,10,2-13-15-15z />
<path color=#d8d14d d=M5792,559l15,3,19-10-15-5z />
<path color=#56b1b1 d=M5896,723l15,27,18-10-14-25z />
<path color=#6c8d4d d=M5640,678l13-36,2-40-13,46z />
<path color=#3f7ece d=M5427,836l14,2,21-14-14-1z />
<path color=#489597 d=M6208,726l15,22,3-9-14-25z />
<path color=#68ba98 d=M5881,694l15,29,19-8-15-29z />
<path color=#427dd2 d=M5364,841l14,3,21-13-13-3z />
<path color=#367881 d=M6207,738l15,19,1-9-15-22z />
<path color=#3e96b1 d=M6223,748l15,23,3-6-15-26z />
<path color=#2e6d8d d=M6219,776l15,15,3-13-15-21z />
<path color=#437cd4 d=M5302,843l13,4,22-13-13-4z />
<path color=#317894 d=M6222,757l15,21,1-7-15-23z />
<path color=#3c7ec2 d=M5489,826l14-1,21-14-14,1z />
<path color=#7dc380 d=M5866,662l15,32,19-8-15-32z />
<path color=#4085d1 d=M6205,821l16,4,6-6-15-4z />
<path color=#9ac86c d=M5851,630l15,32,19-8-15-32z />
<path color=#427f75 d=M5632,742l14-17,15-18-13,17z />
<path color=#3f7ccd d=M6096,837l15,1,17-13-15-1z />
<path color=#3f82d0 d=M6158,828l16,2,16-12-15-2z />
<path color=#2f6496 d=M6227,819l16,4,5-21-16,2z />
<path color=#2e6790 d=M6232,804l16-2,2-18-16,7z />
<path color=#b6ce59 d=M5836,600l15,30,19-8-15-30z />
<path color=#83913c d=M5642,648l13-46,4-43-12,57z />
<path color=#648c52 d=M5652,681l14-10,1-33-14,4z />
<path color=#cbd351 d=M5821,577l15,23,19-8-15-24z />
<path color=#8c9138 d=M5647,616l12-57,4-4-12,58z />
<path color=#307489 d=M6238,771l16-15,3-9-16,18z />
<path color=#417dd1 d=M5378,844l14,3,21-14-14-2z />
<path color=#2e6d8d d=M6234,791l16-7,2-19-15,13z />
<path color=#3e7ecc d=M5441,838l13,1,21-13-13-2z />
<path color=#437dd3 d=M5315,847l14,3,22-13-14-3z />
<path color=#2e718b d=M6237,778l15-13,2-9-16,15z />
<path color=#377f8e d=M5598,772l14-14,20-16-13,14z />
<path color=#3b7ebc d=M5503,825l14-2,20-15-13,3z />
<path color=#4085d1 d=M6221,825l15,4,7-6-16-4z />
<path color=#4084d1 d=M6174,830l15,3,16-12-15-3z />
<path color=#2e6292 d=M6243,823l15,4,5-25-15,0z />
<path color=#5556d7 d=M6484,902l16,5,15-13-16-5z />
<path color=#7d9041 d=M5653,642l14-4,2-33-14-3z />
<path color=#417ed0 d=M5392,847l13,2,22-13-14-3z />
<path color=#2e6a8e d=M6248,802l15,0,3-24-16,6z />
<path color=#427dd3 d=M5329,850l14,4,21-13-13-4z />
<path color=#3d7ec8 d=M5454,839l14,1,21-14-14,0z />
<path color=#6c8d4d d=M5666,671l14-12,1-26-14,5z />
<path color=#4084d1 d=M6236,829l15,6,7-8-15-4z />
<path color=#2f728b d=M6250,784l16-6,2-24-16,11z />
<path color=#4186d3 d=M6189,833l15,4,17-12-16-4z />
<path color=#2f6496 d=M6258,827l15,7,5-20-15-12z />
<path color=#397db3 d=M5517,823l13-5,21-14-14,4z />
<path color=#3a7a7c d=M6254,756l16-14,3-12-16,17z />
<path color=#5455d4 d=M6500,907l16,3,15-13-16-3z />
<path color=#367782 d=M6252,765l16-11,2-12-16,14z />
<path color=#909137 d=M5655,602l14,3,4-37-14-9z />
<path color=#2e698f d=M6263,802l15,12,3-19-15-17z />
<path color=#d9ce4b d=M5659,559l14,9,4-4-14-9z />
<path color=#3f7ecf d=M5405,849l14,2,22-13-14-2z />
<path color=#43a5c9 d=M6288,758l15,29,3,0-15-28z />
<path color=#40817c d=M5612,758l14-17,20-16-14,17z />
<path color=#80913f d=M5667,638l14-5,2-25-14-3z />
<path color=#427dd2 d=M5343,854l13,3,22-13-14-3z />
<path color=#55b2b3 d=M6273,730l15,28,3,1-15-29z />
<path color=#4185d4 d=M6251,835l16,6,6-7-15-7z />
<path color=#3c7ec3 d=M5468,840l14-1,21-14-14,1z />
<path color=#3268a2 d=M6273,834l16,8,5-15-16-13z />
<path color=#2e6591 d=M6278,814l16,13,2-14-15-18z />
<path color=#2f728b d=M6266,778l15,17,2-18-15-23z />
<path color=#82c47d d=M5848,670l15,32,18-8-15-32z />
<path color=#4187d5 d=M6204,837l16,5,16-13-15-4z />
<path color=#3c93b4 d=M6284,768l15,26,4-7-15-29z />
<path color=#2e6b8e d=M6281,795l15,18,2-13-15-23z />
<path color=#d2cc4b d=M5673,568l15,11,4-5-15-10z />
<path color=#46959a d=M6270,742l14,26,4-10-15-28z />
<path color=#8f9138 d=M5669,605l14,3,5-29-15-11z />
<path color=#357884 d=M6268,754l15,23,1-9-14-26z />
<path color=#3f82cf d=M6141,841l16,3,17-14-16-2z />
<path color=#9ec869 d=M5832,638l16,32,18-8-15-32z />
<path color=#718e4a d=M5678,671l14-30,1-18-13,36z />
<path color=#327797 d=M6283,777l15,23,1-6-15-26z />
<path color=#4285d8 d=M6267,841l15,7,7-6-16-8z />
<path color=#417dd2 d=M5356,857l14,3,22-13-14-3z />
<path color=#3e7ecd d=M5419,851l14,2,21-14-13-1z />
<path color=#30629c d=M6289,842l15,7,5-21-15-1z />
<path color=#2e6391 d=M6294,827l15,1,3-19-16,4z />
<path color=#367e91 d=M5578,787l14-14,20-15-14,14z />
<path color=#80913f d=M5680,659l13-36,1-37-13,47z />
<path color=#2e708c d=M6299,794l16-12,4-10-16,15z />
<path color=#2e698f d=M6296,813l16-4,2-18-16,9z />
<path color=#3b7ebd d=M5482,839l14-2,21-14-14,2z />
<path color=#4287d7 d=M6220,842l15,5,16-12-15-6z />
<path color=#2e6e8d d=M6298,800l16-9,1-9-16,12z />
<path color=#4084d1 d=M6157,844l15,3,17-14-15-3z />
<path color=#4382d8 d=M6282,848l16,7,6-6-15-7z />
<path color=#4b856a d=M5626,741l13-20,20-17-13,21z />
<path color=#417ed0 d=M5370,860l14,3,21-14-13-2z />
<path color=#2d5d94 d=M6304,849l16,7,5-26-16-2z />
<path color=#3d7ec9 d=M5433,853l14,0,21-13-14-1z />
<path color=#8f9137 d=M5681,633l13-47,2-37-13,59z />
<path color=#2e6590 d=M6309,828l16,2,2-24-15,3z />
<path color=#4287d9 d=M6235,847l16,6,16-12-16-6z />
<path color=#447ed6 d=M6298,855l15,8,7-7-16-7z />
<path color=#5559da d=M6488,913l16,5,12-8-16-3z />
<path color=#397db5 d=M5496,837l13-4,21-15-13,5z />
<path color=#4186d3 d=M6172,847l15,3,17-13-15-4z />
<path color=#7b9042 d=M5689,664l13-23,4-29-14,29z />
<path color=#2e6e8d d=M6312,809l15-3,3-24-16,9z />
<path color=#2f5f9b d=M6320,856l15,9,5-21-15-14z />
<path color=#3f807f d=M5592,773l13-16,21-16-14,17z />
<path color=#9d9133 d=M5683,608l13-59,4-41-12,71z />
<path color=#a49031 d=M5688,579l12-71,4-5-12,71z />
<path color=#407ecf d=M5384,863l14,2,21-14-14-2z />
<path color=#347684 d=M6315,782l17-12,3-12-16,14z />
<path color=#2e6491 d=M6325,830l15,14,3-19-16-19z />
<path color=#2f7489 d=M6314,791l16-9,2-12-17,12z />
<path color=#429bcc d=M6350,788l15,31,3,0-15-30z />
<path color=#4386db d=M6251,853l15,7,16-12-15-7z />
<path color=#889139 d=M5692,641l14-29,0-24-13,35z />
<path color=#3c7ec4 d=M5447,853l14,0,21-14-14,1z />
<path color=#4aaabf d=M6335,758l15,30,3,1-15-31z />
<path color=#457cd8 d=M6313,863l16,8,6-6-15-9z />
<path color=#3461a5 d=M6335,865l16,9,5-15-16-15z />
<path color=#2d5e93 d=M6340,844l16,15,2-14-15-20z />
<path color=#2e6c8d d=M6327,806l16,19,2-18-15-25z />
<path color=#4d5acc d=M6470,897l16,8,2,8-16-5z />
<path color=#3c8bb8 d=M6347,798l15,28,3-7-15-31z />
<path color=#2e6491 d=M6343,825l15,20,2-13-15-25z />
<path color=#3e90a6 d=M6332,770l15,28,3-10-15-30z />
<path color=#32719b d=M6345,807l15,25,2-6-15-28z />
<path color=#2f748d d=M6330,782l15,25,2-9-15-28z />
<path color=#4484db d=M6266,860l16,8,16-13-16-7z />
<path color=#3e7ecd d=M5398,865l13,2,22-14-14-2z />
<path color=#357e94 d=M5558,802l13-13,21-16-14,14z />
<path color=#4879da d=M6329,871l15,9,7-6-16-9z />
<path color=#33599d d=M6351,874l15,7,5-20-15-2z />
<path color=#2d5c94 d=M6356,859l15,2,3-19-16,3z />
<path color=#969135 d=M5693,623l13-35,2-50-14,48z />
<path color=#3b7ebe d=M5461,853l13-2,22-14-14,2z />
<path color=#2e698f d=M6362,826l16-12,3-9-16,14z />
<path color=#2e6292 d=M6358,845l16-3,2-19-16,9z />
<path color=#4f5ad0 d=M6486,905l16,7,2,6-16-5z />
<path color=#4287d6 d=M6203,855l15,6,17-14-15-5z />
<path color=#2e6790 d=M6360,832l16-9,2-9-16,12z />
<path color=#899139 d=M5702,641l14-16,4-25-14,12z />
<path color=#4681dc d=M6282,868l15,8,16-13-15-8z />
<path color=#49846d d=M5605,757l14-20,20-16-13,20z />
<path color=#4975d9 d=M6344,880l16,8,6-7-15-7z />
<path color=#305495 d=M6366,881l16,8,5-27-16-1z />
<path color=#3e7eca d=M5411,867l14,0,22-14-14,0z />
<path color=#939136 d=M5706,612l14-12,1-19-15,7z />
<path color=#485bc4 d=M6485,897l16,10,1,5-16-7z />
<path color=#2d5e93 d=M6371,861l16,1,3-24-16,4z />
<path color=#4287d8 d=M6218,861l16,6,17-14-16-6z />
<path color=#809240 d=M5687,661l14-17,15-19-14,16z />
<path color=#357da1 d=M5523,826l14-9,21-15-14,9z />
<path color=#477edc d=M6297,876l16,8,16-13-16-8z />
<path color=#a68e2f d=M5694,586l14-48,1-50-13,61z />
<path color=#397db6 d=M5474,851l14-4,21-14-13,4z />
<path color=#4971d7 d=M6360,888l16,8,6-7-16-8z />
<path color=#4186d2 d=M6155,860l15,4,17-14-15-3z />
<path color=#2e6790 d=M6374,842l16-4,3-24-17,9z />
<path color=#3d8082 d=M5571,789l14-16,20-16-13,16z />
<path color=#33559a d=M6382,889l16,8,5-21-16-14z />
<path color=#ad7128 d=M5704,503l14-50,4-2-13,65z />
<path color=#2e708c d=M6378,814l16-11,4-13-17,15z />
<path color=#4363c1 d=M6484,879l15,15,2,13-16-10z />
<path color=#2d5d94 d=M6387,862l16,14,2-19-15-19z />
<path color=#2e6d8d d=M6376,823l17-9,1-11-16,11z />
<path color=#8f9137 d=M5716,625l15-9,3-19-14,3z />
<path color=#4286da d=M6234,867l16,7,16-14-15-7z />
<path color=#4293d1 d=M6413,820l15,29,3,0-15-29z />
<path color=#497bdd d=M6313,884l15,9,16-13-15-9z />
<path color=#a19032 d=M5706,588l15-7,1-41-14-2z />
<path color=#3d7ec5 d=M5425,867l14,0,22-14-14,0z />
<path color=#43a2ca d=M6398,790l15,30,3,0-15-30z />
<path color=#4b6ed7 d=M6376,896l16,8,6-7-16-8z />
<path color=#979135 d=M5720,600l14-3,1-15-14-1z />
<path color=#3857a4 d=M6398,897l16,8,4-16-15-13z />
<path color=#2f5795 d=M6403,876l15,13,3-13-16-19z />
<path color=#2e6590 d=M6390,838l15,19,3-19-15-24z />
<path color=#ab792a d=M5696,549l13-61,5-32-14,52z />
<path color=#ad6e27 d=M5700,508l14-52,4-3-14,50z />
<path color=#3b83bc d=M6409,830l15,26,4-7-15-29z />
<path color=#2d5e94 d=M6405,857l16,19,2-14-15-24z />
<path color=#56895c d=M5619,737l14-22,20-16-14,22z />
<path color=#3988ad d=M6394,803l15,27,4-10-15-30z />
<path color=#2f6d90 d=M6393,814l15,24,1-8-15-27z />
<path color=#316a9d d=M6408,838l15,24,1-6-15-26z />
<path color=#377dad d=M5488,847l14-6,21-15-14,7z />
<path color=#4484db d=M6250,874l15,7,17-13-16-8z />
<path color=#4a77dd d=M6328,893l16,8,16-13-16-8z />
<path color=#347e97 d=M5537,817l14-12,20-16-13,13z />
<path color=#97a03f d=M5701,644l14-12,16-16-15,9z />
<path color=#3e70c2 d=M6483,861l15,21,1,12-15-15z />
<path color=#4c6cd9 d=M6392,904l15,7,7-6-16-8z />
<path color=#a19032 d=M5721,581l14,1,2-30-15-12z />
<path color=#35509b d=M6414,905l16,5,5-21-17,0z />
<path color=#305595 d=M6418,889l17,0,2-19-16,6z />
<path color=#3b7ebf d=M5439,867l14-2,21-14-13,2z />
<path color=#939136 d=M5731,616l14-3,4-25-15,9z />
<path color=#2e6491 d=M6424,856l17-13,3-10-16,16z />
<path color=#2d5d94 d=M6421,876l16-6,3-18-17,10z />
<path color=#a9812c d=M5708,538l14,2,2-40-15-12z />
<path color=#478370 d=M5585,773l13-20,21-16-14,20z />
<path color=#4b74dd d=M6344,901l16,8,16-13-16-8z />
<path color=#4581dc d=M6265,881l16,9,16-14-15-8z />
<path color=#2d6192 d=M6423,862l17-10,1-9-17,13z />
<path color=#9b9134 d=M5734,597l15-9,1-20-15,14z />
<path color=#ff9639 d=M5718,453l14,4,4,6-14-12z />
<path color=#4c69d7 d=M6407,911l16,6,7-7-16-5z />
<path color=#307191 d=M5867,823l15,18,3-21-15-14z />
<path color=#3e8c9a d=M5851,781l16,42,3-17-15-39z />
<path color=#a8852d d=M5722,540l15,12,2-30-15-22z />
<path color=#3c7c7c d=M5855,767l15,39,2-15-16-35z />
<path color=#334e95 d=M6430,910l16,5,5-26-16,0z />
<path color=#307488 d=M5870,806l15,14,2-18-15-11z />
<path color=#afb445 d=M5715,632l14-2,16-17-14,3z />
<path color=#306d96 d=M5882,841l15,16,3-16-15-21z />
<path color=#477edc d=M6281,890l15,8,17-14-16-8z />
<path color=#4d70dc d=M6360,909l16,8,16-13-16-8z />
<path color=#4085cf d=M6480,843l15,26,3,13-15-21z />
<path color=#a69030 d=M5735,582l15-14,1-42-14,26z />
<path color=#2e5995 d=M6435,889l16,0,3-25-17,6z />
<path color=#3a7db7 d=M5453,865l14-3,21-15-14,4z />
<path color=#4f937e d=M5836,753l15,28,4-14-15-33z />
<path color=#959135 d=M5745,613l15,7,3-30-14-2z />
<path color=#f38b36 d=M5714,456l14,3,4-2-14-4z />
<path color=#ad6b27 d=M5709,488l15,12,4-41-14-3z />
<path color=#2e6f8c d=M5885,820l15,21,2-14-15-25z />
<path color=#3c7f84 d=M5551,805l13-16,21-16-14,16z />
<path color=#4d8566 d=M5840,734l15,33,1-11-15-37z />
<path color=#45806f d=M5856,756l16,35,2-29-16-28z />
<path color=#5b9364 d=M5821,723l15,30,4-19-16-36z />
<path color=#326da0 d=M5897,857l15,13,4-12-16-17z />
<path color=#4b66d3 d=M6423,917l16,6,7-8-16-5z />
<path color=#2e678f d=M5900,841l16,17,1-10-15-21z />
<path color=#6b9253 d=M5805,694l16,29,3-25-15-25z />
<path color=#809b4b d=M5790,666l15,28,4-21-15-23z />
<path color=#3d7b79 d=M5872,791l15,11,2-36-15-4z />
<path color=#2e6292 d=M6437,870l17-6,2-24-16,12z />
<path color=#ad7429 d=M5724,500l15,22,5-35-16-28z />
<path color=#929e3f d=M5775,640l15,26,4-16-16-33z />
<path color=#f19536 d=M5728,459l16,28,4-5-16-25z />
<path color=#919137 d=M5760,620l15,20,3-23-15-27z />
<path color=#9f9032 d=M5749,588l14,2,1-25-14,3z />
<path color=#4286da d=M6217,880l16,7,17-13-16-7z />
<path color=#628b54 d=M5824,698l16,36,1-15-16-42z />
<path color=#4399cf d=M5851,836l16,19,15-14-15-18z />
<path color=#588a5b d=M5841,719l15,37,2-22-15-48z />
<path color=#344f98 d=M6446,915l16,5,5-21-16-10z />
<path color=#81913e d=M5794,650l15,23,1-17-15-19z />
<path color=#487bdc d=M6296,898l16,8,16-13-15-9z />
<path color=#4d6ddc d=M6376,917l16,7,15-13-15-7z />
<path color=#2e6e8c d=M5902,827l15,21,2-19-15-29z />
<path color=#afc757 d=M5853,617l16,69,4,8-16-63z />
<path color=#2e6c8e d=M6441,843l17-15,3-12-17,17z />
<path color=#8e9138 d=M5778,617l16,33,1-13-15-40z />
<path color=#357783 d=M5887,802l15,25,2-27-15-34z />
<path color=#2e688f d=M6440,852l16-12,2-12-17,15z />
<path color=#748f47 d=M5809,673l15,25,1-21-15-21z />
<path color=#439fb9 d=M5836,792l15,44,16-13-16-42z />
<path color=#528860 d=M5858,734l16,28,2-30-16-20z />
<path color=#c6cb4e d=M5729,630l15,7,16-17-15-7z />
<path color=#2e5995 d=M6451,889l16,10,2-19-15-16z />
<path color=#2f6599 d=M5912,870l15,8,4-16-15-4z />
<path color=#2e6591 d=M5916,858l15,4,1-13-15-1z />
<path color=#4392d3 d=M5867,855l15,15,15-13-15-16z />
<path color=#9fd375 d=M5865,688l16,13,3-2-15-13z />
<path color=#9a9134 d=M5763,590l15,27,2-20-16-32z />
<path color=#aa802c d=M5737,552l14-26,2-42-14,38z />
<path color=#53895e d=M5598,753l14-21,21-17-14,22z />
<path color=#4391d5 d=M6477,843l15,26,3,0-15-26z />
<path color=#439ece d=M6461,816l16,27,3,0-16-27z />
<path color=#5db4a4 d=M5821,766l15,26,15-11-15-28z />
<path color=#4c65d3 d=M6439,923l16,4,7-7-16-5z />
<path color=#669056 d=M5860,712l16,20,5-31-16-13z />
<path color=#8c9138 d=M5795,637l15,19,2-36-15-11z />
<path color=#7dc07c d=M5899,690l16,51,4,12-16-47z />
<path color=#347684 d=M5904,800l15,29,2-20-15-37z />
<path color=#6ebc8c d=M5805,737l16,29,15-13-15-30z />
<path color=#5fb098 d=M5911,743l15,45,4-2-15-45z />
<path color=#387dae d=M5467,862l14-6,21-15-14,6z />
<path color=#337e99 d=M5516,833l14-12,21-16-14,12z />
<path color=#2e6b8e d=M5917,848l15,1,2-27-15,7z />
<path color=#6a8d4e d=M5843,686l15,48,2-22-15-58z />
<path color=#2e6292 d=M6454,864l15,16,3-19-16-21z />
<path color=#4484db d=M6233,887l15,8,17-14-15-7z />
<path color=#c5cf51 d=M5744,637l15,18,16-15-15-20z />
<path color=#4a77dc d=M6312,906l16,9,16-14-16-8z />
<path color=#4d8665 d=M5874,762l15,4,1-37-14,3z />
<path color=#3852a1 d=M6462,920l16,5,5-16-16-10z />
<path color=#85c379 d=M5790,707l15,30,16-14-16-29z />
<path color=#748f47 d=M5825,677l16,42,2-33-16-53z />
<path color=#989135 d=M5780,597l15,40,2-28-16-51z />
<path color=#315495 d=M6467,899l16,10,2-13-16-16z />
<path color=#438ed8 d=M5882,870l15,12,15-12-15-13z />
<path color=#9ec868 d=M5775,679l15,28,15-13-15-28z />
<path color=#4e6bdb d=M6392,924l16,6,15-13-16-6z />
<path color=#b5cd59 d=M5759,655l16,24,15-13-15-26z />
<path color=#499087 d=M5906,772l15,37,5-21-15-45z />
<path color=#afc14f d=M5850,619l15,69,4-2-16-69z />
<path color=#3883ad d=M6458,828l15,25,4-10-16-27z />
<path color=#ad6e27 d=M5739,522l14-38,5-19-14,22z />
<path color=#a8882e d=M5750,568l14-3,2-53-15,14z />
<path color=#3b80bc d=M6473,853l16,23,3-7-15-26z />
<path color=#2e6890 d=M6456,840l16,21,1-8-15-25z />
<path color=#45816f d=M5889,766l15,34,2-28-16-43z />
<path color=#87923a d=M5810,656l15,21,2-44-15-13z />
<path color=#2d5c95 d=M6469,880l16,16,2-14-15-21z />
<path color=#8fa64c d=M5845,654l15,58,5-24-15-69z />
<path color=#30669c d=M6472,861l15,21,2-6-16-23z />
<path color=#2d6093 d=M5927,878l15,5,4-20-15-1z />
<path color=#307489 d=M5919,829l15-7,2-26-15,13z />
<path color=#468372 d=M5564,789l14-19,20-17-13,20z />
<path color=#7ea55a d=M5881,701l14-10,4-1-15,9z />
<path color=#2e6690 d=M5931,862l15,1,1-16-15,2z />
<path color=#a78d2f d=M5764,565l16,32,1-39-15-46z />
<path color=#618b54 d=M5876,732l14-3,5-38-14,10z />
<path color=#4c65d3 d=M6455,927l17,4,6-6-16-5z />
<path color=#4289d8 d=M5897,882l15,9,15-13-15-8z />
<path color=#9a9134 d=M5797,609l15,11,2-37-15-1z />
<path color=#3b7b7b d=M5921,809l15-13,5-28-15,20z />
<path color=#82bd74 d=M5895,691l16,52,4-2-16-51z />
<path color=#f07e34 d=M5762,463l15,4,4-3-15-3z />
<path color=#e9a93a d=M5792,471l16,77,4,10-16-72z />
<path color=#5e9765 d=M5890,729l16,43,5-29-16-52z />
<path color=#b3bb49 d=M5695,646l14-3,20-13-14,2z />
<path color=#4e69d9 d=M6408,930l16,6,15-13-16-6z />
<path color=#a69030 d=M5781,558l16,51,2-27-16-64z />
<path color=#d8c645 d=M5837,541l16,76,4,14-15-71z />
<path color=#8b9139 d=M5827,633l16,53,2-32-16-65z />
<path color=#2e6f8c d=M5932,849l15-2,2-34-15,9z />
<path color=#367da4 d=M5481,856l14-8,21-15-14,8z />
<path color=#2e6094 d=M5942,883l15,6,4-16-15-10z />
<path color=#caa337 d=M5804,551l15-6,4-3-15,6z />
<path color=#a68f30 d=M5799,582l15,1,5-38-15,6z />
<path color=#ef7933 d=M5758,465l15,4,4-2-15-4z />
<path color=#2e6590 d=M5946,863l15,10,1-13-15-13z />
<path color=#989135 d=M5812,620l15,13,2-44-15-6z />
<path color=#4c70dc d=M6344,923l16,8,16-14-16-8z />
<path color=#4083d3 d=M5912,891l15,7,15-15-15-5z />
<path color=#f58836 d=M5777,467l15,4,4,15-15-22z />
<path color=#3a7f87 d=M5530,821l13-16,21-16-13,16z />
<path color=#ad7228 d=M5751,526l15-14,1-40-14,12z />
<path color=#658c52 d=M5612,732l14-22,20-16-13,21z />
<path color=#e09d37 d=M5788,475l16,76,4-3-16-77z />
<path color=#be9131 d=M5783,518l16,64,5-31-16-76z />
<path color=#4d67d7 d=M6424,936l16,5,15-14-16-4z />
<path color=#449cd2 d=M5832,847l15,19,20-11-16-19z />
<path color=#ced653 d=M5709,643l15,6,20-12-15-7z />
<path color=#b96729 d=M5753,484l14-12,6-3-15-4z />
<path color=#ab782a d=M5766,512l15,46,2-40-16-46z />
<path color=#38797f d=M5934,822l15-9,2-33-15,16z />
<path color=#2e6e8d d=M5947,847l15,13,3-26-16-21z />
<path color=#aba039 d=M5829,589l16,65,5-35-16-76z />
<path color=#30639c d=M5957,889l16,4,3-12-15-8z />
<path color=#d5be41 d=M5834,543l16,76,3-2-16-76z />
<path color=#44a0ba d=M5816,802l16,45,19-11-15-44z />
<path color=#2e6392 d=M5961,873l15,8,2-9-16-12z />
<path color=#487bdc d=M6280,912l16,8,16-14-16-8z />
<path color=#4495d8 d=M5847,866l16,16,19-12-15-15z />
<path color=#4d6ddb d=M6360,931l16,7,16-14-16-7z />
<path color=#f08034 d=M5773,469l15,6,4-4-15-4z />
<path color=#4082d2 d=M5927,898l15,4,15-13-15-6z />
<path color=#2e698f d=M5962,860l16,12,2-19-15-19z />
<path color=#518861 d=M5578,770l13-21,21-17-14,21z />
<path color=#a78e2f d=M5814,583l15,6,5-46-15,2z />
<path color=#5fb7a6 d=M5801,775l15,27,20-10-15-26z />
<path color=#cbd855 d=M5724,649l15,16,20-10-15-18z />
<path color=#71c08f d=M5786,746l15,29,20-9-16-29z />
<path color=#dfaf3b d=M5819,545l15-2,3-2-14,1z />
<path color=#47826d d=M5936,796l15-16,5-35-15,23z />
<path color=#bf702a d=M5767,472l16,46,5-43-15-6z />
<path color=#87c67b d=M5770,716l16,30,19-9-15-30z />
<path color=#4490dc d=M5863,882l15,13,19-13-15-12z />
<path color=#4d66d5 d=M6440,941l16,3,16-13-17-4z />
<path color=#347e9a d=M5495,848l13-11,22-16-14,12z />
<path color=#b9d25b d=M5739,665l16,23,20-9-16-24z />
<path color=#a1cb6a d=M5755,688l15,28,20-9-15-28z />
<path color=#377880 d=M5949,813l16,21,2-26-16-28z />
<path color=#55aeac d=M5972,781l15,34,4-2-15-34z />
<path color=#2e718b d=M5965,834l15,19,2-18-15-27z />
<path color=#4a77dc d=M6296,920l16,9,16-14-16-9z />
<path color=#2e5f94 d=M5973,893l15,1,4-15-16,2z />
<path color=#2e6391 d=M5976,881l16-2,1-13-15,6z />
<path color=#4d6bda d=M6376,938l16,6,16-14-16-6z />
<path color=#3e8890 d=M5967,808l15,27,5-20-15-34z />
<path color=#6cbb8f d=M5956,745l16,36,4-2-16-36z />
<path color=#3f80d0 d=M5942,902l16,4,15-13-16-4z />
<path color=#448275 d=M5543,805l14-18,21-17-14,19z />
<path color=#438bdc d=M5878,895l15,9,19-13-15-9z />
<path color=#4b8a76 d=M5951,780l16,28,5-27-16-36z />
<path color=#2e698f d=M5978,872l15-6,2-26-15,13z />
<path color=#aeb647 d=M5675,661l14-6,20-12-14,3z />
<path color=#2f728b d=M5980,853l15-13,2-25-15,20z />
<path color=#4e69d9 d=M6392,944l16,6,16-14-16-6z />
<path color=#38787f d=M5982,835l15-20,6-27-16,27z />
<path color=#4287da d=M5893,904l15,7,19-13-15-7z />
<path color=#2d6192 d=M5988,894l15,1,4-19-15,3z />
<path color=#3e7ecb d=M5958,906l15,2,15-14-15-1z />
<path color=#2e6790 d=M5992,879l15-3,1-16-15,6z />
<path color=#397f8a d=M5508,837l14-15,21-17-13,16z />
<path color=#628c54 d=M5591,749l14-22,21-17-14,22z />
<path color=#4d67d7 d=M6408,950l16,5,16-14-16-5z />
<path color=#2e6f8c d=M5993,866l15-6,3-33-16,13z />
<path color=#ccd352 d=M5689,655l15,5,20-11-15-6z />
<path color=#449dd1 d=M5813,858l15,20,19-12-15-19z />
<path color=#4283d6 d=M5908,911l16,5,18-14-15-4z />
<path color=#46a1b7 d=M5797,812l16,46,19-11-16-45z />
<path color=#2e6292 d=M6003,895l16,3,3-16-15-6z />
<path color=#4f8763 d=M5557,787l13-21,21-17-13,21z />
<path color=#4496d7 d=M5828,878l15,16,20-12-16-16z />
<path color=#3d7dc7 d=M5973,908l16,2,14-15-15-1z />
<path color=#2e688f d=M6007,876l15,6,2-12-16-10z />
<path color=#cdd955 d=M5704,660l15,15,20-10-15-16z />
<path color=#62b8a2 d=M5781,785l16,27,19-10-15-27z />
<path color=#73c28b d=M5766,755l15,30,20-10-15-29z />
<path color=#38797f d=M5995,840l16-13,2-33-16,21z />
<path color=#4c66d4 d=M6424,955l17,4,15-15-16-3z />
<path color=#4491db d=M5843,894l16,13,19-12-15-13z />
<path color=#8bc778 d=M5750,725l16,30,20-9-16-30z />
<path color=#bdd35a d=M5719,675l16,22,20-9-16-23z />
<path color=#a5cc67 d=M5735,697l15,28,20-9-15-28z />
<path color=#2e708c d=M6008,860l16,10,2-26-15-17z />
<path color=#4081d3 d=M5924,916l15,3,19-13-16-4z />
<path color=#4d6bda d=M6360,952l16,7,16-15-16-6z />
<path color=#306699 d=M6019,898l15,2,4-11-16-7z />
<path color=#2e6690 d=M6022,882l16,7,1-10-15-9z />
<path color=#438178 d=M5522,822l14-18,21-17-14,18z />
<path color=#46816e d=M5997,815l16-21,5-34-15,28z />
<path color=#3e80c9 d=M5989,910l15,2,15-14-16-3z />
<path color=#759048 d=M5605,727l14-21,21-16-14,20z />
<path color=#438cdc d=M5859,907l15,10,19-13-15-9z />
<path color=#2e6c8d d=M6024,870l15,9,3-18-16-17z />
<path color=#39797e d=M6011,827l15,17,2-26-15-24z />
<path color=#aab246 d=M5654,675l15-6,20-14-14,6z />
<path color=#5bb3a7 d=M6034,791l15,32,4-2-16-31z />
<path color=#3f80d0 d=M5939,919l15,3,19-14-15-2z />
<path color=#4d69d8 d=M6376,959l16,5,16-14-16-6z />
<path color=#307488 d=M6026,844l16,17,2-19-16-24z />
<path color=#70bf8e d=M6018,760l16,31,3-1-15-32z />
<path color=#2e6392 d=M6034,900l16,1,4-15-16,3z />
<path color=#2e6790 d=M6038,889l16-3,1-13-16,6z />
<path color=#428a8b d=M6028,818l16,24,5-19-15-32z />
<path color=#4288da d=M5874,917l15,7,19-13-15-7z />
<path color=#4c8a73 d=M6013,794l15,24,6-27-16-31z />
<path color=#608b56 d=M5570,766l14-23,21-16-14,22z />
<path color=#3e82ca d=M6004,912l16,1,14-13-15-2z />
<path color=#2e6d8d d=M6039,879l16-6,2-25-15,13z />
<path color=#4d67d7 d=M6392,964l16,5,16-14-16-5z />
<path color=#c9d050 d=M5669,669l14,3,21-12-15-5z />
<path color=#3f81ce d=M5954,922l16,2,19-14-16-2z />
<path color=#327587 d=M6042,861l15-13,3-26-16,20z />
<path color=#449ed0 d=M5793,868l15,22,20-12-15-20z />
<path color=#4184d7 d=M5889,924l16,5,19-13-16-5z />
<path color=#4e8666 d=M5536,804l13-21,21-17-13,21z />
<path color=#3c7b7a d=M6044,842l16-20,5-27-16,28z />
<path color=#2e6591 d=M6050,901l15,2,4-19-15,2z />
<path color=#48a2b4 d=M5777,822l16,46,20-10-16-46z />
<path color=#4497d7 d=M5808,890l16,17,19-13-15-16z />
<path color=#3e82c7 d=M6020,913l15,3,15-15-16-1z />
<path color=#2e6a8e d=M6054,886l15-2,2-16-16,5z />
<path color=#cfd955 d=M5683,672l16,13,20-10-15-15z />
<path color=#64b99f d=M5761,794l16,28,20-10-16-27z />
<path color=#4c66d4 d=M6408,969l17,4,16-14-17-4z />
<path color=#76c388 d=M5745,764l16,30,20-9-15-30z />
<path color=#4492db d=M5824,907l15,13,20-13-16-13z />
<path color=#8fc876 d=M5730,734l15,30,21-9-16-30z />
<path color=#4082d3 d=M5905,929l15,4,19-14-15-3z />
<path color=#3f81cc d=M5970,924l15,2,19-14-15-2z />
<path color=#2f738b d=M6055,873l16-5,2-33-16,13z />
<path color=#c0d458 d=M5699,685l15,22,21-10-16-22z />
<path color=#a8cd65 d=M5714,707l16,27,20-9-15-28z />
<path color=#728f4a d=M5584,743l14-21,21-16-14,21z />
<path color=#2e6591 d=M6065,903l16,4,4-15-16-8z />
<path color=#3e84c7 d=M6035,916l16,2,14-15-15-2z />
<path color=#2e6b8e d=M6069,884l16,8,1-13-15-11z />
<path color=#448ddc d=M5839,920l15,10,20-13-15-10z />
<path color=#a5ae44 d=M5633,690l15-8,21-13-15,6z />
<path color=#3d7b7a d=M6057,848l16-13,2-33-15,20z />
<path color=#4d69d8 d=M6360,973l16,6,16-15-16-5z />
<path color=#3f81d0 d=M5920,933l15,3,19-14-15-3z />
<path color=#2f738a d=M6071,868l15,11,3-26-16-18z />
<path color=#3f83cc d=M5985,926l16,1,19-14-16-1z />
<path color=#316b9a d=M6081,907l16,5,4-11-16-9z />
<path color=#2e688f d=M6085,892l16,9,1-10-16-12z />
<path color=#5d8b57 d=M5549,783l14-23,21-17-14,23z />
<path color=#4388da d=M5854,930l16,7,19-13-15-7z />
<path color=#4b8468 d=M6060,822l15-20,6-34-16,27z />
<path color=#3f88cb d=M6051,918l16,4,14-15-16-4z />
<path color=#2e6e8c d=M6086,879l16,12,2-18-15-20z />
<path color=#3d7c79 d=M6073,835l16,18,2-25-16-26z />
<path color=#5fb4a1 d=M6096,801l16,33,3-1-15-34z />
<path color=#4d67d7 d=M6376,979l16,5,16-15-16-5z />
<path color=#337684 d=M6089,853l15,20,3-19-16-26z />
<path color=#c6cc4f d=M5648,682l15,2,20-12-14-3z />
<path color=#3f81ce d=M5935,936l16,2,19-14-16-2z />
<path color=#2f6795 d=M6097,912l16,4,3-15-15,0z />
<path color=#2e688f d=M6101,901l15,0,2-13-16,3z />
<path color=#3f85cc d=M6001,927l16,3,18-14-15-3z />
<path color=#75c188 d=M6081,768l15,33,4-2-16-33z />
<path color=#4185d7 d=M5870,937l15,6,20-14-16-5z />
<path color=#879942 d=M5598,722l14-16,21-16-14,16z />
<path color=#468d88 d=M6091,828l16,26,5-20-16-33z />
<path color=#449fcf d=M5773,879l15,22,20-11-15-22z />
<path color=#508d6e d=M6075,802l16,26,5-27-15-33z />
<path color=#408ace d=M6067,922l15,4,15-14-16-5z />
<path color=#2e6e8c d=M6102,891l16-3,2-26-16,11z />
<path color=#4aa4b1 d=M5756,833l17,46,20-11-16-46z />
<path color=#4498d6 d=M5788,901l16,18,20-12-16-17z />
<path color=#d0d955 d=M5663,684l15,12,21-11-16-13z />
<path color=#4c66d4 d=M6392,984l17,4,16-15-17-4z />
<path color=#337685 d=M6104,873l16-11,3-25-16,17z />
<path color=#67bb9c d=M5741,804l15,29,21-11-16-28z />
<path color=#4493da d=M5804,919l15,14,20-13-15-13z />
<path color=#3f82cd d=M5951,938l16,2,18-14-15-2z />
<path color=#7ac485 d=M5725,774l16,30,20-10-16-30z />
<path color=#4082d3 d=M5885,943l16,4,19-14-15-4z />
<path color=#2e6591 d=M6113,916l16,5,3-19-16-1z />
<path color=#4087cd d=M6017,930l15,2,19-14-16-2z />
<path color=#3e7c78 d=M6107,854l16-17,5-27-16,24z />
<path color=#6f8e4b d=M5563,760l14-21,21-17-14,21z />
<path color=#c3d556 d=M5678,696l15,21,21-10-15-22z />
<path color=#93c873 d=M5709,744l16,30,20-10-15-30z />
<path color=#2e6a8e d=M6116,901l16,1,2-16-16,2z />
<path color=#acce63 d=M5693,717l16,27,21-10-16-27z />
<path color=#4089ce d=M6082,926l16,5,15-15-16-4z />
<path color=#448edc d=M5819,933l16,10,19-13-15-10z />
<path color=#2f738a d=M6118,888l16-2,2-33-16,9z />
<path color=#2f6694 d=M6129,921l15,8,4-16-16-11z />
<path color=#3f81d0 d=M5901,947l15,3,19-14-15-3z />
<path color=#3f83cc d=M5967,940l15,2,19-15-16-1z />
<path color=#2e6a8e d=M6132,902l16,11,2-12-16-15z />
<path color=#4089cf d=M6032,932l16,4,19-14-16-4z />
<path color=#4089ce d=M6098,931l16,6,15-16-16-5z />
<path color=#4389da d=M5835,943l15,8,20-14-16-7z />
<path color=#3d7b79 d=M6120,862l16-9,3-33-16,17z />
<path color=#2f728b d=M6134,886l16,15,2-26-16-22z />
<path color=#326a9f d=M6144,929l16,8,4-12-16-12z />
<path color=#2e6690 d=M6148,913l16,12,2-9-16-15z />
<path color=#4d67d7 d=M6359,993l17,5,16-14-16-5z />
<path color=#2e6c8d d=M6150,901l16,15,2-19-16-22z />
<path color=#c1c84d d=M5627,696l15,0,21-12-15-2z />
<path color=#849743 d=M5577,739l14-18,21-15-14,16z />
<path color=#3f81ce d=M5916,950l16,2,19-14-16-2z />
<path color=#418ad1 d=M6048,936l16,4,18-14-15-4z />
<path color=#418ad2 d=M6114,937l16,6,14-14-15-8z />
<path color=#4b8468 d=M6123,837l16-17,5-34-16,24z />
<path color=#3f85cc d=M5982,942l16,2,19-14-16-3z />
<path color=#4286d7 d=M5850,951l16,6,19-14-15-6z />
<path color=#59b0a5 d=M6160,822l16,37,3-2-16-37z />
<path color=#44a1ce d=M5752,891l16,22,20-12-15-22z />
<path color=#3c7b7b d=M6136,853l16,22,3-26-16-29z />
<path color=#30659a d=M6160,937l16,7,4-16-16-3z />
<path color=#2e6491 d=M6164,925l16,3,2-12-16,0z />
<path color=#307488 d=M6152,875l16,22,2-18-15-30z />
<path color=#449ad5 d=M5768,913l16,18,20-12-16-18z />
<path color=#4ca5ae d=M5736,843l16,48,21-12-17-46z />
<path color=#438c8e d=M6155,849l15,30,6-20-16-37z />
<path color=#71be89 d=M6144,786l16,36,3-2-15-36z />
<path color=#2e6b8e d=M6166,916l16,0,2-26-16,7z />
<path color=#d0d954 d=M5642,696l15,11,21-11-15-12z />
<path color=#4c66d5 d=M6376,998l17,4,16-14-17-4z />
<path color=#428ad5 d=M6130,943l16,8,14-14-16-8z />
<path color=#4f8d72 d=M6139,820l16,29,5-27-16-36z />
<path color=#418bd3 d=M6064,940l16,5,18-14-16-5z />
<path color=#4494da d=M5784,931l15,15,20-13-15-14z />
<path color=#3f82cd d=M5932,952l15,2,20-14-16-2z />
<path color=#4083d4 d=M5866,957l15,4,20-14-16-4z />
<path color=#69bc98 d=M5720,814l16,29,20-10-15-29z />
<path color=#4087cd d=M5998,944l16,3,18-15-15-2z />
<path color=#7dc582 d=M5704,783l16,31,21-10-16-30z />
<path color=#2f738a d=M6168,897l16-7,3-26-17,15z />
<path color=#c6d656 d=M5657,707l16,20,20-10-15-21z />
<path color=#2d6093 d=M6176,944l17,8,3-20-16-4z />
<path color=#97c970 d=M5688,753l16,30,21-9-16-30z />
<path color=#b0cf61 d=M5673,727l15,26,21-9-16-27z />
<path color=#39797e d=M6170,879l17-15,5-27-16,22z />
<path color=#2e6690 d=M6180,928l16,4,2-16-16,0z />
<path color=#4187d6 d=M6146,951l16,8,14-15-16-7z />
<path color=#448fdb d=M5799,946l16,11,20-14-16-10z />
<path color=#9ca742 d=M5591,721l14-10,22-15-15,10z />
<path color=#428cd5 d=M6080,945l16,6,18-14-16-6z />
<path color=#2e6e8d d=M6182,916l16,0,3-33-17,7z />
<path color=#4082d1 d=M5881,961l16,3,19-14-15-3z />
<path color=#2f6198 d=M6193,952l16,9,3-15-16-14z />
<path color=#3f83cc d=M5947,954l16,2,19-14-15-2z />
<path color=#4089cf d=M6014,947l16,3,18-14-16-4z />
<path color=#2e6491 d=M6196,932l16,14,2-13-16-17z />
<path color=#438ada d=M5815,957l15,8,20-14-15-8z />
<path color=#4185d6 d=M6162,959l16,8,15-15-17-8z />
<path color=#428cd6 d=M6096,951l16,7,18-15-16-6z />
<path color=#3264a3 d=M6209,961l16,10,3-12-16-13z />
<path color=#2d5f93 d=M6212,946l16,13,2-9-16-17z />
<path color=#2e6c8d d=M6198,916l16,17,2-26-15-24z />
<path color=#367881 d=M6184,890l17-7,2-33-16,14z />
<path color=#bcc34c d=M5605,711l15-2,22-13-15,0z />
<path color=#4e6bdb d=M6369,1000l17,5,7-3-17-4z />
<path color=#2e6690 d=M6214,933l16,17,2-19-16-24z />
<path color=#418ad1 d=M6030,950l16,4,18-14-16-4z />
<path color=#3f82ce d=M5897,964l15,2,20-14-16-2z />
<path color=#3f85cc d=M5963,956l16,2,19-14-16-2z />
<path color=#4283d7 d=M6178,967l16,9,15-15-16-9z />
<path color=#4286d8 d=M5830,965l16,6,20-14-16-6z />
<path color=#458070 d=M6187,864l16-14,6-35-17,22z />
<path color=#4da8b3 d=M6224,854l16,39,3-2-15-39z />
<path color=#315e9d d=M6225,971l16,8,4-16-17-4z />
<path color=#2d5e94 d=M6228,959l17,4,1-12-16-1z />
<path color=#44a2cd d=M5732,902l15,23,21-12-16-22z />
<path color=#2e6e8d d=M6216,907l16,24,3-18-16-32z />
<path color=#438bd8 d=M6112,958l16,7,18-14-16-8z />
<path color=#347684 d=M6201,883l15,24,3-26-16-31z />
<path color=#449bd4 d=M5747,925l16,19,21-13-16-18z />
<path color=#3a879a d=M6219,881l16,32,5-20-16-39z />
<path color=#2e6491 d=M6230,950l16,1,3-26-17,6z />
<path color=#4fa6ab d=M5715,853l17,49,20-11-16-48z />
<path color=#416cc4 d=M6349,966l17,13,3,21-16-6z />
<path color=#66b795 d=M6209,815l15,39,4-2-16-38z />
<path color=#d0d854 d=M5620,709l16,9,21-11-15-11z />
<path color=#4580d9 d=M6194,976l17,9,14-14-16-10z />
<path color=#418cd3 d=M6046,954l16,6,18-15-16-5z />
<path color=#48897c d=M6203,850l16,31,5-27-15-39z />
<path color=#3f82cd d=M5912,966l16,2,19-14-15-2z />
<path color=#4184d4 d=M5846,971l15,4,20-14-15-4z />
<path color=#4087cd d=M5979,958l16,3,19-14-16-3z />
<path color=#4495d9 d=M5763,944l16,15,20-13-15-15z />
<path color=#2e6c8d d=M6232,931l17-6,3-26-17,14z />
<path color=#6cbe95 d=M5699,824l16,29,21-10-16-29z />
<path color=#4389da d=M6128,965l16,8,18-14-16-8z />
<path color=#2f5895 d=M6241,979l16,8,4-20-16-4z />
<path color=#c8d755 d=M5636,718l15,19,22-10-16-20z />
<path color=#81c57f d=M5683,793l16,31,21-10-16-31z />
<path color=#2d5f93 d=M6245,963l16,4,2-16-17,0z />
<path color=#307489 d=M6235,913l17-14,5-28-17,22z />
<path color=#9aca6e d=M5667,763l16,30,21-10-16-30z />
<path color=#b3d05f d=M5651,737l16,26,21-10-15-26z />
<path color=#446bc9 d=M6366,979l16,12,4,14-17-5z />
<path color=#467cd8 d=M6211,985l16,9,14-15-16-8z />
<path color=#4490db d=M5779,959l15,11,21-13-16-11z />
<path color=#428cd5 d=M6062,960l16,6,18-15-16-6z />
<path color=#2e6790 d=M6246,951l17,0,3-33-17,7z />
<path color=#4387db d=M6144,973l16,9,18-15-16-8z />
<path color=#4082d1 d=M5861,975l16,3,20-14-16-3z />
<path color=#315999 d=M6257,987l17,9,3-16-16-13z />
<path color=#4089cf d=M5995,961l16,4,19-15-16-3z />
<path color=#3f84cc d=M5928,968l16,3,19-15-16-2z />
<path color=#2d5d94 d=M6261,967l16,13,2-13-16-16z />
<path color=#438bdb d=M5794,970l16,9,20-14-15-8z />
<path color=#4678d6 d=M6227,994l16,9,14-16-16-8z />
<path color=#428cd6 d=M6078,966l16,7,18-15-16-7z />
<path color=#355aa2 d=M6274,996l16,8,4-12-17-12z />
<path color=#2f5895 d=M6277,980l17,12,1-9-16-16z />
<path color=#2e6590 d=M6263,951l16,16,3-26-16-23z />
<path color=#2f728b d=M6249,925l17-7,2-34-16,15z />
<path color=#4484dc d=M6160,982l17,9,17-15-16-9z />
<path color=#3a74be d=M6364,956l17,19,1,16-16-12z />
<path color=#418bd1 d=M6011,965l16,4,19-15-16-4z />
<path color=#3f82ce d=M5877,978l16,3,19-15-15-2z />
<path color=#2d5f93 d=M6279,967l16,16,3-19-16-23z />
<path color=#3f85cd d=M5944,971l16,2,19-15-16-2z />
<path color=#4875d7 d=M6243,1003l17,8,14-15-17-9z />
<path color=#4287d8 d=M5810,979l16,6,20-14-16-6z />
<path color=#3b7b7b d=M6252,899l16-15,6-34-17,21z />
<path color=#42a2c2 d=M6290,888l15,37,4-2-16-37z />
<path color=#428bd8 d=M6094,973l16,7,18-15-16-7z />
<path color=#2e708b d=M6266,918l16,23,2-26-16-31z />
<path color=#4681dc d=M6177,991l16,9,18-15-17-9z />
<path color=#2e678f d=M6282,941l16,23,2-19-16-30z />
<path color=#34559b d=M6290,1004l16,6,4-16-16-2z />
<path color=#2f5795 d=M6294,992l16,2,2-13-17,2z />
<path color=#357fa0 d=M6284,915l16,30,5-20-15-37z />
<path color=#5ab0a4 d=M6274,850l16,38,3-2-16-38z />
<path color=#2d5e93 d=M6295,983l17-2,3-26-17,9z />
<path color=#418cd3 d=M6027,969l16,5,19-14-16-6z />
<path color=#4973d8 d=M6260,1011l16,7,14-14-16-8z />
<path color=#3e8387 d=M6268,884l16,31,6-27-16-38z />
<path color=#3f83cd d=M5893,981l15,2,20-15-16-2z />
<path color=#4087cd d=M5960,973l16,3,19-15-16-3z />
<path color=#4184d4 d=M5826,985l15,5,20-15-15-4z />
<path color=#3b81bc d=M6363,932l16,27,2,16-17-19z />
<path color=#4389da d=M6110,980l16,8,18-15-16-8z />
<path color=#477ddc d=M6193,1000l16,9,18-15-16-9z />
<path color=#2e6690 d=M6298,964l17-9,2-26-17,16z />
<path color=#315295 d=M6306,1010l17,5,4-20-17-1z />
<path color=#2e6e8c d=M6300,945l17-16,6-27-18,23z />
<path color=#2e5995 d=M6310,994l17,1,2-16-17,2z />
<path color=#496fd5 d=M6276,1018l17,7,13-15-16-6z />
<path color=#428cd5 d=M6043,974l16,7,19-15-16-6z />
<path color=#4387db d=M6126,988l16,9,18-15-16-9z />
<path color=#497adc d=M6209,1009l17,9,17-15-16-9z />
<path color=#4083d1 d=M5841,990l16,3,20-15-16-3z />
<path color=#4089cf d=M5976,976l16,4,19-15-16-4z />
<path color=#3f84cc d=M5908,983l16,2,20-14-16-3z />
<path color=#3e8ebe d=M6362,921l16,30,1,8-16-27z />
<path color=#2e6292 d=M6312,981l17-2,3-33-17,9z />
<path color=#325297 d=M6323,1015l17,6,3-16-16-10z />
<path color=#2e5995 d=M6327,995l16,10,2-13-16-13z />
<path color=#486dd2 d=M6293,1025l16,6,14-16-17-5z />
<path color=#428cd6 d=M6059,981l16,7,19-15-16-7z />
<path color=#4484dc d=M6142,997l17,9,18-15-17-9z />
<path color=#4a76db d=M6226,1018l16,8,18-15-17-8z />
<path color=#2e6d8d d=M6315,955l17-9,3-34-18,17z />
<path color=#418bd1 d=M5992,980l16,4,19-15-16-4z />
<path color=#3f82cf d=M5857,993l16,3,20-15-16-3z />
<path color=#429ec8 d=M6359,910l16,34,3,7-16-30z />
<path color=#3f85cd d=M5924,985l16,3,20-15-16-2z />
<path color=#2e6292 d=M6329,979l16,13,3-26-16-20z />
<path color=#35559f d=M6340,1021l16,5,4-12-17-9z />
<path color=#305595 d=M6343,1005l17,9,2-9-17-13z />
<path color=#428bd8 d=M6075,988l16,7,19-15-16-7z />
<path color=#357782 d=M6317,929l18-17,5-35-17,25z />
<path color=#4681dc d=M6159,1006l16,9,18-15-16-9z />
<path color=#496cd3 d=M6309,1031l17,5,14-15-17-6z />
<path color=#2d5d94 d=M6345,992l17,13,2-19-16-20z />
<path color=#4a73db d=M6242,1026l17,8,17-16-16-7z />
<path color=#2e6d8d d=M6332,946l16,20,3-26-16-28z />
<path color=#42a0c5 d=M6356,912l16,34,3-2-16-34z />
<path color=#418cd3 d=M6008,984l16,5,19-15-16-5z />
<path color=#2e6590 d=M6348,966l16,20,3-19-16-27z />
<path color=#3f83cd d=M5873,996l16,2,19-15-15-2z />
<path color=#4087ce d=M5940,988l16,3,20-15-16-3z />
<path color=#54aead d=M6340,877l16,35,3-2-15-35z />
<path color=#347c9f d=M6351,940l16,27,5-21-16-34z />
<path color=#4389da d=M6091,995l17,9,18-16-16-8z />
<path color=#477ddc d=M6175,1015l16,9,18-15-16-9z />
<path color=#397f8c d=M6335,912l16,28,5-28-16-35z />
<path color=#4b71da d=M6259,1034l16,7,18-16-17-7z />
<path color=#496cd2 d=M6326,1036l17,5,13-15-16-5z />
<path color=#428cd5 d=M6024,989l16,7,19-15-16-7z />
<path color=#4387db d=M6108,1004l16,8,18-15-16-9z />
<path color=#497adc d=M6191,1024l17,9,18-15-17-9z />
<path color=#4089cf d=M5956,991l16,4,20-15-16-4z />
<path color=#3f84cd d=M5889,998l15,2,20-15-16-2z />
<path color=#4b6ed8 d=M6275,1041l17,6,17-16-16-6z />
<path color=#428cd6 d=M6040,996l16,7,19-15-16-7z />
<path color=#4484dc d=M6124,1012l16,9,19-15-17-9z />
<path color=#4a76db d=M6208,1033l16,8,18-15-16-8z />
<path color=#418bd1 d=M5972,995l16,4,20-15-16-4z />
<path color=#3f86cd d=M5904,1000l16,3,20-15-16-3z />
<path color=#4b6dd6 d=M6292,1047l17,5,17-16-17-5z />
<path color=#438bd8 d=M6056,1003l17,7,18-15-16-7z />
<path color=#4681dc d=M6140,1021l17,10,18-16-16-9z />
<path color=#4a73db d=M6224,1041l17,8,18-15-17-8z />
<path color=#418cd3 d=M5988,999l17,6,19-16-16-5z />
<path color=#4087ce d=M5920,1003l16,3,20-15-16-3z />
<path color=#4a6cd4 d=M6309,1052l17,4,17-15-17-5z />
<path color=#4389da d=M6073,1010l16,9,19-15-17-9z />
<path color=#477ddc d=M6157,1031l16,9,18-16-16-9z />
<path color=#4b71da d=M6241,1049l17,7,17-15-16-7z />
<path color=#428cd5 d=M6005,1005l16,6,19-15-16-7z />
<path color=#4387db d=M6089,1019l16,9,19-16-16-8z />
<path color=#497adc d=M6173,1040l17,9,18-16-17-9z />
<path color=#4089cf d=M5936,1006l17,4,19-15-16-4z />
<path color=#4b6ed8 d=M6258,1056l16,6,18-15-17-6z />
<path color=#428cd6 d=M6021,1011l16,7,19-15-16-7z />
<path color=#4484dc d=M6105,1028l17,9,18-16-16-9z />
<path color=#4a76db d=M6190,1049l16,8,18-16-16-8z />
<path color=#418bd1 d=M5953,1010l16,5,19-16-16-4z />
<path color=#4b6dd6 d=M6274,1062l17,6,18-16-17-5z />
<path color=#438bd8 d=M6037,1018l17,8,19-16-17-7z />
<path color=#4681dc d=M6122,1037l16,9,19-15-17-10z />
<path color=#4a73db d=M6206,1057l17,8,18-16-17-8z />
<path color=#418cd3 d=M5969,1015l16,5,20-15-17-6z />
<path color=#4a6cd4 d=M6291,1068l17,4,18-16-17-4z />
<path color=#4389da d=M6054,1026l16,8,19-15-16-9z />
<path color=#477ddc d=M6138,1046l17,9,18-15-16-9z />
<path color=#4b71da d=M6223,1065l17,7,18-16-17-7z />
<path color=#428cd5 d=M5985,1020l16,6,20-15-16-6z />
<path color=#4387db d=M6070,1034l16,9,19-15-16-9z />
<path color=#497adc d=M6155,1055l16,9,19-15-17-9z />
<path color=#4b6ed8 d=M6240,1072l17,6,17-16-16-6z />
<path color=#428cd6 d=M6001,1026l17,8,19-16-16-7z />
<path color=#4484dc d=M6086,1043l17,10,19-16-17-9z />
<path color=#4a76db d=M6171,1064l17,9,18-16-16-8z />
<path color=#4b6dd6 d=M6257,1078l17,5,17-15-17-6z />
<path color=#438bd8 d=M6018,1034l16,8,20-16-17-8z />
<path color=#4681dc d=M6103,1053l17,9,18-16-16-9z />
<path color=#4a73db d=M6188,1073l17,8,18-16-17-8z />
<path color=#4a6cd4 d=M6274,1083l17,5,17-16-17-4z />
<path color=#4389da d=M6034,1042l17,8,19-16-16-8z />
<path color=#477ddc d=M6120,1062l16,9,19-16-17-9z />
<path color=#4b71da d=M6205,1081l17,7,18-16-17-7z />
<path color=#4387db d=M6051,1050l16,9,19-16-16-9z />
<path color=#497adc d=M6136,1071l17,9,18-16-16-9z />
<path color=#4b6ed8 d=M6222,1088l17,6,18-16-17-6z />
<path color=#4484dc d=M6067,1059l17,10,19-16-17-10z />
<path color=#4a76db d=M6153,1080l17,9,18-16-17-9z />
<path color=#4b6dd6 d=M6239,1094l17,6,18-17-17-5z />
<path color=#4681dc d=M6084,1069l17,9,19-16-17-9z />
<path color=#4a73db d=M6170,1089l17,8,18-16-17-8z />
<path color=#4a6cd4 d=M6256,1100l17,4,18-16-17-5z />
<path color=#477ddc d=M6101,1078l16,9,19-16-16-9z />
<path color=#4b71da d=M6187,1097l16,7,19-16-17-7z />
<path color=#497adc d=M6117,1087l17,10,19-17-17-9z />
<path color=#4b6ed8 d=M6203,1104l17,7,19-17-17-6z />
<path color=#4a76db d=M6134,1097l17,8,19-16-17-9z />
<path color=#4b6dd6 d=M6220,1111l18,5,18-16-17-6z />
<path color=#4a73db d=M6151,1105l17,8,19-16-17-8z />
<path color=#4a6cd4 d=M6238,1116l17,5,18-17-17-4z />
<path color=#4b71da d=M6168,1113l17,8,18-17-16-7z />
<path color=#4b6ed8 d=M6185,1121l17,6,18-16-17-7z />
<path color=#4b6dd6 d=M6202,1127l17,6,19-17-18-5z />
<path color=#4a6cd4 d=M6219,1133l17,4,19-16-17-5z />
<path class=m d=M5052,767l12-13,12,0,28,32,349,79,152-154,15-2,190,270,426,158M5099,741l10-11,12,0,27,32,348,75,20-8M5525,825l93-117M5633,690l15-8,15,2,172,259,438,161M5141,720l12-14,12,0,27,32,342,71M5565,797l69-84M5660,674l29-19,185,262,434,155M5186,694l10-11,12,0,27,31,313,72M5605,767l39-40M5701,644l14-12,14-2,183,261,431,150M5244,589l1-3,22,43M5304,615l14,27M5361,640l7,13M5413,653l9,16M5466,665l9,16M5709,513l1-2M5721,456l1-5,4,4M5764,466l2-5,15,3,3,5M5791,480l10,31M5802,516l2,5M5805,526l1,7M5807,538l2,5M5854,616l4,17M5862,650l10,39M5906,716l4,12M5912,733l4,12M6375,944l3,7M5858,643l1,3M5861,650l23,48M6381,980l28,8M5808,547l22-12,124,215M5981,793l13,12M6175,847l10,3M6234,867l21,9M6299,899l20,11M6369,935l72,24M5352,622l30,8M5404,636l32,8M5456,649l33,8M5514,664l26,6M5573,678l13,3M5838,525l14-11,15-1,147,258M6031,785l30,15M6103,810l27,2M6160,814l45,7M6213,823l259,108M6483,904l19,8M5935,466l41,66M5978,537l58,127M6041,673l22,50M6499,889l32,8M5464,580l12,2M5512,591l14,4M5560,603l15,4M5617,617l10,2M5934,453l10-10,14-3,168,294,5,3M6238,760l9,0M6293,765l27,7M6345,779l45,20M6405,806l43,23M6476,843l83,28M5495,520l23-27,25,39,23-28,26,39,23-28,26,40,24-29,26,40M5920,397l3-10,27-12,13-52,14-12,14,2,14,39,14-2,14,7,28,130,28,23,41,112,15-4,27,58,29-26,29,41,29-35,29,38,30-33,29,42,31-27,29,48,31-22,29,52,32-22,29,51,32-26,30,44M6051,420l33,83M6103,553l35,67M6597,818l18,4M5587,529l15,3M5635,540l18,4M5683,551l9,2M6037,357l6-2,154,301M6221,674l17,8M6289,691l5,1M6343,694l15,1M6395,700l33,9M6448,717l46,21M6507,744l44,22M6578,779l64,18M5601,506l97,22M6051,349l10-9,13-1,161,306,25,14M6265,661l47,9M6329,671l339,103M6691,704l5,9M6697,746l20,5M6173,427l18,25M6221,503l28,41M6276,572l18,16M6697,717l44,11M5763,414l3,4M6202,332l4,15M6253,426l5,15M6765,663l3,4M6768,686l20,4M6248,405l41,56M6301,478l40,42M6354,530l19,11,6,12M6588,584l11,3M6640,601l21,9M6696,627l23,11M6763,657l48,12M5052,767l28-14M5204,678l10-57,4-1M5316,638l4-3M5350,620l5-4,13-48M5463,578l20-12,12-46,4-1M5579,517l35-19,12-53,3,1M5715,453l8-35,3-1M5104,786l147-83,13-69,4-1M5367,649l12-7M5402,631l15-51,4,1M5511,589l20-12,12-45,4-2M5626,528l35-19,12-53,3,1M5762,460l7-32,3-1M5156,802l146-84,13-70,4-2M5417,662l15-8M5454,642l13-49,4,0M5560,601l19-12,13-46,3-2M5676,538l24-13M5809,465l6-26,3-1,2,2M5208,817l146-85,13-71,4-1M5470,674l15-8M5505,652l12-47,4,0M5614,611l14-10,13-46,4-2M5261,832l145-86,13-71,4-2M5524,685l12-7M5560,650l8-33,4,1M5688,573l3-7M5315,847l144-88,13-72,4-1M5616,637l4-9,4,0M5370,860l142-90,14-74,4-1M5425,867l123-80M5571,752l9-56,4-2M5481,856l30-21M5538,816l6-5M5629,696l5-30,4-3,1,2M5536,804l103-83M5680,659l8-80,4-5,1,2M5823,536l9-63,3-3,1,3M5939,449l14-79M6063,339l5-41,4-6,1,3M6158,346l3-13,3,2M5591,721l23-17M5633,690l98-74,13-129,4-5,1,2M5809,548l65-43,13-94,4-2M5937,467l55-32,13-83,4-4,1,3M6043,393l58-20,12,2,9-48,4-5,2,8M6184,452l17-8,12-63,3,2M6258,443l14-7M5651,737l139-71,14-115,4-3,1,2M5856,628l76-33,14-77,3-1,3,8M5989,577l55-21,17-69,3-3,5,10M6095,526l71-22,13-53,3,8M6234,537l18-11,12-55,3,0M6311,509l11-6M5715,853l136-72,14-93,4-2,4,8M5916,747l74-39,14-63,3,0,5,15M6049,690l51-28,16-59,4-2,4,9M6154,630l66-36,12-55,3,3M6286,590l14-9M6307,570l9-45,3-1,1,3M6360,550l13-9M5779,959l133-89,14-82,4-2M6039,793l9-7,14-56,3,0M6160,725l12-49,3-2M6228,683l24-16M6264,658l10-6,12-57,3,2M5841,990l132-97,14-78,4-2M6102,807l19-58,3,0M6221,728l9-37,3-2M6289,691l12-9M6325,665l17-61,3,1M5904,1000l130-100,15-77,4-2M6160,814l20-59,4,0M6278,734l10-40,3-2,1,3M6344,695l42-32,13-58,3,1M6474,591l5-21,2-1M5969,1015l128-103,15-78,3-1M6217,828l10-9,14-54,3,0M6300,782l34-28,13-51,3-2M6398,707l45-36,13-59,3,1M6526,618l9-41,3-1M6034,1042l126-105,16-78,3-2M6239,882l29-23M6276,853l13-11,14-55,3,0M6360,804l33-28,14-52,3-2,1,3M6456,728l45-37,13-59,3,1M6571,656l20-61,3-1M6641,604l2-2M6101,1078l124-107,15-78,3-2M6304,913l34-28M6344,880l21-61,3,0M6421,835l32-29,14-52,3-2,1,2M6515,757l44-38,13-59,3,1M6629,681l19-59,2-1M6696,630l2-2M6168,1113l122-109,15-79,4-2M6374,940l40-35,14-56,3,0M6489,859l25-24,14-52,2-2,2,2M6581,780l37-33,13-60,3,1M6693,701l12-53,2-1,1,2M6236,1137l120-111,16-80,3-2,11,61,92-80,14-56,3,0,9,49,72-64,14-53,2-2,9,34,77-69,13-60,3,1,6,58,51-45,13-54,2-1,6,40,39-34 /></g>
<path d="M502.3 41.6L578.4 7.9M578.4 7.9L684 26.1M684 26.1L624.5 70.9M624.5 70.9L502.3 41.6M502.3 41.6L506.1 86.5M624.5 70.9L623.5 122.1M684 26.1L681 68M506.1 86.5L623.5 122.1M623.5 122.1L681 68" stroke="#777" stroke-width="0.55" fill="none"/>
<text x="503.8" y="38.4" text-anchor="middle" font-family="Liberation Sans" font-size="6.6" fill="#999">0.0</text>
<text x="526.1" y="28.5" text-anchor="middle" font-family="Liberation Sans" font-size="6.6" fill="#999">0.5</text>
<text x="546" y="19.7" text-anchor="middle" font-family="Liberation Sans" font-size="6.6" fill="#999">1.0</text>
<text x="563.8" y="11.8" text-anchor="middle" font-family="Liberation Sans" font-size="6.6" fill="#999">1.5</text>
<text x="579.9" y="4.7" text-anchor="middle" font-family="Liberation Sans" font-size="6.6" fill="#999">2.0</text>
<text x="503.3" y="79.5" text-anchor="end" font-family="Liberation Sans" font-size="6.6" fill="#999">0.2</text>
<text x="502.1" y="65.3" text-anchor="end" font-family="Liberation Sans" font-size="6.6" fill="#999">0.3</text>
<text x="500.9" y="50.7" text-anchor="end" font-family="Liberation Sans" font-size="6.6" fill="#999">0.4</text>
<text x="508.1" y="95" text-anchor="middle" font-family="Liberation Sans" font-size="6.6" fill="#999">−2</text>
<text x="534.1" y="102.9" text-anchor="middle" font-family="Liberation Sans" font-size="6.6" fill="#999">−1</text>
<text x="562.2" y="111.4" text-anchor="middle" font-family="Liberation Sans" font-size="6.6" fill="#999">0</text>
<text x="592.6" y="120.6" text-anchor="middle" font-family="Liberation Sans" font-size="6.6" fill="#999">1</text>
<text x="625.5" y="130.6" text-anchor="middle" font-family="Liberation Sans" font-size="6.6" fill="#999">2</text>
<path d="M502.3 41.6l0.6 1.6M507 39.5l0.4 0.9M511.6 37.5l0.4 0.9M516 35.5l0.4 0.9M520.4 33.6l0.4 0.9M524.6 31.7l0.6 1.6M528.8 29.9l0.4 0.9M532.8 28.1l0.4 0.9M536.8 26.3l0.4 0.9M540.7 24.6l0.4 0.9M544.5 22.9l0.6 1.6M548.2 21.3l0.4 0.9M551.8 19.7l0.4 0.9M555.4 18.1l0.4 0.9M558.9 16.6l0.4 0.9M562.3 15l0.6 1.6M565.7 13.6l0.4 0.9M568.9 12.1l0.4 0.9M572.2 10.7l0.4 0.9M575.3 9.3l0.4 0.9M578.4 7.9l0.6 1.6M506.1 86.5l-0.6 -1.6M508.6 87.3l-0.3 -0.9M511.1 88.1l-0.3 -0.9M513.7 88.8l-0.3 -0.9M516.3 89.6l-0.3 -0.9M518.9 90.4l-0.3 -0.9M521.5 91.2l-0.3 -0.9M524.1 92l-0.3 -0.9M526.8 92.8l-0.3 -0.9M529.4 93.6l-0.3 -0.9M532.1 94.4l-0.6 -1.6M534.8 95.3l-0.3 -0.9M537.6 96.1l-0.3 -0.9M540.3 96.9l-0.3 -0.9M543.1 97.8l-0.3 -0.9M545.9 98.6l-0.3 -0.9M548.7 99.5l-0.3 -0.9M551.5 100.3l-0.3 -0.9M554.4 101.2l-0.3 -0.9M557.3 102.1l-0.3 -0.9M560.2 102.9l-0.6 -1.6M563.1 103.8l-0.3 -0.9M566.1 104.7l-0.3 -0.9M569.1 105.6l-0.3 -0.9M572.1 106.5l-0.3 -0.9M575.1 107.5l-0.3 -0.9M578.1 108.4l-0.3 -0.9M581.2 109.3l-0.3 -0.9M584.3 110.2l-0.3 -0.9M587.4 111.2l-0.3 -0.9M590.6 112.1l-0.6 -1.6M593.7 113.1l-0.3 -0.9M596.9 114.1l-0.3 -0.9M600.1 115.1l-0.3 -0.9M603.4 116l-0.3 -0.9M606.7 117l-0.3 -0.9M610 118l-0.3 -0.9M613.3 119l-0.3 -0.9M616.7 120.1l-0.3 -0.9M620.1 121.1l-0.3 -0.9M623.5 122.1l-0.6 -1.6M506 85.6l0.9 0.3M505.9 84.2l0.9 0.3M505.8 82.8l0.9 0.3M505.6 81.4l0.9 0.3M505.5 80l0.9 0.3M505.4 78.6l0.9 0.3M505.3 77.2l1.6 0.5M505.2 75.8l0.9 0.3M505.1 74.4l0.9 0.3M504.9 73l0.9 0.3M504.8 71.5l0.9 0.3M504.7 70.1l0.9 0.3M504.6 68.7l0.9 0.3M504.5 67.3l0.9 0.3M504.3 65.8l0.9 0.3M504.2 64.4l0.9 0.3M504.1 63l1.6 0.5M504 61.5l0.9 0.3M503.9 60.1l0.9 0.3M503.8 58.6l0.9 0.3M503.6 57.2l0.9 0.3M503.5 55.7l0.9 0.3M503.4 54.3l0.9 0.3M503.3 52.8l0.9 0.3M503.1 51.3l0.9 0.3M503 49.9l0.9 0.3M502.9 48.4l1.6 0.5M502.8 46.9l0.9 0.3M502.7 45.4l0.9 0.3M502.5 43.9l0.9 0.3M502.4 42.5l0.9 0.3" stroke="#9a9a9a" stroke-width="0.5" fill="none"/>
<text x="455" y="62.6" font-size="8.1" font-family="Liberation Sans" font-weight="bold" fill="#222"><tspan fill="#777" font-weight="normal">|</tspan><tspan font-style="italic">w</tspan><tspan font-size="6" dy="1.7">8,1</tspan><tspan dy="-1.7">(x, t))</tspan><tspan fill="#777" font-weight="normal">|</tspan></text>
<text x="543" y="11" font-size="7.6" font-family="Liberation Sans" font-weight="bold" text-anchor="middle">t</text><text x="561.5" y="121.5" font-size="7.6" font-family="Liberation Sans" font-weight="bold" text-anchor="middle">x</text>
<path d="M25.6 321H199.5M29.6 325V200" stroke="#8c8c8c" stroke-width="0.8" fill="none"/>
<path d="M38.9 321v-1.6M48.2 321v-1.6M57.5 321v-1.6M76.1 321v-1.6M85.4 321v-1.6M94.7 321v-1.6M113.3 321v-1.6M122.6 321v-1.6M131.9 321v-1.6M150.5 321v-1.6M159.8 321v-1.6M169.1 321v-1.6M187.7 321v-1.6M197 321v-1.6M66.8 321v-3M104 321v-3M141.2 321v-3M178.4 321v-3M29.6 315.7h1.6M29.6 311.7h1.6M29.6 307.6h1.6M29.6 299.6h1.6M29.6 295.6h1.6M29.6 291.5h1.6M29.6 283.5h1.6M29.6 279.5h1.6M29.6 275.4h1.6M29.6 267.4h1.6M29.6 263.4h1.6M29.6 259.3h1.6M29.6 251.3h1.6M29.6 247.3h1.6M29.6 243.2h1.6M29.6 235.2h1.6M29.6 231.2h1.6M29.6 227.1h1.6M29.6 219.1h1.6M29.6 215.1h1.6M29.6 211h1.6M29.6 203h1.6M29.6 303.6h3M29.6 287.5h3M29.6 271.4h3M29.6 255.3h3M29.6 239.2h3M29.6 223.1h3M29.6 207h3" stroke="#8c8c8c" stroke-width="0.7" fill="none"/>
<text class="t2" x="26.3" y="308.5" text-anchor="end" font-size="14.2">0.26</text>
<text class="t2" x="26.3" y="292.4" text-anchor="end" font-size="14.2">0.28</text>
<text class="t2" x="26.3" y="276.3" text-anchor="end" font-size="14.2">0.30</text>
<text class="t2" x="26.3" y="260.2" text-anchor="end" font-size="14.2">0.32</text>
<text class="t2" x="26.3" y="244.1" text-anchor="end" font-size="14.2">0.34</text>
<text class="t2" x="26.3" y="228" text-anchor="end" font-size="14.2">0.36</text>
<text class="t2" x="26.3" y="211.9" text-anchor="end" font-size="14.2">0.38</text>
<text class="t2" x="66.8" y="336.7" text-anchor="middle" font-size="14.2">2</text>
<text class="t2" x="104" y="336.7" text-anchor="middle" font-size="14.2">4</text>
<text class="t2" x="141.2" y="336.7" text-anchor="middle" font-size="14.2">6</text>
<text class="t2" x="178.4" y="336.7" text-anchor="middle" font-size="14.2">8</text>
<text x="29.1" y="192.7" text-anchor="middle" font-size="8" font-family="Liberation Sans" font-weight="bold" fill="#222"><tspan fill="#777" font-weight="normal">|</tspan><tspan font-style="italic">w</tspan><tspan font-size="6" dy="1.7">8,1</tspan><tspan dy="-1.7">(x, t))</tspan><tspan fill="#777" font-weight="normal">|</tspan></text>
<polyline points="29.6,321.3 30.5,321.3 31.3,321.3 32.2,321.3 33,321.3 33.9,321.3 34.7,321.3 35.6,321.3 36.4,321.3 37.3,321.3 38.1,321.3 39,321.3 39.8,321.3 40.7,321.3 41.5,321.3 42.4,321.3 43.3,321.3 44.1,321.3 45,321.3 45.8,321.3 46.7,321.3 47.5,321.3 48.4,321.3 49.2,321.3 50.1,321.3 50.9,321.3 51.8,321.3 52.6,321.3 53.5,321.3 54.3,321.3 55.2,321.3 56.1,321.3 56.9,321.3 57.8,321.3 58.6,321.3 59.5,321.3 60.3,321.3 61.2,321.3 62,321.3 62.9,321.3 63.7,321.3 64.6,321.3 65.4,321.3 66.3,321.3 67.1,321.3 68,321.3 68.9,321.3 69.7,321.3 70.6,321.3 71.4,321.3 72.3,321.2 73.1,321.2 74,321.2 74.8,321.2 75.7,321.2 76.5,321.2 77.4,321.2 78.2,321.2 79.1,321.2 79.9,321.2 80.8,321.2 81.7,321.2 82.5,321.2 83.4,321.2 84.2,321.2 85.1,321.2 85.9,321.2 86.8,321.2 87.6,321.2 88.5,321.2 89.3,321.2 90.2,321.2 91,321.2 91.9,321.2 92.7,321.2 93.6,321.2 94.5,321.2 95.3,321.2 96.2,321.2 97,321.2 97.9,321.1 98.7,321.1 99.6,321.1 100.4,321.1 101.3,321.1 102.1,321.1 103,321.1 103.8,321.1 104.7,321.1 105.5,321.1 106.4,321.1 107.3,321.1 108.1,321 109,321 109.8,321 110.7,321 111.5,321 112.4,321 113.2,321 114.1,321 114.9,320.9 115.8,320.9 116.6,320.9 117.5,320.9 118.3,320.9 119.2,320.9 120.1,320.8 120.9,320.8 121.8,320.8 122.6,320.8 123.5,320.8 124.3,320.7 125.2,320.7 126,320.7 126.9,320.7 127.7,320.6 128.6,320.6 129.4,320.6 130.3,320.5 131.1,320.5 132,320.5 132.9,320.4 133.7,320.4 134.6,320.4 135.4,320.3 136.3,320.3 137.1,320.2 138,320.2 138.8,320.1 139.7,320.1 140.5,320 141.4,320 142.2,319.9 143.1,319.9 143.9,319.8 144.8,319.7 145.7,319.7 146.5,319.6 147.4,319.5 148.2,319.5 149.1,319.4 149.9,319.3 150.8,319.2 151.6,319.1 152.5,319 153.3,318.9 154.2,318.8 155,318.7 155.9,318.6 156.8,318.5 157.6,318.3 158.5,318.2 159.3,318.1 160.2,317.9 161,317.8 161.9,317.6 162.7,317.5 163.6,317.3 164.4,317.1 165.3,317 166.1,316.8 167,316.6 167.8,316.4 168.7,316.2 169.6,315.9 170.4,315.7 171.3,315.5 172.1,315.2 173,315 173.8,314.7 174.7,314.4 175.5,314.1 176.4,313.8 177.2,313.5 178.1,313.2 178.9,312.8 179.8,312.4 180.6,312.1 181.5,311.7 182.4,311.3 183.2,310.8 184.1,310.4 184.9,309.9 185.8,309.5 186.6,309 187.5,308.5 188.3,307.9 189.2,307.4 190,306.8 190.9,306.2 191.7,305.6 192.6,304.9 193.4,304.3 194.3,303.6 195.2,302.8 196,302.1 196.9,301.3 197.7,300.5 198.6,299.7 199.4,298.8" fill="none" stroke="#5e81b5" stroke-width="1.3" stroke-linejoin="round"/>
<polyline points="29.6,319.9 30.5,319.8 31.3,319.7 32.2,319.7 33,319.6 33.9,319.5 34.7,319.5 35.6,319.4 36.4,319.3 37.3,319.2 38.1,319.1 39,319 39.8,318.9 40.7,318.8 41.5,318.7 42.4,318.6 43.3,318.5 44.1,318.4 45,318.2 45.8,318.1 46.7,318 47.5,317.8 48.4,317.7 49.2,317.5 50.1,317.3 50.9,317.2 51.8,317 52.6,316.8 53.5,316.6 54.3,316.4 55.2,316.2 56.1,316 56.9,315.7 57.8,315.5 58.6,315.2 59.5,315 60.3,314.7 61.2,314.4 62,314.1 62.9,313.8 63.7,313.5 64.6,313.2 65.4,312.8 66.3,312.5 67.1,312.1 68,311.7 68.9,311.3 69.7,310.9 70.6,310.4 71.4,310 72.3,309.5 73.1,309 74,308.5 74.8,307.9 75.7,307.4 76.5,306.8 77.4,306.2 78.2,305.6 79.1,305 79.9,304.3 80.8,303.6 81.7,302.9 82.5,302.1 83.4,301.4 84.2,300.6 85.1,299.7 85.9,298.9 86.8,298 87.6,297.1 88.5,296.1 89.3,295.1 90.2,294.1 91,293.1 91.9,292 92.7,290.9 93.6,289.7 94.5,288.6 95.3,287.3 96.2,286.1 97,284.8 97.9,283.5 98.7,282.1 99.6,280.7 100.4,279.3 101.3,277.8 102.1,276.3 103,274.8 103.8,273.2 104.7,271.6 105.5,270 106.4,268.3 107.3,266.6 108.1,264.9 109,263.1 109.8,261.4 110.7,259.6 111.5,257.7 112.4,255.9 113.2,254 114.1,252.2 114.9,250.3 115.8,248.4 116.6,246.5 117.5,244.6 118.3,242.7 119.2,240.8 120.1,238.9 120.9,237 121.8,235.1 122.6,233.3 123.5,231.5 124.3,229.7 125.2,228 126,226.3 126.9,224.6 127.7,223 128.6,221.4 129.4,219.9 130.3,218.5 131.1,217.1 132,215.9 132.9,214.6 133.7,213.5 134.6,212.5 135.4,211.5 136.3,210.6 137.1,209.9 138,209.2 138.8,208.6 139.7,208.1 140.5,207.8 141.4,207.5 142.2,207.3 143.1,207.3 143.9,207.4 144.8,207.5 145.7,207.8 146.5,208.2 147.4,208.7 148.2,209.2 149.1,209.9 149.9,210.7 150.8,211.6 151.6,212.5 152.5,213.6 153.3,214.7 154.2,216 155,217.3 155.9,218.6 156.8,220.1 157.6,221.6 158.5,223.1 159.3,224.7 160.2,226.4 161,228.1 161.9,229.9 162.7,231.6 163.6,233.5 164.4,235.3 165.3,237.2 166.1,239 167,240.9 167.8,242.8 168.7,244.7 169.6,246.6 170.4,248.5 171.3,250.4 172.1,252.3 173,254.2 173.8,256 174.7,257.9 175.5,259.7 176.4,261.5 177.2,263.3 178.1,265 178.9,266.8 179.8,268.5 180.6,270.1 181.5,271.8 182.4,273.4 183.2,274.9 184.1,276.5 184.9,278 185.8,279.4 186.6,280.8 187.5,282.2 188.3,283.6 189.2,284.9 190,286.2 190.9,287.4 191.7,288.7 192.6,289.8 193.4,291 194.3,292.1 195.2,293.2 196,294.2 196.9,295.2 197.7,296.2 198.6,297.1 199.4,298.1" fill="none" stroke="#e19c24" stroke-width="1.3" stroke-linejoin="round"/>
<polyline points="29.6,207.3 30.5,207.4 31.3,207.5 32.2,207.8 33,208.2 33.9,208.6 34.7,209.2 35.6,209.9 36.4,210.7 37.3,211.5 38.1,212.5 39,213.6 39.8,214.7 40.7,215.9 41.5,217.2 42.4,218.6 43.3,220 44.1,221.5 45,223.1 45.8,224.7 46.7,226.3 47.5,228 48.4,229.8 49.2,231.6 50.1,233.4 50.9,235.2 51.8,237.1 52.6,239 53.5,240.8 54.3,242.7 55.2,244.6 56.1,246.5 56.9,248.4 57.8,250.3 58.6,252.2 59.5,254.1 60.3,256 61.2,257.8 62,259.6 62.9,261.4 63.7,263.2 64.6,265 65.4,266.7 66.3,268.4 67.1,270.1 68,271.7 68.9,273.3 69.7,274.9 70.6,276.4 71.4,277.9 72.3,279.4 73.1,280.8 74,282.2 74.8,283.5 75.7,284.9 76.5,286.1 77.4,287.4 78.2,288.6 79.1,289.8 79.9,290.9 80.8,292 81.7,293.1 82.5,294.2 83.4,295.2 84.2,296.2 85.1,297.1 85.9,298 86.8,298.9 87.6,299.8 88.5,300.6 89.3,301.4 90.2,302.2 91,302.9 91.9,303.6 92.7,304.3 93.6,305 94.5,305.6 95.3,306.2 96.2,306.8 97,307.4 97.9,308 98.7,308.5 99.6,309 100.4,309.5 101.3,310 102.1,310.4 103,310.9 103.8,311.3 104.7,311.7 105.5,312.1 106.4,312.5 107.3,312.8 108.1,313.2 109,313.5 109.8,313.8 110.7,314.1 111.5,314.4 112.4,314.7 113.2,315 114.1,315.2 114.9,315.5 115.8,315.7 116.6,316 117.5,316.2 118.3,316.4 119.2,316.6 120.1,316.8 120.9,317 121.8,317.2 122.6,317.3 123.5,317.5 124.3,317.7 125.2,317.8 126,318 126.9,318.1 127.7,318.2 128.6,318.4 129.4,318.5 130.3,318.6 131.1,318.7 132,318.8 132.9,318.9 133.7,319 134.6,319.1 135.4,319.2 136.3,319.3 137.1,319.4 138,319.5 138.8,319.5 139.7,319.6 140.5,319.7 141.4,319.8 142.2,319.8 143.1,319.9 143.9,319.9 144.8,320 145.7,320 146.5,320.1 147.4,320.2 148.2,320.2 149.1,320.2 149.9,320.3 150.8,320.3 151.6,320.4 152.5,320.4 153.3,320.4 154.2,320.5 155,320.5 155.9,320.6 156.8,320.6 157.6,320.6 158.5,320.6 159.3,320.7 160.2,320.7 161,320.7 161.9,320.7 162.7,320.8 163.6,320.8 164.4,320.8 165.3,320.8 166.1,320.8 167,320.9 167.8,320.9 168.7,320.9 169.6,320.9 170.4,320.9 171.3,320.9 172.1,321 173,321 173.8,321 174.7,321 175.5,321 176.4,321 177.2,321 178.1,321 178.9,321.1 179.8,321.1 180.6,321.1 181.5,321.1 182.4,321.1 183.2,321.1 184.1,321.1 184.9,321.1 185.8,321.1 186.6,321.1 187.5,321.1 188.3,321.1 189.2,321.2 190,321.2 190.9,321.2 191.7,321.2 192.6,321.2 193.4,321.2 194.3,321.2 195.2,321.2 196,321.2 196.9,321.2 197.7,321.2 198.6,321.2 199.4,321.2" fill="none" stroke="#8fb032" stroke-width="1.3" stroke-linejoin="round"/>
<polyline points="29.6,319.9 30.5,319.9 31.3,320 32.2,320 33,320.1 33.9,320.1 34.7,320.2 35.6,320.2 36.4,320.3 37.3,320.3 38.1,320.4 39,320.4 39.8,320.4 40.7,320.5 41.5,320.5 42.4,320.5 43.3,320.6 44.1,320.6 45,320.6 45.8,320.7 46.7,320.7 47.5,320.7 48.4,320.7 49.2,320.8 50.1,320.8 50.9,320.8 51.8,320.8 52.6,320.8 53.5,320.9 54.3,320.9 55.2,320.9 56.1,320.9 56.9,320.9 57.8,320.9 58.6,321 59.5,321 60.3,321 61.2,321 62,321 62.9,321 63.7,321 64.6,321 65.4,321.1 66.3,321.1 67.1,321.1 68,321.1 68.9,321.1 69.7,321.1 70.6,321.1 71.4,321.1 72.3,321.1 73.1,321.1 74,321.1 74.8,321.1 75.7,321.2 76.5,321.2 77.4,321.2 78.2,321.2 79.1,321.2 79.9,321.2 80.8,321.2 81.7,321.2 82.5,321.2 83.4,321.2 84.2,321.2 85.1,321.2 85.9,321.2 86.8,321.2 87.6,321.2 88.5,321.2 89.3,321.2 90.2,321.2 91,321.2 91.9,321.2 92.7,321.2 93.6,321.2 94.5,321.2 95.3,321.2 96.2,321.2 97,321.2 97.9,321.2 98.7,321.2 99.6,321.2 100.4,321.2 101.3,321.3 102.1,321.3 103,321.3 103.8,321.3 104.7,321.3 105.5,321.3 106.4,321.3 107.3,321.3 108.1,321.3 109,321.3 109.8,321.3 110.7,321.3 111.5,321.3 112.4,321.3 113.2,321.3 114.1,321.3 114.9,321.3 115.8,321.3 116.6,321.3 117.5,321.3 118.3,321.3 119.2,321.3 120.1,321.3 120.9,321.3 121.8,321.3 122.6,321.3 123.5,321.3 124.3,321.3 125.2,321.3 126,321.3 126.9,321.3 127.7,321.3 128.6,321.3 129.4,321.3 130.3,321.3 131.1,321.3 132,321.3 132.9,321.3 133.7,321.3 134.6,321.3 135.4,321.3 136.3,321.3 137.1,321.3 138,321.3 138.8,321.3 139.7,321.3 140.5,321.3 141.4,321.3 142.2,321.3 143.1,321.3 143.9,321.3 144.8,321.3 145.7,321.3 146.5,321.3 147.4,321.3 148.2,321.3 149.1,321.3 149.9,321.3 150.8,321.3 151.6,321.3 152.5,321.3 153.3,321.3 154.2,321.3 155,321.3 155.9,321.3 156.8,321.3 157.6,321.3 158.5,321.3 159.3,321.3 160.2,321.3 161,321.3 161.9,321.3 162.7,321.3 163.6,321.3 164.4,321.3 165.3,321.3 166.1,321.3 167,321.3 167.8,321.3 168.7,321.3 169.6,321.3 170.4,321.3 171.3,321.3 172.1,321.3 173,321.3 173.8,321.3 174.7,321.3 175.5,321.3 176.4,321.3 177.2,321.3 178.1,321.3 178.9,321.3 179.8,321.3 180.6,321.3 181.5,321.3 182.4,321.3 183.2,321.3 184.1,321.3 184.9,321.3 185.8,321.3 186.6,321.3 187.5,321.3 188.3,321.3 189.2,321.3 190,321.3 190.9,321.3 191.7,321.3 192.6,321.3 193.4,321.3 194.3,321.3 195.2,321.3 196,321.3 196.9,321.3 197.7,321.3 198.6,321.3 199.4,321.3" fill="none" stroke="#eb6235" stroke-width="1.3" stroke-linejoin="round"/>
<polyline points="29.6,321.3 30.5,321.3 31.3,321.3 32.2,321.3 33,321.3 33.9,321.3 34.7,321.3 35.6,321.3 36.4,321.3 37.3,321.3 38.1,321.3 39,321.3 39.8,321.3 40.7,321.3 41.5,321.3 42.4,321.3 43.3,321.3 44.1,321.3 45,321.3 45.8,321.3 46.7,321.3 47.5,321.3 48.4,321.3 49.2,321.3 50.1,321.3 50.9,321.3 51.8,321.3 52.6,321.3 53.5,321.3 54.3,321.3 55.2,321.3 56.1,321.3 56.9,321.3 57.8,321.3 58.6,321.3 59.5,321.3 60.3,321.3 61.2,321.3 62,321.3 62.9,321.3 63.7,321.3 64.6,321.3 65.4,321.3 66.3,321.3 67.1,321.3 68,321.3 68.9,321.3 69.7,321.3 70.6,321.3 71.4,321.3 72.3,321.3 73.1,321.3 74,321.3 74.8,321.3 75.7,321.3 76.5,321.3 77.4,321.3 78.2,321.3 79.1,321.3 79.9,321.3 80.8,321.3 81.7,321.3 82.5,321.3 83.4,321.3 84.2,321.3 85.1,321.3 85.9,321.3 86.8,321.3 87.6,321.3 88.5,321.3 89.3,321.3 90.2,321.3 91,321.3 91.9,321.3 92.7,321.3 93.6,321.3 94.5,321.3 95.3,321.3 96.2,321.3 97,321.3 97.9,321.3 98.7,321.3 99.6,321.3 100.4,321.3 101.3,321.3 102.1,321.3 103,321.3 103.8,321.3 104.7,321.3 105.5,321.3 106.4,321.3 107.3,321.3 108.1,321.3 109,321.3 109.8,321.3 110.7,321.3 111.5,321.3 112.4,321.3 113.2,321.3 114.1,321.3 114.9,321.3 115.8,321.3 116.6,321.3 117.5,321.3 118.3,321.3 119.2,321.3 120.1,321.3 120.9,321.3 121.8,321.3 122.6,321.3 123.5,321.3 124.3,321.3 125.2,321.3 126,321.3 126.9,321.3 127.7,321.3 128.6,321.3 129.4,321.3 130.3,321.3 131.1,321.3 132,321.3 132.9,321.3 133.7,321.3 134.6,321.3 135.4,321.3 136.3,321.3 137.1,321.3 138,321.3 138.8,321.3 139.7,321.3 140.5,321.3 141.4,321.3 142.2,321.3 143.1,321.3 143.9,321.3 144.8,321.3 145.7,321.3 146.5,321.3 147.4,321.3 148.2,321.3 149.1,321.3 149.9,321.3 150.8,321.3 151.6,321.3 152.5,321.3 153.3,321.3 154.2,321.3 155,321.3 155.9,321.3 156.8,321.3 157.6,321.3 158.5,321.3 159.3,321.3 160.2,321.3 161,321.3 161.9,321.3 162.7,321.3 163.6,321.3 164.4,321.3 165.3,321.3 166.1,321.3 167,321.3 167.8,321.3 168.7,321.3 169.6,321.3 170.4,321.3 171.3,321.3 172.1,321.3 173,321.3 173.8,321.3 174.7,321.3 175.5,321.3 176.4,321.3 177.2,321.3 178.1,321.3 178.9,321.3 179.8,321.3 180.6,321.3 181.5,321.3 182.4,321.3 183.2,321.3 184.1,321.3 184.9,321.3 185.8,321.3 186.6,321.3 187.5,321.3 188.3,321.3 189.2,321.3 190,321.3 190.9,321.3 191.7,321.3 192.6,321.3 193.4,321.3 194.3,321.3 195.2,321.3 196,321.3 196.9,321.3 197.7,321.3 198.6,321.3 199.4,321.3" fill="none" stroke="#8778b3" stroke-width="1.3" stroke-linejoin="round"/>
<path d="M225.3 321H399M229.3 325V200" stroke="#8c8c8c" stroke-width="0.8" fill="none"/>
<path d="M238.6 321v-1.6M247.8 321v-1.6M257.1 321v-1.6M275.6 321v-1.6M284.9 321v-1.6M294.2 321v-1.6M312.7 321v-1.6M322 321v-1.6M331.2 321v-1.6M349.7 321v-1.6M359 321v-1.6M368.3 321v-1.6M386.8 321v-1.6M396.1 321v-1.6M266.4 321v-3M303.4 321v-3M340.5 321v-3M377.5 321v-3M229.3 316.6h1.6M229.3 310.2h1.6M229.3 303.8h1.6M229.3 297.4h1.6M229.3 284.6h1.6M229.3 278.2h1.6M229.3 271.8h1.6M229.3 265.4h1.6M229.3 252.6h1.6M229.3 246.2h1.6M229.3 239.8h1.6M229.3 233.4h1.6M229.3 220.6h1.6M229.3 214.2h1.6M229.3 207.8h1.6M229.3 291h3M229.3 259h3M229.3 227h3" stroke="#8c8c8c" stroke-width="0.7" fill="none"/>
<text class="t2" x="226" y="295.9" text-anchor="end" font-size="14.2">0.20</text>
<text class="t2" x="226" y="263.9" text-anchor="end" font-size="14.2">0.25</text>
<text class="t2" x="226" y="231.9" text-anchor="end" font-size="14.2">0.30</text>
<text class="t2" x="266.4" y="336.7" text-anchor="middle" font-size="14.2">2</text>
<text class="t2" x="303.4" y="336.7" text-anchor="middle" font-size="14.2">4</text>
<text class="t2" x="340.5" y="336.7" text-anchor="middle" font-size="14.2">6</text>
<text class="t2" x="377.5" y="336.7" text-anchor="middle" font-size="14.2">8</text>
<text x="228.8" y="192.7" text-anchor="middle" font-size="8" font-family="Liberation Sans" font-weight="bold" fill="#222"><tspan fill="#777" font-weight="normal">|</tspan><tspan font-style="italic">w</tspan><tspan font-size="6" dy="1.7">8,1</tspan><tspan dy="-1.7">(x, t))</tspan><tspan fill="#777" font-weight="normal">|</tspan></text>
<clipPath id="ce"><rect x="229.3" y="205.9" width="170.5" height="115.1"/></clipPath>
<g clip-path="url(#ce)"><polyline points="229.3,268.5 231.1,272.1 232.8,264.8 234.6,283.7 236.3,271.3 238.1,276.6 239.9,270.4 241.6,276.3 243.4,267.9 245.1,280.7 246.9,267.7 248.7,284.1 250.4,273.9 252.2,290.3 253.9,280.3 255.7,276.5 257.5,278.1 259.2,282.1 261,269 262.7,282.3 264.5,271.3 266.3,281.9 268,277.7 269.8,279.3 271.5,279.5 273.3,277.4 275.1,280.9 276.8,288.8 278.6,280.3 280.4,282.8 282.1,281.3 283.9,285 285.6,279.9 287.4,281.6 289.2,282.6 290.9,292.6 292.7,286.4 294.4,288 296.2,284.5 298,293.1 299.7,291.9 301.5,293.4 303.2,285.7 305,291.8 306.8,287.9 308.5,290.2 310.3,291.9 312,294.6 313.8,293.5 315.6,297.4 317.3,285.3 319.1,291.4 320.8,296.9 322.6,296.1 324.4,293 326.1,298.5 327.9,292.7 329.6,300.3 331.4,288.1 333.2,301.3 334.9,293.1 336.7,301.4 338.4,298.6 340.2,295.3 342,292.2 343.7,300 345.5,295.8 347.2,301.2 349,296.5 350.8,302.3 352.5,292.5 354.3,304.6 356,296.2 357.8,300.2 359.6,289.8 361.3,306.3 363.1,298.6 364.8,306.8 366.6,306.1 368.4,300.2 370.1,307.1 371.9,301.8 373.6,302.7 375.4,300.4 377.2,302.1 378.9,296.4 380.7,301.9 382.5,294.4 384.2,300.1 386,295.4 387.7,297 389.5,297.5 391.3,298.1 393,293.2 394.8,298.7 396.5,298.9 398.3,298.7 399.4,294.4" fill="none" stroke="#5e81b5" stroke-width="1.35" stroke-linejoin="round"/>
<polyline points="229.3,268.3 231.1,270.9 232.8,270.4 234.6,272.1 236.3,263.8 238.1,275 239.9,269.1 241.6,275.4 243.4,271.1 245.1,273 246.9,272.7 248.7,275.4 250.4,265.4 252.2,268.6 253.9,271 255.7,278.2 257.5,274.4 259.2,273.3 261,271.6 262.7,272.3 264.5,271.4 266.3,277.8 268,268.8 269.8,270.9 271.5,272 273.3,277.9 275.1,268.3 276.8,273.2 278.6,257.4 280.4,275.9 282.1,264.2 283.9,267.9 285.6,266.4 287.4,270.8 289.2,253.8 290.9,259.9 292.7,257.8 294.4,262 296.2,250.5 298,257.8 299.7,246.4 301.5,251.9 303.2,239.8 305,243.2 306.8,241.6 308.5,241.1 310.3,244.5 312,251.7 313.8,234.4 315.6,236.9 317.3,234.6 319.1,231.7 320.8,219.9 322.6,229.2 324.4,220.1 326.1,232.2 327.9,219 329.6,236.2 331.4,220.1 333.2,232.1 334.9,228.8 336.7,225.2 338.4,223.9 340.2,234 342,222.2 343.7,231.6 345.5,225 347.2,230.3 349,227.3 350.8,242.5 352.5,230.5 354.3,232.9 356,234.7 357.8,240 359.6,231.4 361.3,243 363.1,247.8 364.8,256.1 366.6,250.4 368.4,266.5 370.1,262.1 371.9,257.9 373.6,265.7 375.4,279.1 377.2,268.1 378.9,275.7 380.7,272 382.5,278.7 384.2,278.8 386,290.6 387.7,276.2 389.5,287.7 391.3,290 393,291.5 394.8,288.8 396.5,304.7 398.3,293.8 399.4,299.2" fill="none" stroke="#e19c24" stroke-width="1.35" stroke-linejoin="round"/>
<polyline points="246.9,191.7 248.7,215.4 250.4,198.8 252.2,205.7 253.9,203.6 255.7,216.4 257.5,210.1 259.2,221.5 261,218.4 262.7,231 264.5,229.8 266.3,236.3 268,233 269.8,242.7 271.5,239.7 273.3,242.8 275.1,240.7 276.8,253.2 278.6,251.4 280.4,256.3 282.1,253 283.9,262.6 285.6,253.6 287.4,262.9 289.2,263.9 290.9,274.2 292.7,263.1 294.4,275.4 296.2,266.5 298,277.4 299.7,271.8 301.5,277.2 303.2,283.3 305,288.1 306.8,277.2 308.5,284.3 310.3,281.7 312,288.7 313.8,281.7 315.6,293 317.3,283.5 319.1,286.6 320.8,287.1 322.6,290.9 324.4,291.8 326.1,293.7 327.9,288.8 329.6,300.9 331.4,294.3" fill="none" stroke="#8fb032" stroke-width="1.35" stroke-linejoin="round"/>
<polyline points="229.3,268.5 231.1,272.1 232.8,264.8 234.6,283.7 236.3,271.3 238.1,276.6 239.9,270.4 241.6,276.3 243.4,267.9 245.1,280.7 246.9,267.7 248.7,284.1 250.4,273.9 252.2,290.3 253.9,280.3 255.7,276.5 257.5,278.1 259.2,282.1 261,269 262.7,282.3 264.5,271.3 266.3,281.9 268,277.7 269.8,279.3 271.5,279.5 273.3,277.4 275.1,280.9 276.8,288.8 278.6,280.3 280.4,282.8 282.1,281.3 283.9,285 285.6,279.9 287.4,281.6 289.2,282.6 290.9,292.6 292.7,286.4 294.4,288 296.2,284.5 298,293.1 299.7,291.9 301.5,293.4 303.2,285.7 305,291.8 306.8,287.9 308.5,290.2 310.3,291.9 312,294.6 313.8,293.5 315.6,297.4 317.3,285.3 319.1,291.4 320.8,296.9 322.6,296.1 324.4,293 326.1,298.5 327.9,292.7 329.6,300.3 331.4,288.1 333.2,301.3 334.9,293.1 336.7,301.4 338.4,298.6 340.2,295.3 342,292.2 343.7,300 345.5,295.8 347.2,301.2 349,296.5 350.8,302.3 352.5,292.5 354.3,304.6 356,296.2 357.8,300.2 359.6,289.8 361.3,306.3 363.1,298.6 364.8,308.2 366.6,299.5 368.4,303.4 370.1,301.2 371.9,311.4 373.6,306.8 375.4,310.6 377.2,299.7 378.9,306.5 380.7,300.1 382.5,308.6 384.2,301.4 386,309.9 387.7,309.2 389.5,309.9 391.3,304.9 393,310.8 394.8,305.7 396.5,305.5 398.3,303.4 399.4,309.7" fill="none" stroke="#8778b3" stroke-width="1.35" stroke-linejoin="round"/></g>
<path d="M416.4 321H620M420.4 325V200" stroke="#8c8c8c" stroke-width="0.8" fill="none"/>
<path d="M430.2 321v-1.6M439.9 321v-1.6M449.7 321v-1.6M469.3 321v-1.6M479 321v-1.6M488.8 321v-1.6M508.4 321v-1.6M518.1 321v-1.6M527.9 321v-1.6M547.5 321v-1.6M557.2 321v-1.6M567 321v-1.6M586.6 321v-1.6M596.4 321v-1.6M606.1 321v-1.6M459.5 321v-3M498.6 321v-3M537.7 321v-3M576.8 321v-3M615.9 321v-3M420.4 318.6h1.6M420.4 312.8h1.6M420.4 306.9h1.6M420.4 301.1h1.6M420.4 295.2h1.6M420.4 289.4h1.6M420.4 283.6h1.6M420.4 277.7h1.6M420.4 271.9h1.6M420.4 266h1.6M420.4 260.2h1.6M420.4 254.4h1.6M420.4 248.5h1.6M420.4 242.7h1.6M420.4 236.8h1.6M420.4 231h1.6M420.4 225.2h1.6M420.4 219.3h1.6M420.4 213.5h1.6M420.4 207.6h1.6M420.4 201.8h1.6M420.4 304h3M420.4 274.8h3M420.4 245.6h3M420.4 216.4h3" stroke="#8c8c8c" stroke-width="0.7" fill="none"/>
<text class="t2" x="417.1" y="308.9" text-anchor="end" font-size="14.2">0.1</text>
<text class="t2" x="417.1" y="279.7" text-anchor="end" font-size="14.2">0.2</text>
<text class="t2" x="417.1" y="250.5" text-anchor="end" font-size="14.2">0.3</text>
<text class="t2" x="417.1" y="221.3" text-anchor="end" font-size="14.2">0.4</text>
<text class="t2" x="459.5" y="336.7" text-anchor="middle" font-size="14.2">2</text>
<text class="t2" x="498.6" y="336.7" text-anchor="middle" font-size="14.2">4</text>
<text class="t2" x="537.7" y="336.7" text-anchor="middle" font-size="14.2">6</text>
<text class="t2" x="576.8" y="336.7" text-anchor="middle" font-size="14.2">8</text>
<text class="t2" x="615.9" y="336.7" text-anchor="middle" font-size="14.2">10</text>
<text x="419.9" y="192.7" text-anchor="middle" font-size="8" font-family="Liberation Sans" font-weight="bold" fill="#222"><tspan fill="#777" font-weight="normal">|</tspan><tspan font-style="italic">w</tspan><tspan font-size="6" dy="1.7">8,1</tspan><tspan dy="-1.7">(x, t))</tspan><tspan fill="#777" font-weight="normal">|</tspan></text>
<text x="624" y="323.5" font-size="8" font-family="Liberation Sans" font-weight="bold">x</text>
<g><polyline points="420.4,266.8 422.4,274.2 424.3,264.6 426.3,266.9 428.2,255.3 430.2,274.4 432.1,260.1 434.1,269.2 436,258.2 438,272 439.9,266.4 441.9,268.1 443.9,268.1 445.8,274.7 447.8,266.5 449.7,275.1 451.7,267.2 453.6,280 455.6,271.8 457.5,287.9 459.5,274.3 461.5,284.8 463.4,272.5 465.4,285.7 467.3,281.6 469.3,289.2 471.2,283.2 473.2,300.9 475.1,283 477.1,294.2 479,280.9 481,295.2 483,287.4 484.9,297.1 486.9,291.3 488.8,294.7 490.8,289.3 492.7,300.2 494.7,290.9 496.6,304.4 498.6,294.5 500.6,304.1 502.5,292.8 504.5,296.9 506.4,293.4 508.4,302 510.3,294.4 512.3,309.9 514.2,300.2 516.2,307 518.1,299.4 520.1,305.5 522.1,303.4 524,308.3 526,295.1 527.9,304.1 529.9,304.3 531.8,308.1 533.8,303.4 535.7,304.2 537.7,302.7 539.7,307.4 541.6,305.6 543.6,303 545.5,309 547.5,308.8 549.4,307.4 551.4,310.6 553.3,308.7 555.3,311.9 557.2,308.2 559.2,309.9 561.2,306.5 563.1,311.9 565.1,305.4 567,313.1 569,308.9 570.9,309 572.9,310.5 574.8,320.5 576.8,308.8 578.8,316.9 580.7,313.7 582.7,316.5 584.6,310.2 586.6,317.1 588.5,311.7 590.5,315 592.4,313.9 594.4,316.2 596.4,314.2 598.3,309.3 600.3,314.2 602.2,310.1 604.2,319.1 606.1,308.6 608.1,312.1 610,305.6 612,312.5 613.9,313.5 615.9,311.9" fill="none" stroke="#5e81b5" stroke-width="1.35" stroke-linejoin="round"/>
<polyline points="420.4,234.5 422.4,224.5 424.3,218.6 426.3,264.1 428.2,222.1 430.2,249.5 432.1,221.9 434.1,248.4 436,215.4 438,246.2 439.9,231.1 441.9,243.6 443.9,227.8 445.8,250.1 447.8,248.5 449.7,251.5 451.7,238.7 453.6,263 455.6,254.2 457.5,257.1 459.5,264.4 461.5,268.3 463.4,266.1 465.4,263.3 467.3,260.4 469.3,264 471.2,261.5 473.2,272.2 475.1,272 477.1,284.2 479,270.5 481,286.2 483,276 484.9,288.8 486.9,276.3 488.8,286.2 490.8,277.5 492.7,289.9 494.7,281.9 496.6,288.5 498.6,281.7 500.6,290.9 502.5,280 504.5,288.2 506.4,273.9 508.4,290.9 510.3,286.7 512.3,282.5 514.2,281.7 516.2,301.4 518.1,278.1 520.1,289.8 522.1,281.8 524,291.5 526,276.6 527.9,283.8 529.9,279.9 531.8,287.1 533.8,269.7 535.7,289.1 537.7,275.1 539.7,286.4 541.6,278.1 543.6,288.4 545.5,282.3 547.5,293.5 549.4,274.6 551.4,298.2 553.3,287.7 555.3,294.2 557.2,289.3 559.2,292.2 561.2,294.4 563.1,296.4 565.1,287.4 567,303.8 569,294.3 570.9,307.8 572.9,296.6 574.8,311.5 576.8,297.2 578.8,311.7 580.7,305.3 582.7,310.8 584.6,308.2 586.6,311.8 588.5,302 590.5,311 592.4,311.2 594.4,315.7 596.4,306.9 598.3,318.2 600.3,309 602.2,315.5 604.2,313.1 606.1,315.7 608.1,310.5 610,316.7 612,314.3 613.9,316.1 615.9,313.8" fill="none" stroke="#e19c24" stroke-width="1.35" stroke-linejoin="round"/>
<polyline points="420.4,234.5 422.4,224.5 424.3,218.6 426.3,264.1 428.2,222.1 430.2,249.5 432.1,221.9 434.1,248.4 436,215.4 438,246.2 439.9,231.1 441.9,243.6 443.9,227.8 445.8,250.1 447.8,248.5 449.7,251.5 451.7,238.7 453.6,263 455.6,254.2 457.5,257.1 459.5,264.4 461.5,268.3 463.4,266.1 465.4,263.3 467.3,260.4 469.3,264 471.2,261.5 473.2,272.2 475.1,272 477.1,284.2 479,270.5 481,286.2" fill="none" stroke="#8fb032" stroke-width="1.35" stroke-linejoin="round"/>
<polyline points="420.4,266.8 422.4,274.2 424.3,264.6 426.3,266.9 428.2,255.3 430.2,274.4 432.1,260.1 434.1,269.2 436,258.2 438,272 439.9,266.4 441.9,268.1 443.9,268.1 445.8,274.7 447.8,266.5 449.7,275.1 451.7,267.2 453.6,280 455.6,271.8 457.5,287.9 459.5,274.3 461.5,284.8 463.4,272.5 465.4,285.7 467.3,281.6 469.3,289.2 471.2,283.2 473.2,300.9 475.1,283 477.1,294.2 479,280.9 481,295.2 483,287.4 484.9,297.1 486.9,291.3 488.8,294.7 490.8,289.3 492.7,300.2 494.7,290.9 496.6,304.4 498.6,294.5 500.6,304.1 502.5,292.8 504.5,296.9 506.4,293.4 508.4,302 510.3,294.4 512.3,309.9 514.2,300.2 516.2,307 518.1,299.4 520.1,305.5 522.1,303.4 524,308.3 526,295.1 527.9,304.1 529.9,304.3 531.8,308.1 533.8,303.4 535.7,304.2 537.7,302.7 539.7,307.4 541.6,305.6 543.6,303 545.5,309 547.5,308.8 549.4,307.4 551.4,310.6 553.3,308.7 555.3,311.9 557.2,308.2 559.2,309.9 561.2,306.5 563.1,311.9 565.1,305.4 567,313.1 569,308.9 570.9,309 572.9,310.5 574.8,320.5 576.8,308.8 578.8,316.9 580.7,313.7 582.7,316.5 584.6,310.2 586.6,317.1 588.5,311.7 590.5,315 592.4,313.9 594.4,316.2 596.4,314.2 598.3,313.4 600.3,313 602.2,317.8 604.2,312.7 606.1,314.2 608.1,313.3 610,317.5 612,313.4 613.9,318.4 615.9,315.6" fill="none" stroke="#8778b3" stroke-width="1.35" stroke-linejoin="round"/></g>
<text x="0.8" y="162.6" textLength="15.8" lengthAdjust="spacingAndGlyphs" font-family="Liberation Serif" font-size="12" fill="#111" >(a)</text>
<text x="24.6" y="162.6" textLength="17.2" lengthAdjust="spacingAndGlyphs" font-family="Liberation Serif" font-size="12" fill="#111" >3D</text>
<text x="49.6" y="162.6" textLength="22" lengthAdjust="spacingAndGlyphs" font-family="Liberation Serif" font-size="12" fill="#111" >plot</text>
<text x="80" y="162.6" textLength="15.2" lengthAdjust="spacingAndGlyphs" font-family="Liberation Serif" font-size="12" fill="#111" >for</text>
<text x="103.5" y="162.6" textLength="6.5" lengthAdjust="spacingAndGlyphs" font-family="Liberation Serif" font-size="12" fill="#111" font-style="italic">w</text>
<text x="110.3" y="164.9" textLength="15.6" lengthAdjust="spacingAndGlyphs" font-family="Liberation Serif" font-size="8.6" fill="#111">8,1</text>
<text x="127.6" y="162.6" textLength="27.8" lengthAdjust="spacingAndGlyphs" font-family="Liberation Serif" font-size="12" fill="#111" >(<tspan font-style="italic">x</tspan>, <tspan font-style="italic">t</tspan>)</text>
<text x="164.6" y="162.6" textLength="29.7" lengthAdjust="spacingAndGlyphs" font-family="Liberation Serif" font-size="12" fill="#111" >when</text>
<text x="0.4" y="179" textLength="7.5" lengthAdjust="spacingAndGlyphs" font-family="Liberation Serif" font-size="12" fill="#111" font-style="italic">&#956;</text>
<text x="13" y="179" textLength="8.7" lengthAdjust="spacingAndGlyphs" font-family="Liberation Serif" font-size="12" fill="#111">=</text>
<text x="26.6" y="179" textLength="6.6" lengthAdjust="spacingAndGlyphs" font-family="Liberation Serif" font-size="12" fill="#111">0</text>
<text x="228.1" y="162.6" textLength="15.8" lengthAdjust="spacingAndGlyphs" font-family="Liberation Serif" font-size="12" fill="#111" >(b)</text>
<text x="251.9" y="162.6" textLength="17.2" lengthAdjust="spacingAndGlyphs" font-family="Liberation Serif" font-size="12" fill="#111" >3D</text>
<text x="276.9" y="162.6" textLength="22" lengthAdjust="spacingAndGlyphs" font-family="Liberation Serif" font-size="12" fill="#111" >plot</text>
<text x="307.3" y="162.6" textLength="15.2" lengthAdjust="spacingAndGlyphs" font-family="Liberation Serif" font-size="12" fill="#111" >for</text>
<text x="330.8" y="162.6" textLength="6.5" lengthAdjust="spacingAndGlyphs" font-family="Liberation Serif" font-size="12" fill="#111" font-style="italic">w</text>
<text x="337.6" y="164.9" textLength="15.6" lengthAdjust="spacingAndGlyphs" font-family="Liberation Serif" font-size="8.6" fill="#111">8,1</text>
<text x="354.9" y="162.6" textLength="27.8" lengthAdjust="spacingAndGlyphs" font-family="Liberation Serif" font-size="12" fill="#111" >(<tspan font-style="italic">x</tspan>, <tspan font-style="italic">t</tspan>)</text>
<text x="391.9" y="162.6" textLength="29.7" lengthAdjust="spacingAndGlyphs" font-family="Liberation Serif" font-size="12" fill="#111" >when</text>
<text x="227.7" y="179" textLength="7.5" lengthAdjust="spacingAndGlyphs" font-family="Liberation Serif" font-size="12" fill="#111" font-style="italic">&#956;</text>
<text x="240.3" y="179" textLength="8.7" lengthAdjust="spacingAndGlyphs" font-family="Liberation Serif" font-size="12" fill="#111">=</text>
<text x="253.9" y="179" textLength="16.5" lengthAdjust="spacingAndGlyphs" font-family="Liberation Serif" font-size="12" fill="#111">0.3</text>
<text x="455.6" y="162.6" textLength="15.8" lengthAdjust="spacingAndGlyphs" font-family="Liberation Serif" font-size="12" fill="#111" >(c)</text>
<text x="479.4" y="162.6" textLength="17.2" lengthAdjust="spacingAndGlyphs" font-family="Liberation Serif" font-size="12" fill="#111" >3D</text>
<text x="504.4" y="162.6" textLength="22" lengthAdjust="spacingAndGlyphs" font-family="Liberation Serif" font-size="12" fill="#111" >plot</text>
<text x="534.8" y="162.6" textLength="15.2" lengthAdjust="spacingAndGlyphs" font-family="Liberation Serif" font-size="12" fill="#111" >for</text>
<text x="558.3" y="162.6" textLength="6.5" lengthAdjust="spacingAndGlyphs" font-family="Liberation Serif" font-size="12" fill="#111" font-style="italic">w</text>
<text x="565.1" y="164.9" textLength="15.6" lengthAdjust="spacingAndGlyphs" font-family="Liberation Serif" font-size="8.6" fill="#111">8,1</text>
<text x="582.4" y="162.6" textLength="27.8" lengthAdjust="spacingAndGlyphs" font-family="Liberation Serif" font-size="12" fill="#111" >(<tspan font-style="italic">x</tspan>, <tspan font-style="italic">t</tspan>)</text>
<text x="619.4" y="162.6" textLength="29.7" lengthAdjust="spacingAndGlyphs" font-family="Liberation Serif" font-size="12" fill="#111" >when</text>
<text x="455.2" y="179" textLength="7.5" lengthAdjust="spacingAndGlyphs" font-family="Liberation Serif" font-size="12" fill="#111" font-style="italic">&#956;</text>
<text x="467.8" y="179" textLength="8.7" lengthAdjust="spacingAndGlyphs" font-family="Liberation Serif" font-size="12" fill="#111">=</text>
<text x="481.4" y="179" textLength="16.5" lengthAdjust="spacingAndGlyphs" font-family="Liberation Serif" font-size="12" fill="#111">0.5</text>
<text x="0.8" y="360.6" textLength="15.8" lengthAdjust="spacingAndGlyphs" font-family="Liberation Serif" font-size="12" fill="#111" >(d)</text>
<text x="25.2" y="360.6" textLength="16.6" lengthAdjust="spacingAndGlyphs" font-family="Liberation Serif" font-size="12" fill="#111" >2D</text>
<text x="49.6" y="360.6" textLength="22" lengthAdjust="spacingAndGlyphs" font-family="Liberation Serif" font-size="12" fill="#111" >plot</text>
<text x="80" y="360.6" textLength="15.2" lengthAdjust="spacingAndGlyphs" font-family="Liberation Serif" font-size="12" fill="#111" >for</text>
<text x="103.5" y="360.6" textLength="6.5" lengthAdjust="spacingAndGlyphs" font-family="Liberation Serif" font-size="12" fill="#111" font-style="italic">w</text>
<text x="110.3" y="362.9" textLength="15.6" lengthAdjust="spacingAndGlyphs" font-family="Liberation Serif" font-size="8.6" fill="#111">8,1</text>
<text x="127.6" y="360.6" textLength="27.8" lengthAdjust="spacingAndGlyphs" font-family="Liberation Serif" font-size="12" fill="#111" >(<tspan font-style="italic">x</tspan>, <tspan font-style="italic">t</tspan>)</text>
<text x="164.6" y="360.6" textLength="29.7" lengthAdjust="spacingAndGlyphs" font-family="Liberation Serif" font-size="12" fill="#111" >when</text>
<text x="0.4" y="377" textLength="7.5" lengthAdjust="spacingAndGlyphs" font-family="Liberation Serif" font-size="12" fill="#111" font-style="italic">&#956;</text>
<text x="13" y="377" textLength="8.7" lengthAdjust="spacingAndGlyphs" font-family="Liberation Serif" font-size="12" fill="#111">=</text>
<text x="26.6" y="377" textLength="6.6" lengthAdjust="spacingAndGlyphs" font-family="Liberation Serif" font-size="12" fill="#111">0</text>
<text x="201.2" y="360.6" textLength="15.8" lengthAdjust="spacingAndGlyphs" font-family="Liberation Serif" font-size="12" fill="#111" >(e)</text>
<text x="225.6" y="360.6" textLength="16.6" lengthAdjust="spacingAndGlyphs" font-family="Liberation Serif" font-size="12" fill="#111" >2D</text>
<text x="250" y="360.6" textLength="22" lengthAdjust="spacingAndGlyphs" font-family="Liberation Serif" font-size="12" fill="#111" >plot</text>
<text x="280.4" y="360.6" textLength="15.2" lengthAdjust="spacingAndGlyphs" font-family="Liberation Serif" font-size="12" fill="#111" >for</text>
<text x="303.9" y="360.6" textLength="6.5" lengthAdjust="spacingAndGlyphs" font-family="Liberation Serif" font-size="12" fill="#111" font-style="italic">w</text>
<text x="310.7" y="362.9" textLength="15.6" lengthAdjust="spacingAndGlyphs" font-family="Liberation Serif" font-size="8.6" fill="#111">8,1</text>
<text x="328" y="360.6" textLength="27.8" lengthAdjust="spacingAndGlyphs" font-family="Liberation Serif" font-size="12" fill="#111" >(<tspan font-style="italic">x</tspan>, <tspan font-style="italic">t</tspan>)</text>
<text x="365" y="360.6" textLength="29.7" lengthAdjust="spacingAndGlyphs" font-family="Liberation Serif" font-size="12" fill="#111" >when</text>
<text x="200.8" y="377" textLength="7.5" lengthAdjust="spacingAndGlyphs" font-family="Liberation Serif" font-size="12" fill="#111" font-style="italic">&#956;</text>
<text x="213.4" y="377" textLength="8.7" lengthAdjust="spacingAndGlyphs" font-family="Liberation Serif" font-size="12" fill="#111">=</text>
<text x="227" y="377" textLength="16.5" lengthAdjust="spacingAndGlyphs" font-family="Liberation Serif" font-size="12" fill="#111">0.3</text>
<text x="400.2" y="360.6" textLength="15.8" lengthAdjust="spacingAndGlyphs" font-family="Liberation Serif" font-size="12" fill="#111" >(f)</text>
<text x="424.6" y="360.6" textLength="16.6" lengthAdjust="spacingAndGlyphs" font-family="Liberation Serif" font-size="12" fill="#111" >2D</text>
<text x="449" y="360.6" textLength="22" lengthAdjust="spacingAndGlyphs" font-family="Liberation Serif" font-size="12" fill="#111" >plot</text>
<text x="479.4" y="360.6" textLength="15.2" lengthAdjust="spacingAndGlyphs" font-family="Liberation Serif" font-size="12" fill="#111" >for</text>
<text x="502.9" y="360.6" textLength="6.5" lengthAdjust="spacingAndGlyphs" font-family="Liberation Serif" font-size="12" fill="#111" font-style="italic">w</text>
<text x="509.7" y="362.9" textLength="15.6" lengthAdjust="spacingAndGlyphs" font-family="Liberation Serif" font-size="8.6" fill="#111">8,1</text>
<text x="527" y="360.6" textLength="27.8" lengthAdjust="spacingAndGlyphs" font-family="Liberation Serif" font-size="12" fill="#111" >(<tspan font-style="italic">x</tspan>, <tspan font-style="italic">t</tspan>)</text>
<text x="564" y="360.6" textLength="29.7" lengthAdjust="spacingAndGlyphs" font-family="Liberation Serif" font-size="12" fill="#111" >when</text>
<text x="399.8" y="377" textLength="7.5" lengthAdjust="spacingAndGlyphs" font-family="Liberation Serif" font-size="12" fill="#111" font-style="italic">&#956;</text>
<text x="412.4" y="377" textLength="8.7" lengthAdjust="spacingAndGlyphs" font-family="Liberation Serif" font-size="12" fill="#111">=</text>
<text x="426" y="377" textLength="16.5" lengthAdjust="spacingAndGlyphs" font-family="Liberation Serif" font-size="12" fill="#111">0.5</text></svg></body></html>
